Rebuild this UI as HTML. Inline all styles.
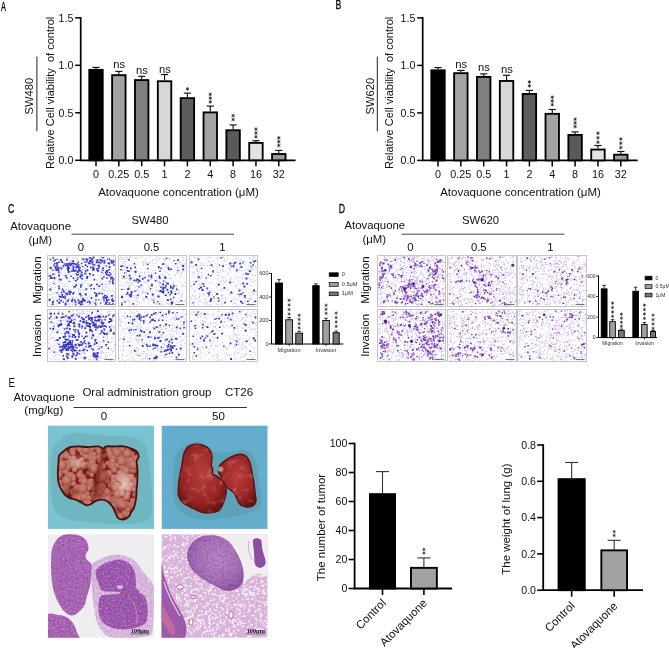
<!DOCTYPE html><html><head><meta charset="utf-8"><style>html,body{margin:0;padding:0;background:#fff;width:669px;height:648px;overflow:hidden}svg{display:block;font-family:"Liberation Sans",sans-serif;will-change:transform}</style></head><body><svg width="669" height="648" viewBox="0 0 669 648"><defs></defs><defs>
<filter id="soft" x="-5%" y="-5%" width="110%" height="110%"><feGaussianBlur stdDeviation="0.35"/></filter>
<filter id="mottle" x="0" y="0" width="1" height="1" color-interpolation-filters="sRGB">
<feTurbulence type="fractalNoise" baseFrequency="0.45" numOctaves="3" seed="11"/>
<feColorMatrix type="matrix" values="0 0 0 0 0.42 0 0 0 0 0.16 0 0 0 0 0.52 2.2 0 0 0 -0.95"/>
<feComposite in2="SourceGraphic" operator="in"/>
</filter>
<filter id="mottleL" x="0" y="0" width="1" height="1" color-interpolation-filters="sRGB">
<feTurbulence type="fractalNoise" baseFrequency="0.4" numOctaves="3" seed="17"/>
<feColorMatrix type="matrix" values="0 0 0 0 0.96 0 0 0 0 0.9 0 0 0 0 0.96 2.2 0 0 0 -1.0"/>
<feComposite in2="SourceGraphic" operator="in"/>
</filter>
<filter id="mottleP" x="0" y="0" width="1" height="1" color-interpolation-filters="sRGB">
<feTurbulence type="fractalNoise" baseFrequency="0.6" numOctaves="2" seed="23"/>
<feColorMatrix type="matrix" values="0 0 0 0 0.88 0 0 0 0 0.62 0 0 0 0 0.88 4 0 0 0 -2.3"/>
<feComposite in2="SourceGraphic" operator="in"/>
</filter>
<filter id="holes" x="0" y="0" width="1" height="1" color-interpolation-filters="sRGB">
<feTurbulence type="fractalNoise" baseFrequency="0.5" numOctaves="2" seed="31"/>
<feColorMatrix type="matrix" values="0 0 0 0 0.98 0 0 0 0 0.96 0 0 0 0 0.98 7 0 0 0 -3.6"/>
<feComposite in2="SourceGraphic" operator="in"/>
</filter>
<filter id="redtex" x="0" y="0" width="1" height="1" color-interpolation-filters="sRGB">
<feTurbulence type="fractalNoise" baseFrequency="0.15" numOctaves="2" seed="41"/>
<feColorMatrix type="matrix" values="0 0 0 0 0.88 0 0 0 0 0.5 0 0 0 0 0.47 3 0 0 0 -1.55"/>
<feComposite in2="SourceGraphic" operator="in"/>
</filter>
<filter id="blur1" x="-50%" y="-50%" width="200%" height="200%"><feGaussianBlur stdDeviation="0.7"/></filter>
<filter id="blur2" x="-60%" y="-60%" width="220%" height="220%"><feGaussianBlur stdDeviation="1.2"/></filter>
<radialGradient id="nod" cx="0.45" cy="0.4" r="0.6"><stop offset="0" stop-color="#eec2ae"/><stop offset="0.6" stop-color="#d89888"/><stop offset="1" stop-color="#b05a4c"/></radialGradient>
<radialGradient id="lg2" cx="0.5" cy="0.42" r="0.62"><stop offset="0" stop-color="#b83e3a"/><stop offset="0.7" stop-color="#952424"/><stop offset="1" stop-color="#641212"/></radialGradient>
<radialGradient id="tg" cx="0.55" cy="0.42" r="0.6"><stop offset="0" stop-color="#bc88c6"/><stop offset="0.65" stop-color="#a872b8"/><stop offset="1" stop-color="#9058a4"/></radialGradient>
<radialGradient id="glare"><stop offset="0" stop-color="#fbe2d6" stop-opacity="0.75"/><stop offset="1" stop-color="#fbe2d6" stop-opacity="0"/></radialGradient>
<clipPath id="cp1"><rect x="48" y="425.4" width="106.3" height="103.5"/></clipPath>
<clipPath id="cp2"><rect x="161.5" y="425.4" width="106.2" height="103.5"/></clipPath>
<clipPath id="cp3"><rect x="48" y="534.3" width="106" height="103.5"/></clipPath>
<clipPath id="cp4"><rect x="161.5" y="534.3" width="106.1" height="103.5"/></clipPath>

<clipPath id="cl1"><path d="M59.2 455.6C60.2 453.6 62.4 452.1 64.2 450.7C66 449.3 67.5 447.8 69.9 447.1C72.3 446.4 75.3 446.4 78.4 446.4C81.5 446.4 85.1 447.1 88.4 447.1C91.7 447.1 95.8 446.2 98.3 446.4C100.8 446.6 102 448.5 103.3 448.5C104.6 448.5 104.3 446.8 106.1 446.4C107.9 446 110.9 446.4 113.9 446.4C116.9 446.4 121.1 446 123.9 446.4C126.8 446.8 128.9 447.7 131 448.5C133.1 449.3 135.3 450.1 136.6 451.4C137.9 452.7 138.8 454.6 138.8 456.3C138.8 458 136.8 459.3 136.6 461.3C136.4 463.3 137.3 465.3 137.4 468.4C137.5 471.5 137.5 476.2 137.4 479.8C137.3 483.4 136.8 486.4 136.6 489.7C136.3 493 136.4 496.6 135.9 499.7C135.4 502.8 134.6 506.1 133.8 508.2C133 510.3 131.8 511 131 512.4C130.2 513.8 130 515.5 128.8 516.7C127.6 517.9 125.7 519.3 123.9 519.5C122.1 519.7 119.6 519.3 118.2 518.1C116.8 516.9 116.2 514.3 115.3 512.4C114.3 510.5 113.9 508.7 112.5 506.8C111.1 504.9 108.7 502.3 106.8 501.1C104.9 499.9 103 499.7 101.1 499.7C99.2 499.7 97.2 500.4 95.5 501.1C93.8 501.8 92.6 503.2 91.2 503.9C89.8 504.6 88.6 505.5 86.9 505.3C85.2 505.1 83.2 503.4 81.3 502.5C79.4 501.6 77.5 500.4 75.6 499.7C73.7 499 71.6 498.9 69.9 498.2C68.2 497.5 67 496.8 65.6 495.4C64.2 494 62.6 491.8 61.4 489.7C60.2 487.6 59.1 485.4 58.5 482.6C57.9 479.8 57.8 476 57.8 472.7C57.8 469.4 58.3 465.5 58.5 462.7C58.7 459.9 58.2 457.6 59.2 455.6Z"/></clipPath>
</defs>
<g clip-path="url(#cp1)">
<rect x="48" y="425.4" width="106.3" height="103.5" fill="#79c3d2"/>
<path d="M52 452C53.5 444.5 56.5 443.2 60 440C63.5 436.8 68 434 73 433C78 432 83.8 433.5 90 434C96.2 434.5 103.3 435.5 110 436C116.7 436.5 124.2 435.5 130 437C135.8 438.5 141.7 439.5 145 445C148.3 450.5 148.8 461.7 150 470C151.2 478.3 151.8 487.5 152 495C152.2 502.5 153 510.3 151 515C149 519.7 146 521.5 140 523C134 524.5 123.3 524.2 115 524C106.7 523.8 97.5 522.7 90 522C82.5 521.3 75.8 522 70 520C64.2 518 58.2 515.8 55 510C51.8 504.2 51.5 494.7 51 485C50.5 475.3 50.5 459.5 52 452Z" fill="#6aaeb6" opacity="0.6" filter="url(#blur1)"/>
<path d="M59.2 455.6C60.2 453.6 62.4 452.1 64.2 450.7C66 449.3 67.5 447.8 69.9 447.1C72.3 446.4 75.3 446.4 78.4 446.4C81.5 446.4 85.1 447.1 88.4 447.1C91.7 447.1 95.8 446.2 98.3 446.4C100.8 446.6 102 448.5 103.3 448.5C104.6 448.5 104.3 446.8 106.1 446.4C107.9 446 110.9 446.4 113.9 446.4C116.9 446.4 121.1 446 123.9 446.4C126.8 446.8 128.9 447.7 131 448.5C133.1 449.3 135.3 450.1 136.6 451.4C137.9 452.7 138.8 454.6 138.8 456.3C138.8 458 136.8 459.3 136.6 461.3C136.4 463.3 137.3 465.3 137.4 468.4C137.5 471.5 137.5 476.2 137.4 479.8C137.3 483.4 136.8 486.4 136.6 489.7C136.3 493 136.4 496.6 135.9 499.7C135.4 502.8 134.6 506.1 133.8 508.2C133 510.3 131.8 511 131 512.4C130.2 513.8 130 515.5 128.8 516.7C127.6 517.9 125.7 519.3 123.9 519.5C122.1 519.7 119.6 519.3 118.2 518.1C116.8 516.9 116.2 514.3 115.3 512.4C114.3 510.5 113.9 508.7 112.5 506.8C111.1 504.9 108.7 502.3 106.8 501.1C104.9 499.9 103 499.7 101.1 499.7C99.2 499.7 97.2 500.4 95.5 501.1C93.8 501.8 92.6 503.2 91.2 503.9C89.8 504.6 88.6 505.5 86.9 505.3C85.2 505.1 83.2 503.4 81.3 502.5C79.4 501.6 77.5 500.4 75.6 499.7C73.7 499 71.6 498.9 69.9 498.2C68.2 497.5 67 496.8 65.6 495.4C64.2 494 62.6 491.8 61.4 489.7C60.2 487.6 59.1 485.4 58.5 482.6C57.9 479.8 57.8 476 57.8 472.7C57.8 469.4 58.3 465.5 58.5 462.7C58.7 459.9 58.2 457.6 59.2 455.6Z" fill="#7e1c1a"/>
<g clip-path="url(#cl1)">
<g fill="url(#nod)" opacity="0.66" filter="url(#blur1)"><circle cx="54.2" cy="442.8" r="3.8"/><circle cx="59" cy="443.7" r="3.2"/><circle cx="66.6" cy="442.3" r="3"/><circle cx="70.1" cy="444.4" r="3.7"/><circle cx="74.3" cy="444.7" r="3.6"/><circle cx="77.8" cy="446.1" r="2.8"/><circle cx="86.5" cy="444.4" r="3.1"/><circle cx="87.5" cy="444.9" r="2.9"/><circle cx="95.1" cy="445.9" r="2.6"/><circle cx="98.3" cy="445.1" r="3.6"/><circle cx="105.5" cy="444.7" r="3.6"/><circle cx="108.5" cy="445.1" r="4"/><circle cx="115.1" cy="443.5" r="3.2"/><circle cx="119.3" cy="443.1" r="3.9"/><circle cx="123.5" cy="443.6" r="3.4"/><circle cx="126.6" cy="445.1" r="3.7"/><circle cx="134.7" cy="442.7" r="3.9"/><circle cx="139.6" cy="444.5" r="3.4"/><circle cx="57.3" cy="449.9" r="2.3"/><circle cx="59" cy="447.3" r="2.6"/><circle cx="64" cy="447.7" r="3.2"/><circle cx="72.4" cy="449.5" r="2.6"/><circle cx="76.1" cy="446.6" r="3.6"/><circle cx="80.4" cy="449.3" r="3.5"/><circle cx="85" cy="447.3" r="3.2"/><circle cx="89.5" cy="448.8" r="3.7"/><circle cx="92.3" cy="448.7" r="2.6"/><circle cx="98.7" cy="448.1" r="4"/><circle cx="103.3" cy="447.9" r="3.2"/><circle cx="109" cy="450.5" r="3.3"/><circle cx="115.6" cy="450.1" r="3.7"/><circle cx="119.8" cy="447.5" r="3.2"/><circle cx="122.2" cy="448.9" r="2.8"/><circle cx="128.4" cy="446.9" r="3.1"/><circle cx="133.7" cy="446.8" r="2.5"/><circle cx="137.2" cy="449.3" r="2.9"/><circle cx="57.9" cy="452.1" r="2.5"/><circle cx="60.1" cy="452" r="3.3"/><circle cx="64" cy="452.8" r="3.5"/><circle cx="72.6" cy="451.6" r="3.3"/><circle cx="73.2" cy="453.6" r="2.5"/><circle cx="81.9" cy="453.4" r="2.2"/><circle cx="84.4" cy="454.7" r="2.7"/><circle cx="89.2" cy="452.2" r="3.6"/><circle cx="93.8" cy="454.4" r="3.2"/><circle cx="99.3" cy="451.7" r="3.1"/><circle cx="104.3" cy="455.2" r="2.2"/><circle cx="110" cy="454" r="3.3"/><circle cx="115.3" cy="454" r="3.3"/><circle cx="119.1" cy="452.4" r="3.5"/><circle cx="124.5" cy="453.1" r="2.3"/><circle cx="129.6" cy="453.8" r="3.5"/><circle cx="132.2" cy="454.2" r="2.4"/><circle cx="139.3" cy="455.2" r="2.5"/><circle cx="57.7" cy="457.4" r="2.7"/><circle cx="61.5" cy="456.3" r="3.2"/><circle cx="66.6" cy="455.7" r="3.8"/><circle cx="70.1" cy="458.1" r="2.8"/><circle cx="73.9" cy="458" r="2.5"/><circle cx="81.8" cy="459.5" r="2.5"/><circle cx="86.5" cy="456.5" r="3"/><circle cx="90.6" cy="457.6" r="3.5"/><circle cx="93.8" cy="458.5" r="3.4"/><circle cx="99.3" cy="457.1" r="3.1"/><circle cx="102.6" cy="456.3" r="2.2"/><circle cx="111" cy="456.6" r="2.7"/><circle cx="114" cy="457.7" r="3.8"/><circle cx="120.1" cy="457.6" r="3.8"/><circle cx="125" cy="457.8" r="3.4"/><circle cx="126.6" cy="457.8" r="4.1"/><circle cx="130.7" cy="458.5" r="2.9"/><circle cx="136" cy="459.1" r="4.1"/><circle cx="55.5" cy="462.4" r="3.9"/><circle cx="58.9" cy="461.1" r="3.9"/><circle cx="66.3" cy="463.6" r="3.5"/><circle cx="70.6" cy="461.2" r="2.6"/><circle cx="73" cy="463.2" r="4"/><circle cx="78" cy="462" r="2.9"/><circle cx="84.5" cy="464.3" r="2.4"/><circle cx="87.6" cy="464.3" r="2.9"/><circle cx="92.2" cy="462.2" r="3.6"/><circle cx="100.5" cy="460.9" r="3"/><circle cx="101.9" cy="463.9" r="3"/><circle cx="107.6" cy="463.1" r="2.3"/><circle cx="112.7" cy="461.3" r="3.7"/><circle cx="120.2" cy="463.3" r="2.8"/><circle cx="121.5" cy="461.3" r="3.4"/><circle cx="127.1" cy="461.7" r="3.8"/><circle cx="131" cy="460.5" r="3.7"/><circle cx="137.3" cy="463" r="3.7"/><circle cx="58" cy="469" r="3"/><circle cx="59.8" cy="467.4" r="2.6"/><circle cx="67.4" cy="467" r="3.9"/><circle cx="72.1" cy="465.3" r="2.6"/><circle cx="74.3" cy="465.3" r="2.4"/><circle cx="77.9" cy="465" r="4.1"/><circle cx="84.2" cy="465.6" r="3.9"/><circle cx="90.3" cy="467.1" r="3.3"/><circle cx="94.5" cy="465.2" r="2.3"/><circle cx="100.2" cy="467.6" r="3.7"/><circle cx="103.4" cy="466" r="2.9"/><circle cx="110.3" cy="465.5" r="2.6"/><circle cx="113.2" cy="466.3" r="4.1"/><circle cx="117.2" cy="465.5" r="3.2"/><circle cx="122.5" cy="467.4" r="3.6"/><circle cx="126.9" cy="467.6" r="2.3"/><circle cx="130.8" cy="465.3" r="3.8"/><circle cx="54.6" cy="473.2" r="2.9"/><circle cx="59.8" cy="472.7" r="3.6"/><circle cx="65.6" cy="471.1" r="3.3"/><circle cx="74.7" cy="469.6" r="2.9"/><circle cx="80.8" cy="471.9" r="2.4"/><circle cx="88.2" cy="472.9" r="2.3"/><circle cx="98.2" cy="472.5" r="2.9"/><circle cx="109" cy="473.4" r="3.6"/><circle cx="114.3" cy="469.9" r="3.2"/><circle cx="120.1" cy="473.2" r="3.7"/><circle cx="124.5" cy="473.7" r="2.9"/><circle cx="126.5" cy="469.9" r="3.6"/><circle cx="133.2" cy="469.9" r="3.5"/><circle cx="139.5" cy="471.1" r="3"/><circle cx="56.9" cy="477.5" r="2.4"/><circle cx="58.8" cy="475" r="3.7"/><circle cx="67.7" cy="474.3" r="3"/><circle cx="70.4" cy="475.5" r="3.8"/><circle cx="73.6" cy="476.3" r="2.5"/><circle cx="80.1" cy="475.1" r="3.8"/><circle cx="83.4" cy="476.8" r="2.7"/><circle cx="91.8" cy="474.8" r="2.5"/><circle cx="101.3" cy="476.3" r="4.1"/><circle cx="105" cy="474.1" r="3.5"/><circle cx="106.6" cy="477.7" r="2.8"/><circle cx="113.7" cy="477.5" r="3.5"/><circle cx="118.3" cy="477.8" r="3.8"/><circle cx="123.2" cy="475.9" r="3.5"/><circle cx="127.7" cy="476.8" r="2.8"/><circle cx="131.1" cy="477.5" r="4"/><circle cx="138.5" cy="476.7" r="2.3"/><circle cx="55.9" cy="481.6" r="2.4"/><circle cx="59.2" cy="482.8" r="3.6"/><circle cx="66.3" cy="479.6" r="3.2"/><circle cx="69.4" cy="479.9" r="2.5"/><circle cx="73.3" cy="478.7" r="2.9"/><circle cx="81" cy="480.5" r="2.6"/><circle cx="84.4" cy="481.5" r="3.9"/><circle cx="91.1" cy="482.2" r="3.9"/><circle cx="99.1" cy="479.3" r="3.2"/><circle cx="101.8" cy="480.5" r="3.1"/><circle cx="107.1" cy="480.8" r="2.8"/><circle cx="113.2" cy="481.5" r="2.8"/><circle cx="119.7" cy="478.7" r="2.6"/><circle cx="123.6" cy="480.7" r="3.3"/><circle cx="127.1" cy="479.3" r="3.7"/><circle cx="137" cy="481.5" r="4.1"/><circle cx="54.4" cy="485.8" r="2.2"/><circle cx="60" cy="483.6" r="2.5"/><circle cx="67.4" cy="484" r="4.2"/><circle cx="69.6" cy="483.4" r="2.5"/><circle cx="73.9" cy="484" r="2.7"/><circle cx="78" cy="487.3" r="3.1"/><circle cx="84.9" cy="487.4" r="2.6"/><circle cx="89.6" cy="485.4" r="2.9"/><circle cx="92.6" cy="485.4" r="3.9"/><circle cx="98.8" cy="487.5" r="4.1"/><circle cx="102.3" cy="486.9" r="4.1"/><circle cx="110.8" cy="485.3" r="3.2"/><circle cx="113" cy="487.3" r="2.4"/><circle cx="116.3" cy="485.4" r="3.4"/><circle cx="124.9" cy="486.2" r="3.5"/><circle cx="128" cy="483.5" r="2.4"/><circle cx="131.5" cy="485" r="3.5"/><circle cx="136.5" cy="484.4" r="2.5"/><circle cx="57" cy="488.4" r="2.7"/><circle cx="61.3" cy="489.1" r="3.9"/><circle cx="66.2" cy="490.6" r="4.1"/><circle cx="72.3" cy="490.4" r="2.2"/><circle cx="76.3" cy="489.3" r="3.5"/><circle cx="80.6" cy="489.5" r="4.1"/><circle cx="84.2" cy="491.2" r="3"/><circle cx="88.9" cy="488.2" r="2.8"/><circle cx="95.6" cy="489.2" r="3.5"/><circle cx="100.5" cy="488" r="2.5"/><circle cx="103" cy="491.2" r="3.5"/><circle cx="106.9" cy="491.9" r="4"/><circle cx="114.5" cy="487.8" r="3.9"/><circle cx="119.5" cy="491.3" r="2.3"/><circle cx="121.5" cy="488.5" r="3.1"/><circle cx="128.7" cy="488.6" r="3.4"/><circle cx="134.8" cy="489.6" r="2.8"/><circle cx="138.3" cy="491.9" r="3.4"/><circle cx="55.1" cy="495.6" r="3.5"/><circle cx="59.9" cy="493.1" r="3.2"/><circle cx="64.1" cy="494.7" r="3.5"/><circle cx="71.9" cy="492.8" r="2.3"/><circle cx="75.5" cy="495.7" r="4.1"/><circle cx="81.4" cy="495.3" r="3.2"/><circle cx="87" cy="493.9" r="3"/><circle cx="93.9" cy="494.3" r="3.3"/><circle cx="99.7" cy="492.5" r="2.9"/><circle cx="103.6" cy="496" r="3.3"/><circle cx="109.6" cy="496.7" r="2.2"/><circle cx="111.8" cy="493.3" r="2.2"/><circle cx="116.9" cy="494.5" r="4"/><circle cx="122.1" cy="493.7" r="3"/><circle cx="127.9" cy="494.2" r="2.4"/><circle cx="134.9" cy="494.9" r="2.4"/><circle cx="137" cy="494.1" r="2.7"/><circle cx="56.8" cy="498.3" r="2.9"/><circle cx="67.1" cy="500.7" r="2.6"/><circle cx="72.1" cy="500.2" r="2.4"/><circle cx="76.3" cy="499.4" r="2.3"/><circle cx="79.6" cy="498" r="2.9"/><circle cx="84.2" cy="497.1" r="4.2"/><circle cx="88.9" cy="498.3" r="3.1"/><circle cx="96.1" cy="497.8" r="4.2"/><circle cx="101.3" cy="498.5" r="2.4"/><circle cx="102.5" cy="500.3" r="4"/><circle cx="108" cy="499.5" r="3.9"/><circle cx="113.5" cy="499.5" r="3.8"/><circle cx="120.3" cy="500.8" r="2.7"/><circle cx="124.2" cy="499.8" r="2.3"/><circle cx="126.8" cy="497.5" r="3.2"/><circle cx="133.1" cy="501" r="3.2"/><circle cx="136" cy="501.2" r="3.5"/><circle cx="57.9" cy="502" r="3.4"/><circle cx="61.9" cy="501.8" r="3.5"/><circle cx="69.7" cy="501.7" r="2.8"/><circle cx="75.7" cy="504.6" r="3.6"/><circle cx="81.1" cy="504.5" r="3.3"/><circle cx="86.9" cy="503.7" r="4.1"/><circle cx="89.1" cy="503.7" r="3.5"/><circle cx="96.3" cy="503.3" r="3.4"/><circle cx="100.7" cy="504.6" r="3.6"/><circle cx="104.4" cy="503.5" r="4"/><circle cx="107.2" cy="503" r="2.7"/><circle cx="113.7" cy="505.5" r="3.3"/><circle cx="120" cy="505.5" r="2.4"/><circle cx="123.5" cy="502.4" r="2.9"/><circle cx="126.6" cy="504.3" r="3.3"/><circle cx="131.4" cy="505.2" r="3.3"/><circle cx="138.2" cy="503" r="3.7"/><circle cx="57.9" cy="508.2" r="2.6"/><circle cx="60.3" cy="510.4" r="2.8"/><circle cx="63.5" cy="506.8" r="2.8"/><circle cx="70.8" cy="508" r="3"/><circle cx="74" cy="509.7" r="2.9"/><circle cx="81.4" cy="508.1" r="2.6"/><circle cx="83.7" cy="506.6" r="3.1"/><circle cx="89.1" cy="510.4" r="4.1"/><circle cx="97.1" cy="506.5" r="2.8"/><circle cx="101.9" cy="507.9" r="3.4"/><circle cx="109.1" cy="507.3" r="2.4"/><circle cx="114.9" cy="509.9" r="3.4"/><circle cx="116.5" cy="506.4" r="2.7"/><circle cx="121.7" cy="508.9" r="2.8"/><circle cx="128.1" cy="509.6" r="2.7"/><circle cx="134.5" cy="506.3" r="4.1"/><circle cx="139.8" cy="507.5" r="3.2"/><circle cx="56.4" cy="513.5" r="3.9"/><circle cx="61.8" cy="512.8" r="4"/><circle cx="65.4" cy="512.4" r="4"/><circle cx="71.6" cy="514.8" r="4.1"/><circle cx="74.6" cy="511.1" r="3.1"/><circle cx="81" cy="513.5" r="4.1"/><circle cx="83.7" cy="512.4" r="3.2"/><circle cx="91.5" cy="513.6" r="2.9"/><circle cx="94.7" cy="511.2" r="3.1"/><circle cx="101" cy="513.3" r="3.3"/><circle cx="104.4" cy="512.8" r="3.5"/><circle cx="109.9" cy="511.4" r="2.5"/><circle cx="115.7" cy="513.4" r="3.9"/><circle cx="117.3" cy="515.1" r="4"/><circle cx="124.6" cy="513.6" r="3.8"/><circle cx="128.8" cy="514.9" r="3.1"/><circle cx="134.8" cy="511" r="2.7"/><circle cx="137.9" cy="512.8" r="4.1"/><circle cx="55.1" cy="515.7" r="2.6"/><circle cx="58.8" cy="519.5" r="3.7"/><circle cx="66.9" cy="515.9" r="3.2"/><circle cx="69" cy="517.7" r="4"/><circle cx="73.9" cy="517.5" r="4.1"/><circle cx="81.6" cy="517.8" r="3.1"/><circle cx="83.5" cy="517.7" r="2.3"/><circle cx="91.8" cy="515.7" r="2.4"/><circle cx="96.3" cy="517.8" r="4.1"/><circle cx="101.4" cy="516.3" r="3.7"/><circle cx="105.5" cy="515.6" r="2.8"/><circle cx="110" cy="517.5" r="3"/><circle cx="112.3" cy="516.2" r="2.3"/><circle cx="120.2" cy="516" r="3.7"/><circle cx="130" cy="516" r="2.5"/><circle cx="132.8" cy="518.9" r="3.5"/><circle cx="137.4" cy="519.7" r="2.8"/><circle cx="127.4" cy="453.7" r="4.6"/><circle cx="135.6" cy="505.7" r="4.2"/><circle cx="66.6" cy="480.3" r="5"/><circle cx="121.7" cy="461.3" r="4.6"/><circle cx="94.4" cy="468.4" r="5"/><circle cx="101" cy="475.8" r="5.2"/><circle cx="82.7" cy="488.4" r="5.2"/><circle cx="85.8" cy="450.1" r="4"/><circle cx="120" cy="502.5" r="5.1"/><circle cx="61.8" cy="465.2" r="5.4"/><circle cx="102.5" cy="476.8" r="5.5"/><circle cx="133.6" cy="464.8" r="5.1"/><circle cx="122.1" cy="505.1" r="5.4"/><circle cx="117.1" cy="452.6" r="4.5"/></g>
<ellipse cx="124" cy="484" rx="12" ry="16" fill="url(#glare)"/>
<ellipse cx="100" cy="485" rx="6" ry="14" fill="#6a1010" opacity="0.35" filter="url(#blur2)"/>
<ellipse cx="70" cy="492" rx="8" ry="5" fill="#6a1010" opacity="0.35" filter="url(#blur2)"/>
<ellipse cx="118" cy="510" rx="6" ry="4" fill="#6a1010" opacity="0.35" filter="url(#blur2)"/>
<ellipse cx="86" cy="470" rx="4" ry="6" fill="#6a1010" opacity="0.35" filter="url(#blur2)"/>
<ellipse cx="78" cy="462" rx="12" ry="9" fill="url(#glare)" opacity="0.6"/>
<path d="M104 447 C103 458 100 468 97 476 C95 484 94 492 95 500" stroke="#6a1410" stroke-width="4.5" fill="none" opacity="0.6" filter="url(#blur2)"/>
<path d="M104 470 C108 480 112 488 113 500" stroke="#7a2018" stroke-width="2.5" fill="none" opacity="0.45" filter="url(#blur2)"/>
</g>
<path d="M59.2 455.6C60.2 453.6 62.4 452.1 64.2 450.7C66 449.3 67.5 447.8 69.9 447.1C72.3 446.4 75.3 446.4 78.4 446.4C81.5 446.4 85.1 447.1 88.4 447.1C91.7 447.1 95.8 446.2 98.3 446.4C100.8 446.6 102 448.5 103.3 448.5C104.6 448.5 104.3 446.8 106.1 446.4C107.9 446 110.9 446.4 113.9 446.4C116.9 446.4 121.1 446 123.9 446.4C126.8 446.8 128.9 447.7 131 448.5C133.1 449.3 135.3 450.1 136.6 451.4C137.9 452.7 138.8 454.6 138.8 456.3C138.8 458 136.8 459.3 136.6 461.3C136.4 463.3 137.3 465.3 137.4 468.4C137.5 471.5 137.5 476.2 137.4 479.8C137.3 483.4 136.8 486.4 136.6 489.7C136.3 493 136.4 496.6 135.9 499.7C135.4 502.8 134.6 506.1 133.8 508.2C133 510.3 131.8 511 131 512.4C130.2 513.8 130 515.5 128.8 516.7C127.6 517.9 125.7 519.3 123.9 519.5C122.1 519.7 119.6 519.3 118.2 518.1C116.8 516.9 116.2 514.3 115.3 512.4C114.3 510.5 113.9 508.7 112.5 506.8C111.1 504.9 108.7 502.3 106.8 501.1C104.9 499.9 103 499.7 101.1 499.7C99.2 499.7 97.2 500.4 95.5 501.1C93.8 501.8 92.6 503.2 91.2 503.9C89.8 504.6 88.6 505.5 86.9 505.3C85.2 505.1 83.2 503.4 81.3 502.5C79.4 501.6 77.5 500.4 75.6 499.7C73.7 499 71.6 498.9 69.9 498.2C68.2 497.5 67 496.8 65.6 495.4C64.2 494 62.6 491.8 61.4 489.7C60.2 487.6 59.1 485.4 58.5 482.6C57.9 479.8 57.8 476 57.8 472.7C57.8 469.4 58.3 465.5 58.5 462.7C58.7 459.9 58.2 457.6 59.2 455.6Z" fill="none" stroke="#4a0c0c" stroke-width="1.8"/>
</g>
<g clip-path="url(#cp2)">
<rect x="161.5" y="425.4" width="106.2" height="103.5" fill="#64adcc"/>
<path d="M176 455C178 450 181 447.2 185 445C189 442.8 195 440.8 200 442C205 443.2 210 450.3 215 452C220 453.7 225 452.3 230 452C235 451.7 240.8 449 245 450C249.2 451 252.7 453 255 458C257.3 463 258 472.2 259 480C260 487.8 262.5 499.5 261 505C259.5 510.5 255.2 511 250 513C244.8 515 237.5 515.8 230 517C222.5 518.2 212.5 520.3 205 520C197.5 519.7 190.2 518.3 185 515C179.8 511.7 176 506.7 174 500C172 493.3 172.7 482.5 173 475C173.3 467.5 174 460 176 455Z" fill="#5d9cac" opacity="0.65" filter="url(#blur1)"/>
<path d="M219.7 465.6C220.6 463.9 222.1 462.7 224 461.3C225.9 459.9 228.5 458.2 231.1 457C233.7 455.8 237.2 454.4 239.6 454.2C242 454 243.7 454.4 245.3 455.6C247 456.8 248.4 458.7 249.5 461.3C250.6 463.9 251 467.8 251.7 471.3C252.4 474.9 253.2 478.8 253.8 482.6C254.4 486.4 254.8 490.9 255.2 494C255.5 497.1 256.4 499.1 255.9 501.1C255.4 503.1 254.2 505.2 252.4 506.1C250.6 507.1 247.4 507.2 245.3 506.8C243.2 506.4 241 505.3 239.6 503.9C238.2 502.5 237.8 500.1 236.8 498.2C235.9 496.3 235.3 494.2 233.9 492.6C232.5 491 229.8 489.7 228.2 488.3C226.5 486.9 225.2 485.9 224 484C222.8 482.1 222 479 221.1 476.9C220.2 474.8 218.5 473.2 218.3 471.3C218.1 469.4 218.8 467.3 219.7 465.6Z" fill="url(#lg2)" stroke="#5e1214" stroke-width="1.5"/>
<path d="M219.7 465.6C220.6 463.9 222.1 462.7 224 461.3C225.9 459.9 228.5 458.2 231.1 457C233.7 455.8 237.2 454.4 239.6 454.2C242 454 243.7 454.4 245.3 455.6C247 456.8 248.4 458.7 249.5 461.3C250.6 463.9 251 467.8 251.7 471.3C252.4 474.9 253.2 478.8 253.8 482.6C254.4 486.4 254.8 490.9 255.2 494C255.5 497.1 256.4 499.1 255.9 501.1C255.4 503.1 254.2 505.2 252.4 506.1C250.6 507.1 247.4 507.2 245.3 506.8C243.2 506.4 241 505.3 239.6 503.9C238.2 502.5 237.8 500.1 236.8 498.2C235.9 496.3 235.3 494.2 233.9 492.6C232.5 491 229.8 489.7 228.2 488.3C226.5 486.9 225.2 485.9 224 484C222.8 482.1 222 479 221.1 476.9C220.2 474.8 218.5 473.2 218.3 471.3C218.1 469.4 218.8 467.3 219.7 465.6Z" fill="#fff" filter="url(#redtex)" opacity="0.5"/>
<path d="M188.5 446.4C190.4 445 193 444.4 195.6 444.3C198.2 444.2 201.7 444.8 204.1 445.7C206.5 446.6 208.5 448 209.8 449.9C211.1 451.8 211.7 454.4 211.9 457C212.1 459.6 211.1 463.7 211.2 465.6C211.3 467.5 212.4 467 212.6 468.4C212.8 469.8 212.1 472.9 212.6 474.1C213.1 475.3 214.1 474.6 215.5 475.5C216.9 476.4 219.4 478.1 221.1 479.8C222.8 481.5 224.6 483.4 225.4 485.5C226.2 487.6 226.3 490 226.1 492.6C225.9 495.2 225.1 498.3 224 501.1C222.9 503.9 221.6 507.7 219.7 509.6C217.8 511.5 215.4 511.9 212.6 512.4C209.8 512.9 206 513.1 202.7 512.4C199.4 511.7 196 509.8 192.7 508.2C189.4 506.6 185.2 504.6 182.8 502.5C180.4 500.4 179.2 498.2 178.5 495.4C177.8 492.6 178.3 488.8 178.5 485.5C178.7 482.2 179.3 479.1 179.9 475.5C180.5 471.9 181.4 467.9 182.1 464.1C182.8 460.3 183.1 455.8 184.2 452.8C185.3 449.9 186.6 447.8 188.5 446.4Z" fill="url(#lg2)" stroke="#5e1214" stroke-width="1.5"/>
<path d="M188.5 446.4C190.4 445 193 444.4 195.6 444.3C198.2 444.2 201.7 444.8 204.1 445.7C206.5 446.6 208.5 448 209.8 449.9C211.1 451.8 211.7 454.4 211.9 457C212.1 459.6 211.1 463.7 211.2 465.6C211.3 467.5 212.4 467 212.6 468.4C212.8 469.8 212.1 472.9 212.6 474.1C213.1 475.3 214.1 474.6 215.5 475.5C216.9 476.4 219.4 478.1 221.1 479.8C222.8 481.5 224.6 483.4 225.4 485.5C226.2 487.6 226.3 490 226.1 492.6C225.9 495.2 225.1 498.3 224 501.1C222.9 503.9 221.6 507.7 219.7 509.6C217.8 511.5 215.4 511.9 212.6 512.4C209.8 512.9 206 513.1 202.7 512.4C199.4 511.7 196 509.8 192.7 508.2C189.4 506.6 185.2 504.6 182.8 502.5C180.4 500.4 179.2 498.2 178.5 495.4C177.8 492.6 178.3 488.8 178.5 485.5C178.7 482.2 179.3 479.1 179.9 475.5C180.5 471.9 181.4 467.9 182.1 464.1C182.8 460.3 183.1 455.8 184.2 452.8C185.3 449.9 186.6 447.8 188.5 446.4Z" fill="#fff" filter="url(#redtex)" opacity="0.5"/>
<ellipse cx="220.5" cy="469" rx="3" ry="2.6" fill="#b89088"/>
</g>
<g clip-path="url(#cp3)">
<rect x="48" y="534.3" width="106" height="103.5" fill="#eeedef"/>
<path d="M52 549.5C53 545.1 55 542 56.9 539.6C58.8 537.2 60.8 535.9 63.5 535C66.2 534.1 70.2 533.9 73.4 534.3C76.6 534.6 80.2 535.7 82.5 537.1C84.8 538.5 86.5 540.8 87.5 542.9C88.5 545 88.6 547.6 88.3 549.5C88 551.4 86.1 552.9 85.8 554.5C85.5 556.1 85.6 557.8 86.6 559.4C87.6 561 90.8 561.9 91.6 564.4C92.4 566.9 91.9 570.7 91.6 574.3C91.3 577.9 90.7 581.9 89.9 585.8C89.1 589.6 87.5 594.1 86.6 597.4C85.6 600.7 85.6 603.2 84.2 605.7C82.8 608.2 80.5 610.6 78.4 612.3C76.3 613.9 74 615.6 71.8 615.6C69.6 615.6 67.1 613.9 65.2 612.3C63.3 610.6 61.9 608.5 60.2 605.7C58.6 602.9 56.7 599.6 55.3 595.7C53.9 591.8 52.7 587.5 52 582.5C51.3 577.5 51.1 571.5 51.1 566C51.1 560.5 51 553.9 52 549.5Z" fill="#aa68b4"/>
<path d="M47 615.6C48.6 611.4 53.6 614.4 56.9 614.7C60.2 615 64 615.7 66.8 617.2C69.5 618.7 71.8 621.3 73.4 623.8C75.1 626.3 76 629.4 76.7 632.1C77.4 634.8 82.5 638.7 77.5 640C72.5 641.3 52.1 644.1 47 640C41.9 635.9 45.4 619.8 47 615.6Z" fill="#aa68b4"/>
<path d="M91.6 566C92.4 562.4 94.3 562.6 96.5 561.1C98.7 559.6 101.5 558 104.8 556.9C108.1 555.8 112.6 554.5 116.4 554.5C120.2 554.5 124.6 555.7 127.9 556.9C131.2 558.1 133.7 559.5 136.2 561.9C138.7 564.2 140.6 568.1 142.8 571C145 573.9 147.6 576.7 149.4 579.2C151.2 581.7 152.7 582.5 153.5 585.8C154.3 589.1 154.3 594 154.3 599C154.3 604 153.8 610.9 153.5 615.6C153.2 620.3 153.4 623.8 152.7 627.1C152 630.4 153.8 633.5 149.4 635.4C145 637.3 132.9 638.4 126.3 638.7C119.7 639 113.8 638.4 109.7 637C105.6 635.6 103.7 633.1 101.5 630.4C99.3 627.6 97.7 624.1 96.5 620.5C95.3 616.9 94.8 613.1 94.1 609C93.4 604.9 92.8 600.1 92.4 595.7C92 591.3 91.7 587.5 91.6 582.5C91.5 577.5 90.8 569.6 91.6 566Z" fill="#d2b0d8"/>
<path d="M91.6 566C92.4 562.4 94.3 562.6 96.5 561.1C98.7 559.6 101.5 558 104.8 556.9C108.1 555.8 112.6 554.5 116.4 554.5C120.2 554.5 124.6 555.7 127.9 556.9C131.2 558.1 133.7 559.5 136.2 561.9C138.7 564.2 140.6 568.1 142.8 571C145 573.9 147.6 576.7 149.4 579.2C151.2 581.7 152.7 582.5 153.5 585.8C154.3 589.1 154.3 594 154.3 599C154.3 604 153.8 610.9 153.5 615.6C153.2 620.3 153.4 623.8 152.7 627.1C152 630.4 153.8 633.5 149.4 635.4C145 637.3 132.9 638.4 126.3 638.7C119.7 639 113.8 638.4 109.7 637C105.6 635.6 103.7 633.1 101.5 630.4C99.3 627.6 97.7 624.1 96.5 620.5C95.3 616.9 94.8 613.1 94.1 609C93.4 604.9 92.8 600.1 92.4 595.7C92 591.3 91.7 587.5 91.6 582.5C91.5 577.5 90.8 569.6 91.6 566Z" fill="#fff" filter="url(#mottleL)" opacity="0.8"/>
<path d="M96.5 569.3C98 567.2 101.2 565.1 104.8 563.5C108.4 561.9 114.2 559.6 118 559.4C121.8 559.2 125.2 560.7 127.9 562.5C130.6 564.3 132.7 566.8 134 570C135.3 573.2 136 578.7 136 582C136 585.3 136 588.3 134 590C132 591.7 127.7 591.8 124 592C120.3 592.2 115.7 591.8 112 591.5C108.3 591.2 104.2 591.9 102 590.5C99.8 589.1 99.5 585.4 98.5 583C97.5 580.6 96.3 578.2 96 575.9C95.7 573.6 95 571.4 96.5 569.3Z" fill="#9e5aae"/>
<path d="M100.5 596.5C102.4 594.4 106.8 595 110 594.5C113.2 594 117.3 594.4 120 593.5C122.7 592.6 122.3 588.9 126 589C129.7 589.1 138.6 592 142 594C145.4 596 145.6 598.2 146.5 601C147.4 603.8 147.8 607.1 147.7 610.6C147.6 614.1 148 619.4 146.1 622.2C144.2 625 140.3 626.3 136.2 627.5C132.1 628.7 126 629.5 121.3 629.3C116.6 629 111.6 627.7 108.1 626C104.6 624.3 102.1 622.2 100.5 619C98.9 615.8 98.5 610.8 98.5 607C98.5 603.2 98.6 598.6 100.5 596.5Z" fill="#9e5aae"/>
<path d="M120 590 L134 586 L140 592 L132 598 L120 596Z" fill="#9e5aae"/>
<path d="M52 549.5C53 545.1 55 542 56.9 539.6C58.8 537.2 60.8 535.9 63.5 535C66.2 534.1 70.2 533.9 73.4 534.3C76.6 534.6 80.2 535.7 82.5 537.1C84.8 538.5 86.5 540.8 87.5 542.9C88.5 545 88.6 547.6 88.3 549.5C88 551.4 86.1 552.9 85.8 554.5C85.5 556.1 85.6 557.8 86.6 559.4C87.6 561 90.8 561.9 91.6 564.4C92.4 566.9 91.9 570.7 91.6 574.3C91.3 577.9 90.7 581.9 89.9 585.8C89.1 589.6 87.5 594.1 86.6 597.4C85.6 600.7 85.6 603.2 84.2 605.7C82.8 608.2 80.5 610.6 78.4 612.3C76.3 613.9 74 615.6 71.8 615.6C69.6 615.6 67.1 613.9 65.2 612.3C63.3 610.6 61.9 608.5 60.2 605.7C58.6 602.9 56.7 599.6 55.3 595.7C53.9 591.8 52.7 587.5 52 582.5C51.3 577.5 51.1 571.5 51.1 566C51.1 560.5 51 553.9 52 549.5Z" fill="#fff" filter="url(#mottle)" opacity="0.5"/>
<path d="M52 549.5C53 545.1 55 542 56.9 539.6C58.8 537.2 60.8 535.9 63.5 535C66.2 534.1 70.2 533.9 73.4 534.3C76.6 534.6 80.2 535.7 82.5 537.1C84.8 538.5 86.5 540.8 87.5 542.9C88.5 545 88.6 547.6 88.3 549.5C88 551.4 86.1 552.9 85.8 554.5C85.5 556.1 85.6 557.8 86.6 559.4C87.6 561 90.8 561.9 91.6 564.4C92.4 566.9 91.9 570.7 91.6 574.3C91.3 577.9 90.7 581.9 89.9 585.8C89.1 589.6 87.5 594.1 86.6 597.4C85.6 600.7 85.6 603.2 84.2 605.7C82.8 608.2 80.5 610.6 78.4 612.3C76.3 613.9 74 615.6 71.8 615.6C69.6 615.6 67.1 613.9 65.2 612.3C63.3 610.6 61.9 608.5 60.2 605.7C58.6 602.9 56.7 599.6 55.3 595.7C53.9 591.8 52.7 587.5 52 582.5C51.3 577.5 51.1 571.5 51.1 566C51.1 560.5 51 553.9 52 549.5Z" fill="#fff" filter="url(#mottleP)" opacity="0.7"/>
<path d="M47 615.6C48.6 611.4 53.6 614.4 56.9 614.7C60.2 615 64 615.7 66.8 617.2C69.5 618.7 71.8 621.3 73.4 623.8C75.1 626.3 76 629.4 76.7 632.1C77.4 634.8 82.5 638.7 77.5 640C72.5 641.3 52.1 644.1 47 640C41.9 635.9 45.4 619.8 47 615.6Z" fill="#fff" filter="url(#mottle)" opacity="0.5"/>
<path d="M47 615.6C48.6 611.4 53.6 614.4 56.9 614.7C60.2 615 64 615.7 66.8 617.2C69.5 618.7 71.8 621.3 73.4 623.8C75.1 626.3 76 629.4 76.7 632.1C77.4 634.8 82.5 638.7 77.5 640C72.5 641.3 52.1 644.1 47 640C41.9 635.9 45.4 619.8 47 615.6Z" fill="#fff" filter="url(#mottleP)" opacity="0.7"/>
<path d="M96.5 569.3C98 567.2 101.2 565.1 104.8 563.5C108.4 561.9 114.2 559.6 118 559.4C121.8 559.2 125.2 560.7 127.9 562.5C130.6 564.3 132.7 566.8 134 570C135.3 573.2 136 578.7 136 582C136 585.3 136 588.3 134 590C132 591.7 127.7 591.8 124 592C120.3 592.2 115.7 591.8 112 591.5C108.3 591.2 104.2 591.9 102 590.5C99.8 589.1 99.5 585.4 98.5 583C97.5 580.6 96.3 578.2 96 575.9C95.7 573.6 95 571.4 96.5 569.3Z" fill="#fff" filter="url(#mottle)" opacity="0.5"/>
<path d="M96.5 569.3C98 567.2 101.2 565.1 104.8 563.5C108.4 561.9 114.2 559.6 118 559.4C121.8 559.2 125.2 560.7 127.9 562.5C130.6 564.3 132.7 566.8 134 570C135.3 573.2 136 578.7 136 582C136 585.3 136 588.3 134 590C132 591.7 127.7 591.8 124 592C120.3 592.2 115.7 591.8 112 591.5C108.3 591.2 104.2 591.9 102 590.5C99.8 589.1 99.5 585.4 98.5 583C97.5 580.6 96.3 578.2 96 575.9C95.7 573.6 95 571.4 96.5 569.3Z" fill="#fff" filter="url(#mottleP)" opacity="0.7"/>
<path d="M100.5 596.5C102.4 594.4 106.8 595 110 594.5C113.2 594 117.3 594.4 120 593.5C122.7 592.6 122.3 588.9 126 589C129.7 589.1 138.6 592 142 594C145.4 596 145.6 598.2 146.5 601C147.4 603.8 147.8 607.1 147.7 610.6C147.6 614.1 148 619.4 146.1 622.2C144.2 625 140.3 626.3 136.2 627.5C132.1 628.7 126 629.5 121.3 629.3C116.6 629 111.6 627.7 108.1 626C104.6 624.3 102.1 622.2 100.5 619C98.9 615.8 98.5 610.8 98.5 607C98.5 603.2 98.6 598.6 100.5 596.5Z" fill="#fff" filter="url(#mottle)" opacity="0.5"/>
<path d="M100.5 596.5C102.4 594.4 106.8 595 110 594.5C113.2 594 117.3 594.4 120 593.5C122.7 592.6 122.3 588.9 126 589C129.7 589.1 138.6 592 142 594C145.4 596 145.6 598.2 146.5 601C147.4 603.8 147.8 607.1 147.7 610.6C147.6 614.1 148 619.4 146.1 622.2C144.2 625 140.3 626.3 136.2 627.5C132.1 628.7 126 629.5 121.3 629.3C116.6 629 111.6 627.7 108.1 626C104.6 624.3 102.1 622.2 100.5 619C98.9 615.8 98.5 610.8 98.5 607C98.5 603.2 98.6 598.6 100.5 596.5Z" fill="#fff" filter="url(#mottleP)" opacity="0.7"/>
<path d="M128 596 C134 600 138 610 137 624" stroke="#d890b8" stroke-width="0.9" fill="none" opacity="0.8"/>
<ellipse cx="120" cy="587" rx="3" ry="2" fill="#d8b8dc"/>
<rect x="130.5" y="633.6" width="19" height="0.7" fill="#444"/>
<text x="140" y="633.2" font-size="6.3" text-anchor="middle" fill="#1a1024" font-weight="bold" font-family="Liberation Serif" textLength="18.2" lengthAdjust="spacingAndGlyphs">100μm</text>
</g>
<g clip-path="url(#cp4)">
<rect x="161.5" y="534.3" width="106.1" height="103.5" fill="#d8b0d8"/>
<path d="M253.8 564h1.7v1.8h-1.7zM237.5 629h2v1.9h-2zM164.3 579.6h1.5v1h-1.5zM162.1 620.3h2.2v1.8h-2.2zM195 607.3h1.3v1.7h-1.3zM191.2 615.3h2.2v2h-2.2zM255.2 628.8h1.8v1.5h-1.8zM259.5 543.6h1.4v1.6h-1.4zM212.2 616.4h1.2v1h-1.2zM174.9 633.9h1.1v1.1h-1.1zM201.5 598.8h1.9v1h-1.9zM260.3 613.2h1.3v1.1h-1.3zM224.7 595.9h1.2v1.1h-1.2zM242.8 603.9h1.9v1.1h-1.9zM238.2 542h0.9v1.1h-0.9zM244.5 590.2h1.7v1.6h-1.7zM229 567.7h1.8v0.9h-1.8zM201.5 540h1.1v1.9h-1.1zM225.4 616.2h1.7v1.5h-1.7zM245.8 598.8h1.6v1.5h-1.6zM221.9 569.7h1.8v1.3h-1.8zM230.9 584.5h1.9v1.7h-1.9zM165.7 615.3h2.1v1.3h-2.1zM239.3 621.8h1.5v1h-1.5zM239.1 621.1h1.3v1.1h-1.3zM242.8 587.7h0.9v1.1h-0.9zM184.6 594.5h1.6v1.5h-1.6zM197.7 574.9h1.6v1.5h-1.6zM221.5 608.3h2.2v1.7h-2.2zM213.5 635.4h1.1v1.9h-1.1zM214.6 584.3h2v1.6h-2zM248.7 572.5h1.6v1.6h-1.6zM186.6 613.4h1.1v1h-1.1zM190.1 618.1h1.5v0.9h-1.5zM182.5 592.6h1v1.2h-1zM183.9 605.7h1.1v1.3h-1.1zM209.2 627.6h1.4v1h-1.4zM206.2 572.7h1.6v1h-1.6zM206.3 602h1.4v1.9h-1.4zM200.1 624.6h1.3v1.3h-1.3zM236.3 590.1h2.1v1.9h-2.1zM191.7 567.7h1.7v1.8h-1.7zM173.4 628.1h1.4v1.1h-1.4zM189.6 616.9h1.2v1h-1.2zM224.9 628.8h1.3v1.5h-1.3zM202.8 631.8h2v1.4h-2zM265.4 557.4h1.4v1.5h-1.4zM243.2 607.2h1.4v1.9h-1.4zM265.7 622.4h1.5v1.8h-1.5zM189.8 552.2h1v1.8h-1zM265.1 565.1h1.8v1.2h-1.8zM243.4 551.7h1.6v1.8h-1.6zM264.4 604h1.8v1.3h-1.8zM179.5 617.8h1v1.7h-1zM194.4 539.7h1.1v1.5h-1.1zM195.1 547.9h1.3v1.8h-1.3zM238.6 582.4h1.4v2h-1.4zM215.7 604.1h2v1.5h-2zM227.8 580.4h2v1.7h-2zM209.1 620.2h1.2v1.3h-1.2zM232.8 547.6h2.1v0.9h-2.1zM260.2 564.2h2.1v1.2h-2.1zM244.4 589.5h1.5v1.5h-1.5zM267.1 627.4h1.3v1.2h-1.3zM260.6 546.9h1v1.6h-1zM181.5 535.1h1.7v1h-1.7zM186.2 610.2h2.1v1.4h-2.1zM211.4 540.1h1.6v1.1h-1.6zM218.8 545.2h1.3v1.9h-1.3zM197 617.5h1.8v1h-1.8zM210 588.2h1.5v1.1h-1.5zM193.7 611.7h1.7v1.4h-1.7zM209.7 581.2h1.5v1.5h-1.5zM257.2 536.2h1.7v1h-1.7zM170.9 633.1h1.7v1.5h-1.7zM246.4 588.4h2v1.9h-2zM265.7 540.5h1.4v1.1h-1.4zM236 598.7h1.4v1.1h-1.4zM215.8 545.9h1.9v1.4h-1.9zM171.1 613h1.2v1.5h-1.2zM237.1 573.7h1.2v1.5h-1.2zM239.7 623.7h1.2v1.4h-1.2zM237.2 544.9h0.9v1.9h-0.9zM200 622.3h2v1.7h-2zM265.4 556.2h1.5v1.1h-1.5zM180.4 563h1.3v1.1h-1.3zM218 626.1h1.6v1.1h-1.6zM176.6 612.6h1.3v1h-1.3zM250.3 633.2h1.7v1h-1.7zM186.8 606.8h1.9v1h-1.9zM264.6 547.4h2.2v1.6h-2.2zM211.4 618h1.9v1h-1.9zM180.7 631.5h2.1v1.8h-2.1zM161.6 590.5h1.3v1.5h-1.3zM173.4 612.9h1v1.2h-1zM185.9 626.1h1.3v1.2h-1.3zM196.1 578.2h1.6v1.6h-1.6zM202.2 606.3h1.8v1.4h-1.8zM186.5 617.2h1.5v1.4h-1.5zM208.5 622.4h1.9v1.9h-1.9zM171.1 564.3h1.4v1.2h-1.4zM253.1 538.6h1.1v1.9h-1.1zM172.6 636.2h1.5v1.9h-1.5zM237.8 600.6h1.3v1.7h-1.3zM186.8 539h1.3v1.4h-1.3zM168 580.1h1.6v1.7h-1.6zM227.1 538.2h1.9v0.9h-1.9zM213.7 540.9h1.5v1.1h-1.5zM254.2 627.3h1.2v1h-1.2zM224.4 597.4h1.8v1.2h-1.8zM253.1 541.9h1.3v1.9h-1.3zM181.8 558.3h1.8v1.2h-1.8zM239.6 540.4h1.3v1.8h-1.3zM229.3 589.6h1.9v1h-1.9zM183.3 558.5h1.1v1.2h-1.1zM234.8 572.5h2v1.1h-2zM208.3 616.3h1.4v1.6h-1.4zM235.1 615.1h1v1.8h-1zM187.1 539.6h1.1v1.7h-1.1zM179.8 604.7h1.7v1.2h-1.7zM264.2 545.7h1.9v1.4h-1.9zM220.1 618.5h1.5v1.8h-1.5zM174.3 572.6h2v1.1h-2zM252.4 605.1h1.4v1.7h-1.4zM200.7 567.2h1.7v1.4h-1.7zM183.1 571.7h1.5v1.2h-1.5zM188.1 562.6h2v0.9h-2zM226.9 574.9h2v1.1h-2zM173.9 627.2h1.8v1.6h-1.8zM227.7 602.9h1.2v1.7h-1.2zM170.9 568.7h1.4v1.3h-1.4zM164.9 535.8h1.7v1.7h-1.7zM216.2 581h1.2v1.3h-1.2zM237.8 623.8h1.4v1.7h-1.4zM162.5 558.8h1.5v1.7h-1.5zM250.9 567.9h1v1.8h-1zM238.6 608.5h1.1v1.9h-1.1zM244.4 604.7h1.4v1.3h-1.4zM238 593.3h0.9v1.9h-0.9zM210.5 561.9h2v0.9h-2zM234.2 559.3h1.3v1.7h-1.3zM209.3 630.5h1.9v1.8h-1.9zM257.1 588.5h1.8v1.4h-1.8zM213.3 564.9h0.9v1.3h-0.9zM264.1 592.6h2v1.8h-2zM233.8 553.6h1.2v1.8h-1.2zM255.1 636.9h1.4v1h-1.4zM260.3 597h1.5v1.1h-1.5zM176.9 556.6h1.9v1.7h-1.9zM211.7 627.7h2.1v1h-2.1zM249.3 575.7h1.9v1.6h-1.9zM165.6 555.5h2.1v1h-2.1zM221.2 600.5h2.1v1.2h-2.1zM228.9 556.6h1.4v1.8h-1.4zM188.7 615.9h2v1.4h-2zM203.8 625.5h1.4v2h-1.4zM184.5 588.4h1.6v1.3h-1.6zM180.9 568.1h1.2v1.2h-1.2zM167.1 597.1h1.3v1.9h-1.3zM190.6 559.9h1.5v0.9h-1.5zM197.7 550.8h1v1h-1zM193.1 542.2h1.3v1.8h-1.3zM181.4 548.9h1.4v1.5h-1.4zM248.6 585.9h2.1v1h-2.1zM165.2 624.5h1.7v1.2h-1.7zM244.6 539h1.4v1.4h-1.4zM179.8 585.2h1.4v1.7h-1.4zM215.1 616.7h1.1v0.9h-1.1zM195.8 593.1h1.4v1h-1.4zM182.6 543.3h2.2v1.4h-2.2zM232.2 607.3h0.9v1h-0.9zM230.6 574h1.2v1.2h-1.2zM168.5 566.6h1.2v1.3h-1.2zM185.6 602.4h1.8v1.3h-1.8zM210.9 582.2h1.7v1.4h-1.7zM198.6 619.2h2v1.5h-2zM243.1 615.2h2v1.7h-2zM193.5 576.5h2v1.6h-2zM239.4 612.5h1.7v1.3h-1.7zM241.3 622.6h1.8v1.4h-1.8zM189.9 551.4h1.8v1.3h-1.8zM203.1 623.3h1.4v1.4h-1.4zM208.6 614.9h2v1.5h-2zM227.5 611.8h1.3v1.4h-1.3zM243.1 539.1h0.9v1.2h-0.9zM202.2 547.5h1v1.2h-1zM231 553.4h1.4v1.6h-1.4zM217.9 565.6h1.9v1.8h-1.9zM182.3 629.9h1.9v1.2h-1.9zM228 561h1.1v1.6h-1.1zM189.5 620.1h1.4v2h-1.4zM204.3 566.1h1.5v1.9h-1.5zM182.1 579.6h1.5v1.5h-1.5zM233.3 604.3h1.5v1.4h-1.5zM258.2 608.2h1.8v1h-1.8zM213.2 622.6h1.6v1.4h-1.6zM230.7 551.3h1.4v1.2h-1.4zM254.7 629.1h2.1v1.2h-2.1zM258.4 545.4h1v1.1h-1zM213.7 576.7h1.2v1.9h-1.2zM182.9 630.6h1.2v1.5h-1.2zM267.6 549.3h1.2v1.4h-1.2zM194 598.7h1.6v1.7h-1.6zM262.8 624.7h2.1v1.6h-2.1zM169.3 553.6h2v1h-2zM187.4 594.6h1.1v2h-1.1zM162.1 595.8h2.2v0.9h-2.2zM187.6 551h1.1v1.9h-1.1zM242.9 578.8h1.9v1.1h-1.9zM263.4 589.5h1.4v1.6h-1.4zM241.6 598.6h1.8v1.9h-1.8zM225.6 630.1h1.6v1.8h-1.6zM221 594.9h1.3v1.8h-1.3zM216.6 585.6h1.6v1.9h-1.6zM217.1 616.8h1.5v1.1h-1.5zM226.9 613.2h2.2v0.9h-2.2zM264.5 571.6h1v1.5h-1zM219 566.8h2v1.3h-2zM214.4 547.4h2.1v1.7h-2.1zM184.8 633.5h1.6v1.2h-1.6zM184.6 630h1.2v1.9h-1.2zM256.6 570.8h1.6v1.7h-1.6zM222.1 633.3h1.2v1.1h-1.2zM190 598.9h1.6v1.9h-1.6zM266.8 625.5h1.9v1h-1.9zM208.9 575h1.6v1.6h-1.6zM164.6 580.6h1v1.6h-1zM203 621.3h1.9v1h-1.9zM165.8 613.6h1.8v1.9h-1.8zM176.9 609.7h1.7v1.6h-1.7zM185.9 558.6h1.6v1.4h-1.6zM259 559.1h1.1v1.2h-1.1zM201 610.5h1.9v1.4h-1.9zM201.5 588.1h1.7v1.4h-1.7zM254.2 572h1.2v1.6h-1.2zM232 583.2h1v1.1h-1zM204.4 596.7h2.1v1.1h-2.1zM174.2 536.2h1.7v1.2h-1.7zM259.3 547.5h1.2v1.3h-1.2zM244.6 545.3h1.8v1.5h-1.8zM228.8 618.9h1.3v1.9h-1.3zM247.6 635h2v1.9h-2zM231.9 583.2h2.1v1.8h-2.1zM211.7 586.3h1.2v2h-1.2zM190.6 565.8h1.2v1.8h-1.2zM179 616.6h1.7v1.7h-1.7zM185.7 561.3h2v1.3h-2zM197.1 620.4h1.9v1.2h-1.9zM227.2 587.2h1.2v1h-1.2zM233 619h1.3v1h-1.3zM258.4 540.9h1.1v1.1h-1.1zM261.7 536.7h1.5v1.5h-1.5zM213.9 557.9h1.5v1.6h-1.5zM230.5 607.2h1.7v1.1h-1.7zM164.7 546.1h1.8v1.6h-1.8zM210 571.8h1.2v1.3h-1.2zM243.4 585.1h1.2v2h-1.2zM186.7 562.7h1.7v1.2h-1.7zM260.5 609.4h1.2v1.4h-1.2zM247.4 637.5h1v1.8h-1zM204.1 545.1h2v1.3h-2zM227.2 611.1h1.3v1.2h-1.3zM264.4 611.6h0.9v1.8h-0.9zM255.5 632.1h1.6v1.3h-1.6zM192.2 620.8h1.3v1.3h-1.3zM237.3 622.4h1.7v1.2h-1.7zM182.8 566.6h0.9v1.2h-0.9zM242.8 575h1v1.3h-1zM225.1 618.7h1.5v1.3h-1.5zM235.7 611.4h1v1h-1zM245.5 631.1h2.2v1.1h-2.2zM185.7 566.2h1v1h-1zM248.8 576.6h1.5v1.9h-1.5zM223.5 563.6h1.4v1.8h-1.4zM235.5 548.7h1.8v1.2h-1.8zM167.5 611.9h1.3v1.2h-1.3zM201.5 542.6h1.4v1.2h-1.4zM217.6 574.4h1.1v1.8h-1.1zM233.7 618.9h1.2v1.9h-1.2zM249.4 586.5h1.5v1.1h-1.5zM163.6 600.7h1.7v1.8h-1.7zM172.6 555h2v1.8h-2zM203 579.8h1.8v1.1h-1.8zM233.3 619.1h1.6v1.6h-1.6zM176.2 568.4h1v1h-1zM264.1 537.3h1v1.9h-1zM208.8 589h1.8v1.9h-1.8zM214.7 637h2v0.9h-2zM223.8 597.8h1.7v1.5h-1.7zM260 615.8h1.8v1.8h-1.8zM176.2 564h1.2v1.1h-1.2zM195.6 625.9h1.6v1.7h-1.6zM162.9 635.3h1v1.8h-1zM168 582.4h1.5v1h-1.5zM200 594.6h2.2v1.5h-2.2zM224.5 602.4h1.1v1.6h-1.1zM206.3 545.1h1.4v1.7h-1.4zM181.1 592.4h1.3v1.9h-1.3zM186.1 610.2h2.1v1.2h-2.1zM245 553.9h1.6v1.2h-1.6zM176.2 632.6h1.4v1.7h-1.4zM252.3 591.8h2v1.9h-2zM235.5 620.5h1.4v1.6h-1.4zM262.6 574.2h1.2v1.7h-1.2zM163.7 615.5h1v1.5h-1zM168.4 602.1h1.2v1.6h-1.2zM255.4 599.2h1v1.7h-1zM242 575.3h1.1v1.7h-1.1zM208.9 586.5h2v1.4h-2zM194.1 628.5h1.7v1.9h-1.7zM228.9 627.3h1.4v1.4h-1.4zM185.9 577.5h0.9v1.6h-0.9zM189.3 625.5h1.5v1.5h-1.5zM171.8 633.6h1.5v1.8h-1.5zM215.3 554.7h1.3v1.4h-1.3zM222.8 549.1h1.3v1.6h-1.3zM173 557.4h1.1v1.9h-1.1zM249.3 593.5h1.7v1.8h-1.7zM241.9 592.7h1.8v1.9h-1.8zM167.1 545h1v1.2h-1zM196.3 541.3h1.4v1h-1.4zM207.7 567.6h1.7v1.5h-1.7zM221.9 556h1.8v1h-1.8zM200.4 556h1.8v2h-1.8zM258.4 605h2v1.8h-2zM252.7 553.2h2v1.4h-2zM226.7 589.3h1.9v1.2h-1.9zM208.9 561h1v1.6h-1zM204.2 626.6h2.2v1.8h-2.2zM216.4 541.1h2.1v1.2h-2.1zM202.4 574.3h2.2v1.8h-2.2zM199.3 586.7h1.5v1h-1.5zM162.5 600.4h1.4v1.5h-1.4zM255.2 538.1h0.9v1.6h-0.9zM240.5 622.2h1.7v1.4h-1.7zM206.2 604.4h1.4v1.7h-1.4zM195.3 575.9h1.1v1.3h-1.1zM198 589.8h1.2v1.8h-1.2zM220.1 623h1.3v1.2h-1.3zM261.3 570.6h1.9v1.3h-1.9zM176.9 574.3h1.8v1.5h-1.8zM257.9 575.2h1.8v1.9h-1.8zM209.2 614.4h1.5v1.4h-1.5zM184.5 611.5h1.8v1h-1.8zM256.3 620.3h2v1h-2zM215.1 632.2h1.4v1.4h-1.4zM177.4 545.7h1.9v1.2h-1.9zM207.1 589.8h1.4v1.2h-1.4zM163.3 546.5h1.5v1.4h-1.5zM195.5 537.8h2.2v1.6h-2.2zM196 605.8h1.9v1.7h-1.9zM211.4 593.6h1.4v1.4h-1.4zM181.3 617.5h1v1.6h-1zM230.5 566.3h1.5v1.5h-1.5zM181.5 544.2h2.1v1.9h-2.1zM182.1 541.8h1v1.1h-1zM192.1 535.3h1.4v1.1h-1.4zM263.7 575h1.7v1.5h-1.7zM214.6 610h2.2v1.6h-2.2zM183.4 589.1h1.3v1.4h-1.3zM203.2 589.4h1v1.3h-1zM187.3 594h1v1h-1zM192 613.9h2.1v1.3h-2.1zM229.1 556.6h1.9v1.2h-1.9zM237.4 618.4h1.4v1.7h-1.4zM191.2 628.2h1.3v1.1h-1.3zM185.3 577h1.5v1.3h-1.5zM265.3 555.8h1.8v2h-1.8zM235.3 636.3h2v1.8h-2zM254.7 585.3h1.2v1.8h-1.2zM251.3 598h1.9v2h-1.9zM243.3 612.2h1.3v1.2h-1.3zM199 614.4h1.5v1.7h-1.5zM242.7 538.3h1.1v1.5h-1.1zM261.2 585.3h1.7v1.5h-1.7zM229.2 612.9h1.2v1.7h-1.2zM176.9 585.2h1.4v1h-1.4zM205.1 593.6h1.5v1.4h-1.5zM234.4 588.7h1.6v1.2h-1.6zM213.3 613h1.4v1.4h-1.4zM254.6 626.9h1.5v1.2h-1.5zM225.4 542.9h2.2v1.4h-2.2zM219.5 610.8h0.9v1.5h-0.9zM190.6 571.1h1.3v1.5h-1.3zM235.9 596.5h1.2v1.6h-1.2zM168.1 635.1h2.1v1.2h-2.1zM244.4 543.9h1.7v1.4h-1.7zM228.2 562.9h1.8v1.8h-1.8zM216.8 594.5h1.1v2h-1.1zM187.8 602.9h1.7v1.1h-1.7zM192.9 606.6h1.2v1.7h-1.2zM171.2 537.9h1.1v1h-1.1zM231.8 552.3h1.8v1.7h-1.8zM255.1 633.1h1.6v1.7h-1.6zM254 554.3h1.4v1.9h-1.4zM208.7 553.7h1.1v1.9h-1.1zM232.7 539.8h1.9v1.6h-1.9zM166.5 570.8h1.6v1.3h-1.6zM260.8 580.3h1.9v1.1h-1.9zM238.1 579.4h1.7v1.2h-1.7zM248.7 560.8h1.2v1.8h-1.2zM186.7 603.7h2.1v1.8h-2.1zM204.4 580.2h1.9v1.6h-1.9zM214.4 573.4h1.4v1.5h-1.4zM228.5 601.9h0.9v1.4h-0.9zM240.8 571.4h1.7v1.1h-1.7zM189.7 576.9h2.1v1.4h-2.1zM251.2 547.5h1.1v0.9h-1.1zM196.9 567.2h2v1.6h-2zM257.3 609.4h1.5v2h-1.5zM168 596.4h2.1v1.1h-2.1zM248.8 605.4h1.7v2h-1.7zM233.7 547.8h1.8v1.2h-1.8zM253.2 546.3h1.6v1.1h-1.6zM167.1 601.7h1.9v1.1h-1.9zM214.3 617.9h2v1.5h-2zM208.2 593.2h1v1.2h-1zM176 597.7h1.7v1.7h-1.7zM229.8 615.3h1.8v1.5h-1.8zM190.2 559.6h1.1v1.4h-1.1zM207 579.6h1.4v1.5h-1.4zM228.3 633.5h1.3v1.9h-1.3zM187.1 556h1.9v1.6h-1.9zM245.4 555.6h1.3v1h-1.3zM183.3 581.3h1.4v1h-1.4zM204.1 631h2.1v1.6h-2.1zM200.2 572.7h1.8v1.4h-1.8zM211.5 605h1.1v1h-1.1zM215.9 629.1h1.1v1.4h-1.1zM163.9 637.6h1.9v1.7h-1.9zM213.4 608.7h1.6v1.5h-1.6zM250.8 629.7h1.1v1.2h-1.1zM235.5 590.4h2.1v1.3h-2.1zM211.7 581.8h1.3v1h-1.3zM193.9 611.4h1.1v1.1h-1.1zM165.4 571h1v1.4h-1zM222.2 600.2h1.8v2h-1.8zM201.1 634.8h1.8v1.2h-1.8zM174.1 601.9h1.8v1.4h-1.8zM233.4 623.9h1.6v1h-1.6zM252.3 580.9h1.6v1.2h-1.6zM219.1 570.3h1.2v1h-1.2zM257.3 632h1v1.4h-1zM166.8 619.3h1.6v1.4h-1.6zM245.2 550.3h1.9v1.4h-1.9zM247 634.7h1.7v1.9h-1.7zM222.9 635.2h1.1v1.2h-1.1zM223.3 582.4h1.6v1.7h-1.6zM174.7 603.4h1.2v1h-1.2zM226.4 543.3h1.8v1.4h-1.8zM265.2 566.8h1.3v1.8h-1.3zM166.3 601.3h1.3v1.5h-1.3zM248.8 570.6h1.7v1h-1.7zM267.5 579.8h1.2v1h-1.2zM257.6 628.8h1.8v1.7h-1.8zM248.5 610.7h1v1.6h-1zM205.1 634h1.8v1.1h-1.8zM186.2 549.7h1.4v1.6h-1.4zM238.5 578.3h2v2h-2zM245.1 593.3h2.1v1.2h-2.1zM243.7 582.1h1.5v1.9h-1.5zM208 621.4h1.3v1.8h-1.3zM214.9 558.2h1v1h-1zM262.5 574.4h1.6v1.8h-1.6zM253.8 606.1h1.3v1.3h-1.3zM174.3 544.8h1.6v1.2h-1.6zM181.3 614.1h1v1.6h-1zM200.8 596.2h1.7v1.2h-1.7zM261.4 558.4h1.2v1.5h-1.2zM166.3 559.3h2v1.1h-2zM211.1 612.5h1.5v1.4h-1.5zM177.1 599.7h1.5v1.6h-1.5zM204.8 537h1.1v1.4h-1.1zM186.4 565.2h1.3v1.3h-1.3zM183.5 604.8h1v1.3h-1zM251.9 574.4h1.1v1.2h-1.1zM176.7 598.2h1.5v1.6h-1.5zM166.3 575.3h1.9v1.2h-1.9zM262 575.5h1.9v1.6h-1.9zM166.4 571.6h1.5v2h-1.5zM217.6 601h1v1.8h-1zM247.4 611.4h1.1v1.9h-1.1zM199.4 567.3h2v1.5h-2zM213.1 598.8h1.8v2h-1.8zM175.8 593.7h1.5v1.2h-1.5zM243.4 538.3h1.8v1.8h-1.8zM218.1 568h1v1.7h-1zM238.6 618h1v2h-1zM228.6 537h1.1v1.6h-1.1zM162.1 539.3h1v1.4h-1zM254.6 574.4h2v1.9h-2zM210.7 587.6h1.2v1.1h-1.2zM267.2 541.3h1.5v1.2h-1.5zM210.2 623.6h1.7v1.3h-1.7zM201.2 637h1.7v1.6h-1.7zM235.5 579h2.1v1.2h-2.1zM179.3 598.7h1.2v1.6h-1.2zM266.5 543.3h1.3v1h-1.3zM207.4 581.1h1.2v1.6h-1.2zM234.8 583.4h1.1v1.8h-1.1zM214.7 593.5h1.2v1h-1.2zM199 620.9h1.3v1.2h-1.3zM194.2 600.3h2.2v2h-2.2zM205.8 574h1.3v1.2h-1.3zM220.3 577h1.7v1.7h-1.7zM261.5 566h1.7v1.7h-1.7zM178.7 569.5h2.1v1.9h-2.1zM254.4 610.2h2.1v1.8h-2.1zM233.7 568.5h1.4v1.4h-1.4zM243.7 558.1h2.2v1.4h-2.2zM212 583.7h1v1.9h-1zM262.9 560.5h1.5v2h-1.5zM253.4 589.5h1.7v1.3h-1.7zM231.6 586.6h2.1v1.6h-2.1zM203.6 564.6h1.7v1.5h-1.7zM195.9 582h1.7v1.8h-1.7zM210.6 589.7h1.2v1.6h-1.2zM204.3 612.9h1.9v1.9h-1.9zM172.9 631.7h1.6v1.2h-1.6zM181.2 619.1h1.5v1.1h-1.5zM259.6 619.3h1.6v1.3h-1.6zM264.3 555.7h0.9v1.1h-0.9zM210.1 565.4h1.4v1h-1.4zM200.2 586.7h1.1v1.6h-1.1zM252.4 552.7h1.5v1.7h-1.5zM264.2 605.8h1v1.3h-1zM173.2 625.3h1.8v1.7h-1.8zM176.8 594.5h1.5v1.5h-1.5zM197.7 620.1h1.7v1.1h-1.7zM220.5 636.9h1.5v1.2h-1.5zM175.1 583.3h1.6v1.9h-1.6zM233.7 603.2h0.9v1.2h-0.9zM229.8 635.4h1.9v1h-1.9zM217.9 548.2h1.4v1.3h-1.4zM183.3 630.6h2.1v1.1h-2.1zM231.4 538.8h1.6v1.8h-1.6zM223 593.4h1.1v1h-1.1zM218 612.1h1.5v1.1h-1.5zM195.6 540.9h1.8v1.1h-1.8zM170.5 597.7h1.1v1.4h-1.1zM257.9 590.6h2v1.2h-2zM192.1 570.1h1.8v1.3h-1.8zM249.5 538.6h1.4v1.8h-1.4zM242.6 603.7h1.6v1.4h-1.6zM217.4 560.8h1.8v1.5h-1.8zM254.8 538.7h1v2h-1zM187.2 628.8h1.3v1.1h-1.3zM255.5 542.3h2v1.9h-2zM239.7 606.1h1.5v1.1h-1.5zM249.6 570.8h1.7v1h-1.7zM202.7 546.4h1.3v1.6h-1.3zM227.1 543.9h1.3v1.6h-1.3zM255.7 578.3h1v1.4h-1zM219.4 614.7h1.7v1.8h-1.7zM163.7 546.9h1.4v1.5h-1.4zM163.1 556.7h1.1v1.9h-1.1zM171.2 632.8h2v0.9h-2zM234.4 563.6h2v1.4h-2zM266.7 590.4h1.5v1.5h-1.5zM254.3 611.7h1.7v0.9h-1.7zM226.4 608.6h1.9v1.6h-1.9zM234.9 558h2.1v1.1h-2.1zM205.6 567.1h1.3v1.8h-1.3zM171.3 546.8h1.1v1.2h-1.1zM254.9 569.1h2.1v1.2h-2.1zM211.6 556.2h1.3v1.6h-1.3zM191.2 545.9h0.9v1.2h-0.9zM185.9 568.6h2.1v1.4h-2.1zM236 540.1h2.1v1.3h-2.1zM214.3 579.9h1.4v1.1h-1.4zM217.5 584.2h1.1v1.8h-1.1zM165.7 592.9h1.3v1.9h-1.3zM197.5 571.6h1.5v1.8h-1.5zM169 564.4h1.5v1.1h-1.5zM183.8 577.9h2v1.3h-2zM213.1 559h1.6v1h-1.6zM243.8 538.2h2.2v1.3h-2.2zM252.8 594h2.1v1.7h-2.1zM197.4 627.1h2.2v1.5h-2.2zM206.5 560.1h1.7v1.6h-1.7zM210.1 583h2v1.8h-2zM232.1 542.3h1.2v1.8h-1.2zM235.6 553.7h1.3v1h-1.3zM185.7 619.3h1.3v1.8h-1.3zM164.4 574.7h2.1v1.9h-2.1zM195.2 563.3h1.4v1.6h-1.4zM201.2 585.3h1.4v1.2h-1.4zM216 606.3h2.1v2h-2.1zM224.6 623.8h0.9v1.2h-0.9zM255 617.6h1.8v1.9h-1.8zM266.7 580.2h1.1v1.4h-1.1zM179.8 629.5h1.9v1.8h-1.9zM213.4 632.8h1.8v1.6h-1.8zM168.7 579.3h1v1.7h-1zM222.9 599.3h2v1.5h-2zM211.8 617.2h1.6v1.6h-1.6zM261 614.4h1.9v1.6h-1.9zM169.3 576.3h1.6v1h-1.6zM258.1 550.3h1.6v1h-1.6zM252.1 633.9h1.4v1h-1.4zM172.9 558.2h1.8v1.1h-1.8zM232.6 614.7h0.9v1.3h-0.9zM163.9 613.7h1.3v1.9h-1.3zM248.2 620.7h1.6v1.8h-1.6zM227.4 571h1.3v1.8h-1.3zM236.1 578.2h1.7v1.3h-1.7zM247.3 597.5h1.8v2h-1.8zM223.5 565.7h1.2v1.8h-1.2zM252.3 566h1.2v1h-1.2zM220 597.3h1v1.1h-1zM205.8 612.9h1.3v1.9h-1.3zM215.2 595h1.4v1h-1.4zM226.2 604.8h1.1v1.1h-1.1zM187.9 575.8h1.2v1.7h-1.2zM173.5 570.7h1.7v1.6h-1.7zM231.6 632.9h1.4v1.7h-1.4zM226.5 597.4h2.1v1.4h-2.1zM206.9 540.5h1.7v1.7h-1.7zM218.4 634.8h1.6v1.5h-1.6zM168.5 557.7h1.3v1.3h-1.3zM217.8 587.6h2v1.9h-2zM162.4 591.5h1.5v2h-1.5zM250.4 635.8h1.1v0.9h-1.1zM175.8 596.6h1.6v1.2h-1.6zM249.9 555.2h1.1v1h-1.1zM184 580.8h0.9v1h-0.9zM175.5 575.8h1.2v1.1h-1.2zM241.4 615.9h1.6v0.9h-1.6zM224.8 552.6h1.7v1.6h-1.7zM163 599.6h1.7v1h-1.7zM167 586.8h1.2v0.9h-1.2zM186.7 554.3h1.1v1.7h-1.1zM267.2 571.9h2v1h-2zM221.2 634.4h1.7v1.9h-1.7zM180.1 600.6h1.5v1.8h-1.5zM188.8 610.8h1.2v1.7h-1.2zM267 562.1h1.3v1.4h-1.3zM209.3 565.7h1.7v1.3h-1.7zM190.1 591.3h2.2v1.4h-2.2zM176.1 587.6h1.9v1.9h-1.9zM239.8 609.7h1.2v1.5h-1.2zM200.8 583.1h1.5v1.9h-1.5zM201.1 610.7h2v1.5h-2zM234.8 604.8h0.9v1.8h-0.9zM206.3 629.1h1.2v1.3h-1.2zM205 575.7h2.1v0.9h-2.1zM209.3 546.3h1.7v1.9h-1.7zM257.8 608.1h2.1v1.6h-2.1zM211.7 629.2h1.7v1h-1.7zM232.7 599.8h1.9v1.1h-1.9zM246.1 585.1h1.5v1h-1.5zM189.8 601.2h1.3v1.4h-1.3zM246.9 626.3h1.7v1.1h-1.7zM237.2 543.5h1.9v1.3h-1.9zM221.1 557.3h2.1v1.1h-2.1zM166.7 570.2h1v1.5h-1zM249.2 610h1.6v1h-1.6zM229 565.3h1.1v1.6h-1.1zM196.5 564.7h1.8v1.5h-1.8zM237.2 562h2v2h-2zM233.8 554h1.2v0.9h-1.2zM179.9 573.5h1.6v1.5h-1.6zM249.1 559.5h1.5v1h-1.5zM251.9 614.9h1.3v1.7h-1.3zM209.9 536.7h1.7v1.6h-1.7zM254.1 596h1.1v2h-1.1zM207.7 591h2.1v1.5h-2.1zM208 602.8h1.9v1.6h-1.9zM227.1 550.9h2v1.7h-2zM187.1 616.8h1.3v1.1h-1.3zM257.6 570.3h1.8v1.7h-1.8zM243.2 569.8h1v1.4h-1zM186.5 630.3h1.4v1.9h-1.4zM257.8 600.4h2v1h-2zM186.6 551.1h1.8v1.7h-1.8zM193.5 557.8h1.6v1.4h-1.6zM183.5 589.9h2.1v1.8h-2.1zM185.4 555h2.2v1.1h-2.2zM168.3 592.7h1.1v1.6h-1.1zM234.1 626.2h1.7v1.4h-1.7zM260.4 552.3h2.1v1.4h-2.1zM232.3 590.5h1v1.2h-1zM239.5 620.1h1.3v1.6h-1.3zM240.2 605.6h1.2v2h-1.2zM233.1 549.1h1.1v1.3h-1.1zM223.1 633.5h1.9v1.7h-1.9zM227.2 582.9h1.8v2h-1.8zM163.9 602h1.4v1.1h-1.4zM213.9 598.2h1.3v1.8h-1.3zM249.4 553h1.2v1.1h-1.2zM250.1 623.8h1.5v2h-1.5zM231.7 555.2h1.5v1.4h-1.5zM181.4 554.7h1.4v1.4h-1.4zM180.3 626.2h1.5v1.7h-1.5zM234.8 580.1h1.9v1.8h-1.9zM209 618.3h1.6v2h-1.6zM229.5 584.7h1v1.9h-1zM205.2 611.3h1.9v1.8h-1.9zM215.5 626.9h1.9v1.6h-1.9zM182.5 551.5h1.7v1.2h-1.7zM185.1 628.2h2.2v1.2h-2.2zM189.5 585.3h2.1v1.9h-2.1zM182.5 536h1.6v1.8h-1.6zM181.6 625.4h1.4v1h-1.4zM170.2 567.5h2.1v1.8h-2.1zM235 552.8h1.5v1.4h-1.5zM228.9 561.4h0.9v1.4h-0.9zM167.8 614.1h2.1v1.2h-2.1zM252.2 568.9h1.4v1.7h-1.4zM199.4 603.5h1.9v1.1h-1.9zM165.5 625.7h2.2v1.7h-2.2zM218.6 636h1.2v1.9h-1.2zM246.5 544.1h1.7v1.6h-1.7zM239.2 580.5h2v1.3h-2zM237.7 570h1v1.8h-1zM204.9 637.7h1.5v1.3h-1.5zM223 551.9h1.3v1.4h-1.3zM207.9 618.2h1.7v1.5h-1.7zM210.9 555.6h1v1.1h-1zM193.9 608.6h1.2v2h-1.2zM260.3 550h2.1v1.5h-2.1zM179.2 595.3h1.1v2h-1.1zM250.8 586.3h1.2v1.3h-1.2zM186.9 538h1.1v1.7h-1.1zM238.1 604h1.4v1.3h-1.4zM223.3 621.1h2v1.9h-2zM171.6 598.9h1.1v2h-1.1zM251.4 543.1h1.9v1.2h-1.9zM212.8 576.5h1.8v1.9h-1.8zM230.1 584.6h1.1v1.4h-1.1zM213.5 541.5h1v1.3h-1zM171.8 622.3h1.7v1.1h-1.7zM190.9 589.1h1.9v1.7h-1.9zM242.1 579.5h1.8v1.4h-1.8zM192.2 579.1h1v1h-1zM255.4 622.5h1.6v0.9h-1.6zM265 552h2.2v2h-2.2zM186.9 548.7h1v1.3h-1zM233.5 620.6h1.1v0.9h-1.1zM260.4 576.7h1.2v1.6h-1.2zM264.9 604.1h2.2v0.9h-2.2zM225.2 611.7h1.4v1.3h-1.4zM168.5 592.8h2.1v1.9h-2.1zM174 612.9h1.3v1.6h-1.3zM244.3 593.1h2.1v1.7h-2.1zM261.8 623h1.3v1.4h-1.3zM260.7 581.4h2v1.8h-2zM186.5 587.7h1.2v1.3h-1.2zM167.9 626.6h1.6v1.1h-1.6zM190.5 613.1h1.5v1.2h-1.5zM185.9 600.3h1.1v1.5h-1.1zM221.2 635h1.3v1.6h-1.3zM232 594.9h1.7v1.9h-1.7zM236.2 577.3h2.1v1.4h-2.1zM235 605.1h1.2v1.4h-1.2zM208.6 610.8h1.3v1.5h-1.3zM168.2 597.2h0.9v1h-0.9zM213.9 593.8h1.3v1.3h-1.3zM197.9 536.3h1.2v1.2h-1.2zM172.8 624.9h1v1h-1zM262.8 621.5h1v1.7h-1zM219.1 620.9h1.4v1.6h-1.4zM232.8 625.3h1.6v1.9h-1.6zM232.1 619.7h0.9v1.4h-0.9zM234.2 626.2h1.6v1.5h-1.6zM195.7 627.5h1.1v1h-1.1zM184.3 626.8h2v1.9h-2zM165.3 618h1.5v1.5h-1.5zM255.3 587.8h2v1.8h-2zM251.6 550.8h1.1v1.3h-1.1zM163.5 623.5h1.9v1.7h-1.9zM164.4 572.3h1.9v1.1h-1.9zM242.7 572.4h1.4v1.7h-1.4zM204.8 592.3h1.1v0.9h-1.1zM241 535.5h1.3v1.2h-1.3zM220.4 599.5h1.1v1.9h-1.1zM244.6 615.2h1.6v1.4h-1.6zM197.1 599h1.9v1.1h-1.9zM202.1 614.7h1.4v1.8h-1.4zM168.6 612.3h1.2v1.1h-1.2zM255.9 579.4h1.1v1.4h-1.1zM176.8 602.4h1.8v1.1h-1.8zM181.5 557.1h1v1.9h-1zM162.8 548.3h1.8v1.4h-1.8zM220.2 575.2h1.5v1.6h-1.5zM251.3 624.4h1.4v1.8h-1.4zM169.8 571.4h2.1v1.5h-2.1zM165.8 631.8h1.9v1.9h-1.9zM246.2 546.7h1.7v1.9h-1.7zM262.9 596.9h1.2v1.8h-1.2zM192.9 622.5h1.6v1.9h-1.6zM203 622h1.5v2h-1.5zM189.4 620.6h1.2v1.7h-1.2zM250.6 544.4h1.7v1h-1.7zM246 637.2h1.8v1.6h-1.8zM221.4 538.4h1.8v1.2h-1.8zM235.4 566.8h2.1v1.3h-2.1zM257.4 552.4h1.4v1.3h-1.4zM209.5 542.2h1.1v1.7h-1.1zM261.9 572.1h1v1.9h-1zM205.5 557.7h1.4v1.6h-1.4zM256.7 548.3h1.6v1.5h-1.6zM171.7 581.9h1.2v1h-1.2zM176.9 551.5h1.3v1.7h-1.3zM236.3 588.5h1.7v1.2h-1.7zM254.7 553.4h1.2v1.1h-1.2zM262.2 536.3h2v1.2h-2zM235.6 538.2h2.2v1.2h-2.2zM244 593h1.2v1.2h-1.2zM209.3 608.6h1.7v1.7h-1.7zM197.3 629h1.5v1.8h-1.5zM165.7 536.1h1.8v1.3h-1.8zM195.9 547.6h2v1.3h-2zM251.8 570.9h1.6v0.9h-1.6zM246.2 574.6h1.8v1.4h-1.8zM199.3 610.4h1v1.6h-1zM176.4 567.1h1.7v1.4h-1.7zM184.9 537.5h1.3v1.4h-1.3zM238.6 594.5h1.3v1.3h-1.3zM201.1 619.3h1.7v1.6h-1.7zM215.7 551h1.7v1.5h-1.7zM237.6 547.1h2.1v1.2h-2.1zM221.9 570.6h0.9v1.9h-0.9zM257.8 592.8h1.4v1.8h-1.4zM220.2 621.8h1.8v1.2h-1.8zM246.6 564.6h0.9v1h-0.9zM259.4 559.5h1.8v2h-1.8zM213.5 544.8h2v1.8h-2zM198.9 595.3h1.4v2h-1.4zM248.2 551.6h1.4v1.1h-1.4zM264.6 582.9h1.2v0.9h-1.2zM199.3 536h1.8v1.5h-1.8zM211.9 593h1.8v1.9h-1.8zM225.5 580.2h1.9v1.1h-1.9zM169.2 539h2.1v1.4h-2.1zM169.1 534.7h2.1v1.9h-2.1zM235.8 536.2h1.3v1.2h-1.3zM231.8 578h0.9v1.6h-0.9zM244 587.7h1.3v1.6h-1.3zM198.5 583.6h1.8v1.1h-1.8zM216.4 541.5h1.8v1h-1.8zM175 554.6h1.2v0.9h-1.2zM204.6 605.6h1.8v1.4h-1.8zM202.2 619.1h1.8v1.6h-1.8zM213.3 549.7h2v1.4h-2zM259 568.2h1.8v1.5h-1.8zM174.2 566.2h1.7v1.1h-1.7zM188.6 615h1.1v1.6h-1.1zM242.7 554.4h2.2v1.3h-2.2zM218.8 598.1h1.5v1.5h-1.5zM233.8 563.6h1.7v1.6h-1.7zM228.4 536.9h2v1.7h-2zM260 542.1h1.8v2h-1.8zM195.8 563.1h1.1v1.8h-1.1zM164 636.8h1.5v1h-1.5zM250.5 560h1.8v1.5h-1.8zM239 540.5h2.1v1.6h-2.1zM165.5 595.5h1.5v1.5h-1.5zM165.1 560.5h1.5v1h-1.5zM250 546.7h1.5v2h-1.5zM209.2 629.6h1.5v1.8h-1.5zM225.8 611.9h2v1h-2zM167.4 561.7h1.7v1.1h-1.7zM195.6 573.6h1.2v1.9h-1.2zM227.4 603.3h1.6v1.3h-1.6zM225.6 577.8h1.2v1.6h-1.2zM210.5 548.9h1v1.1h-1zM193.5 589h2v1.6h-2zM193.1 544.7h1.9v1.1h-1.9zM237.2 553.3h1.8v1h-1.8zM245.1 542.8h1.7v1.3h-1.7zM262.3 593h1.6v1.3h-1.6zM248.3 601.6h1.2v1.9h-1.2zM216.3 575.2h1.8v1.8h-1.8zM213.1 585h2.1v1.8h-2.1zM185.4 618.4h1.8v1.9h-1.8zM187.2 536.1h1.8v1.1h-1.8zM196 540.4h1.4v1.5h-1.4zM236.5 624.1h1.1v1.5h-1.1zM244.4 595.8h1.6v1.1h-1.6zM185.4 623.2h1.7v1.2h-1.7zM215.6 542.1h1v1.5h-1zM224.9 572.9h1.1v1.9h-1.1zM259.2 612.7h2.1v1.7h-2.1zM252.4 604.2h1.2v1.3h-1.2zM177.9 631.8h2.1v1.2h-2.1zM249.7 604.2h1.7v1.8h-1.7zM185.6 593.5h1.2v1.8h-1.2zM197 623h1.5v1.6h-1.5zM233.9 626h1.4v1.6h-1.4zM189.1 610.8h1.8v1h-1.8zM215.7 543.4h1.8v1.1h-1.8zM258.9 555h2v1.3h-2zM247.7 549.3h1v1.1h-1zM186.9 621.8h1.5v1.2h-1.5zM186.6 600.2h2v1.8h-2zM216.3 624.8h1.3v1.2h-1.3zM207 569h1.9v2h-1.9zM249.2 592h2.2v1.7h-2.2zM194.3 541.9h1.7v1.8h-1.7zM200.2 548.8h1.1v2h-1.1zM261.3 563.2h2.1v1.9h-2.1zM263.1 584.6h1.4v1.5h-1.4zM265 554.6h1v1.8h-1zM237.3 605.1h1v0.9h-1zM218.7 595.9h1.1v1.4h-1.1zM231.9 572.1h1v1.2h-1zM196.8 546.2h1.8v0.9h-1.8zM212.9 579h1.8v1.3h-1.8zM258.5 587.7h1.2v1.5h-1.2zM196.9 550.1h1.2v1.8h-1.2zM248.6 637.2h1.6v1.8h-1.6zM244.9 605.9h1.2v1.1h-1.2zM245.1 561h1.1v2h-1.1zM223.6 620.4h1.5v1.6h-1.5zM204.6 607.5h1.3v0.9h-1.3zM167.5 568h1.9v1.1h-1.9zM263.2 602h1.6v1.7h-1.6zM183.9 620.2h2.1v1.1h-2.1zM226.6 611.6h2.2v0.9h-2.2zM200.6 613.8h1.6v1.1h-1.6zM177.4 570.4h0.9v1.8h-0.9zM250.3 559.8h1.9v1.7h-1.9zM261.5 637.4h1.5v1.1h-1.5zM264.2 619.7h2.2v2h-2.2zM219 627.9h1.3v1.5h-1.3zM200.4 558.5h2.1v1.3h-2.1zM164.8 535.9h1.2v1.1h-1.2zM222.5 613.2h0.9v1.7h-0.9zM180.9 625.5h1.6v1.1h-1.6zM229.9 569.4h1.1v1.4h-1.1zM256 582.7h1.7v1.1h-1.7zM226.3 611.6h1.2v1.5h-1.2zM200.6 562.2h1.1v1.9h-1.1zM232.4 576.4h1v1.8h-1zM223.4 596.9h1.3v1.4h-1.3zM189.7 563h1.7v1.9h-1.7zM242.9 625h1.3v1.2h-1.3zM242.9 603.4h1.2v1.3h-1.2zM228.1 538.7h1v2h-1zM182.4 584.5h2.1v2h-2.1zM262.7 589.3h2.2v1.6h-2.2zM165.4 631.9h1.5v1.4h-1.5zM215.1 616.5h1.7v1.5h-1.7zM192 612.8h1.1v1.6h-1.1zM195.2 622.7h1.3v1.7h-1.3zM207.4 562.6h1.6v1.5h-1.6zM242.8 539.1h2v1h-2zM184.4 604.5h1.3v1.3h-1.3zM196.1 547.6h2v1.1h-2zM235.7 556.7h2.2v1.8h-2.2zM194.6 588.2h1.8v1.7h-1.8zM195.7 603.9h1.6v1.9h-1.6zM167.7 548.6h1.9v1h-1.9zM256.4 593.1h1.7v1.3h-1.7zM177.8 596.9h1.5v1.9h-1.5zM243.7 622.7h2.2v1.4h-2.2zM174.6 617.4h1.2v1.8h-1.2zM203.4 598.6h1.3v0.9h-1.3zM256.9 572.6h1.3v1.4h-1.3zM216.5 623.5h2v1.5h-2zM262 562.7h1v0.9h-1zM206.8 544.5h2.1v0.9h-2.1zM190.7 546.4h1.4v1.2h-1.4zM220 558.3h1.7v1.4h-1.7zM173.4 545.6h1.4v1.4h-1.4zM221.9 536.5h1.5v1.2h-1.5zM173.9 592.7h1v1.1h-1zM261.1 636h1.1v1.5h-1.1zM206.3 558.6h1.8v1.7h-1.8zM242.2 591.3h1.9v1.5h-1.9zM186.1 542h1v1.2h-1zM198 566.8h1.4v1.5h-1.4zM246.4 593.5h1.8v1.6h-1.8zM222.8 551.2h1.9v1.1h-1.9zM193.7 631h1.3v1.9h-1.3zM184.2 617.7h1.3v1.9h-1.3zM229.6 632.9h1.9v1.4h-1.9zM262.4 591.3h1.7v1.5h-1.7zM251.7 555.8h2.1v1.7h-2.1zM261.7 581.4h1.1v1.6h-1.1zM264.1 555.1h1.1v1.5h-1.1zM165.1 635.1h1.2v1.7h-1.2zM201.8 632.9h1.2v1.4h-1.2zM253 568.6h1.3v1.9h-1.3zM265.4 584.1h1.1v1h-1.1zM212.8 580.8h1.4v1.3h-1.4zM249 588.4h1.1v0.9h-1.1zM224.9 628.8h2v1h-2zM186.3 542.4h1.5v1.6h-1.5zM186.9 625.4h2.1v1.4h-2.1zM185.8 585.7h2.1v1h-2.1zM233.7 593h1v1.1h-1zM185 605.2h1.9v1h-1.9zM227.6 535.9h2v1.2h-2zM173.7 543.9h1.2v1.1h-1.2zM215.7 537.7h1.9v1.5h-1.9zM235 582h2.1v1.1h-2.1zM249.8 604.3h2.2v1h-2.2zM205.5 588.2h1.4v1.4h-1.4zM172.7 550.5h1.8v1.9h-1.8zM222.3 602.5h1.4v1h-1.4zM209.7 600.1h2.1v1.5h-2.1zM162.9 619.9h2.2v1.2h-2.2zM169 544.5h1.4v1.5h-1.4zM250.6 594.8h1.5v1h-1.5zM165.6 607.1h1.8v1.6h-1.8zM239.3 578.5h0.9v1.3h-0.9zM187.7 590h1.3v1.1h-1.3zM178.5 560.9h1.5v1.8h-1.5zM181.6 556.6h1.2v1h-1.2zM185.9 544h1v1.5h-1zM236.2 608.6h1.7v1.7h-1.7zM171.1 626.2h1.5v1.3h-1.5zM200.4 534.9h1.7v1.4h-1.7zM250.6 581.1h1.9v1.7h-1.9zM214.2 573.9h1.8v1h-1.8zM188.6 551.5h1.3v1.7h-1.3zM260.3 620.5h1.3v1.8h-1.3zM185 597.5h1.1v1.6h-1.1zM201.4 554.3h1.4v1h-1.4zM246.3 594.2h1.4v1.5h-1.4zM228.1 629.2h1.7v1.4h-1.7zM261.6 629h2v1.5h-2zM190.3 610.3h1.6v1.7h-1.6zM214.8 589.6h1v1.8h-1zM205.9 610.8h0.9v1h-0.9zM208.4 539.3h1.8v1.6h-1.8zM189 605h1.6v0.9h-1.6zM208 625.7h2.2v1.7h-2.2zM264.5 553.5h1.4v1.9h-1.4zM164.7 570.3h1.6v1.9h-1.6zM197.7 567.2h1v1.3h-1zM224.2 555.3h1.3v1.5h-1.3zM252.1 598h1.1v1.9h-1.1zM235.4 564.4h0.9v1.8h-0.9zM177 634.6h1.2v1.2h-1.2zM165.7 623.1h1.3v1.4h-1.3zM196.4 588.5h2v1.4h-2zM224.4 544.9h1.3v1.7h-1.3zM206.1 580.1h1v1.5h-1zM210.4 598.2h1.4v1h-1.4zM254.1 603h1.1v1.2h-1.1zM222.3 595.2h1v1.4h-1zM255.9 631.3h1.7v1h-1.7zM176.1 566.5h1.8v1.1h-1.8zM193.1 622.2h2v1.1h-2zM252.2 559.6h2.2v1.2h-2.2zM262.4 586h1.5v1h-1.5zM220.7 591.8h1.4v1.5h-1.4zM206.4 610.6h1.3v1.1h-1.3zM229.1 581.4h1.9v0.9h-1.9zM172.3 604.5h1.5v1.6h-1.5zM260.4 575h1.3v1.4h-1.3zM218.9 543.2h0.9v1.4h-0.9zM235 620.6h1.7v1.5h-1.7zM265.7 601.2h1.5v1.7h-1.5zM243.1 542.9h1.5v1.8h-1.5zM180.1 572.9h1.8v0.9h-1.8zM231.5 574.9h1.9v1.8h-1.9zM241.9 556.8h2.1v0.9h-2.1zM185.4 620.5h0.9v1.9h-0.9zM173.1 537.1h1.1v0.9h-1.1zM225.9 543.6h1.6v0.9h-1.6zM188.2 575.7h1.4v1.4h-1.4zM198.1 624.9h1.5v1.7h-1.5zM198.7 550.3h2.1v1h-2.1zM267.6 607h1.8v1.1h-1.8zM226 605.4h1v2h-1zM242.7 539.1h1v2h-1zM170.6 555h1.3v1.9h-1.3zM232.7 630.4h2v1.3h-2zM176.1 595.8h1.2v1.7h-1.2zM251.8 594.7h1.2v1.2h-1.2zM165.9 588.2h1v1.6h-1zM178.3 613.7h1.1v1.8h-1.1zM189.4 595.9h2.1v1.6h-2.1zM189.8 591.6h2.1v1.3h-2.1zM161.9 597.2h1.1v1h-1.1zM189.3 545.8h1.4v1.1h-1.4zM199.4 568.2h2.1v1.4h-2.1zM247.8 577h1.4v1.7h-1.4zM223.2 593.6h2.1v1.7h-2.1zM242 624.9h1.8v1.1h-1.8zM220.3 594.6h1.5v1h-1.5zM166.7 637.3h1.4v1.5h-1.4zM181.7 587.3h1.4v1.6h-1.4zM264.1 556.8h1.9v0.9h-1.9zM168.3 556.3h1.7v1.5h-1.7zM213.9 540.5h1.3v1h-1.3zM182 612.4h1.5v0.9h-1.5zM220.7 542.5h1.4v1.8h-1.4zM210.9 569.4h1.6v1.5h-1.6zM192.2 560.1h1.8v1.8h-1.8zM257.2 563h2v1.7h-2zM234.8 551.8h2v1.3h-2zM234.8 580.5h2.1v1.7h-2.1zM231.4 581.6h1.9v1.1h-1.9zM184.3 546.4h1.2v1.1h-1.2zM183.9 598.1h1.6v1.9h-1.6zM185 583.4h1.2v1.7h-1.2zM181.9 581.1h1.2v1.3h-1.2zM259.2 570.6h1.4v1.7h-1.4zM204.4 539.8h2.1v1.3h-2.1zM264.8 556.3h1.2v1.9h-1.2zM178.8 620.2h1.1v1.6h-1.1zM210.5 552.5h1.5v1.6h-1.5zM230.5 566.3h1.7v1.9h-1.7zM217.7 555.3h1.4v1h-1.4zM164.8 634.5h1.1v1.8h-1.1zM196.2 593.2h1.6v1.2h-1.6zM170.1 603.4h1.3v1.7h-1.3zM266.2 553.1h1.5v1.1h-1.5zM206.5 630.2h2.1v1.8h-2.1zM267.6 634.9h1.9v1.1h-1.9zM200 620.8h1.1v1.8h-1.1zM213.3 622.2h1v1.5h-1zM170.6 536.8h1.5v1.4h-1.5zM217.9 623.3h1.1v1.4h-1.1zM230 586.3h1.7v1.8h-1.7zM251.2 592.5h1.1v0.9h-1.1zM225.5 565.8h1.2v1.2h-1.2zM211.5 563.2h2.1v1.4h-2.1zM214.8 614.2h1v1.2h-1zM241.1 625.9h2v1.6h-2zM177.1 631.2h1.5v1.8h-1.5zM260.2 631.5h1.8v1.2h-1.8zM190.8 633.3h1.6v1.4h-1.6zM234.5 568.7h1.3v1.5h-1.3zM234.5 632.4h1.5v1.7h-1.5zM168.6 578.6h1.5v1.2h-1.5zM212.1 585h1.7v2h-1.7zM196.5 618.6h1.4v2h-1.4zM214.2 553.8h1.3v1.9h-1.3zM197.1 548.7h1v1.4h-1zM165.6 627.8h2v1.7h-2zM168.7 589.1h1.5v1.1h-1.5zM171.2 576.6h2v1.8h-2zM248.8 599.5h1.3v0.9h-1.3zM209.8 611h2v1.1h-2zM229.1 620.5h1.9v1.8h-1.9zM234.9 551.3h1.4v1.1h-1.4zM192.6 593.2h2.2v1.3h-2.2zM213.5 560.1h1.6v2h-1.6zM167.2 601.2h1.9v1.3h-1.9zM225.4 538.6h1v1h-1zM187.7 617.6h1.9v1.4h-1.9zM163.7 566.3h1.9v2h-1.9zM213.1 575.7h1.6v1.1h-1.6zM221.3 580.1h2v2h-2zM188 573.6h1v1.3h-1zM228.8 545.7h1.8v1.3h-1.8zM184.2 585.2h1.4v1.1h-1.4zM252.9 614.8h1.9v1.5h-1.9zM263.6 536.8h2.1v1h-2.1zM208.5 618.2h1.4v1.8h-1.4zM231.5 622.4h2v1.7h-2zM220.2 591.3h1.5v1.2h-1.5zM245 589.3h0.9v1.5h-0.9zM209.2 608.3h1.6v1.9h-1.6zM259 555.4h1.1v1.9h-1.1zM215.8 603.7h1.5v1.5h-1.5zM239.2 603.6h1.8v1.6h-1.8zM264.5 547.7h1.9v1.4h-1.9zM182.3 544.5h1.7v1.7h-1.7zM238.4 613.3h1.4v1.9h-1.4zM230 633.5h1.8v2h-1.8zM207.8 633.9h1.4v0.9h-1.4zM194.3 579.2h2.1v1.9h-2.1zM184.8 603.8h1.3v1h-1.3zM184.6 595.3h1.8v1.2h-1.8zM180.5 630.3h1.2v1.6h-1.2zM266 616.4h1.8v1.4h-1.8zM213.4 629.9h1v1.3h-1zM176.6 624.2h1.7v1.1h-1.7zM204.3 577.5h1.1v1h-1.1zM199.9 559.8h1.3v1.6h-1.3zM266 602.1h2v1.1h-2zM238.8 612.2h2.1v1.2h-2.1zM245.3 587.8h1v1.5h-1zM265.7 625.6h2v1.9h-2zM235.6 603.3h1.6v1.5h-1.6zM233.8 571.5h2.2v1.9h-2.2zM212.8 603.5h2v1.2h-2zM203.7 541.1h2.1v1.3h-2.1zM248.5 590.2h2.1v1.8h-2.1zM263.8 637.6h0.9v1.6h-0.9zM219 597.9h1v1.4h-1zM182.5 617.4h1.8v1.5h-1.8zM222.7 542.4h1.1v1.2h-1.1zM242.5 551.7h1.7v2h-1.7zM245 549.5h1.6v1.4h-1.6zM224.7 590.4h2.1v1.4h-2.1zM200.1 625.8h1.4v1.5h-1.4zM180.2 560.1h1.2v1.5h-1.2zM258.8 627.7h2.1v1.5h-2.1zM226.5 578.5h1.8v1.6h-1.8zM204.2 565.9h1.1v1.7h-1.1zM213.3 555.4h1v1.9h-1zM245.1 542.2h1.5v1h-1.5zM189.6 631.5h1.4v1.9h-1.4zM211.3 568.9h1.6v1.4h-1.6zM197.8 550.7h1.8v2h-1.8zM261.4 541.6h2.1v1.6h-2.1zM181.2 574.4h1.3v1.9h-1.3zM192.8 543.9h1.7v0.9h-1.7zM174.2 566.9h1.3v1.8h-1.3zM242.2 551.1h1.4v0.9h-1.4zM202.8 563.2h1.6v1.1h-1.6zM243.3 552.4h1.4v2h-1.4zM168.9 602.1h1.2v0.9h-1.2zM229.8 604.9h1.8v1.2h-1.8zM231.9 621.2h1.8v1.8h-1.8zM227.3 549.6h1.8v1.8h-1.8zM205.5 567.3h1.7v1.9h-1.7zM243.7 561.5h1.2v1h-1.2zM228.6 547.3h2.1v1.1h-2.1zM194.3 561.1h1.9v1.1h-1.9zM219.3 575.4h1.9v1h-1.9zM256.1 625.2h1.4v1.4h-1.4zM230.6 572.5h1.3v1.9h-1.3zM212.4 630.5h1.3v1.2h-1.3zM245.3 594h2.1v1.9h-2.1zM220.8 583.7h2.1v1.8h-2.1zM165.2 591h1.9v1.2h-1.9zM184.4 620.5h1.1v1.1h-1.1zM192.6 546.9h1.1v1.2h-1.1zM164.7 590.6h1.1v1.8h-1.1zM248.2 625.4h1.1v1.2h-1.1zM218.9 595.3h2v1.1h-2zM185.6 609.8h2.1v1h-2.1zM265.5 636.5h2v1.3h-2zM262.8 570.3h0.9v1.6h-0.9zM260.5 601.4h2.1v1.3h-2.1zM197.5 614.7h2v1.7h-2zM212.5 560.3h2v1.2h-2zM174.6 553.2h2.1v2h-2.1zM260 551.8h1.5v1.4h-1.5zM170.1 636.9h1.9v1.9h-1.9zM216.7 557.4h1.7v1h-1.7zM226.9 592.3h2.1v0.9h-2.1zM164 621.3h1.1v1.6h-1.1zM267.4 598.2h1v1.9h-1zM222.3 623.3h1.4v1h-1.4zM208.9 591.4h1.3v0.9h-1.3zM232.6 582.5h1.7v0.9h-1.7zM183.5 552.2h1.1v1.9h-1.1zM199.6 621.6h1.1v1.1h-1.1zM216.9 594.9h1v1.6h-1zM192.5 546.9h1.5v1.1h-1.5zM253.2 578.9h0.9v1.3h-0.9zM241.5 604.9h1.5v1.9h-1.5zM245.6 536h1.9v1.6h-1.9zM207.1 569.1h2.1v0.9h-2.1zM186 628.5h2v1.6h-2zM211.1 632.9h1.3v2h-1.3zM178 627.8h1.7v1.9h-1.7zM219.2 582.8h2.2v1.6h-2.2zM190.6 607.5h1.7v1.1h-1.7zM247.7 547.2h1.6v1.3h-1.6zM176.7 546.5h1.7v1.6h-1.7zM253.8 586.6h1.3v1.5h-1.3zM260.6 557.5h1.4v1.1h-1.4zM164.4 623.6h1.6v1.7h-1.6zM203 592.1h2v1.2h-2zM179.8 614.5h1v1.6h-1zM192.4 599.8h1.2v1.9h-1.2zM172.1 590h1.3v1.7h-1.3zM255.2 541h1.8v1.3h-1.8zM234.4 558.6h2v2h-2zM254.1 544h1.7v1.9h-1.7zM256.2 628.2h1.3v1.3h-1.3zM181.6 544.1h1.6v1.2h-1.6zM220.8 538.2h1.8v1.6h-1.8zM174.7 538h1.3v1.9h-1.3zM228.6 630.6h1.4v1.8h-1.4zM212.3 540.1h1.8v1.6h-1.8zM188.8 629.7h1.2v1.7h-1.2zM262.9 549.4h1.1v1h-1.1zM181.1 612h2v1.9h-2zM198.9 627.2h1.7v1.1h-1.7zM179.2 635.3h1.9v1.7h-1.9zM172.8 567.8h1.1v2h-1.1zM214.9 614.2h2v1h-2zM169.7 556.5h1.2v1.9h-1.2zM241.6 589.1h1.7v1.6h-1.7zM199.9 576.3h2v1.3h-2zM256.3 592.7h2v1.3h-2zM203.4 580.7h2v1.3h-2zM198 578.4h1.8v1.3h-1.8zM260.6 548.4h1.3v1.3h-1.3zM200 575.3h1.9v1.8h-1.9zM247.9 608.8h1.9v1.5h-1.9zM165.8 606.8h1.3v1h-1.3zM220.3 606.8h1.7v1.2h-1.7zM216.6 603.2h1.3v1.4h-1.3zM175.5 554.9h1.3v0.9h-1.3zM190.9 582.8h1v0.9h-1zM187.7 611.8h2v1.8h-2zM228.6 627.1h1.1v1.3h-1.1z" fill="#faf4fa" filter="url(#soft)"/>
<rect x="161.5" y="534.3" width="106.1" height="103.5" fill="#fff" filter="url(#mottleL)" opacity="0.35"/>
<path d="M216.1 533C222.7 531.6 260.2 526.4 269 533C277.8 539.6 270.9 565.9 269 572.6C267.1 579.4 260.7 572.7 257.4 573.5C254.1 574.3 251.4 576.1 249.2 577.6C247 579.1 245.3 583.6 244.2 582.5C243.1 581.4 243.7 575.7 242.6 571C241.5 566.3 239.8 559.5 237.6 554.5C235.4 549.5 233 544.9 229.4 541.3C225.8 537.7 209.5 534.4 216.1 533Z" fill="#f1eef1"/>
<path d="M189.7 546.2C191.5 543.7 194.7 539.8 198 538C201.3 536.2 205.7 535.6 209.5 535.5C213.3 535.4 217.5 535.6 221.1 537.1C224.7 538.6 228 541.2 231 544.6C234 548 237.2 553.4 239.3 557.8C241.4 562.2 242.9 566.9 243.4 571C243.9 575.1 243.8 579.5 242.6 582.5C241.4 585.5 238.8 587.7 236 589.1C233.2 590.5 229.6 591.3 226 590.8C222.4 590.2 218.3 587.7 214.5 585.8C210.7 583.9 206.5 581.7 202.9 579.2C199.3 576.7 195.5 574 193 571C190.5 568 189.1 564.1 188.1 561.1C187.1 558.1 186.9 555.3 187.2 552.8C187.5 550.3 187.9 548.7 189.7 546.2Z" fill="url(#tg)"/>
<path d="M189.7 546.2C191.5 543.7 194.7 539.8 198 538C201.3 536.2 205.7 535.6 209.5 535.5C213.3 535.4 217.5 535.6 221.1 537.1C224.7 538.6 228 541.2 231 544.6C234 548 237.2 553.4 239.3 557.8C241.4 562.2 242.9 566.9 243.4 571C243.9 575.1 243.8 579.5 242.6 582.5C241.4 585.5 238.8 587.7 236 589.1C233.2 590.5 229.6 591.3 226 590.8C222.4 590.2 218.3 587.7 214.5 585.8C210.7 583.9 206.5 581.7 202.9 579.2C199.3 576.7 195.5 574 193 571C190.5 568 189.1 564.1 188.1 561.1C187.1 558.1 186.9 555.3 187.2 552.8C187.5 550.3 187.9 548.7 189.7 546.2Z" fill="#fff" filter="url(#mottle)" opacity="0.45"/>
<path d="M253.3 539.6C254.4 537.4 259.2 538 260.7 539.6C262.2 541.2 261.6 545.6 262.4 549.5C263.2 553.4 266 559.7 265.7 562.7C265.4 565.7 262.5 567.4 260.7 567.7C258.9 568 256.1 566.9 255 564.4C253.9 561.9 254.4 556.9 254.1 552.8C253.8 548.7 252.2 541.8 253.3 539.6Z" fill="#8e4ea0"/>
<path d="M249 541 C247 548 250 555 252 560" stroke="#d890b0" stroke-width="0.8" fill="none"/>
<path d="M160 566C160.7 555.2 162.9 572.2 164 575C165.1 577.8 165.3 579 166.6 582.5C167.9 586 169.7 591.6 171.6 595.7C173.5 599.8 176 603.2 178.2 607.3C180.4 611.4 183.4 616.4 184.8 620.5C186.2 624.6 187 628.9 186.4 632.1C185.8 635.4 185.9 638.7 181.5 640C177.1 641.3 163.6 652.3 160 640C156.4 627.7 159.3 576.8 160 566Z" fill="#9c5aa8"/>
<path d="M160 598C160.5 596.7 161.5 602.8 163 606C164.5 609.2 167 613.3 169 617C171 620.7 174.2 625 175 628C175.8 631 175 634.3 174 635C173 635.7 170.8 634.2 169 632C167.2 629.8 164.5 625 163 622C161.5 619 160.5 618 160 614C159.5 610 159.5 599.3 160 598Z" fill="#c86e9e" opacity="0.8"/>
<path d="M164 582 C168 596 174 606 180 616" stroke="#f2e4f0" stroke-width="1.2" fill="none" opacity="0.8"/>
<ellipse cx="180" cy="587" rx="3.5" ry="2.2" fill="#fbf6fa" stroke="#b0508a" stroke-width="0.8"/>
<ellipse cx="231" cy="615" rx="2.2" ry="3.5" fill="#fbf6fa" stroke="#b0508a" stroke-width="0.8"/>
<ellipse cx="191" cy="622" rx="2" ry="3.2" fill="#fbf6fa" stroke="#b0508a" stroke-width="0.8"/>
<ellipse cx="193" cy="597" rx="2.5" ry="1.5" fill="#fbf6fa" stroke="#b0508a" stroke-width="0.8"/>
<rect x="246" y="633.6" width="19" height="0.7" fill="#444"/>
<text x="255.8" y="633.2" font-size="6.3" text-anchor="middle" fill="#1a1024" font-weight="bold" font-family="Liberation Serif" textLength="18.2" lengthAdjust="spacingAndGlyphs">100μm</text>
</g><path d="M80.7 17V160.3H295.6" stroke="#000" stroke-width="1.7" fill="none"/>
<line x1="75.2" y1="160.3" x2="80.7" y2="160.3" stroke="#000" stroke-width="1.5"/>
<text x="73.3" y="164.1" font-size="10.6" text-anchor="end" fill="#111" >0.0</text>
<line x1="75.2" y1="112.8" x2="80.7" y2="112.8" stroke="#000" stroke-width="1.5"/>
<text x="73.3" y="116.6" font-size="10.6" text-anchor="end" fill="#111" >0.5</text>
<line x1="75.2" y1="65.3" x2="80.7" y2="65.3" stroke="#000" stroke-width="1.5"/>
<text x="73.3" y="69.1" font-size="10.6" text-anchor="end" fill="#111" >1.0</text>
<line x1="75.2" y1="17.8" x2="80.7" y2="17.8" stroke="#000" stroke-width="1.5"/>
<text x="73.3" y="21.6" font-size="10.6" text-anchor="end" fill="#111" >1.5</text>
<line x1="96" y1="68.91" x2="96" y2="67.39" stroke="#111" stroke-width="1.15"/>
<line x1="92.4" y1="67.39" x2="99.6" y2="67.39" stroke="#111" stroke-width="1.15"/>
<rect x="89.27" y="69.84" width="13.45" height="90.47" fill="#000" stroke="#000" stroke-width="1.85"/>
<line x1="96" y1="160.3" x2="96" y2="166.3" stroke="#000" stroke-width="1.5"/>
<text x="96" y="177.6" font-size="10.8" text-anchor="middle" fill="#111" >0</text>
<line x1="118.85" y1="74.23" x2="118.85" y2="71.38" stroke="#111" stroke-width="1.15"/>
<line x1="115.25" y1="71.38" x2="122.45" y2="71.38" stroke="#111" stroke-width="1.15"/>
<rect x="112.12" y="75.16" width="13.45" height="85.15" fill="#a3a3a3" stroke="#000" stroke-width="1.85"/>
<line x1="118.85" y1="160.3" x2="118.85" y2="166.3" stroke="#000" stroke-width="1.5"/>
<text x="118.85" y="177.6" font-size="10.8" text-anchor="middle" fill="#111" >0.25</text>
<text x="119.15" y="67.8" font-size="11.2" text-anchor="middle" fill="#111" >ns</text>
<line x1="141.7" y1="79.17" x2="141.7" y2="76.32" stroke="#111" stroke-width="1.15"/>
<line x1="138.1" y1="76.32" x2="145.3" y2="76.32" stroke="#111" stroke-width="1.15"/>
<rect x="134.97" y="80.1" width="13.45" height="80.2" fill="#7f7f7f" stroke="#000" stroke-width="1.85"/>
<line x1="141.7" y1="160.3" x2="141.7" y2="166.3" stroke="#000" stroke-width="1.5"/>
<text x="141.7" y="177.6" font-size="10.8" text-anchor="middle" fill="#111" >0.5</text>
<text x="142" y="73.6" font-size="11.2" text-anchor="middle" fill="#111" >ns</text>
<line x1="164.55" y1="80.31" x2="164.55" y2="74.52" stroke="#111" stroke-width="1.15"/>
<line x1="160.95" y1="74.52" x2="168.15" y2="74.52" stroke="#111" stroke-width="1.15"/>
<rect x="157.83" y="81.24" width="13.45" height="79.06" fill="#d7d7d7" stroke="#000" stroke-width="1.85"/>
<line x1="164.55" y1="160.3" x2="164.55" y2="166.3" stroke="#000" stroke-width="1.5"/>
<text x="164.55" y="177.6" font-size="10.8" text-anchor="middle" fill="#111" >1</text>
<text x="164.85" y="72.5" font-size="11.2" text-anchor="middle" fill="#111" >ns</text>
<line x1="187.4" y1="97.22" x2="187.4" y2="93.14" stroke="#111" stroke-width="1.15"/>
<line x1="183.8" y1="93.14" x2="191" y2="93.14" stroke="#111" stroke-width="1.15"/>
<rect x="180.68" y="98.14" width="13.45" height="62.16" fill="#5d5d5d" stroke="#000" stroke-width="1.85"/>
<line x1="187.4" y1="160.3" x2="187.4" y2="166.3" stroke="#000" stroke-width="1.5"/>
<text x="187.4" y="177.6" font-size="10.8" text-anchor="middle" fill="#111" >2</text>
<path d="M187.4 87.15L187.4 90.65M188.92 88.03L185.88 89.78M188.92 89.78L185.88 88.03" stroke="#222" stroke-width="0.85" fill="none"/>
<line x1="210.25" y1="111.47" x2="210.25" y2="106.06" stroke="#111" stroke-width="1.15"/>
<line x1="206.65" y1="106.06" x2="213.85" y2="106.06" stroke="#111" stroke-width="1.15"/>
<rect x="203.53" y="112.4" width="13.45" height="47.91" fill="#a3a3a3" stroke="#000" stroke-width="1.85"/>
<line x1="210.25" y1="160.3" x2="210.25" y2="166.3" stroke="#000" stroke-width="1.5"/>
<text x="210.25" y="177.6" font-size="10.8" text-anchor="middle" fill="#111" >4</text>
<path d="M210.25 92.6L210.25 96.1M211.77 93.47L208.73 95.22M211.77 95.22L208.73 93.47" stroke="#222" stroke-width="0.85" fill="none"/>
<path d="M210.25 96.4L210.25 99.9M211.77 97.28L208.73 99.03M211.77 99.03L208.73 97.28" stroke="#222" stroke-width="0.85" fill="none"/>
<path d="M210.25 100.2L210.25 103.7M211.77 101.08L208.73 102.83M211.77 102.83L208.73 101.08" stroke="#222" stroke-width="0.85" fill="none"/>
<line x1="233.1" y1="129.33" x2="233.1" y2="124.96" stroke="#111" stroke-width="1.15"/>
<line x1="229.5" y1="124.96" x2="236.7" y2="124.96" stroke="#111" stroke-width="1.15"/>
<rect x="226.38" y="130.26" width="13.45" height="30.04" fill="#5a5a5a" stroke="#000" stroke-width="1.85"/>
<line x1="233.1" y1="160.3" x2="233.1" y2="166.3" stroke="#000" stroke-width="1.5"/>
<text x="233.1" y="177.6" font-size="10.8" text-anchor="middle" fill="#111" >8</text>
<path d="M233.1 113.9L233.1 117.4M234.62 114.78L231.58 116.53M234.62 116.53L231.58 114.78" stroke="#222" stroke-width="0.85" fill="none"/>
<path d="M233.1 117.8L233.1 121.3M234.62 118.67L231.58 120.42M234.62 120.42L231.58 118.67" stroke="#222" stroke-width="0.85" fill="none"/>
<line x1="255.95" y1="141.97" x2="255.95" y2="140.73" stroke="#111" stroke-width="1.15"/>
<line x1="252.35" y1="140.73" x2="259.55" y2="140.73" stroke="#111" stroke-width="1.15"/>
<rect x="249.23" y="142.89" width="13.45" height="17.41" fill="#e3e3e3" stroke="#000" stroke-width="1.85"/>
<line x1="255.95" y1="160.3" x2="255.95" y2="166.3" stroke="#000" stroke-width="1.5"/>
<text x="255.95" y="177.6" font-size="10.8" text-anchor="middle" fill="#111" >16</text>
<path d="M255.95 127.4L255.95 130.9M257.47 128.28L254.43 130.03M257.47 130.03L254.43 128.28" stroke="#222" stroke-width="0.85" fill="none"/>
<path d="M255.95 131.2L255.95 134.7M257.47 132.07L254.43 133.82M257.47 133.82L254.43 132.07" stroke="#222" stroke-width="0.85" fill="none"/>
<path d="M255.95 135L255.95 138.5M257.47 135.88L254.43 137.62M257.47 137.62L254.43 135.88" stroke="#222" stroke-width="0.85" fill="none"/>
<line x1="278.8" y1="153.08" x2="278.8" y2="150.42" stroke="#111" stroke-width="1.15"/>
<line x1="275.2" y1="150.42" x2="282.4" y2="150.42" stroke="#111" stroke-width="1.15"/>
<rect x="272.08" y="154.01" width="13.45" height="6.29" fill="#9c9c9c" stroke="#000" stroke-width="1.85"/>
<line x1="278.8" y1="160.3" x2="278.8" y2="166.3" stroke="#000" stroke-width="1.5"/>
<text x="278.8" y="177.6" font-size="10.8" text-anchor="middle" fill="#111" >32</text>
<path d="M278.8 136.1L278.8 139.6M280.32 136.97L277.28 138.72M280.32 138.72L277.28 136.97" stroke="#222" stroke-width="0.85" fill="none"/>
<path d="M278.8 139.9L278.8 143.4M280.32 140.77L277.28 142.52M280.32 142.52L277.28 140.77" stroke="#222" stroke-width="0.85" fill="none"/>
<path d="M278.8 143.7L278.8 147.2M280.32 144.57L277.28 146.32M280.32 146.32L277.28 144.57" stroke="#222" stroke-width="0.85" fill="none"/>
<text x="98.2" y="196.3" font-size="11.5" text-anchor="start" fill="#111" >Atovaquone concentration (μM)</text>
<text transform="translate(53.6 92.9) rotate(-90)" font-size="11.0" text-anchor="middle" fill="#111">Relative Cell viability&#160; of control</text>
<text transform="translate(32.6 96.2) rotate(-90)" font-size="11.2" text-anchor="middle" fill="#111">SW480</text>
<line x1="36.9" y1="56.5" x2="36.9" y2="131.2" stroke="#222" stroke-width="1.0"/>
<path d="M422.7 17.1V160.4H637.7" stroke="#000" stroke-width="1.7" fill="none"/>
<line x1="417.2" y1="160.4" x2="422.7" y2="160.4" stroke="#000" stroke-width="1.5"/>
<text x="415.3" y="164.2" font-size="10.6" text-anchor="end" fill="#111" >0.0</text>
<line x1="417.2" y1="112.9" x2="422.7" y2="112.9" stroke="#000" stroke-width="1.5"/>
<text x="415.3" y="116.7" font-size="10.6" text-anchor="end" fill="#111" >0.5</text>
<line x1="417.2" y1="65.4" x2="422.7" y2="65.4" stroke="#000" stroke-width="1.5"/>
<text x="415.3" y="69.2" font-size="10.6" text-anchor="end" fill="#111" >1.0</text>
<line x1="417.2" y1="17.9" x2="422.7" y2="17.9" stroke="#000" stroke-width="1.5"/>
<text x="415.3" y="21.7" font-size="10.6" text-anchor="end" fill="#111" >1.5</text>
<line x1="438" y1="69.39" x2="438" y2="67.59" stroke="#111" stroke-width="1.15"/>
<line x1="434.4" y1="67.59" x2="441.6" y2="67.59" stroke="#111" stroke-width="1.15"/>
<rect x="431.28" y="70.32" width="13.45" height="90.08" fill="#000" stroke="#000" stroke-width="1.85"/>
<line x1="438" y1="160.4" x2="438" y2="166.4" stroke="#000" stroke-width="1.5"/>
<text x="438" y="177.6" font-size="10.8" text-anchor="middle" fill="#111" >0</text>
<line x1="460.85" y1="72.24" x2="460.85" y2="70.44" stroke="#111" stroke-width="1.15"/>
<line x1="457.25" y1="70.44" x2="464.45" y2="70.44" stroke="#111" stroke-width="1.15"/>
<rect x="454.13" y="73.16" width="13.45" height="87.24" fill="#a3a3a3" stroke="#000" stroke-width="1.85"/>
<line x1="460.85" y1="160.4" x2="460.85" y2="166.4" stroke="#000" stroke-width="1.5"/>
<text x="460.85" y="177.6" font-size="10.8" text-anchor="middle" fill="#111" >0.25</text>
<text x="461.15" y="67.7" font-size="11.2" text-anchor="middle" fill="#111" >ns</text>
<line x1="483.7" y1="75.95" x2="483.7" y2="73.86" stroke="#111" stroke-width="1.15"/>
<line x1="480.1" y1="73.86" x2="487.3" y2="73.86" stroke="#111" stroke-width="1.15"/>
<rect x="476.98" y="76.87" width="13.45" height="83.53" fill="#7f7f7f" stroke="#000" stroke-width="1.85"/>
<line x1="483.7" y1="160.4" x2="483.7" y2="166.4" stroke="#000" stroke-width="1.5"/>
<text x="483.7" y="177.6" font-size="10.8" text-anchor="middle" fill="#111" >0.5</text>
<text x="484" y="71.4" font-size="11.2" text-anchor="middle" fill="#111" >ns</text>
<line x1="506.55" y1="80.03" x2="506.55" y2="75.28" stroke="#111" stroke-width="1.15"/>
<line x1="502.95" y1="75.28" x2="510.15" y2="75.28" stroke="#111" stroke-width="1.15"/>
<rect x="499.83" y="80.95" width="13.45" height="79.45" fill="#d7d7d7" stroke="#000" stroke-width="1.85"/>
<line x1="506.55" y1="160.4" x2="506.55" y2="166.4" stroke="#000" stroke-width="1.5"/>
<text x="506.55" y="177.6" font-size="10.8" text-anchor="middle" fill="#111" >1</text>
<text x="506.85" y="73.2" font-size="11.2" text-anchor="middle" fill="#111" >ns</text>
<line x1="529.4" y1="93.05" x2="529.4" y2="90.39" stroke="#111" stroke-width="1.15"/>
<line x1="525.8" y1="90.39" x2="533" y2="90.39" stroke="#111" stroke-width="1.15"/>
<rect x="522.67" y="93.97" width="13.45" height="66.43" fill="#5d5d5d" stroke="#000" stroke-width="1.85"/>
<line x1="529.4" y1="160.4" x2="529.4" y2="166.4" stroke="#000" stroke-width="1.5"/>
<text x="529.4" y="177.6" font-size="10.8" text-anchor="middle" fill="#111" >2</text>
<path d="M529.4 80.2L529.4 83.7M530.92 81.08L527.88 82.83M530.92 82.83L527.88 81.08" stroke="#222" stroke-width="0.85" fill="none"/>
<path d="M529.4 84.1L529.4 87.6M530.92 84.97L527.88 86.72M530.92 86.72L527.88 84.97" stroke="#222" stroke-width="0.85" fill="none"/>
<line x1="552.25" y1="112.9" x2="552.25" y2="109.48" stroke="#111" stroke-width="1.15"/>
<line x1="548.65" y1="109.48" x2="555.85" y2="109.48" stroke="#111" stroke-width="1.15"/>
<rect x="545.52" y="113.83" width="13.45" height="46.58" fill="#a3a3a3" stroke="#000" stroke-width="1.85"/>
<line x1="552.25" y1="160.4" x2="552.25" y2="166.4" stroke="#000" stroke-width="1.5"/>
<text x="552.25" y="177.6" font-size="10.8" text-anchor="middle" fill="#111" >4</text>
<path d="M552.25 95.5L552.25 99M553.77 96.38L550.73 98.12M553.77 98.12L550.73 96.38" stroke="#222" stroke-width="0.85" fill="none"/>
<path d="M552.25 99.2L552.25 102.7M553.77 100.08L550.73 101.83M553.77 101.83L550.73 100.08" stroke="#222" stroke-width="0.85" fill="none"/>
<path d="M552.25 102.9L552.25 106.4M553.77 103.78L550.73 105.53M553.77 105.53L550.73 103.78" stroke="#222" stroke-width="0.85" fill="none"/>
<line x1="575.1" y1="133.99" x2="575.1" y2="131.9" stroke="#111" stroke-width="1.15"/>
<line x1="571.5" y1="131.9" x2="578.7" y2="131.9" stroke="#111" stroke-width="1.15"/>
<rect x="568.38" y="134.92" width="13.45" height="25.48" fill="#5a5a5a" stroke="#000" stroke-width="1.85"/>
<line x1="575.1" y1="160.4" x2="575.1" y2="166.4" stroke="#000" stroke-width="1.5"/>
<text x="575.1" y="177.6" font-size="10.8" text-anchor="middle" fill="#111" >8</text>
<path d="M575.1 117.5L575.1 121M576.62 118.38L573.58 120.12M576.62 120.12L573.58 118.38" stroke="#222" stroke-width="0.85" fill="none"/>
<path d="M575.1 121.15L575.1 124.65M576.62 122.03L573.58 123.78M576.62 123.78L573.58 122.03" stroke="#222" stroke-width="0.85" fill="none"/>
<path d="M575.1 124.8L575.1 128.3M576.62 125.68L573.58 127.43M576.62 127.43L573.58 125.68" stroke="#222" stroke-width="0.85" fill="none"/>
<line x1="597.95" y1="148.62" x2="597.95" y2="145.49" stroke="#111" stroke-width="1.15"/>
<line x1="594.35" y1="145.49" x2="601.55" y2="145.49" stroke="#111" stroke-width="1.15"/>
<rect x="591.23" y="149.55" width="13.45" height="10.86" fill="#e3e3e3" stroke="#000" stroke-width="1.85"/>
<line x1="597.95" y1="160.4" x2="597.95" y2="166.4" stroke="#000" stroke-width="1.5"/>
<text x="597.95" y="177.6" font-size="10.8" text-anchor="middle" fill="#111" >16</text>
<path d="M597.95 131.5L597.95 135M599.47 132.38L596.43 134.12M599.47 134.12L596.43 132.38" stroke="#222" stroke-width="0.85" fill="none"/>
<path d="M597.95 136L597.95 139.5M599.47 136.88L596.43 138.62M599.47 138.62L596.43 136.88" stroke="#222" stroke-width="0.85" fill="none"/>
<path d="M597.95 140.5L597.95 144M599.47 141.38L596.43 143.12M599.47 143.12L596.43 141.38" stroke="#222" stroke-width="0.85" fill="none"/>
<line x1="620.8" y1="153.75" x2="620.8" y2="151.47" stroke="#111" stroke-width="1.15"/>
<line x1="617.2" y1="151.47" x2="624.4" y2="151.47" stroke="#111" stroke-width="1.15"/>
<rect x="614.07" y="154.68" width="13.45" height="5.73" fill="#9c9c9c" stroke="#000" stroke-width="1.85"/>
<line x1="620.8" y1="160.4" x2="620.8" y2="166.4" stroke="#000" stroke-width="1.5"/>
<text x="620.8" y="177.6" font-size="10.8" text-anchor="middle" fill="#111" >32</text>
<path d="M620.8 137.3L620.8 140.8M622.32 138.18L619.28 139.93M622.32 139.93L619.28 138.18" stroke="#222" stroke-width="0.85" fill="none"/>
<path d="M620.8 141.55L620.8 145.05M622.32 142.43L619.28 144.18M622.32 144.18L619.28 142.43" stroke="#222" stroke-width="0.85" fill="none"/>
<path d="M620.8 145.8L620.8 149.3M622.32 146.68L619.28 148.43M622.32 148.43L619.28 146.68" stroke="#222" stroke-width="0.85" fill="none"/>
<text x="440.2" y="196.3" font-size="11.5" text-anchor="start" fill="#111" >Atovaquone concentration (μM)</text>
<text transform="translate(392.9 92.9) rotate(-90)" font-size="11.0" text-anchor="middle" fill="#111">Relative Cell viability&#160; of control</text>
<text transform="translate(373.5 96.2) rotate(-90)" font-size="11.2" text-anchor="middle" fill="#111">SW620</text>
<line x1="377.3" y1="56.5" x2="377.3" y2="131.2" stroke="#222" stroke-width="1.0"/>
<text transform="translate(1.1 11.3) scale(0.62 1)" font-size="12.0" fill="#111" stroke="#111" stroke-width="0.35">A</text>
<text transform="translate(335.6 8.8) scale(0.72 1)" font-size="12.2" fill="#111" stroke="#111" stroke-width="0.35">B</text>
<text transform="translate(7.9 212.8) scale(0.72 1)" font-size="12.2" fill="#111" stroke="#111" stroke-width="0.35">C</text>
<text transform="translate(338.8 212.8) scale(0.72 1)" font-size="12.2" fill="#111" stroke="#111" stroke-width="0.35">D</text>
<text transform="translate(8.6 387.1) scale(0.8 1)" font-size="12.2" fill="#111">E</text>
<text x="10.2" y="230" font-size="11.4" text-anchor="start" fill="#111" >Atovaquone</text>
<text x="28.5" y="243.8" font-size="11.4" text-anchor="start" fill="#111" >(μM)</text>
<line x1="71.5" y1="234.2" x2="234" y2="234.2" stroke="#444" stroke-width="1.0"/>
<text x="131.5" y="224.2" font-size="11.3" text-anchor="start" fill="#111" >SW480</text>
<text x="81" y="251.2" font-size="11.3" text-anchor="middle" fill="#111" >0</text>
<text x="151.5" y="251.2" font-size="11.3" text-anchor="middle" fill="#111" >0.5</text>
<text x="222.5" y="251.2" font-size="11.3" text-anchor="middle" fill="#111" >1</text>
<text x="344.4" y="229.3" font-size="11.4" text-anchor="start" fill="#111" >Atovaquone</text>
<text x="362.4" y="243.3" font-size="11.4" text-anchor="start" fill="#111" >(μM)</text>
<line x1="401.6" y1="234.2" x2="564.4" y2="234.2" stroke="#444" stroke-width="1.0"/>
<text x="462" y="224.2" font-size="11.3" text-anchor="start" fill="#111" >SW620</text>
<text x="410.5" y="251.2" font-size="11.3" text-anchor="middle" fill="#111" >0</text>
<text x="478.8" y="251.2" font-size="11.3" text-anchor="middle" fill="#111" >0.5</text>
<text x="550.5" y="251.2" font-size="11.3" text-anchor="middle" fill="#111" >1</text>
<text transform="translate(40.6 280.1) rotate(-90)" font-size="11.5" text-anchor="middle" fill="#111">Migration</text>
<text transform="translate(40.6 335.5) rotate(-90)" font-size="11.5" text-anchor="middle" fill="#111">Invasion</text>
<text transform="translate(368.6 280) rotate(-90)" font-size="11.5" text-anchor="middle" fill="#111">Migration</text>
<text transform="translate(368.6 335.3) rotate(-90)" font-size="11.5" text-anchor="middle" fill="#111">Invasion</text>
<rect x="47.5" y="255.5" width="68" height="51" fill="#fcfcff" stroke="#c6c6c6" stroke-width="1"/>
<path d="M111.1 266.2h1v1h-1zM102.7 263.3h1v1h-1zM81.8 262.7h1v1h-1zM93.5 297.2h1v1h-1zM76.1 302.9h1v1h-1zM102.5 272.6h1v1h-1zM86 292.9h1v1h-1zM102.6 301.7h1v1h-1zM57.6 292.5h1v1h-1zM57.2 300.4h1v1h-1zM62.9 297.8h1v1h-1zM68.2 303.5h1v1h-1zM82.2 271.8h1v1h-1zM66.6 285.7h1v1h-1zM70 289.3h1v1h-1zM58.2 268.2h1v1h-1zM105.4 285.4h1v1h-1zM65.3 263.3h1v1h-1zM57 268.2h1v1h-1zM73.3 287.8h1v1h-1zM103.3 294h1v1h-1zM70.4 263.3h1v1h-1zM78.2 277.5h1v1h-1zM85.9 274.3h1v1h-1zM89.8 261.6h1v1h-1zM63.4 293.6h1v1h-1zM113.2 295.6h1v1h-1zM103.6 295h1v1h-1zM78.2 292.2h1v1h-1zM86.2 278.1h1v1h-1zM65.9 298.4h1v1h-1zM52.5 296h1v1h-1zM106.2 276.8h1v1h-1zM103 272.7h1v1h-1zM82.3 282.9h1v1h-1zM60.7 272.3h1v1h-1zM66.3 278.4h1v1h-1zM92.5 289.5h1v1h-1zM82.6 278.8h1v1h-1zM81.6 271.9h1v1h-1zM59.4 270.7h1v1h-1zM90.8 259.2h1v1h-1zM89.8 269.7h1v1h-1zM60.3 280h1v1h-1zM71.3 260.7h1v1h-1zM94.8 294.8h1v1h-1zM50.9 286.7h1v1h-1zM64.5 276.9h1v1h-1zM100.2 282h1v1h-1zM48.9 257h1v1h-1zM73.8 299.9h1v1h-1zM63.3 277.8h1v1h-1zM57.5 295.7h1v1h-1zM73.2 273.5h1v1h-1zM65 297h1v1h-1zM76.8 258.4h1v1h-1zM101 268.4h1v1h-1zM60 267.5h1v1h-1zM83.9 303.2h1v1h-1zM66.8 278.4h1v1h-1zM88.5 303.8h1v1h-1zM110.9 275.6h1v1h-1zM72.6 277h1v1h-1zM55.3 296.7h1v1h-1zM106.6 274.4h1v1h-1zM95.9 292.3h1v1h-1zM77 297.9h1v1h-1zM112.6 303h1v1h-1zM76.7 265h1v1h-1zM99.9 302.3h1v1h-1zM82.1 269.7h1v1h-1zM108 298.4h1v1h-1zM80.3 298.6h1v1h-1zM73.7 257.3h1v1h-1zM54.2 279.2h1v1h-1zM66 256.7h1v1h-1zM60.8 294.2h1v1h-1zM60.1 266.1h1v1h-1zM107.9 261.6h1v1h-1zM72.6 261.8h1v1h-1zM93 257h1v1h-1zM103.7 262.7h1v1h-1zM104.5 284.3h1v1h-1zM73.5 279.6h1v1h-1zM74.2 270.6h1v1h-1zM111.6 276.2h1v1h-1zM80.8 297.5h1v1h-1zM53.1 261h1v1h-1zM112.3 289.3h1v1h-1zM72.1 304h1v1h-1zM81 278.3h1v1h-1zM62.4 283h1v1h-1zM68.8 288.8h1v1h-1zM64.7 288.9h1v1h-1zM76.2 273.9h1v1h-1zM55.1 263h1v1h-1zM72.2 302.3h1v1h-1zM86.3 262.1h1v1h-1zM83.4 273.6h1v1h-1zM55.1 273.2h1v1h-1zM61.9 295.6h1v1h-1zM94.8 270.5h1v1h-1zM99.7 277.1h1v1h-1zM112.7 294.4h1v1h-1zM72.9 279.8h1v1h-1zM79.6 284h1v1h-1zM56.9 266.7h1v1h-1zM69.8 281.4h1v1h-1zM59.2 300.3h1v1h-1zM59 296.6h1v1h-1zM60.3 282.9h1v1h-1zM58.3 282.1h1v1h-1zM54.9 286.9h1v1h-1zM57.9 290h1v1h-1zM57.3 302.8h1v1h-1zM81.8 268.9h1v1h-1zM50 272.2h1v1h-1zM110.4 275.5h1v1h-1zM106.7 259.6h1v1h-1zM65.5 301.6h1v1h-1zM72.3 260.7h1v1h-1zM97.2 292.7h1v1h-1zM64.1 285.8h1v1h-1zM111.2 272.9h1v1h-1zM57.2 299.3h1v1h-1zM80.2 284.9h1v1h-1zM96.6 260.3h1v1h-1zM62.9 291.2h1v1h-1zM103.3 273.8h1v1h-1zM81.6 302.7h1v1h-1zM90.5 304.3h1v1h-1zM97.4 287.8h1v1h-1zM74.6 277.5h1v1h-1zM77.6 277.2h1v1h-1zM90.5 259.2h1v1h-1zM58.4 286.1h1v1h-1zM83.1 269.6h1v1h-1zM50.9 262.5h1v1h-1zM111.7 277.7h1v1h-1zM58.9 260.2h1v1h-1zM100.3 263h1v1h-1zM77.8 278.1h1v1h-1zM83.8 304.7h1v1h-1zM81 259.8h1v1h-1zM95 292.6h1v1h-1zM103.7 256.3h1v1h-1zM109.2 290.3h1v1h-1zM92.6 289.6h1v1h-1zM85.4 280.3h1v1h-1zM53.3 280.8h1v1h-1zM94 287.4h1v1h-1zM68.8 278.5h1v1h-1zM101.9 287.7h1v1h-1zM107.8 280.5h1v1h-1zM81.7 269.3h1v1h-1zM88.3 258.1h1v1h-1zM84.9 293.3h1v1h-1zM96.6 282.7h1v1h-1zM76 265.2h1v1h-1zM72.1 257.7h1v1h-1zM100.1 301.5h1v1h-1zM71.9 260.5h1v1h-1zM89.8 274.9h1v1h-1zM112.5 290.7h1v1h-1zM50.6 283.9h1v1h-1zM75.8 296.7h1v1h-1zM88.5 257.1h1v1h-1zM79 300h1v1h-1zM84.9 268.3h1v1h-1zM50.9 294.2h1v1h-1zM54.3 283.8h1v1h-1zM110.7 295.7h1v1h-1zM48.3 279.1h1v1h-1zM112.6 272.5h1v1h-1zM93.1 300.7h1v1h-1zM75.7 267h1v1h-1zM103.2 301.2h1v1h-1zM79.4 288.9h1v1h-1zM101.1 256.6h1v1h-1zM89.4 273.3h1v1h-1zM85.4 297.2h1v1h-1zM62.5 258.4h1v1h-1zM85.6 302.6h1v1h-1zM63.1 301.8h1v1h-1zM108.8 296.5h1v1h-1zM87.7 284h1v1h-1zM89.8 294.4h1v1h-1zM54.8 292.2h1v1h-1zM58.1 287h1v1h-1zM77.4 288.4h1v1h-1zM66.7 262.8h1v1h-1zM89.8 275.8h1v1h-1zM93.1 269.1h1v1h-1zM82.3 297.1h1v1h-1zM55 283.8h1v1h-1zM105.4 300.4h1v1h-1zM54.6 274.5h1v1h-1zM97.4 279.5h1v1h-1zM102.5 261.4h1v1h-1zM67.7 256.8h1v1h-1zM100.1 256.8h1v1h-1zM64.3 283.4h1v1h-1zM48 273.2h1v1h-1zM82.3 259.6h1v1h-1zM100.2 292.7h1v1h-1zM64.1 295.6h1v1h-1zM81.4 285.8h1v1h-1zM113 256.3h1v1h-1zM80.4 296.5h1v1h-1zM105.4 270h1v1h-1zM82.3 270.5h1v1h-1zM80.4 288.9h1v1h-1zM98.5 284.7h1v1h-1zM73.8 269h1v1h-1zM95.2 259.7h1v1h-1zM53.2 269.8h1v1h-1zM53.5 299.3h1v1h-1zM112.4 283.6h1v1h-1zM84.4 280.6h1v1h-1zM61 269.9h1v1h-1zM76.5 258.9h1v1h-1zM107.5 273.2h1v1h-1zM77.8 266.5h1v1h-1zM69.9 299.4h1v1h-1zM66.2 288.9h1v1h-1zM105.8 282.4h1v1h-1zM102 273.1h1v1h-1zM95.8 265h1v1h-1zM102.6 260.2h1v1h-1zM73.8 303.1h1v1h-1zM102.8 286.5h1v1h-1zM72.9 278h1v1h-1zM87.7 273.2h1v1h-1zM87.5 297.5h1v1h-1zM63.2 285.7h1v1h-1zM108 274.1h1v1h-1zM100.7 257.7h1v1h-1zM68.5 298.6h1v1h-1zM88.6 304.4h1v1h-1zM83.9 267h1v1h-1zM51 304.2h1v1h-1zM52.3 297.5h1v1h-1zM91.2 300.6h1v1h-1zM112.6 276h1v1h-1zM61.2 296.3h1v1h-1zM75.1 256.6h1v1h-1zM109.8 282.9h1v1h-1zM96.6 262.6h1v1h-1zM78.2 295.5h1v1h-1zM112.9 270.8h1v1h-1zM72.8 296.5h1v1h-1zM56.7 265.6h1v1h-1zM102.9 299.3h1v1h-1zM103.7 257.3h1v1h-1zM76.9 300.3h1v1h-1zM93.1 260.3h1v1h-1zM95 266.5h1v1h-1zM53.1 264.6h1v1h-1zM109.3 267.7h1v1h-1zM77.9 288.7h1v1h-1zM53.3 292.9h1v1h-1zM56.9 299h1v1h-1zM69.8 290h1v1h-1zM93.4 261.1h1v1h-1zM57.5 294.3h1v1h-1zM75.5 276.5h1v1h-1zM68 297.7h1v1h-1zM58.4 279.2h1v1h-1zM104.4 266.8h1v1h-1zM74.1 285.9h1v1h-1zM77.5 302.2h1v1h-1zM56.3 265.6h1v1h-1zM53.4 274.5h1v1h-1zM50.6 268.7h1v1h-1zM113.6 263.5h1v1h-1zM68.1 302.2h1v1h-1zM81.7 299.2h1v1h-1zM113.5 279.3h1v1h-1zM97.5 286.3h1v1h-1zM49 294.2h1v1h-1zM57.7 265h1v1h-1zM67.8 289.4h1v1h-1zM51.3 276.7h1v1h-1zM103.7 290.2h1v1h-1zM86.9 299.4h1v1h-1zM70.2 260.1h1v1h-1zM69.8 269h1v1h-1zM94.7 293.9h1v1h-1zM81.6 261.7h1v1h-1zM77.5 298.9h1v1h-1zM80.1 300.8h1v1h-1zM113 263.3h1v1h-1zM109.1 261.8h1v1h-1zM79.6 272.5h1v1h-1zM108.8 274.9h1v1h-1zM74.7 302.3h1v1h-1zM60.2 269.1h1v1h-1zM80.5 265.1h1v1h-1zM81.4 263.1h1v1h-1zM69.4 291.7h1v1h-1zM79.7 270.2h1v1h-1zM70.6 267.9h1v1h-1zM104 290h1v1h-1zM53.8 259.7h1v1h-1zM75.5 272.9h1v1h-1zM86.9 277.8h1v1h-1zM66.8 283.5h1v1h-1zM86.6 279.5h1v1h-1zM109.3 285h1v1h-1zM97 302.4h1v1h-1zM91 297h1v1h-1zM84.8 288.5h1v1h-1zM66.7 274h1v1h-1zM80.6 274.9h1v1h-1zM73.8 286.1h1v1h-1zM60.3 273.3h1v1h-1zM89.6 265.2h1v1h-1zM59.6 286.2h1v1h-1zM56.6 304.2h1v1h-1zM51.2 260.1h1v1h-1zM82.9 289.9h1v1h-1zM58.7 277.5h1v1h-1zM83.7 268.9h1v1h-1zM103.5 264.7h1v1h-1zM107.6 257.3h1v1h-1zM108.7 287.7h1v1h-1zM87 270.9h1v1h-1zM50.3 281.9h1v1h-1zM108.5 288.3h1v1h-1zM100.9 275.1h1v1h-1zM99.8 304.6h1v1h-1zM73.6 287.3h1v1h-1zM68.3 273.5h1v1h-1zM52.6 256.3h1v1h-1zM99.6 259.3h1v1h-1zM99.3 288.2h1v1h-1zM101 269.7h1v1h-1zM103.2 288.9h1v1h-1zM83.2 281.8h1v1h-1zM86.9 297.2h1v1h-1zM106.6 286.5h1v1h-1zM86.3 282.6h1v1h-1zM81.4 305h1v1h-1zM63.8 293.6h1v1h-1zM51.6 301.5h1v1h-1zM97 287.6h1v1h-1zM105.4 284.1h1v1h-1zM54.4 273.4h1v1h-1zM109.5 260h1v1h-1zM50.4 304.8h1v1h-1zM53.6 256.6h1v1h-1zM49.3 298.7h1v1h-1zM49.1 294.3h1v1h-1zM95.6 279.4h1v1h-1zM79.9 302.2h1v1h-1zM53.1 258.2h1v1h-1zM48.6 284.3h1v1h-1zM74.1 303.2h1v1h-1zM96.4 268.4h1v1h-1zM108.9 283h1v1h-1zM77.1 274.1h1v1h-1zM80.2 286.3h1v1h-1zM114 304h1v1h-1zM87.7 276h1v1h-1zM64.7 304.9h1v1h-1zM101.1 272.1h1v1h-1zM78.2 271.3h1v1h-1zM113.3 283.5h1v1h-1zM76.3 274.3h1v1h-1zM91.8 263.8h1v1h-1zM107.8 283h1v1h-1zM80.6 291.8h1v1h-1zM108.7 264.9h1v1h-1zM56.6 300.2h1v1h-1zM108.4 293.7h1v1h-1zM79.6 272.7h1v1h-1zM113.6 262.6h1v1h-1zM112.6 259.8h1v1h-1zM113.9 298.2h1v1h-1zM63 300.5h1v1h-1zM100.9 299h1v1h-1zM111.7 301.5h1v1h-1zM76 280h1v1h-1zM69.9 260.8h1v1h-1zM78.7 266.3h1v1h-1zM70.2 296.3h1v1h-1zM49.5 257.3h1v1h-1zM104.6 286.9h1v1h-1zM103.1 278.5h1v1h-1zM98.3 262.3h1v1h-1zM106.6 290.7h1v1h-1zM61.3 280.6h1v1h-1zM55.4 276.4h1v1h-1zM102.3 289h1v1h-1zM88.7 296h1v1h-1zM100.3 275.2h1v1h-1zM93.3 302.1h1v1h-1zM87.3 298.6h1v1h-1zM108.8 276.3h1v1h-1zM68.6 304.2h1v1h-1zM63.9 296.3h1v1h-1zM87.2 266.3h1v1h-1zM62.8 275h1v1h-1zM60.4 293h1v1h-1zM113.6 284.5h1v1h-1zM77.5 277.4h1v1h-1zM92.6 288.7h1v1h-1zM72.5 261.8h1v1h-1zM86.1 288.7h1v1h-1zM94.4 263.3h1v1h-1zM110.6 269.2h1v1h-1zM66.3 278.1h1v1h-1zM53 299.2h1v1h-1zM78.5 293.1h1v1h-1zM73.8 285.5h1v1h-1zM49.3 278.6h1v1h-1zM102.5 298.6h1v1h-1zM72 297h1v1h-1zM101.2 290.9h1v1h-1zM97.6 273.3h1v1h-1z" fill="#bcc0ee"/><g filter="url(#soft)"><path d="M95.8 261.5h1.8v1.8h-1.8zM103.5 261.7h1.9v1.9h-1.9zM97.3 270h1.8v1.8h-1.8zM108.9 258.6h1.4v1.4h-1.4zM86.1 260.1h1.5v1.5h-1.5zM56.1 262.3h1.5v1.5h-1.5zM84.7 264.2h1.7v1.7h-1.7zM77.9 269.3h2v2h-2zM86.6 265.7h1.6v1.6h-1.6zM82.1 266h1.3v1.3h-1.3zM108.2 269h1.5v1.5h-1.5zM106.5 271.7h1.6v1.6h-1.6zM103.1 276.2h1.6v1.6h-1.6zM58.8 295.6h1.4v1.4h-1.4zM58.6 302.6h1.5v1.5h-1.5zM60 295.9h1.8v1.8h-1.8zM49.5 266.7h2v2h-2zM106.2 277.5h1.4v1.4h-1.4zM95.7 294.6h1.8v1.8h-1.8zM93.9 291.9h1.6v1.6h-1.6zM83.7 299.5h1.8v1.8h-1.8zM88.4 300.5h1.4v1.4h-1.4zM54.4 266.7h1.5v1.5h-1.5zM55.5 269.3h1.8v1.8h-1.8zM58.8 298.2h1.4v1.4h-1.4zM78.3 301.6h2v2h-2zM66.7 299.9h1.8v1.8h-1.8zM71.1 300.2h1.7v1.7h-1.7zM74.8 301.4h1.7v1.7h-1.7zM68.8 270.9h1.6v1.6h-1.6zM112 279.8h1.6v1.6h-1.6zM79.9 276.9h1.3v1.3h-1.3zM89 272.9h1.8v1.8h-1.8zM86.3 277.7h1.4v1.4h-1.4zM80.7 271.3h1.3v1.3h-1.3zM72.6 277.5h1.5v1.5h-1.5zM66.1 277.1h1.5v1.5h-1.5zM81.1 303.4h1.6v1.6h-1.6zM60.8 260.8h1.5v1.5h-1.5zM79.2 293.1h1.9v1.9h-1.9zM105.7 297.6h1.4v1.4h-1.4zM106.1 299.7h1.9v1.9h-1.9zM102.6 296.6h1.8v1.8h-1.8zM103.3 299.2h1.5v1.5h-1.5zM108.7 302.2h1.6v1.6h-1.6zM106.4 296.5h1.6v1.6h-1.6zM101.5 293.1h1.4v1.4h-1.4zM104.2 294.8h1.7v1.7h-1.7zM98.3 261.5h1.8v1.8h-1.8zM92.2 269.1h1.8v1.8h-1.8zM97.7 264.6h1.9v1.9h-1.9zM53.7 276.8h1.4v1.4h-1.4zM111.2 299.5h1.8v1.8h-1.8zM112.2 303.2h1.5v1.5h-1.5zM65.1 264.8h1.4v1.4h-1.4zM68.3 263.9h1.5v1.5h-1.5zM70.3 263.4h1.9v1.9h-1.9zM65.8 264.3h1.9v1.9h-1.9zM67.8 267h1.9v1.9h-1.9zM69.8 265h1.4v1.4h-1.4zM66.8 267.3h1.9v1.9h-1.9zM75.4 267.3h1.3v1.3h-1.3zM72.3 262.6h1.7v1.7h-1.7zM74.7 263.7h1.3v1.3h-1.3zM90.6 297.2h1.7v1.7h-1.7zM72.5 268.9h1.9v1.9h-1.9zM73.3 270.5h1.6v1.6h-1.6zM77.9 266.5h2v2h-2zM107.6 262.4h1.9v1.9h-1.9zM112.7 259.8h1.6v1.6h-1.6zM108.6 266.2h1.8v1.8h-1.8zM113.1 264.2h1.6v1.6h-1.6zM111.1 262.1h1.7v1.7h-1.7zM69 293.3h1.7v1.7h-1.7zM72.2 292.7h1.7v1.7h-1.7zM66.1 293.6h1.6v1.6h-1.6zM95.7 293.3h1.7v1.7h-1.7zM91.6 258.7h1.5v1.5h-1.5zM98.2 261.6h1.7v1.7h-1.7zM87.9 262.3h2v2h-2zM96.5 259.2h1.9v1.9h-1.9zM98.4 292.5h1.8v1.8h-1.8zM64.2 297.5h1.6v1.6h-1.6zM111 295h1.8v1.8h-1.8zM74.4 285.9h1.7v1.7h-1.7zM70.7 262.7h1.9v1.9h-1.9zM48.7 298.7h1.9v1.9h-1.9zM84.6 293.6h2v2h-2zM61.4 294h1.7v1.7h-1.7zM92.2 266.6h1.9v1.9h-1.9zM60.4 278.8h1.4v1.4h-1.4zM101.4 283.5h1.4v1.4h-1.4zM90.2 262.8h1.4v1.4h-1.4zM75.5 273.2h1.4v1.4h-1.4zM108.6 262.9h1.5v1.5h-1.5zM105.9 298.9h1.4v1.4h-1.4zM101.2 271.5h1.3v1.3h-1.3zM68.3 263.2h1.6v1.6h-1.6zM49.5 288.5h1.9v1.9h-1.9zM101.4 277.9h1.5v1.5h-1.5zM75.4 284.2h1.7v1.7h-1.7zM53.2 264.8h1.4v1.4h-1.4zM82.3 298h1.9v1.9h-1.9zM64.5 295.5h1.4v1.4h-1.4z" fill="#2a2eb8"/><path d="M105.7 265.2h1.3v1.3h-1.3zM102.2 256.9h1.6v1.6h-1.6zM89.8 260.3h1.8v1.8h-1.8zM57.4 268.4h1.4v1.4h-1.4zM80.9 262.8h1.4v1.4h-1.4zM86.6 269.3h1.8v1.8h-1.8zM76.6 265.7h1.5v1.5h-1.5zM81.2 272h1.4v1.4h-1.4zM105.7 274h1.5v1.5h-1.5zM104.8 271.5h1.4v1.4h-1.4zM106.1 270h2v2h-2zM102.4 269.4h1.5v1.5h-1.5zM106.2 274.1h1.5v1.5h-1.5zM93 268.1h1.8v1.8h-1.8zM90 266.7h1.7v1.7h-1.7zM65 302.5h1.4v1.4h-1.4zM60.3 299.8h1.7v1.7h-1.7zM64.6 303.3h2v2h-2zM52.2 301h1.8v1.8h-1.8zM48.8 299.5h1.5v1.5h-1.5zM54.7 259.1h1.4v1.4h-1.4zM53.9 262.8h1.6v1.6h-1.6zM52.4 257.2h1.5v1.5h-1.5zM59.9 258.9h1.9v1.9h-1.9zM110.6 276.6h2v2h-2zM105.4 273.1h1.4v1.4h-1.4zM89.1 301.7h1.9v1.9h-1.9zM56.6 262.3h1.6v1.6h-1.6zM57.8 270h1.4v1.4h-1.4zM56.5 268.6h1.5v1.5h-1.5zM58 267.6h1.7v1.7h-1.7zM57.4 268.9h1.4v1.4h-1.4zM52.1 269.6h1.3v1.3h-1.3zM56.5 263h1.5v1.5h-1.5zM56.6 300h1.6v1.6h-1.6zM112.5 278h1.7v1.7h-1.7zM111.2 277.2h1.6v1.6h-1.6zM86.3 276h1.9v1.9h-1.9zM81.3 277.9h1.7v1.7h-1.7zM90.7 284.1h1.6v1.6h-1.6zM76.1 273.9h1.7v1.7h-1.7zM77.7 274h1.3v1.3h-1.3zM79.4 275.5h1.8v1.8h-1.8zM76.9 271h1.9v1.9h-1.9zM84.6 300.4h1.4v1.4h-1.4zM81.1 300.2h1.7v1.7h-1.7zM82.5 299.8h1.8v1.8h-1.8zM79.9 303.5h1.8v1.8h-1.8zM58.3 261.6h1.4v1.4h-1.4zM61.9 261.6h1.5v1.5h-1.5zM80.1 301.1h1.6v1.6h-1.6zM80.5 295h1.4v1.4h-1.4zM74.1 299.7h1.6v1.6h-1.6zM104.6 297h1.3v1.3h-1.3zM103.1 296.4h1.8v1.8h-1.8zM102.1 267.2h1.7v1.7h-1.7zM96.4 269.4h1.5v1.5h-1.5zM53.8 277.7h1.6v1.6h-1.6zM49.8 275h1.7v1.7h-1.7zM58.1 274.6h1.9v1.9h-1.9zM49.8 277.1h1.9v1.9h-1.9zM112.2 300.1h2v2h-2zM111.5 298.1h1.5v1.5h-1.5zM68.6 262.6h1.6v1.6h-1.6zM66 262.9h1.7v1.7h-1.7zM67.3 265.1h1.6v1.6h-1.6zM81.3 274.7h1.9v1.9h-1.9zM76.9 266.6h1.5v1.5h-1.5zM73.1 266h1.4v1.4h-1.4zM81.6 258.3h1.3v1.3h-1.3zM67.1 269h1.9v1.9h-1.9zM75 269.7h1.9v1.9h-1.9zM110.4 260h1.4v1.4h-1.4zM112.9 261.5h1.5v1.5h-1.5zM110.7 260.8h1.9v1.9h-1.9zM60.8 291.8h1.5v1.5h-1.5zM68.2 290.8h1.9v1.9h-1.9zM70 291.2h1.8v1.8h-1.8zM62.2 296h2v2h-2zM95.9 283.8h1.4v1.4h-1.4zM95.1 299.2h1.6v1.6h-1.6zM95.1 295.3h1.4v1.4h-1.4zM97.6 267.4h1.8v1.8h-1.8zM91.8 261.5h1.6v1.6h-1.6zM91.3 258.1h1.6v1.6h-1.6zM93.6 264.1h1.6v1.6h-1.6zM89 260.1h1.8v1.8h-1.8zM64.8 274.9h1.8v1.8h-1.8zM79.3 267h1.4v1.4h-1.4zM51.9 303.3h1.7v1.7h-1.7zM48.5 275.2h1.4v1.4h-1.4zM51.8 277.2h1.5v1.5h-1.5zM73.1 292.1h1.4v1.4h-1.4zM73.9 299.5h1.7v1.7h-1.7zM89.5 285.3h1.4v1.4h-1.4zM49.6 258.9h1.4v1.4h-1.4zM76.7 263.2h1.6v1.6h-1.6zM53.2 282.7h1.3v1.3h-1.3zM90.4 287.9h1.4v1.4h-1.4zM89.6 257.2h1.4v1.4h-1.4zM58.3 287.6h1.7v1.7h-1.7zM98.4 285.3h1.8v1.8h-1.8zM66.3 258.8h1.7v1.7h-1.7zM66.5 292.8h1.9v1.9h-1.9zM79.1 269.6h1.8v1.8h-1.8zM72.3 260.2h1.8v1.8h-1.8zM80.9 301.2h1.8v1.8h-1.8zM96.5 283.8h1.3v1.3h-1.3zM56.4 292.2h1.4v1.4h-1.4zM109 271.9h1.4v1.4h-1.4z" fill="#3236c8"/><path d="M99.5 258.9h2v2h-2zM101.1 260h1.9v1.9h-1.9zM85.4 258.3h1.5v1.5h-1.5zM77.4 261.4h1.6v1.6h-1.6zM55 266.8h1.9v1.9h-1.9zM55.9 264.7h1.6v1.6h-1.6zM50.1 267.3h1.7v1.7h-1.7zM57.1 269.6h1.5v1.5h-1.5zM56.6 264.2h1.4v1.4h-1.4zM84.9 270.3h1.6v1.6h-1.6zM86.3 261.2h1.3v1.3h-1.3zM90.9 260.4h1.9v1.9h-1.9zM83.1 258.6h1.6v1.6h-1.6zM62.5 301.4h1.4v1.4h-1.4zM52.1 301.2h1.6v1.6h-1.6zM53.1 260.4h1.3v1.3h-1.3zM110.1 277.4h2v2h-2zM110 273.5h1.5v1.5h-1.5zM109.3 280.7h1.6v1.6h-1.6zM108.3 274.5h1.9v1.9h-1.9zM107.6 274.4h1.4v1.4h-1.4zM95.1 304.1h1.5v1.5h-1.5zM87 301.6h1.4v1.4h-1.4zM60.4 267.4h1.8v1.8h-1.8zM57.2 266.4h1.9v1.9h-1.9zM54.9 266h1.7v1.7h-1.7zM57.9 271.5h1.7v1.7h-1.7zM58.5 301.6h1.9v1.9h-1.9zM77.6 299.4h1.8v1.8h-1.8zM67.6 299.2h1.6v1.6h-1.6zM70.3 275.4h1.6v1.6h-1.6zM68.5 280.8h1.3v1.3h-1.3zM61.2 267.8h1.3v1.3h-1.3zM67.7 271.1h1.8v1.8h-1.8zM112 282.3h2v2h-2zM112 281.5h1.7v1.7h-1.7zM80.4 284.1h1.8v1.8h-1.8zM84.3 272.4h2v2h-2zM73.3 286.1h1.4v1.4h-1.4zM78.4 266.8h1.8v1.8h-1.8zM77.1 277.1h1.3v1.3h-1.3zM80 286.1h1.6v1.6h-1.6zM76.7 278.7h1.6v1.6h-1.6zM77.5 271.7h1.5v1.5h-1.5zM81 301.4h1.6v1.6h-1.6zM78.5 302.9h1.3v1.3h-1.3zM63.6 263.2h1.8v1.8h-1.8zM53.8 260h1.3v1.3h-1.3zM62.5 265.3h1.9v1.9h-1.9zM105 303.1h1.8v1.8h-1.8zM104.8 301.5h1.7v1.7h-1.7zM108 299h1.5v1.5h-1.5zM105.3 297.3h1.7v1.7h-1.7zM106.2 295.5h1.4v1.4h-1.4zM106 301.8h1.7v1.7h-1.7zM96.1 267.9h1.7v1.7h-1.7zM98.6 265.6h1.7v1.7h-1.7zM97.9 265.9h1.4v1.4h-1.4zM103.5 259.8h1.9v1.9h-1.9zM52.2 273.3h1.8v1.8h-1.8zM67.1 265.8h1.6v1.6h-1.6zM80.4 273.7h1.9v1.9h-1.9zM72.3 265.5h1.8v1.8h-1.8zM76.5 264.7h1.7v1.7h-1.7zM74.6 263.2h2v2h-2zM74.7 263.4h1.6v1.6h-1.6zM73.4 262.9h1.8v1.8h-1.8zM71.2 270.3h1.6v1.6h-1.6zM72.5 267.2h1.7v1.7h-1.7zM62.8 290.5h2v2h-2zM65 292.5h1.4v1.4h-1.4zM93.3 287.9h1.7v1.7h-1.7zM86.4 258.5h1.8v1.8h-1.8zM92.1 263.6h1.6v1.6h-1.6zM96.1 260.9h1.6v1.6h-1.6zM84.1 261.5h1.6v1.6h-1.6zM89.4 257.3h1.9v1.9h-1.9zM75.4 266.4h1.7v1.7h-1.7zM56.3 258.7h1.4v1.4h-1.4zM93.4 278.8h1.7v1.7h-1.7zM78.1 264.2h1.5v1.5h-1.5zM74.9 280h1.7v1.7h-1.7zM85.4 288.3h1.9v1.9h-1.9zM94.5 302.2h1.7v1.7h-1.7zM58.3 285.3h1.4v1.4h-1.4zM61.6 288.6h1.9v1.9h-1.9zM100.2 262.1h1.5v1.5h-1.5zM92.3 273.9h1.9v1.9h-1.9zM100 302.5h1.3v1.3h-1.3zM58.8 278.7h1.7v1.7h-1.7zM106.9 258.5h1.3v1.3h-1.3zM71.6 298.5h1.9v1.9h-1.9zM55.3 268.5h1.3v1.3h-1.3zM98.1 299.2h1.4v1.4h-1.4zM74.9 304h1.4v1.4h-1.4zM92.6 256.4h2v2h-2z" fill="#4444d4"/></g>
<rect x="104.5" y="304" width="9" height="1" fill="#777"/>
<rect x="118.5" y="255.5" width="68" height="51" fill="#fcfcff" stroke="#c6c6c6" stroke-width="1"/>
<path d="M127.5 280.5h1v1h-1zM158.7 257.4h1v1h-1zM128.8 301.5h1v1h-1zM123.6 262.4h1v1h-1zM181.6 286.5h1v1h-1zM143.4 281.1h1v1h-1zM162.7 269.5h1v1h-1zM128.1 294.6h1v1h-1zM163.2 281.1h1v1h-1zM172.9 282.9h1v1h-1zM183.7 266h1v1h-1zM155.5 279.7h1v1h-1zM142.3 285h1v1h-1zM134.5 295.3h1v1h-1zM176.2 262.3h1v1h-1zM149.8 269.6h1v1h-1zM124.5 299.9h1v1h-1zM147.4 263.2h1v1h-1zM163.4 265.9h1v1h-1zM178.5 266.6h1v1h-1zM121.2 265.8h1v1h-1zM141.8 279h1v1h-1zM178.8 290.2h1v1h-1zM141.4 256.8h1v1h-1zM129.5 304.8h1v1h-1zM149.3 289.9h1v1h-1zM122.6 257.7h1v1h-1zM174.8 284.8h1v1h-1zM139.4 271.6h1v1h-1zM124.9 264.5h1v1h-1zM120.6 297.1h1v1h-1zM149.8 262.2h1v1h-1zM167.8 265.6h1v1h-1zM123.1 285.3h1v1h-1zM178.1 257.3h1v1h-1zM172.1 265.3h1v1h-1zM125.1 256.9h1v1h-1zM138.3 291.6h1v1h-1zM151.5 297.8h1v1h-1zM133.3 271.4h1v1h-1zM136 303.9h1v1h-1zM181.1 272.7h1v1h-1zM147.8 271.4h1v1h-1zM168.3 258h1v1h-1zM123.5 275.8h1v1h-1zM135.2 297.4h1v1h-1zM168 282.7h1v1h-1zM162.7 289.9h1v1h-1zM170.5 301.4h1v1h-1zM128.9 286.7h1v1h-1zM128.5 277.7h1v1h-1zM170.9 299.8h1v1h-1zM169.1 257.7h1v1h-1zM142.7 264h1v1h-1zM184.9 263.1h1v1h-1zM135.1 273.5h1v1h-1zM123 298.6h1v1h-1zM161 263.8h1v1h-1zM151.9 259.9h1v1h-1zM159.3 267.4h1v1h-1zM121.6 261.6h1v1h-1zM155.6 287.2h1v1h-1zM140.4 287.5h1v1h-1zM142.2 262.4h1v1h-1zM139.8 275.4h1v1h-1zM179.2 261.7h1v1h-1zM124.7 283.5h1v1h-1zM182.6 300.5h1v1h-1zM165.2 259.3h1v1h-1zM172.2 289.5h1v1h-1zM128.5 278.8h1v1h-1zM122.3 295.3h1v1h-1zM166.4 295.4h1v1h-1zM169.2 269.1h1v1h-1zM171.1 268.2h1v1h-1zM128.1 275.1h1v1h-1zM151.9 270h1v1h-1zM159 285.5h1v1h-1zM134.8 286.5h1v1h-1zM142.6 292h1v1h-1zM138.2 295.1h1v1h-1zM146.4 283.1h1v1h-1zM163.4 281.4h1v1h-1zM136 304h1v1h-1zM125.3 271.9h1v1h-1zM155.2 257.4h1v1h-1zM129.2 295.2h1v1h-1zM170.7 287.2h1v1h-1zM178.5 293h1v1h-1zM138.7 287.6h1v1h-1zM141.4 292.7h1v1h-1zM144.4 263.5h1v1h-1zM176.8 289.8h1v1h-1zM168.1 283.4h1v1h-1zM170.7 277.9h1v1h-1zM156.3 259.1h1v1h-1zM155.6 295.9h1v1h-1zM165.6 295.4h1v1h-1zM151.7 299.2h1v1h-1zM126.1 298.9h1v1h-1zM143.5 260.5h1v1h-1zM159.9 278.3h1v1h-1zM147.3 297.7h1v1h-1zM128.1 286.2h1v1h-1zM146.3 281.9h1v1h-1zM152 262.6h1v1h-1zM152.8 298.2h1v1h-1zM130.3 256.6h1v1h-1zM123.5 278.5h1v1h-1zM183.3 258.2h1v1h-1zM184.4 282.3h1v1h-1zM126.9 276.5h1v1h-1zM132.7 291h1v1h-1zM154.7 270.1h1v1h-1zM135.9 298.5h1v1h-1zM169.6 277.4h1v1h-1zM145.8 292.1h1v1h-1zM183.1 259.9h1v1h-1zM129.5 273.8h1v1h-1zM152.5 259.5h1v1h-1zM122.5 266.8h1v1h-1zM144.5 292.2h1v1h-1zM159.3 257.4h1v1h-1zM122 278.1h1v1h-1zM176.7 300.8h1v1h-1zM143.1 299.5h1v1h-1zM180.3 275.9h1v1h-1zM168.2 273.9h1v1h-1zM129.1 284.2h1v1h-1zM124.7 288.5h1v1h-1zM172.4 300.9h1v1h-1zM148.6 261.8h1v1h-1zM178.6 298.6h1v1h-1zM182.9 285.1h1v1h-1zM163.4 274.3h1v1h-1zM131.1 270.3h1v1h-1zM166.6 271.9h1v1h-1zM164.6 280.6h1v1h-1zM148.6 303.4h1v1h-1zM130 279.9h1v1h-1zM129.5 301.9h1v1h-1zM151.2 272.3h1v1h-1zM130.1 285.1h1v1h-1zM145.3 262.2h1v1h-1zM121.1 275.2h1v1h-1zM157.5 281.4h1v1h-1zM178.4 300.7h1v1h-1zM180.8 295.2h1v1h-1zM150.5 281.7h1v1h-1zM145.2 275.6h1v1h-1zM121.7 295.1h1v1h-1zM135.2 257.4h1v1h-1zM149.8 291.2h1v1h-1zM147.8 273.8h1v1h-1zM162.5 264h1v1h-1zM119.7 285h1v1h-1zM154 298.4h1v1h-1zM146.4 294.5h1v1h-1zM120.2 257.3h1v1h-1zM158.5 267.1h1v1h-1zM123.4 262.3h1v1h-1zM143.7 272.5h1v1h-1zM156.2 299.5h1v1h-1zM143.1 265h1v1h-1zM157.1 256.1h1v1h-1zM144.4 271.5h1v1h-1zM144.6 258.5h1v1h-1zM155.6 286.6h1v1h-1zM168.5 302.9h1v1h-1zM142.4 288.2h1v1h-1zM148.2 266.5h1v1h-1zM177.7 292.5h1v1h-1zM181.2 296.3h1v1h-1zM179.6 262.3h1v1h-1zM120 265.7h1v1h-1zM146.2 289.7h1v1h-1zM147.9 281.2h1v1h-1zM169.2 259.5h1v1h-1zM163.8 258.4h1v1h-1zM135.4 291.4h1v1h-1zM164.1 275.9h1v1h-1zM138.4 296.6h1v1h-1zM137.1 257.5h1v1h-1zM135.3 257h1v1h-1zM172.5 262h1v1h-1zM183.3 266.4h1v1h-1zM139.2 284.7h1v1h-1zM139.3 274.6h1v1h-1zM125.9 275.1h1v1h-1zM120.7 267h1v1h-1zM179 269.8h1v1h-1zM136.9 289.3h1v1h-1zM177.3 270.5h1v1h-1zM143.8 291h1v1h-1zM171.3 286.1h1v1h-1zM130.8 264.9h1v1h-1zM169 290.6h1v1h-1zM178.2 294.2h1v1h-1zM146.8 262.5h1v1h-1zM177.8 290.1h1v1h-1zM157 289.4h1v1h-1zM144.4 272.8h1v1h-1zM157 279.7h1v1h-1zM165.8 301.9h1v1h-1zM174.9 275h1v1h-1zM143.6 301.4h1v1h-1zM145 295.2h1v1h-1zM125.1 278.1h1v1h-1zM153.1 295.6h1v1h-1zM176.9 263.5h1v1h-1zM159.7 286.8h1v1h-1zM129 296.8h1v1h-1zM155.5 303.1h1v1h-1zM131.3 281.7h1v1h-1zM140.3 287.5h1v1h-1zM159.1 281.1h1v1h-1zM140.4 280.7h1v1h-1zM143.6 299.6h1v1h-1zM149.5 279.3h1v1h-1zM136.1 268.4h1v1h-1zM182 271.4h1v1h-1zM176.3 285.1h1v1h-1zM183.7 264h1v1h-1zM181.1 293.9h1v1h-1zM156.5 290.7h1v1h-1zM166.7 278h1v1h-1zM160.9 267.2h1v1h-1zM120.4 289.1h1v1h-1zM150.3 300.4h1v1h-1zM136.4 296.1h1v1h-1zM184.1 300h1v1h-1zM182.7 263.8h1v1h-1zM129.9 267.2h1v1h-1zM142.9 261.7h1v1h-1zM128.9 256.9h1v1h-1zM180.6 273.7h1v1h-1zM160.3 278.3h1v1h-1zM168 295.5h1v1h-1zM144.3 282.2h1v1h-1zM125.4 270h1v1h-1zM133.7 271.1h1v1h-1zM140.4 284.2h1v1h-1zM141 272h1v1h-1zM173.9 256.6h1v1h-1zM119.3 258.8h1v1h-1zM176.1 287.1h1v1h-1zM167 302.9h1v1h-1zM133.4 301.1h1v1h-1zM135 281.4h1v1h-1zM164 295.1h1v1h-1zM135.4 279.4h1v1h-1zM122 270.1h1v1h-1zM183.7 300.4h1v1h-1zM157.4 294.5h1v1h-1zM178.5 272.3h1v1h-1zM183.7 278h1v1h-1zM129.5 282h1v1h-1zM158.2 289.9h1v1h-1zM163.3 258h1v1h-1zM161.2 301.2h1v1h-1zM163.2 303.8h1v1h-1zM152.8 295.7h1v1h-1zM128.3 299.9h1v1h-1zM147.8 299h1v1h-1zM140.2 286.6h1v1h-1zM174.9 290.9h1v1h-1zM159.9 303.6h1v1h-1zM124.8 261h1v1h-1zM155.4 302.8h1v1h-1zM164.3 271.2h1v1h-1zM126.1 278h1v1h-1zM150.7 278.9h1v1h-1zM159.9 269.4h1v1h-1zM177.1 270.1h1v1h-1zM126.1 273.1h1v1h-1zM180.8 263.8h1v1h-1zM137.3 301.4h1v1h-1zM142 297.3h1v1h-1zM122 299.5h1v1h-1zM134.7 264.8h1v1h-1zM168 304.5h1v1h-1zM182.3 292.9h1v1h-1zM179.3 304.4h1v1h-1zM155.5 263.1h1v1h-1zM175.1 275.4h1v1h-1zM139.6 280.5h1v1h-1zM121.3 256.9h1v1h-1zM136.4 285.2h1v1h-1zM168.5 302.9h1v1h-1zM173 302.1h1v1h-1zM161 292h1v1h-1zM157.8 260h1v1h-1zM123.1 293.2h1v1h-1zM132.4 294.7h1v1h-1zM149.6 256.3h1v1h-1zM156.1 277.7h1v1h-1zM123.9 268.8h1v1h-1zM139.2 272.9h1v1h-1zM165.7 264.2h1v1h-1zM148.3 285.7h1v1h-1zM181.5 261.6h1v1h-1zM124.2 265.4h1v1h-1zM133.6 264h1v1h-1zM124 266.3h1v1h-1zM133.7 279.5h1v1h-1zM161.8 273.8h1v1h-1zM130.1 260.6h1v1h-1zM136.4 264.4h1v1h-1zM150.7 298.7h1v1h-1zM166.3 266h1v1h-1zM121.4 259.3h1v1h-1zM147.8 273.8h1v1h-1zM164 260.1h1v1h-1zM135.8 289.6h1v1h-1zM156.5 281.3h1v1h-1zM178.5 261.6h1v1h-1zM131.9 283.7h1v1h-1zM156.3 304h1v1h-1zM183.5 284.8h1v1h-1zM169.1 290.2h1v1h-1zM127.8 285.5h1v1h-1zM139.2 273.6h1v1h-1zM129.3 256.4h1v1h-1zM175.3 291.1h1v1h-1zM168.6 270.1h1v1h-1zM146.5 264.6h1v1h-1zM158.7 297.1h1v1h-1zM170.4 301.8h1v1h-1zM136.2 290.4h1v1h-1zM127.4 282.3h1v1h-1zM126.3 282.5h1v1h-1zM154.8 273h1v1h-1zM142.1 290.8h1v1h-1zM150.7 276h1v1h-1zM126.4 269.8h1v1h-1zM174.9 303.6h1v1h-1zM143.6 298.7h1v1h-1zM176.7 266.7h1v1h-1zM137.1 290.1h1v1h-1zM139.2 302.8h1v1h-1zM143.1 291.8h1v1h-1zM165.7 266.5h1v1h-1zM176.2 272.1h1v1h-1zM126.3 258.5h1v1h-1zM148.8 287h1v1h-1zM136.9 297.3h1v1h-1zM136.7 297.5h1v1h-1zM121.2 268.9h1v1h-1zM129.5 277.9h1v1h-1zM142.2 275.3h1v1h-1zM175.2 284.4h1v1h-1zM159 275.1h1v1h-1zM172.3 280.6h1v1h-1zM168.2 300.8h1v1h-1zM159.4 277.3h1v1h-1zM136.4 300.7h1v1h-1zM169.5 295.2h1v1h-1zM133.6 277.4h1v1h-1zM177.3 268.1h1v1h-1zM172.7 282.4h1v1h-1zM133.4 274.4h1v1h-1zM124 289h1v1h-1zM167 257.4h1v1h-1zM138.9 293.7h1v1h-1zM132.2 282.3h1v1h-1zM172.2 283.9h1v1h-1zM127.1 300.5h1v1h-1zM168.3 283.7h1v1h-1zM141 284.5h1v1h-1zM144.8 261.8h1v1h-1zM127.1 258.2h1v1h-1zM130.2 268h1v1h-1zM160.9 284.4h1v1h-1zM158 296.3h1v1h-1zM125.3 275.1h1v1h-1zM124.2 276.5h1v1h-1zM124.2 259.3h1v1h-1zM125.9 275.1h1v1h-1zM169.4 269.8h1v1h-1zM168 267.4h1v1h-1z" fill="#bcc0ee"/><g filter="url(#soft)"><path d="M137.2 281.7h1.5v1.5h-1.5zM137.5 279h1.8v1.8h-1.8zM165.8 282.2h1.3v1.3h-1.3zM154.8 272.5h1.4v1.4h-1.4zM157.9 266.1h1.6v1.6h-1.6zM162.2 263.4h1.6v1.6h-1.6zM147.1 292.7h1.5v1.5h-1.5zM130.3 293.2h1.7v1.7h-1.7zM127.9 288.8h1.3v1.3h-1.3zM170.6 291.9h1.8v1.8h-1.8zM170.5 290.3h1.7v1.7h-1.7zM169.5 293.8h1.4v1.4h-1.4zM126.8 269.9h1.8v1.8h-1.8zM134.4 266.6h1.6v1.6h-1.6zM150.4 276.2h2v2h-2zM147.4 279.5h1.8v1.8h-1.8zM164.3 286.7h1.8v1.8h-1.8zM162.9 292.5h1.3v1.3h-1.3zM162.1 291.1h2v2h-2zM128.8 274.8h1.7v1.7h-1.7zM135.4 279.5h1.7v1.7h-1.7zM134.3 290.4h1.4v1.4h-1.4zM129.7 277.4h2v2h-2zM121.1 303.8h1.6v1.6h-1.6zM167.8 268.3h1.8v1.8h-1.8zM167.6 267h1.6v1.6h-1.6zM170.3 268.4h1.6v1.6h-1.6zM138.2 286.1h1.3v1.3h-1.3zM158.9 303.3h1.3v1.3h-1.3zM136.8 294.4h1.7v1.7h-1.7zM120.1 265.5h1.5v1.5h-1.5zM162.9 280.4h1.4v1.4h-1.4zM182.1 265.1h1.8v1.8h-1.8zM174.9 263h1.5v1.5h-1.5zM123.9 272.2h1.4v1.4h-1.4zM162.7 263.1h1.6v1.6h-1.6zM122.9 275.8h1.9v1.9h-1.9zM134.9 271.3h1.5v1.5h-1.5zM121 296h2v2h-2z" fill="#3236c8"/><path d="M138.5 280.1h1.9v1.9h-1.9zM160.2 289.7h1.5v1.5h-1.5zM165.2 284.8h1.7v1.7h-1.7zM154.8 280.1h1.5v1.5h-1.5zM159.3 270.6h1.4v1.4h-1.4zM127 288.4h1.5v1.5h-1.5zM173.2 285.2h1.7v1.7h-1.7zM174.5 293.1h1.8v1.8h-1.8zM167.6 291.7h1.5v1.5h-1.5zM170.8 302.9h1.8v1.8h-1.8zM172.9 296.8h1.5v1.5h-1.5zM121.7 265.2h1.5v1.5h-1.5zM134.6 270.8h1.8v1.8h-1.8zM126.3 266.8h1.8v1.8h-1.8zM129.7 295.1h2v2h-2zM130.6 291.2h2v2h-2zM150.9 284.7h1.8v1.8h-1.8zM162.1 283.4h1.9v1.9h-1.9zM166.4 288.7h1.9v1.9h-1.9zM169.8 286.6h1.9v1.9h-1.9zM166.9 282.7h1.9v1.9h-1.9zM162.1 288h1.7v1.7h-1.7zM159.2 290.4h1.7v1.7h-1.7zM161.4 291.1h1.8v1.8h-1.8zM162.7 286.8h1.6v1.6h-1.6zM136.4 278.3h1.4v1.4h-1.4zM133.4 279.7h1.5v1.5h-1.5zM151.7 293.4h2v2h-2zM157.5 295.5h2v2h-2zM128.2 258.9h1.6v1.6h-1.6zM177.3 259.3h1.6v1.6h-1.6zM120.3 269h1.4v1.4h-1.4zM121.3 288.7h1.4v1.4h-1.4zM158.1 266.9h1.4v1.4h-1.4zM147.1 267.9h1.4v1.4h-1.4zM170 298.6h1.4v1.4h-1.4zM164.4 276.8h1.9v1.9h-1.9zM128.4 270.4h1.6v1.6h-1.6zM165 294.5h1.6v1.6h-1.6zM126.9 291.7h1.3v1.3h-1.3zM171 301.4h2v2h-2zM150.7 274.5h1.6v1.6h-1.6zM145.4 296.1h1.8v1.8h-1.8zM175.9 288.4h1.6v1.6h-1.6z" fill="#2a2eb8"/><path d="M138.7 275.5h1.7v1.7h-1.7zM141.8 277.8h1.9v1.9h-1.9zM159.4 282.2h1.3v1.3h-1.3zM165.7 257.8h1.5v1.5h-1.5zM158.8 277.2h1.9v1.9h-1.9zM164.3 276.4h1.9v1.9h-1.9zM158.5 275.6h1.8v1.8h-1.8zM160.4 267.6h1.4v1.4h-1.4zM130.3 294.1h1.8v1.8h-1.8zM171.3 302.4h1.7v1.7h-1.7zM133.6 262.7h1.6v1.6h-1.6zM130 267.4h1.8v1.8h-1.8zM127 292.7h1.5v1.5h-1.5zM144.2 276.8h1.6v1.6h-1.6zM140.6 284.4h1.5v1.5h-1.5zM170 285.1h1.4v1.4h-1.4zM124.4 301.3h1.5v1.5h-1.5zM125.8 293.6h1.5v1.5h-1.5zM153 299.7h1.3v1.3h-1.3zM157.1 301.1h1.4v1.4h-1.4zM148.2 275.2h1.5v1.5h-1.5zM132.4 302.9h1.8v1.8h-1.8zM160.2 286.4h1.7v1.7h-1.7zM162.6 286.7h2v2h-2zM177.2 269.9h1.4v1.4h-1.4zM129.9 295.8h1.7v1.7h-1.7zM150.9 283.8h2v2h-2zM182.3 268.6h1.9v1.9h-1.9zM153.2 301.8h1.5v1.5h-1.5zM128.7 294.2h1.5v1.5h-1.5zM149.9 288h1.4v1.4h-1.4zM180.5 300h1.6v1.6h-1.6zM147 263.8h1.5v1.5h-1.5zM162.7 290h1.8v1.8h-1.8zM172 287.1h1.8v1.8h-1.8zM166.8 299.1h2v2h-2zM173.5 259.9h1.4v1.4h-1.4zM121.4 302.2h1.4v1.4h-1.4zM128.1 287.7h1.6v1.6h-1.6z" fill="#4444d4"/></g>
<rect x="175.5" y="304" width="9" height="1" fill="#777"/>
<rect x="189.5" y="255.5" width="68" height="51" fill="#fcfcff" stroke="#c6c6c6" stroke-width="1"/>
<path d="M206.6 302.4h1v1h-1zM202.5 264.8h1v1h-1zM213.1 267.3h1v1h-1zM234.2 261.6h1v1h-1zM249.2 298h1v1h-1zM190.2 282.5h1v1h-1zM197.1 268.6h1v1h-1zM217.5 278.2h1v1h-1zM220.9 301.4h1v1h-1zM207.1 265.2h1v1h-1zM234.3 302.4h1v1h-1zM250.9 299.1h1v1h-1zM194.2 301.9h1v1h-1zM232.8 298.7h1v1h-1zM216.9 266.8h1v1h-1zM242.3 288.4h1v1h-1zM241.4 265.9h1v1h-1zM198.9 293.4h1v1h-1zM191.3 302.3h1v1h-1zM198.9 285.4h1v1h-1zM217.7 271.9h1v1h-1zM201.2 294.2h1v1h-1zM250.4 291.7h1v1h-1zM229.6 290.9h1v1h-1zM225.4 283.4h1v1h-1zM249.8 269.8h1v1h-1zM204.7 302.4h1v1h-1zM252.2 279.3h1v1h-1zM242.9 292.4h1v1h-1zM252.7 260h1v1h-1zM249.3 280.5h1v1h-1zM219.6 289.7h1v1h-1zM230.7 277.4h1v1h-1zM209.2 301h1v1h-1zM244 261h1v1h-1zM216.7 293.4h1v1h-1zM248 303.1h1v1h-1zM205.9 299.7h1v1h-1zM235.9 259.3h1v1h-1zM203.9 265.2h1v1h-1zM195.1 289.7h1v1h-1zM210.5 289.9h1v1h-1zM195.4 298.7h1v1h-1zM235.9 294.3h1v1h-1zM230 278.4h1v1h-1zM202.7 302.2h1v1h-1zM199.6 281.5h1v1h-1zM198 261.3h1v1h-1zM236 299.6h1v1h-1zM220.4 294.9h1v1h-1zM246.7 282.2h1v1h-1zM241.2 270.4h1v1h-1zM199.9 265.3h1v1h-1zM190.5 259.5h1v1h-1zM239.6 300.3h1v1h-1zM193.8 291.3h1v1h-1zM241.3 289.4h1v1h-1zM222.9 279.8h1v1h-1zM235.8 268h1v1h-1zM239.7 265.4h1v1h-1zM192.3 301.8h1v1h-1zM196 265.6h1v1h-1zM193.7 256.5h1v1h-1zM198.2 301.1h1v1h-1zM235.9 275.8h1v1h-1zM190.4 296.6h1v1h-1zM222 297.8h1v1h-1zM223.3 259.8h1v1h-1zM194.9 294.7h1v1h-1zM204.7 263.4h1v1h-1zM217 268.8h1v1h-1zM208.3 294.9h1v1h-1zM221 304.8h1v1h-1zM196.5 270.4h1v1h-1zM248.2 277.3h1v1h-1zM240.8 277.2h1v1h-1zM216.8 299.4h1v1h-1zM210.7 282.8h1v1h-1zM227.3 258.1h1v1h-1zM196.5 267.6h1v1h-1zM190.2 289.5h1v1h-1zM228.2 272.8h1v1h-1zM217.7 258h1v1h-1zM216.5 297.2h1v1h-1zM192.5 288h1v1h-1zM235.6 266.7h1v1h-1zM209.5 264.8h1v1h-1zM227.4 274.1h1v1h-1zM198.6 270.2h1v1h-1zM206.1 304.4h1v1h-1zM230.3 279.5h1v1h-1zM222.3 284.2h1v1h-1zM254.8 274.9h1v1h-1zM193.8 265h1v1h-1zM190.5 265.9h1v1h-1zM229.8 268.6h1v1h-1zM245.2 302.6h1v1h-1zM198.1 295.5h1v1h-1zM233.7 304.7h1v1h-1zM202.5 293.5h1v1h-1zM211.9 265.7h1v1h-1zM207.1 302h1v1h-1zM221.6 277.3h1v1h-1zM247.6 298h1v1h-1zM249.2 257.1h1v1h-1zM255.7 289.6h1v1h-1zM249.6 295.3h1v1h-1zM249.3 299.4h1v1h-1zM232.7 262.2h1v1h-1zM234.9 257.8h1v1h-1zM213.1 269.9h1v1h-1zM209.5 295.5h1v1h-1zM248.2 300.2h1v1h-1zM230.9 293.8h1v1h-1zM198.3 273h1v1h-1zM241.9 278.3h1v1h-1zM222.6 294.5h1v1h-1zM204.8 298.4h1v1h-1zM238.9 259.8h1v1h-1zM218 300.9h1v1h-1zM207.9 256.6h1v1h-1zM201.3 282.6h1v1h-1zM196.7 258.6h1v1h-1zM199 296.4h1v1h-1zM253.9 262.6h1v1h-1zM226.9 289.3h1v1h-1zM194.7 299.1h1v1h-1zM239.3 289.4h1v1h-1zM221.7 294.7h1v1h-1zM244.4 270h1v1h-1zM205.6 304.2h1v1h-1zM222 276.2h1v1h-1zM251.7 291.3h1v1h-1zM239.3 295.4h1v1h-1zM245.1 289.5h1v1h-1zM255.7 294.8h1v1h-1zM244.6 296.7h1v1h-1zM193.1 304.5h1v1h-1zM240.5 260.2h1v1h-1zM237.6 290.7h1v1h-1zM222.9 270.8h1v1h-1zM225.6 264h1v1h-1zM216 286.6h1v1h-1zM237.2 282.6h1v1h-1zM248.7 299.7h1v1h-1zM250.1 285h1v1h-1zM206.4 258.2h1v1h-1zM228.3 281.3h1v1h-1zM190.1 263h1v1h-1zM253.9 292.8h1v1h-1zM249.7 271.9h1v1h-1zM218.5 284.6h1v1h-1zM216.5 257.5h1v1h-1zM221 288.6h1v1h-1zM213.6 301.3h1v1h-1zM251.6 257.4h1v1h-1zM217.5 285.6h1v1h-1zM216.9 303.9h1v1h-1zM209.9 300h1v1h-1zM212.7 299.4h1v1h-1zM196.7 297.7h1v1h-1zM245.6 283.6h1v1h-1zM210.1 275.1h1v1h-1zM198.4 269.7h1v1h-1zM224 281.6h1v1h-1zM221.1 298.8h1v1h-1zM204.1 294.4h1v1h-1zM246.9 273.4h1v1h-1zM193.8 296.2h1v1h-1zM238.1 279.7h1v1h-1zM251.1 268.7h1v1h-1zM238 287.8h1v1h-1zM215.6 294.2h1v1h-1zM197 271.1h1v1h-1zM222.6 303.3h1v1h-1zM240.3 258.8h1v1h-1zM231.3 262.7h1v1h-1zM215.8 303.2h1v1h-1zM208.1 261.1h1v1h-1zM251.2 266.5h1v1h-1zM228.8 268.8h1v1h-1zM252.4 292.8h1v1h-1zM242.8 261h1v1h-1zM213.9 297.9h1v1h-1zM209.4 261.3h1v1h-1zM246.5 269.2h1v1h-1zM229 265.3h1v1h-1zM198 280.1h1v1h-1zM232.2 293.7h1v1h-1zM251.5 281.5h1v1h-1zM235.3 271.3h1v1h-1zM248.9 272.9h1v1h-1zM192.5 266.3h1v1h-1zM199.5 287.3h1v1h-1zM200.5 278.3h1v1h-1zM211.7 295h1v1h-1zM209.2 267.6h1v1h-1zM209 265.3h1v1h-1zM233.3 281.6h1v1h-1zM235.9 261.7h1v1h-1zM242.9 282.6h1v1h-1zM254.3 304.4h1v1h-1zM191 285.5h1v1h-1zM206.8 290h1v1h-1zM199 283.8h1v1h-1zM240.3 283.9h1v1h-1zM209.9 292.5h1v1h-1zM251.7 269.5h1v1h-1zM197.2 275.3h1v1h-1zM217 275.2h1v1h-1zM252.6 267.8h1v1h-1zM193.7 256.7h1v1h-1zM221.8 269.2h1v1h-1zM222.3 289.9h1v1h-1zM211.3 262.3h1v1h-1zM250.2 265.1h1v1h-1zM210.5 257.1h1v1h-1zM230.4 267.7h1v1h-1zM239.3 277h1v1h-1zM244.6 272.4h1v1h-1zM241.5 259.5h1v1h-1zM213.4 271.8h1v1h-1zM216.9 266.6h1v1h-1zM209.3 303.7h1v1h-1zM195.4 280.3h1v1h-1zM249.7 278.7h1v1h-1zM219.4 281.6h1v1h-1zM198.8 265.8h1v1h-1zM236.3 285.3h1v1h-1zM205.1 279.6h1v1h-1zM255.1 266h1v1h-1zM242.8 302h1v1h-1zM225.7 263.9h1v1h-1zM221.2 294.4h1v1h-1zM233.6 297.3h1v1h-1zM223.2 256.3h1v1h-1zM192.1 295.1h1v1h-1zM225.4 300.6h1v1h-1zM245.8 287.5h1v1h-1zM229.2 294h1v1h-1zM201.3 274.1h1v1h-1zM232.3 281.6h1v1h-1zM201 271.9h1v1h-1zM199 296.9h1v1h-1zM202 287.8h1v1h-1zM201.2 262.2h1v1h-1zM192.7 273.7h1v1h-1zM245.2 300.6h1v1h-1zM225.5 298.3h1v1h-1zM233.2 302.9h1v1h-1zM203.8 268.5h1v1h-1zM207.8 296.1h1v1h-1zM251.8 294h1v1h-1zM253.4 256.3h1v1h-1zM200.7 263.5h1v1h-1zM211.8 274h1v1h-1zM216.5 263.7h1v1h-1zM224.6 288.2h1v1h-1zM243.7 263.4h1v1h-1zM255 268.7h1v1h-1zM217.6 300.2h1v1h-1zM199.9 276.7h1v1h-1zM213.2 260.3h1v1h-1zM192.9 266.2h1v1h-1zM223.9 258.3h1v1h-1zM203.2 302.2h1v1h-1zM222 269.5h1v1h-1zM254.7 291h1v1h-1zM212.8 297.4h1v1h-1zM192.5 271.6h1v1h-1zM252.8 281.8h1v1h-1zM196.3 260.3h1v1h-1zM252.1 274.7h1v1h-1zM248.6 268.5h1v1h-1zM228.6 267.6h1v1h-1zM246 294.9h1v1h-1zM254.2 280.1h1v1h-1zM240.4 260.5h1v1h-1zM230.4 292.4h1v1h-1zM239.2 269.6h1v1h-1zM191.1 286.2h1v1h-1zM240.1 282.3h1v1h-1zM201.8 275.8h1v1h-1zM204.9 299h1v1h-1zM234.9 285.9h1v1h-1zM237.6 304.2h1v1h-1zM253.5 256.7h1v1h-1zM193 304.8h1v1h-1zM214.6 292h1v1h-1zM215 295h1v1h-1zM239.5 270.5h1v1h-1zM237.9 257.2h1v1h-1zM193 281.1h1v1h-1zM250.6 304.8h1v1h-1zM193.2 272.1h1v1h-1zM198.7 299.4h1v1h-1zM216.2 271.5h1v1h-1zM218.8 274.9h1v1h-1zM224.7 260h1v1h-1zM196.2 269.1h1v1h-1zM198.1 303.4h1v1h-1zM200.2 299.7h1v1h-1zM209.9 304.6h1v1h-1zM199.8 284.2h1v1h-1zM236.4 257.3h1v1h-1zM226.2 280.4h1v1h-1zM243.1 274h1v1h-1zM222.6 257.2h1v1h-1zM235.7 303.3h1v1h-1zM241.5 295.1h1v1h-1zM239.8 267.3h1v1h-1zM252.1 260.1h1v1h-1zM221.3 296.2h1v1h-1zM238.3 267.9h1v1h-1zM209.4 282.5h1v1h-1zM215.2 263.1h1v1h-1zM208.2 292.4h1v1h-1zM220.2 281h1v1h-1zM197.9 257.2h1v1h-1zM250 297.4h1v1h-1zM222.5 288h1v1h-1zM234.4 278h1v1h-1zM196.6 257.1h1v1h-1zM239.2 296.2h1v1h-1zM194.3 295.8h1v1h-1zM191.3 299.1h1v1h-1zM223.2 280.3h1v1h-1zM255.7 292.3h1v1h-1zM225 297.6h1v1h-1zM219.6 269.9h1v1h-1z" fill="#bcc0ee"/><g filter="url(#soft)"><path d="M240.2 293.3h1.8v1.8h-1.8zM244.3 296.8h1.5v1.5h-1.5zM238.1 293.7h1.6v1.6h-1.6zM205.5 277.2h1.4v1.4h-1.4zM206.4 287.4h1.8v1.8h-1.8zM202.3 282.9h1.8v1.8h-1.8zM209.6 300.1h1.9v1.9h-1.9zM213.2 296.3h1.4v1.4h-1.4zM207.3 292.4h1.6v1.6h-1.6zM233.4 262.8h1.6v1.6h-1.6zM250.5 266.2h1.3v1.3h-1.3zM246.4 283h1.8v1.8h-1.8zM238.7 289.6h1.8v1.8h-1.8zM230.4 291.4h2v2h-2zM249.3 270.4h1.6v1.6h-1.6zM218.9 264.4h1.3v1.3h-1.3zM210.1 274.9h1.5v1.5h-1.5zM224.2 301.8h1.8v1.8h-1.8zM230.7 265.5h1.5v1.5h-1.5zM229.3 281.5h1.9v1.9h-1.9zM212 270.6h1.8v1.8h-1.8zM230.6 300.6h1.5v1.5h-1.5zM242.1 262.1h1.3v1.3h-1.3zM245.1 272.8h1.8v1.8h-1.8z" fill="#4444d4"/><path d="M247 300.6h1.5v1.5h-1.5zM200.5 287.1h1.5v1.5h-1.5zM200.2 286.5h1.7v1.7h-1.7zM208.8 291.6h1.5v1.5h-1.5zM201.6 289h1.9v1.9h-1.9zM249.8 262h1.6v1.6h-1.6zM254.9 260h1.4v1.4h-1.4zM245.6 277.6h1.8v1.8h-1.8zM243.5 285.6h1.8v1.8h-1.8zM218.3 300.2h1.4v1.4h-1.4zM254.4 300.4h1.8v1.8h-1.8zM248.7 270.4h1.3v1.3h-1.3zM252.4 264.3h1.5v1.5h-1.5zM247.1 273.3h1.7v1.7h-1.7zM240.1 300.7h1.9v1.9h-1.9zM242.3 292.3h1.3v1.3h-1.3zM253.2 260.8h1.6v1.6h-1.6zM210.1 298.3h2v2h-2zM197.9 258.4h1.5v1.5h-1.5zM193.4 283.4h1.5v1.5h-1.5zM217.8 283.7h1.9v1.9h-1.9zM207.7 274.1h1.5v1.5h-1.5z" fill="#2a2eb8"/><path d="M241.7 302.4h1.6v1.6h-1.6zM203.3 285.5h1.5v1.5h-1.5zM208.2 293.4h1.9v1.9h-1.9zM235.9 269.5h1.8v1.8h-1.8zM239.2 262.7h1.9v1.9h-1.9zM234.5 261.8h1.8v1.8h-1.8zM240.5 266.2h1.9v1.9h-1.9zM242.3 282.5h1.9v1.9h-1.9zM223.5 286.9h1.8v1.8h-1.8zM216.2 292.9h2v2h-2zM200.8 267.8h1.5v1.5h-1.5zM222.2 265.3h1.8v1.8h-1.8zM210.7 264.3h1.7v1.7h-1.7zM253.1 289.5h1.9v1.9h-1.9zM190.6 261.2h2v2h-2zM217.6 297.5h1.6v1.6h-1.6zM229.3 262.5h1.9v1.9h-1.9zM197.7 276.2h2v2h-2zM220.5 257.1h1.4v1.4h-1.4zM195.3 281.1h1.5v1.5h-1.5zM192.5 302.3h1.3v1.3h-1.3zM243.8 294.9h1.9v1.9h-1.9zM195.2 264h1.8v1.8h-1.8zM198.5 288.1h1.4v1.4h-1.4zM232.5 265.2h2v2h-2z" fill="#3236c8"/></g>
<rect x="246.5" y="304" width="9" height="1" fill="#777"/>
<rect x="377.5" y="255.5" width="68" height="51" fill="#fcfcff" stroke="#c6c6c6" stroke-width="1"/>
<path d="M435.1 297.9h1v1h-1zM431.5 268.8h1v1h-1zM383.1 302.4h1v1h-1zM418.5 256.1h1v1h-1zM438.1 304.3h1v1h-1zM396.9 295.9h1v1h-1zM383.4 277.5h1v1h-1zM432 276h1v1h-1zM412.2 261.7h1v1h-1zM431.7 280.4h1v1h-1zM394.4 294.1h1v1h-1zM442.6 282.4h1v1h-1zM426.7 304.6h1v1h-1zM380 285.3h1v1h-1zM441.8 261.7h1v1h-1zM392.7 283h1v1h-1zM425.7 283.1h1v1h-1zM414.1 258.5h1v1h-1zM426.8 271.7h1v1h-1zM382.9 303h1v1h-1zM421.5 278.3h1v1h-1zM426.4 279.4h1v1h-1zM386.2 285.6h1v1h-1zM427.3 292.5h1v1h-1zM414.4 301.5h1v1h-1zM440.4 298.9h1v1h-1zM402.5 269.1h1v1h-1zM413 288.1h1v1h-1zM388.6 283.4h1v1h-1zM407 256.1h1v1h-1zM405.6 275.6h1v1h-1zM441.6 258.7h1v1h-1zM439.3 300.5h1v1h-1zM417.6 265.2h1v1h-1zM430.2 263.9h1v1h-1zM399.2 288.7h1v1h-1zM406.1 278.6h1v1h-1zM398 257.8h1v1h-1zM401.8 296.5h1v1h-1zM432.8 260h1v1h-1zM414.5 273.3h1v1h-1zM404.3 304.4h1v1h-1zM431.4 280.8h1v1h-1zM411.5 300.9h1v1h-1zM402.8 294.3h1v1h-1zM426.2 292.1h1v1h-1zM408.1 289.6h1v1h-1zM433.3 270.5h1v1h-1zM428.4 279.6h1v1h-1zM413.3 278.8h1v1h-1zM402.7 292.9h1v1h-1zM403.9 264.9h1v1h-1zM430 275.6h1v1h-1zM416.2 304.1h1v1h-1zM420.7 281.7h1v1h-1zM396.7 290.7h1v1h-1zM441.4 290.7h1v1h-1zM428.8 271.6h1v1h-1zM398.7 273.5h1v1h-1zM409.6 299.8h1v1h-1zM408.8 264.6h1v1h-1zM413.2 268.7h1v1h-1zM420 272.6h1v1h-1zM440.8 277.4h1v1h-1zM416.5 284.6h1v1h-1zM405.3 303.9h1v1h-1zM380.8 292.4h1v1h-1zM395.4 259h1v1h-1zM389.9 292.8h1v1h-1zM438 294h1v1h-1zM396.8 280.3h1v1h-1zM385.8 276.6h1v1h-1zM395 257.5h1v1h-1zM397.2 301.5h1v1h-1zM413 269.4h1v1h-1zM385.5 300h1v1h-1zM384 257.9h1v1h-1zM385.4 292.9h1v1h-1zM439.6 260.7h1v1h-1zM420.1 287.9h1v1h-1zM412.7 256.2h1v1h-1zM423.7 277.1h1v1h-1zM439.5 304.9h1v1h-1zM420 261.7h1v1h-1zM398.9 286.9h1v1h-1zM435.5 276.6h1v1h-1zM401.8 285.7h1v1h-1zM434.4 265.6h1v1h-1zM417.3 286.2h1v1h-1zM409.4 273.6h1v1h-1zM440.6 296h1v1h-1zM388.3 256h1v1h-1zM395 276.7h1v1h-1zM388.7 272.6h1v1h-1zM422.9 292.2h1v1h-1zM432 295.9h1v1h-1zM399.3 282.1h1v1h-1zM426.7 286h1v1h-1zM416.3 295.8h1v1h-1zM440.4 300h1v1h-1zM395.8 261.9h1v1h-1zM397 295.3h1v1h-1zM398.9 292.4h1v1h-1zM417.1 304.7h1v1h-1zM385.8 296.6h1v1h-1zM381.1 287.3h1v1h-1zM413.5 268h1v1h-1zM395.3 275h1v1h-1zM409.9 263.7h1v1h-1zM407.1 260.3h1v1h-1zM411 282.4h1v1h-1zM403.6 280.2h1v1h-1zM415.6 281.5h1v1h-1zM389.9 266.8h1v1h-1zM395.5 305h1v1h-1zM411.1 290.7h1v1h-1zM391.4 281.5h1v1h-1zM406.9 265.9h1v1h-1zM392.5 267.8h1v1h-1zM426.7 292.5h1v1h-1zM435.2 272.5h1v1h-1zM412.2 291.6h1v1h-1zM415 298.2h1v1h-1zM379.4 290.1h1v1h-1zM386.7 281.3h1v1h-1zM403.9 278.2h1v1h-1zM428.7 260.4h1v1h-1zM381.2 302h1v1h-1zM410.1 276.1h1v1h-1zM388 280.7h1v1h-1zM422 299.8h1v1h-1zM403.8 262.3h1v1h-1zM428 270.9h1v1h-1zM425.1 295.3h1v1h-1zM441.6 264.4h1v1h-1zM395.3 275h1v1h-1zM432 277.3h1v1h-1zM406.7 297.1h1v1h-1zM385.9 261.3h1v1h-1zM384 281h1v1h-1zM391.9 273.6h1v1h-1zM410.6 281.9h1v1h-1zM403.9 262.8h1v1h-1zM432 298.4h1v1h-1zM415.3 270.1h1v1h-1zM444 261.9h1v1h-1zM436.2 286.7h1v1h-1zM395.1 285h1v1h-1zM414.5 256.5h1v1h-1zM408.7 294h1v1h-1zM419.9 262.4h1v1h-1zM392 290.1h1v1h-1zM379.8 289.8h1v1h-1zM413.2 274.8h1v1h-1zM405.7 279.4h1v1h-1zM384.6 301.4h1v1h-1zM405.8 288.5h1v1h-1zM384.9 299.1h1v1h-1zM424 268.4h1v1h-1zM437.6 299h1v1h-1zM408.5 269.7h1v1h-1zM432.5 256.2h1v1h-1zM440.8 303.2h1v1h-1zM383.4 302.2h1v1h-1zM396.7 295.8h1v1h-1zM435.1 264.7h1v1h-1zM400.6 302.9h1v1h-1zM429.8 290.4h1v1h-1zM393.5 291.9h1v1h-1zM380.6 268.9h1v1h-1zM394.5 258.8h1v1h-1zM408.9 257.6h1v1h-1zM443 279.9h1v1h-1zM429 281.9h1v1h-1zM386.1 278.1h1v1h-1zM378.5 270.7h1v1h-1zM419.9 264.8h1v1h-1zM438.5 287.1h1v1h-1zM379.7 277h1v1h-1zM437.1 268.5h1v1h-1zM385.9 269.5h1v1h-1zM410 275.3h1v1h-1zM394.1 278.8h1v1h-1zM410 290.2h1v1h-1zM443.8 287.1h1v1h-1zM383.2 263.4h1v1h-1zM397.8 302.1h1v1h-1zM382.2 287.9h1v1h-1zM404.7 268h1v1h-1zM420.4 293.1h1v1h-1zM428.9 266.6h1v1h-1zM390.7 265.4h1v1h-1zM392.7 266.6h1v1h-1zM412.5 271.5h1v1h-1zM418.9 303.6h1v1h-1zM430.3 260.4h1v1h-1zM440.4 275h1v1h-1zM389.7 268h1v1h-1zM381.7 269.8h1v1h-1zM409 261.2h1v1h-1zM441.8 276.9h1v1h-1zM413.5 271.6h1v1h-1zM437.7 298h1v1h-1zM409.9 256h1v1h-1zM421.5 272.4h1v1h-1zM387.2 278.7h1v1h-1zM426.1 288.4h1v1h-1zM384.5 300.8h1v1h-1zM409.8 300.4h1v1h-1zM405.7 300.4h1v1h-1zM433.6 257.8h1v1h-1zM436.6 289.4h1v1h-1zM416.4 256.1h1v1h-1zM419.7 287.5h1v1h-1zM435.1 275.3h1v1h-1zM382.1 292.1h1v1h-1zM402.3 272.1h1v1h-1zM422.4 258h1v1h-1zM380.1 303.8h1v1h-1zM435.5 295.2h1v1h-1zM409.9 275h1v1h-1zM390.1 257.6h1v1h-1zM430.5 268.5h1v1h-1zM427.5 258.9h1v1h-1zM394.2 277h1v1h-1zM402.9 266.1h1v1h-1zM429.3 259.5h1v1h-1zM418.4 283.6h1v1h-1zM412.4 264.9h1v1h-1zM420.9 291.2h1v1h-1zM415.4 284.5h1v1h-1zM414 277.3h1v1h-1zM416.1 281.3h1v1h-1zM396.9 297.5h1v1h-1zM400.6 260.9h1v1h-1zM419.3 298h1v1h-1zM385.4 257.4h1v1h-1zM399.1 269.3h1v1h-1zM388.2 269.6h1v1h-1zM406 266.9h1v1h-1zM413.1 276h1v1h-1zM404.1 261.4h1v1h-1zM427.9 286.4h1v1h-1zM414.7 271.3h1v1h-1zM443.8 291.9h1v1h-1zM432.9 283.4h1v1h-1zM418.8 289.9h1v1h-1zM396.6 268.5h1v1h-1zM428.6 271.4h1v1h-1zM379.8 278.6h1v1h-1zM434.8 276.7h1v1h-1zM415.2 300.2h1v1h-1zM388 265h1v1h-1zM379.2 273.4h1v1h-1zM386.5 284.1h1v1h-1zM400 260.4h1v1h-1zM426 293.1h1v1h-1zM438 273.4h1v1h-1zM413.9 287.3h1v1h-1zM435.8 302.3h1v1h-1zM400.1 266.6h1v1h-1zM396.2 268.8h1v1h-1zM429.1 286.5h1v1h-1zM385.9 286.7h1v1h-1zM421.7 280.2h1v1h-1zM426.6 259.5h1v1h-1zM423.5 258.8h1v1h-1zM434.5 282.2h1v1h-1zM433.6 263.2h1v1h-1zM391.2 296.9h1v1h-1zM383.9 271.7h1v1h-1zM429.6 297.9h1v1h-1zM387.2 259.2h1v1h-1zM419.5 266.8h1v1h-1zM397.5 258.6h1v1h-1zM401.4 295.8h1v1h-1zM416 257.5h1v1h-1zM382.9 299.7h1v1h-1zM419.7 264.6h1v1h-1zM418.8 295h1v1h-1zM432.5 287.7h1v1h-1zM387.3 297.6h1v1h-1zM422.3 296.4h1v1h-1zM409.3 298.6h1v1h-1zM431 272.2h1v1h-1zM388.1 286.4h1v1h-1zM391.6 272.9h1v1h-1zM393 275.2h1v1h-1zM401.3 290.3h1v1h-1zM418.1 264.4h1v1h-1zM421.1 292.9h1v1h-1zM407.9 257.7h1v1h-1zM430.4 291.4h1v1h-1zM382.2 269.5h1v1h-1zM428.2 287.1h1v1h-1zM387.5 272.7h1v1h-1zM380.9 299.7h1v1h-1zM429.7 268.2h1v1h-1zM405.6 292.5h1v1h-1zM413 260.9h1v1h-1zM429.6 291h1v1h-1zM379.3 298h1v1h-1zM409.5 284.6h1v1h-1zM422.8 299.5h1v1h-1zM410.9 268.3h1v1h-1zM404.7 298.8h1v1h-1zM419.7 282.8h1v1h-1zM414.3 280h1v1h-1zM439.6 302.5h1v1h-1zM400.5 256.2h1v1h-1zM388.6 268.4h1v1h-1zM405.2 289.2h1v1h-1zM422 279.4h1v1h-1zM439 261.2h1v1h-1zM405.2 295.6h1v1h-1zM422.9 282.6h1v1h-1zM423.7 256.4h1v1h-1zM424.9 281.2h1v1h-1zM434 264.6h1v1h-1zM404.3 303.7h1v1h-1zM398.7 289.5h1v1h-1zM438.7 282.5h1v1h-1zM411.9 281.4h1v1h-1zM394.7 281.2h1v1h-1zM425.4 280.4h1v1h-1zM399.3 275.4h1v1h-1zM384.1 256.2h1v1h-1zM439.4 274.5h1v1h-1zM425.8 288.7h1v1h-1zM396 271h1v1h-1zM420.8 280.3h1v1h-1zM421.2 284.3h1v1h-1zM409.1 286.9h1v1h-1zM407.8 259h1v1h-1zM412.9 302.4h1v1h-1zM427 269.1h1v1h-1zM411.4 261h1v1h-1zM422.6 274.5h1v1h-1zM416.7 303.6h1v1h-1zM418.2 295.2h1v1h-1zM378.3 271.6h1v1h-1zM416.3 265.3h1v1h-1zM414.1 272.7h1v1h-1zM408.9 260.2h1v1h-1zM425.3 268.6h1v1h-1zM399.8 263.9h1v1h-1zM394.5 263.2h1v1h-1zM443.4 295.7h1v1h-1zM427.6 260.2h1v1h-1zM394.7 301h1v1h-1zM437 264.7h1v1h-1zM417.1 288.9h1v1h-1zM405.4 272.2h1v1h-1zM394.9 290.8h1v1h-1zM399.4 291.3h1v1h-1zM379.6 282.2h1v1h-1zM436.3 262.2h1v1h-1zM378.2 291.6h1v1h-1zM390.5 283.6h1v1h-1zM378.5 280.2h1v1h-1zM405.3 256.9h1v1h-1zM397.3 278.2h1v1h-1zM412.1 271.7h1v1h-1zM421.3 292.7h1v1h-1zM385 300.7h1v1h-1zM401.6 285.6h1v1h-1zM438.6 289.7h1v1h-1zM406.1 293h1v1h-1zM399.6 257.4h1v1h-1zM422.5 275.1h1v1h-1zM434.1 257.5h1v1h-1zM425.4 278h1v1h-1zM380.3 275.8h1v1h-1zM431.3 299.4h1v1h-1zM420 290.8h1v1h-1zM436.4 301.9h1v1h-1zM411.9 257.6h1v1h-1zM421.2 258.3h1v1h-1zM382.3 280.6h1v1h-1zM418.2 260.7h1v1h-1zM420.7 292.3h1v1h-1zM438.9 278h1v1h-1zM441.8 266.1h1v1h-1zM415.6 267.5h1v1h-1zM402.1 268.3h1v1h-1zM443.3 302.5h1v1h-1zM415.8 259.7h1v1h-1zM392.3 264.2h1v1h-1zM397.4 277.8h1v1h-1zM403.8 277.9h1v1h-1zM430.9 276.9h1v1h-1zM412.3 279.5h1v1h-1zM394.9 285h1v1h-1zM389.2 261.3h1v1h-1zM416.1 290.1h1v1h-1zM385 280.5h1v1h-1zM385.8 272.7h1v1h-1zM421.3 288.6h1v1h-1zM405.8 296.7h1v1h-1zM434.5 266.1h1v1h-1zM439.9 267.9h1v1h-1zM438.4 285.4h1v1h-1zM440.2 272.4h1v1h-1zM433.5 272.7h1v1h-1zM424 292.5h1v1h-1zM432.5 286.8h1v1h-1zM406.7 256h1v1h-1zM425.6 284.1h1v1h-1zM385.3 290.1h1v1h-1zM403.2 288.2h1v1h-1zM407.8 295.1h1v1h-1zM426 299.3h1v1h-1zM436.3 256h1v1h-1zM418.4 304.1h1v1h-1zM379.5 293.2h1v1h-1zM396.2 283.4h1v1h-1zM383.3 287.8h1v1h-1zM434.3 292.6h1v1h-1zM424.8 299.5h1v1h-1zM415.4 266.7h1v1h-1zM412.8 296.1h1v1h-1zM398.6 276.3h1v1h-1zM431.9 258.8h1v1h-1zM381.4 272.9h1v1h-1zM434 261.7h1v1h-1zM414.2 289h1v1h-1zM381.4 297.4h1v1h-1zM429.9 257.3h1v1h-1zM408.8 276.5h1v1h-1zM427.1 257.3h1v1h-1zM400.8 258.4h1v1h-1zM411.8 259.5h1v1h-1zM431 272h1v1h-1zM378.1 270.5h1v1h-1zM413.3 266.1h1v1h-1zM387.1 293.9h1v1h-1zM415.5 257.6h1v1h-1zM423.5 260h1v1h-1zM430.3 296.5h1v1h-1zM396.3 256.4h1v1h-1zM413.6 283.4h1v1h-1zM399.4 275.2h1v1h-1zM379.7 302.5h1v1h-1zM384.4 278.1h1v1h-1zM394.6 286.2h1v1h-1zM392.8 258.7h1v1h-1zM411.4 268.2h1v1h-1zM421.2 270.2h1v1h-1zM437.1 284.1h1v1h-1zM410.9 279.3h1v1h-1zM415.6 282.7h1v1h-1zM412.6 265.3h1v1h-1zM429 274.7h1v1h-1zM393.6 285.8h1v1h-1zM420 273.8h1v1h-1zM424.6 265.7h1v1h-1zM380.6 266.5h1v1h-1zM427.8 261.8h1v1h-1zM420.8 283.7h1v1h-1zM416.3 272.1h1v1h-1zM405 296.3h1v1h-1zM404 258.8h1v1h-1zM408.4 259.1h1v1h-1zM387.8 267.3h1v1h-1zM411.3 282.5h1v1h-1zM404.8 258.1h1v1h-1zM386.2 284.7h1v1h-1zM378.5 293.7h1v1h-1zM417.1 283.1h1v1h-1zM437.3 262.1h1v1h-1zM417.9 276h1v1h-1zM428.6 285.5h1v1h-1zM415.2 276.3h1v1h-1zM436.4 283.4h1v1h-1zM392.4 260.8h1v1h-1zM440.6 300.6h1v1h-1zM421.9 294.3h1v1h-1zM441.5 291.9h1v1h-1zM398.9 292.6h1v1h-1zM418.6 266.1h1v1h-1zM415.2 302.9h1v1h-1zM441.1 273.7h1v1h-1zM439 267.4h1v1h-1zM400.8 265.8h1v1h-1zM400.7 302.3h1v1h-1zM390.1 266.1h1v1h-1zM399 298.1h1v1h-1zM397.4 274.1h1v1h-1zM409.7 295.9h1v1h-1zM401.6 291.4h1v1h-1zM431.4 256.6h1v1h-1zM435.8 270.9h1v1h-1zM411.6 256.9h1v1h-1zM438.4 260.1h1v1h-1zM440 281h1v1h-1zM425.1 288.7h1v1h-1zM379.8 289.3h1v1h-1zM392.4 260.2h1v1h-1zM438.5 267.4h1v1h-1zM435.2 267.2h1v1h-1zM426 294.7h1v1h-1zM401 278.8h1v1h-1zM436.6 266.2h1v1h-1zM380.3 294.3h1v1h-1zM437.9 274.8h1v1h-1zM390.9 266.9h1v1h-1zM411.6 303.3h1v1h-1zM430.3 295.3h1v1h-1zM403 270.5h1v1h-1zM422.6 301.6h1v1h-1zM421.6 304h1v1h-1zM407.4 272.2h1v1h-1zM381.8 268.5h1v1h-1zM425.8 293.7h1v1h-1zM392.9 272.9h1v1h-1zM385.1 277.2h1v1h-1zM403.5 301.5h1v1h-1zM430.4 300.7h1v1h-1zM386.3 271.3h1v1h-1zM434.9 267.5h1v1h-1zM400.5 260.9h1v1h-1zM379.1 285.9h1v1h-1zM402.8 272.9h1v1h-1zM404.4 294.4h1v1h-1zM384.2 257.5h1v1h-1zM383.2 259h1v1h-1zM421.8 280.8h1v1h-1zM383.7 273.4h1v1h-1zM382.8 282.6h1v1h-1zM427.6 263h1v1h-1zM435.2 295.2h1v1h-1zM443.8 281.1h1v1h-1zM413.6 256.8h1v1h-1zM437.7 294.8h1v1h-1zM420 293.6h1v1h-1zM392.6 295.3h1v1h-1zM424.4 266.1h1v1h-1zM427.5 282.9h1v1h-1zM425.2 263.3h1v1h-1zM433.4 274.5h1v1h-1zM433.9 304.7h1v1h-1zM380.6 287.9h1v1h-1zM379.4 271.3h1v1h-1zM443.6 288.4h1v1h-1zM426 278.8h1v1h-1zM401.2 262.1h1v1h-1zM420.2 303.9h1v1h-1zM409.5 279.3h1v1h-1zM428.1 259.8h1v1h-1zM420.7 301.2h1v1h-1z" fill="#c4ace0"/><g filter="url(#soft)"><path d="M388.6 285.7h1.3v1.3h-1.3zM386.6 294.6h1.2v1.2h-1.2zM387.7 300.6h1.2v1.2h-1.2zM391.2 273.6h1.2v1.2h-1.2zM390.7 267.2h1.3v1.3h-1.3zM389.3 265.8h1.5v1.5h-1.5zM389.8 264.7h1.7v1.7h-1.7zM386.1 259.2h1.5v1.5h-1.5zM405 302.9h1.4v1.4h-1.4zM410.6 283.6h1.3v1.3h-1.3zM415.6 287.9h1.3v1.3h-1.3zM400.4 275h1.6v1.6h-1.6zM388.7 270.4h1.2v1.2h-1.2zM400.7 276.8h1.2v1.2h-1.2zM429.8 287.1h1.4v1.4h-1.4zM424.1 291h1.3v1.3h-1.3zM382.3 276.1h1.3v1.3h-1.3zM382.8 274.2h1.2v1.2h-1.2zM382.4 274.8h1.3v1.3h-1.3zM408.2 258.1h1.6v1.6h-1.6zM414.2 264.8h1.1v1.1h-1.1zM406.8 284.8h1.4v1.4h-1.4zM407.9 283.4h1.5v1.5h-1.5zM405.7 287.2h1.5v1.5h-1.5zM412.2 283.5h1.7v1.7h-1.7zM409.7 287.6h1.5v1.5h-1.5zM415.1 288h1.1v1.1h-1.1zM414.5 286.6h1.2v1.2h-1.2zM415.1 300.1h1.2v1.2h-1.2zM436.7 260.9h1.8v1.8h-1.8zM439.6 259.3h1.6v1.6h-1.6zM436.8 266.3h1.3v1.3h-1.3zM434.5 271h1.8v1.8h-1.8zM438.5 259.9h1.5v1.5h-1.5zM434.3 269.7h1.7v1.7h-1.7zM438.6 290.7h1.5v1.5h-1.5zM381.3 266.7h1.7v1.7h-1.7zM433.9 284.1h1.8v1.8h-1.8zM436 264.7h1.7v1.7h-1.7zM433.1 270.4h1.7v1.7h-1.7zM435.2 269.3h1.6v1.6h-1.6zM414.5 264.5h1.8v1.8h-1.8zM429.1 266.6h1.7v1.7h-1.7zM417 264.4h1.1v1.1h-1.1zM421.3 265.7h1.5v1.5h-1.5zM381.2 277.8h1.3v1.3h-1.3zM383 262.6h1.6v1.6h-1.6zM419.2 262.3h1.4v1.4h-1.4zM421.2 260.9h1.5v1.5h-1.5zM409.9 287.5h1.1v1.1h-1.1zM428.4 289.9h1.2v1.2h-1.2zM433.1 277.4h1.5v1.5h-1.5zM435.6 280.5h1.2v1.2h-1.2zM432.1 281.4h1.2v1.2h-1.2zM435.9 279.6h1.6v1.6h-1.6zM431.3 268.5h1.5v1.5h-1.5zM442.3 277.5h1.5v1.5h-1.5zM383.3 300.6h1.7v1.7h-1.7zM393.2 293.2h1.5v1.5h-1.5zM434.9 289.2h1.6v1.6h-1.6zM422.1 295.6h1.6v1.6h-1.6zM406 299.4h1.4v1.4h-1.4zM417.6 295.4h1.6v1.6h-1.6zM401.1 301.4h1.8v1.8h-1.8zM415.9 294.7h1.3v1.3h-1.3zM417.3 290.5h1.1v1.1h-1.1zM412.7 285.5h1.5v1.5h-1.5zM421.9 287.4h1.2v1.2h-1.2zM407 297.3h1.2v1.2h-1.2zM400.1 286.1h1.3v1.3h-1.3zM410.1 300.9h1.3v1.3h-1.3zM405.8 292.7h1.2v1.2h-1.2zM401 280.9h1.2v1.2h-1.2zM407.2 302.8h1.1v1.1h-1.1zM394.2 301.6h1.6v1.6h-1.6zM413.3 294.8h1.3v1.3h-1.3zM414 298.6h1.8v1.8h-1.8zM403 297.7h1.7v1.7h-1.7zM420.2 298.1h1.3v1.3h-1.3zM427.6 269.9h1.6v1.6h-1.6zM428 301.2h1.7v1.7h-1.7zM403.2 256.6h1.4v1.4h-1.4zM411.1 301.9h1.6v1.6h-1.6zM380.2 279.7h1.1v1.1h-1.1zM406.8 296.4h1.4v1.4h-1.4zM430.2 303.1h1.3v1.3h-1.3z" fill="#5c2aa4"/><path d="M386.6 295.7h1.3v1.3h-1.3zM387.2 295.9h1.2v1.2h-1.2zM387.4 263.5h1.7v1.7h-1.7zM392 274.7h1.6v1.6h-1.6zM390.7 266h1.5v1.5h-1.5zM424.4 290.8h1.2v1.2h-1.2zM433.3 287.2h1.5v1.5h-1.5zM427 291.5h1.2v1.2h-1.2zM428.4 286.8h1.3v1.3h-1.3zM381.1 276.8h1.4v1.4h-1.4zM379.3 278.8h1.4v1.4h-1.4zM414.4 263.1h1.7v1.7h-1.7zM419.1 280.6h1.5v1.5h-1.5zM412.8 282.8h1.5v1.5h-1.5zM415.4 293.8h1.5v1.5h-1.5zM416.6 279.5h1.1v1.1h-1.1zM416.7 291.5h1.2v1.2h-1.2zM436.9 269.8h1.3v1.3h-1.3zM440.7 260.4h1.4v1.4h-1.4zM436.6 267.8h1.7v1.7h-1.7zM434.1 269.8h1.6v1.6h-1.6zM443.1 293.5h1.2v1.2h-1.2zM387.2 281.3h1.3v1.3h-1.3zM379.2 264.5h1.5v1.5h-1.5zM382 263.5h1.1v1.1h-1.1zM380.1 261.5h1.7v1.7h-1.7zM439.4 262.1h1.2v1.2h-1.2zM435.9 300.9h1.2v1.2h-1.2zM432 276.5h1.3v1.3h-1.3zM442.6 271.1h1.6v1.6h-1.6zM428.8 267.7h1.4v1.4h-1.4zM378.4 286.9h1.3v1.3h-1.3zM381 286.9h1.3v1.3h-1.3zM380.4 281.8h1.2v1.2h-1.2zM381.3 269.8h1.5v1.5h-1.5zM416.3 260.8h1.2v1.2h-1.2zM420.2 262.2h1.4v1.4h-1.4zM429 285h1.3v1.3h-1.3zM443.6 278.3h1.1v1.1h-1.1zM432.1 270.2h1.6v1.6h-1.6zM386.3 296.2h1.4v1.4h-1.4zM398.9 289h1.2v1.2h-1.2zM401 288h1.1v1.1h-1.1zM402.2 286.2h1.7v1.7h-1.7zM426.1 290.1h1.6v1.6h-1.6zM420.3 294.9h1.7v1.7h-1.7zM416.5 293.1h1.4v1.4h-1.4zM416.1 292.7h1.4v1.4h-1.4zM409.3 299.3h1.4v1.4h-1.4zM415.1 294.2h1.3v1.3h-1.3zM422.7 286.4h1.6v1.6h-1.6zM429.4 273.6h1.3v1.3h-1.3zM411.6 286.2h1.3v1.3h-1.3zM407.3 285.9h1.8v1.8h-1.8zM404.1 290.4h1.7v1.7h-1.7zM421.1 286.6h1.8v1.8h-1.8zM407.6 296h1.8v1.8h-1.8zM406.5 297.5h1.4v1.4h-1.4zM406.7 295.3h1.2v1.2h-1.2zM408.9 301.1h1.5v1.5h-1.5zM396 301.8h1.8v1.8h-1.8zM396.7 297.9h1.1v1.1h-1.1zM399.8 298.5h1.6v1.6h-1.6zM410.3 295.6h1.6v1.6h-1.6zM412.5 297.2h1.3v1.3h-1.3zM417.9 297.1h1.3v1.3h-1.3zM390.5 287.3h1.7v1.7h-1.7zM400.4 268.7h1.2v1.2h-1.2zM413.6 268h1.2v1.2h-1.2zM421.7 281.2h1.4v1.4h-1.4zM439.9 259h1.2v1.2h-1.2zM437.1 276.3h1.4v1.4h-1.4zM436.8 303.6h1.5v1.5h-1.5zM421 303.4h1.5v1.5h-1.5zM394.5 290.1h1.3v1.3h-1.3zM401.6 267.9h1.2v1.2h-1.2zM426.3 264.3h1.7v1.7h-1.7z" fill="#7a3cb8"/><path d="M386.7 298.4h1.2v1.2h-1.2zM394.8 276.7h1.5v1.5h-1.5zM389.3 268.4h1.3v1.3h-1.3zM408.2 282.3h1.3v1.3h-1.3zM406.6 294.8h1.6v1.6h-1.6zM405.6 291.3h1.7v1.7h-1.7zM410.8 271.7h1.2v1.2h-1.2zM409.9 283.4h1.2v1.2h-1.2zM403.8 295.6h1.7v1.7h-1.7zM392.4 274.3h1.7v1.7h-1.7zM401.7 274.8h1.6v1.6h-1.6zM398.1 274.1h1.5v1.5h-1.5zM426 290.5h1.7v1.7h-1.7zM382.1 274.2h1.8v1.8h-1.8zM380 276.3h1.2v1.2h-1.2zM413.9 261.6h1.2v1.2h-1.2zM417.5 300h1.3v1.3h-1.3zM439.4 301.1h1.4v1.4h-1.4zM434.4 262.6h1.7v1.7h-1.7zM435 269.3h1.7v1.7h-1.7zM433 274.4h1.6v1.6h-1.6zM438 261.1h1.5v1.5h-1.5zM382.4 273.1h1.8v1.8h-1.8zM439.2 300h1.5v1.5h-1.5zM431.9 302.5h1.7v1.7h-1.7zM427.3 277.7h1.5v1.5h-1.5zM419.9 264.6h1.7v1.7h-1.7zM420.5 265.5h1.3v1.3h-1.3zM378.4 282.7h1.4v1.4h-1.4zM380.8 267.8h1.5v1.5h-1.5zM378.3 284h1.8v1.8h-1.8zM413.5 291.4h1.4v1.4h-1.4zM430.1 287.2h1.2v1.2h-1.2zM431.4 284.9h1.4v1.4h-1.4zM442 274.8h1.1v1.1h-1.1zM428.5 268.3h1.4v1.4h-1.4zM435.7 271.9h1.4v1.4h-1.4zM408.6 283.2h1.3v1.3h-1.3zM408.7 282.8h1.3v1.3h-1.3zM421.2 293.3h1.3v1.3h-1.3zM430.2 293.8h1.6v1.6h-1.6zM423 289.8h1.1v1.1h-1.1zM416.7 292.2h1.6v1.6h-1.6zM404.7 284.7h1.4v1.4h-1.4zM403.5 286.2h1.1v1.1h-1.1zM409.7 285.7h1.2v1.2h-1.2zM417.9 287.4h1.3v1.3h-1.3zM403.7 290h1.3v1.3h-1.3zM401.9 291.3h1.3v1.3h-1.3zM401 289.9h1.2v1.2h-1.2zM404.9 291.8h1.6v1.6h-1.6zM405.8 300.1h1.1v1.1h-1.1zM396 302.5h1.2v1.2h-1.2zM413 296.9h1.7v1.7h-1.7zM412.3 298.4h1.1v1.1h-1.1zM414.6 297.5h1.4v1.4h-1.4zM407.5 297.2h1.4v1.4h-1.4zM396.2 297.4h1.7v1.7h-1.7zM403.8 281h1.3v1.3h-1.3zM442.2 288.3h1.1v1.1h-1.1zM400.5 298.1h1.2v1.2h-1.2zM394.5 259.1h1.8v1.8h-1.8zM412.2 300.5h1.5v1.5h-1.5zM382.7 270.6h1.7v1.7h-1.7zM395.1 300.4h1.5v1.5h-1.5zM382.2 285.5h1.3v1.3h-1.3zM382.9 301.2h1.7v1.7h-1.7z" fill="#9050c4"/><path d="M392.5 273h1.4v1.4h-1.4zM393.1 276.5h1.5v1.5h-1.5zM389.2 266.3h1.2v1.2h-1.2zM407.9 295.8h1.5v1.5h-1.5zM411.4 279h1.3v1.3h-1.3zM409.1 281.1h1.2v1.2h-1.2zM404.6 295.4h1.3v1.3h-1.3zM409.1 284.5h1.4v1.4h-1.4zM407.7 279.7h1.1v1.1h-1.1zM430 287.2h1.6v1.6h-1.6zM428.9 288h1.5v1.5h-1.5zM426.7 289.1h1.2v1.2h-1.2zM424.8 291.9h1.3v1.3h-1.3zM433 285.6h1.3v1.3h-1.3zM383.6 273.3h1.8v1.8h-1.8zM378.6 278.5h1.2v1.2h-1.2zM415.2 264.6h1.7v1.7h-1.7zM410.4 259.8h1.3v1.3h-1.3zM404.1 286.9h1.6v1.6h-1.6zM410.1 284.6h1.5v1.5h-1.5zM418 289.8h1.8v1.8h-1.8zM416.5 277.3h1.2v1.2h-1.2zM413.6 284.5h1.8v1.8h-1.8zM415.2 281.2h1.2v1.2h-1.2zM437.6 301.4h1.4v1.4h-1.4zM436 265.5h1.6v1.6h-1.6zM438.5 292.1h1.7v1.7h-1.7zM379.2 263.1h1.7v1.7h-1.7zM380.8 271.2h1.2v1.2h-1.2zM438.8 260.4h1.2v1.2h-1.2zM436.6 267.4h1.6v1.6h-1.6zM435.3 301.2h1.4v1.4h-1.4zM428.2 274.9h1.6v1.6h-1.6zM433.7 270.1h1.1v1.1h-1.1zM431.6 273.8h1.4v1.4h-1.4zM382 270h1.7v1.7h-1.7zM384 259.4h1.7v1.7h-1.7zM379.2 276.6h1.6v1.6h-1.6zM381.4 262.2h1.4v1.4h-1.4zM412.6 258.6h1.3v1.3h-1.3zM415.5 299.2h1.5v1.5h-1.5zM415 296.4h1.1v1.1h-1.1zM434 278.7h1.1v1.1h-1.1zM436.4 270.9h1.6v1.6h-1.6zM435.8 272.2h1.5v1.5h-1.5zM434.4 270.4h1.1v1.1h-1.1zM435.8 269.8h1.4v1.4h-1.4zM393.2 292.1h1.8v1.8h-1.8zM398.5 288.5h1.5v1.5h-1.5zM421 293.3h1.8v1.8h-1.8zM416.4 295.3h1.6v1.6h-1.6zM415.2 294.2h1.2v1.2h-1.2zM416.5 292.7h1.5v1.5h-1.5zM426.1 283.1h1.3v1.3h-1.3zM401 287.2h1.3v1.3h-1.3zM407.6 284.7h1.6v1.6h-1.6zM404.9 292.7h1.7v1.7h-1.7zM407.1 299.1h1.2v1.2h-1.2zM388.2 293.8h1.6v1.6h-1.6zM391.5 299.9h1.6v1.6h-1.6zM389.3 295h1.6v1.6h-1.6zM402.7 298.8h1.4v1.4h-1.4zM414.1 296.5h1.6v1.6h-1.6zM411.3 298.3h1.3v1.3h-1.3zM419.1 266h1.2v1.2h-1.2zM434.8 284h1.5v1.5h-1.5zM433.1 293.8h1.2v1.2h-1.2zM409 279.3h1.8v1.8h-1.8zM442.8 299.1h1.6v1.6h-1.6zM435 303.8h1.3v1.3h-1.3zM415.5 264.5h1.2v1.2h-1.2zM423.1 262.3h1.6v1.6h-1.6zM432.6 272h1.2v1.2h-1.2zM390.4 260.7h1.4v1.4h-1.4zM441.4 269.2h1.6v1.6h-1.6zM438.7 293.3h1.8v1.8h-1.8zM435.5 296.6h1.8v1.8h-1.8zM435.7 258.4h1.8v1.8h-1.8z" fill="#a46ad0"/><g fill="#4a2296"><circle cx="435.4" cy="274.1" r="1"/><circle cx="413.5" cy="283.7" r="1.4"/><circle cx="410.8" cy="266.9" r="1.2"/><circle cx="423.2" cy="286" r="1.2"/><circle cx="404.6" cy="289" r="1.7"/><circle cx="385.2" cy="270.3" r="1.2"/></g></g>
<rect x="434.5" y="304" width="9" height="1" fill="#777"/>
<rect x="447.5" y="255.5" width="69" height="51" fill="#fcfcff" stroke="#c6c6c6" stroke-width="1"/>
<path d="M503.7 273.7h1v1h-1zM495.1 298.1h1v1h-1zM491 282.9h1v1h-1zM499.1 291.1h1v1h-1zM479.3 284.1h1v1h-1zM498 259.1h1v1h-1zM491.3 292.1h1v1h-1zM474.7 280.9h1v1h-1zM463.3 287.9h1v1h-1zM513.1 270.6h1v1h-1zM479 299.7h1v1h-1zM484.9 276.7h1v1h-1zM492.8 257.5h1v1h-1zM458.3 298.7h1v1h-1zM458.6 257.4h1v1h-1zM510.1 292.9h1v1h-1zM513.5 293.2h1v1h-1zM509.8 272.9h1v1h-1zM498.6 264.1h1v1h-1zM503.2 291.9h1v1h-1zM460.8 265h1v1h-1zM459.3 296.1h1v1h-1zM492.5 269.8h1v1h-1zM491.8 289.6h1v1h-1zM494.2 304.8h1v1h-1zM504.6 277.1h1v1h-1zM451.2 267.2h1v1h-1zM453 294.4h1v1h-1zM501.2 266.5h1v1h-1zM511.5 271.8h1v1h-1zM479.2 284.5h1v1h-1zM514.9 299.9h1v1h-1zM457.7 299.8h1v1h-1zM461.6 295.3h1v1h-1zM493 263.4h1v1h-1zM451.6 301.5h1v1h-1zM448.3 263.2h1v1h-1zM513.3 290.2h1v1h-1zM485.8 278.2h1v1h-1zM486.3 278.7h1v1h-1zM452.4 267.3h1v1h-1zM469 280.3h1v1h-1zM474.4 291.4h1v1h-1zM501.8 293.7h1v1h-1zM478.9 275.2h1v1h-1zM449.6 273.3h1v1h-1zM500.7 273.1h1v1h-1zM467.2 264h1v1h-1zM490.4 280.5h1v1h-1zM451.1 267.8h1v1h-1zM453.1 263.5h1v1h-1zM465.3 259.7h1v1h-1zM514.3 287.1h1v1h-1zM455.9 281.8h1v1h-1zM474.6 265.5h1v1h-1zM475.7 283.8h1v1h-1zM454.6 302.8h1v1h-1zM481.2 259.8h1v1h-1zM493.9 302.5h1v1h-1zM449.1 289.4h1v1h-1zM504.2 277.8h1v1h-1zM453.1 293.1h1v1h-1zM470.3 270.8h1v1h-1zM499.6 256.2h1v1h-1zM464.5 300.4h1v1h-1zM458.6 259.6h1v1h-1zM454.3 281.5h1v1h-1zM473.1 281.1h1v1h-1zM509.3 267.8h1v1h-1zM499.5 284.5h1v1h-1zM490 257.4h1v1h-1zM451.2 263.4h1v1h-1zM477.6 273.9h1v1h-1zM468 298.4h1v1h-1zM486 272.5h1v1h-1zM488.8 298.6h1v1h-1zM461 275.6h1v1h-1zM462.2 281.1h1v1h-1zM456.8 272.7h1v1h-1zM514.7 301.1h1v1h-1zM448.9 273h1v1h-1zM502.5 297.1h1v1h-1zM469 288.3h1v1h-1zM499.1 275.8h1v1h-1zM455.7 294.5h1v1h-1zM497.2 283.5h1v1h-1zM500.3 304.5h1v1h-1zM462.8 256.3h1v1h-1zM489.9 265.3h1v1h-1zM506.1 293.2h1v1h-1zM479.5 294.4h1v1h-1zM511.3 291.5h1v1h-1zM466 278.5h1v1h-1zM453.4 286.8h1v1h-1zM470.1 262.8h1v1h-1zM463.8 271.4h1v1h-1zM502.3 257h1v1h-1zM459.2 269h1v1h-1zM503.6 261.4h1v1h-1zM514 294.4h1v1h-1zM475.9 286.6h1v1h-1zM493.6 294.5h1v1h-1zM464.4 299.1h1v1h-1zM496 260.8h1v1h-1zM448.9 287.5h1v1h-1zM502.8 288.8h1v1h-1zM502.1 256.1h1v1h-1zM510 274h1v1h-1zM475.6 294.6h1v1h-1zM486.1 277.6h1v1h-1zM454.1 300.7h1v1h-1zM487.2 257.2h1v1h-1zM483.3 288.9h1v1h-1zM479.3 285.7h1v1h-1zM460.4 304.9h1v1h-1zM480.8 258.4h1v1h-1zM464.8 297.6h1v1h-1zM497.4 283.3h1v1h-1zM465 291.7h1v1h-1zM502.9 261.5h1v1h-1zM452.8 293.1h1v1h-1zM490.9 292.8h1v1h-1zM460.4 300.2h1v1h-1zM478.1 293.8h1v1h-1zM462.8 274.3h1v1h-1zM472.5 276.2h1v1h-1zM506.2 283.4h1v1h-1zM501.5 286.8h1v1h-1zM499.8 279.8h1v1h-1zM449.9 281.3h1v1h-1zM456.1 256.8h1v1h-1zM504.7 283.3h1v1h-1zM485.4 283.8h1v1h-1zM478.1 268.2h1v1h-1zM479 281.1h1v1h-1zM495.5 276.4h1v1h-1zM465.1 287.2h1v1h-1zM494.7 265h1v1h-1zM509.3 294.5h1v1h-1zM467.1 298.3h1v1h-1zM495.9 268h1v1h-1zM461.9 303.9h1v1h-1zM505.9 259.8h1v1h-1zM458.3 302.4h1v1h-1zM492.8 286.1h1v1h-1zM452 291.4h1v1h-1zM484 289.4h1v1h-1zM498.9 287.9h1v1h-1zM491.9 301.4h1v1h-1zM497 278.2h1v1h-1zM504.8 291.7h1v1h-1zM488.1 273.6h1v1h-1zM472.3 302h1v1h-1zM492.4 287.6h1v1h-1zM480.4 291.8h1v1h-1zM513.2 264.7h1v1h-1zM483.2 288.2h1v1h-1zM463.5 273.2h1v1h-1zM459.2 261.5h1v1h-1zM483.2 275.5h1v1h-1zM500.7 289.1h1v1h-1zM501.1 275.5h1v1h-1zM514.8 286.7h1v1h-1zM469.9 299.2h1v1h-1zM494.1 301.9h1v1h-1zM468.3 301h1v1h-1zM474.3 260.3h1v1h-1zM449.7 278.9h1v1h-1zM488.8 268.6h1v1h-1zM456.9 265.4h1v1h-1zM460.4 258.4h1v1h-1zM457.9 262.5h1v1h-1zM475.2 284.4h1v1h-1zM489 273.4h1v1h-1zM470.4 268.9h1v1h-1zM503.9 296.4h1v1h-1zM478.6 283.9h1v1h-1zM468.4 285.6h1v1h-1zM508.1 301.5h1v1h-1zM488.3 270.5h1v1h-1zM500.4 267.5h1v1h-1zM464.4 274h1v1h-1zM484.6 281.7h1v1h-1zM482.5 283.9h1v1h-1zM449 299.2h1v1h-1zM512.8 256.2h1v1h-1zM462.2 278.5h1v1h-1zM503.4 263.4h1v1h-1zM483.7 279.7h1v1h-1zM498.9 281.1h1v1h-1zM471.5 274.8h1v1h-1zM497.5 276.2h1v1h-1zM508.9 287.1h1v1h-1zM468.5 280.1h1v1h-1zM453.5 296.5h1v1h-1zM503.7 271.7h1v1h-1zM469.4 273.4h1v1h-1zM476.7 293.4h1v1h-1zM489.1 298.7h1v1h-1zM483.5 293.9h1v1h-1zM498.8 266.2h1v1h-1zM457 268h1v1h-1zM476.9 257.3h1v1h-1zM457.3 286.8h1v1h-1zM474.3 281.1h1v1h-1zM485 279.7h1v1h-1zM456.6 301.7h1v1h-1zM510.1 267.5h1v1h-1zM477.3 283.3h1v1h-1zM495.6 284.4h1v1h-1zM500.7 290.5h1v1h-1zM460.4 269.7h1v1h-1zM481.2 272.3h1v1h-1zM474.3 272.3h1v1h-1zM511.1 269.6h1v1h-1zM486.2 275.3h1v1h-1zM461 286.1h1v1h-1zM452.9 293.3h1v1h-1zM470.7 289.6h1v1h-1zM453.9 271.4h1v1h-1zM504 264.7h1v1h-1zM498.2 276.9h1v1h-1zM498 265.1h1v1h-1zM507.9 274.8h1v1h-1zM458.9 300.2h1v1h-1zM491 276.9h1v1h-1zM512.5 262.4h1v1h-1zM480.2 288.6h1v1h-1zM490.4 302.7h1v1h-1zM459 290.2h1v1h-1zM457 268h1v1h-1zM505.8 267.3h1v1h-1zM458.9 256.1h1v1h-1zM481 296.1h1v1h-1zM462.3 257h1v1h-1zM467.8 265.7h1v1h-1zM450.5 257.5h1v1h-1zM480 275.3h1v1h-1zM461.5 290.4h1v1h-1zM503.7 284.5h1v1h-1zM453 299.8h1v1h-1zM498 273.9h1v1h-1zM495.4 268.4h1v1h-1zM458.8 300.4h1v1h-1zM506.6 271.9h1v1h-1zM498.7 260.4h1v1h-1zM469.7 293.1h1v1h-1zM461.9 257.8h1v1h-1zM491.1 298.7h1v1h-1zM491.9 304.9h1v1h-1zM458.5 269.8h1v1h-1zM493.5 273.4h1v1h-1zM501.4 270.1h1v1h-1zM505.2 268.8h1v1h-1zM480.5 277.1h1v1h-1zM504.5 289.5h1v1h-1zM471.2 291h1v1h-1zM451.2 288.4h1v1h-1zM508.8 292.4h1v1h-1zM496.4 261.5h1v1h-1zM465.8 303.1h1v1h-1zM455.7 268.6h1v1h-1zM496.2 276.7h1v1h-1zM511.9 292.3h1v1h-1zM501.6 274.8h1v1h-1zM510 296.8h1v1h-1zM501.2 302.8h1v1h-1zM507 274.8h1v1h-1zM504.1 283.2h1v1h-1zM453 264.7h1v1h-1zM499.2 288.4h1v1h-1zM448.4 275.4h1v1h-1zM508.1 291.4h1v1h-1zM471.9 300.3h1v1h-1zM481.6 300.6h1v1h-1zM482.8 258.9h1v1h-1zM472.9 292.4h1v1h-1zM473 292.1h1v1h-1zM462.7 299.2h1v1h-1zM486.4 270.1h1v1h-1zM492.9 304.4h1v1h-1zM488.4 258.3h1v1h-1zM450.2 276.4h1v1h-1zM448.9 303.1h1v1h-1zM468.4 292.4h1v1h-1zM460 279.6h1v1h-1zM486.9 302.1h1v1h-1zM494.2 277.4h1v1h-1zM448.3 260.8h1v1h-1zM468.8 261.4h1v1h-1zM511.5 282.3h1v1h-1zM460.1 301.5h1v1h-1zM494.7 281.7h1v1h-1zM502.8 293.9h1v1h-1zM474.4 284.2h1v1h-1zM461.3 283.4h1v1h-1zM469.4 302h1v1h-1zM477.5 265.4h1v1h-1zM494.6 298.2h1v1h-1zM464.9 257.3h1v1h-1zM481.8 260.6h1v1h-1zM498.8 298.5h1v1h-1zM466.8 303.3h1v1h-1zM497.4 269.3h1v1h-1zM469.6 262.9h1v1h-1zM465.2 303h1v1h-1zM477.1 292.6h1v1h-1zM455.2 294.4h1v1h-1zM453.9 271.3h1v1h-1zM497.3 301.1h1v1h-1zM468.7 262h1v1h-1zM511.4 264h1v1h-1zM448.4 265.3h1v1h-1zM491.7 273.9h1v1h-1zM506.4 294.7h1v1h-1zM486.8 272.9h1v1h-1zM495.7 299.9h1v1h-1zM478.5 299.7h1v1h-1zM496.8 296.4h1v1h-1zM463.8 282.3h1v1h-1zM481 269.4h1v1h-1zM508.4 287.9h1v1h-1zM501.5 281.4h1v1h-1zM493.3 280.7h1v1h-1zM509.2 289.5h1v1h-1zM480.1 293.6h1v1h-1zM500.9 298.4h1v1h-1zM490.8 288.1h1v1h-1zM505.4 299.7h1v1h-1zM471.4 299.1h1v1h-1zM506.2 297.3h1v1h-1zM509.5 281.1h1v1h-1zM496.6 265h1v1h-1zM488.9 262.5h1v1h-1zM466.6 261.7h1v1h-1zM471.1 298.1h1v1h-1zM476.2 299.8h1v1h-1zM473.3 257.6h1v1h-1zM505.7 283.4h1v1h-1zM465.9 273.3h1v1h-1zM491.1 293.2h1v1h-1zM478.1 277.4h1v1h-1zM514.5 302.6h1v1h-1zM495.4 260.5h1v1h-1zM501 286.7h1v1h-1zM452.7 287.2h1v1h-1zM503.8 298.1h1v1h-1zM481.9 301.3h1v1h-1zM504.8 280h1v1h-1zM478.3 276.2h1v1h-1zM512.7 292.6h1v1h-1zM512.1 277.1h1v1h-1zM508.4 272.2h1v1h-1zM499.3 293.9h1v1h-1zM467.6 258.2h1v1h-1zM505.1 275.3h1v1h-1zM451.6 274.7h1v1h-1zM456.7 258.8h1v1h-1zM494.7 300.3h1v1h-1zM498.2 270.5h1v1h-1zM506.7 287.3h1v1h-1zM469.5 263.8h1v1h-1zM508.6 299.2h1v1h-1zM465.5 272h1v1h-1zM503.7 256.5h1v1h-1zM494.8 288.7h1v1h-1zM478.7 288.7h1v1h-1zM474.4 297.8h1v1h-1zM455.8 301.8h1v1h-1zM495.2 270.1h1v1h-1zM456.5 273h1v1h-1zM510.2 256.9h1v1h-1zM483.6 281h1v1h-1zM508.9 299.3h1v1h-1zM499.6 272.1h1v1h-1zM465.6 273.7h1v1h-1zM511.9 301.2h1v1h-1zM471.3 304.7h1v1h-1zM466.6 272.2h1v1h-1zM449.8 284.6h1v1h-1zM488.5 263.2h1v1h-1zM461.2 258.1h1v1h-1zM452.1 287.8h1v1h-1zM487.3 297.1h1v1h-1zM448.1 258.8h1v1h-1zM506.7 269.3h1v1h-1zM489.6 275.9h1v1h-1zM505.5 303.6h1v1h-1zM454.9 262.6h1v1h-1zM492.2 272.2h1v1h-1zM468.9 269.6h1v1h-1zM472 264h1v1h-1zM457.9 277.2h1v1h-1zM508.2 261.4h1v1h-1zM489.8 290.9h1v1h-1zM501 269.1h1v1h-1zM460 294h1v1h-1zM467 257.5h1v1h-1zM501.9 278.4h1v1h-1zM506.9 262.6h1v1h-1zM469.1 302h1v1h-1zM491.8 269.7h1v1h-1zM505.4 259.6h1v1h-1zM472.5 290.6h1v1h-1zM471 273h1v1h-1zM498.4 304.2h1v1h-1zM494.7 282.1h1v1h-1zM466.5 261.5h1v1h-1zM483.9 270.1h1v1h-1zM462.1 288.3h1v1h-1zM455.4 261.1h1v1h-1zM491.8 259.1h1v1h-1zM514.7 272.5h1v1h-1zM476.1 261.6h1v1h-1zM498.8 293.8h1v1h-1zM478.5 297.2h1v1h-1zM513.9 274.4h1v1h-1zM491 256.3h1v1h-1zM512 298.2h1v1h-1zM466 275.8h1v1h-1zM458.9 293.3h1v1h-1zM478.1 271.2h1v1h-1zM501.9 269.7h1v1h-1zM471.3 283.6h1v1h-1zM512.8 260.9h1v1h-1zM472.8 295.8h1v1h-1zM453.5 264.3h1v1h-1zM512.1 256.7h1v1h-1zM458.9 290.8h1v1h-1zM487.3 300.2h1v1h-1zM482 295.7h1v1h-1zM478.5 276.2h1v1h-1zM465.8 280.4h1v1h-1zM464.7 298.7h1v1h-1zM504.3 268.6h1v1h-1zM448.7 285.4h1v1h-1zM496.8 265.3h1v1h-1zM497.6 272.3h1v1h-1zM505.7 298.4h1v1h-1zM451.6 256.4h1v1h-1zM488.5 300.8h1v1h-1zM454.8 266h1v1h-1zM500 272h1v1h-1zM457.5 283.4h1v1h-1zM458.5 276.2h1v1h-1zM497.2 280.1h1v1h-1zM497.9 299.8h1v1h-1zM486.2 302.5h1v1h-1zM451.7 258.1h1v1h-1zM493.1 293.7h1v1h-1zM459.1 271.8h1v1h-1zM492.6 274.9h1v1h-1zM508.8 291.8h1v1h-1zM492.6 271.7h1v1h-1zM484.5 284.5h1v1h-1zM461.2 287.9h1v1h-1zM460.1 296.8h1v1h-1zM488.8 268.4h1v1h-1zM450.2 289.8h1v1h-1zM496 293.4h1v1h-1zM453.8 262.5h1v1h-1zM501.9 275.1h1v1h-1zM493 263.7h1v1h-1zM504.3 296.5h1v1h-1zM451.1 294.6h1v1h-1zM481.1 286.8h1v1h-1zM456.2 269.1h1v1h-1zM485 282.7h1v1h-1zM478.2 269.9h1v1h-1zM496.1 263.7h1v1h-1zM508.4 271.6h1v1h-1zM480.8 280.9h1v1h-1zM478.6 291.7h1v1h-1zM496.1 268h1v1h-1zM489 268.4h1v1h-1zM459.6 303.7h1v1h-1zM503.1 285.6h1v1h-1zM464.7 298.7h1v1h-1zM481.1 274.4h1v1h-1zM503.5 296.1h1v1h-1zM502.3 292.5h1v1h-1zM501.4 262.2h1v1h-1zM469.3 266h1v1h-1zM500.1 303.9h1v1h-1zM457.5 276.6h1v1h-1zM463.2 289.4h1v1h-1zM457.9 303.6h1v1h-1zM484.7 264.7h1v1h-1zM449.9 262.5h1v1h-1zM459.8 289h1v1h-1zM479.4 283.6h1v1h-1zM455 298.4h1v1h-1zM470.1 284.8h1v1h-1zM483 265.4h1v1h-1zM456.6 260.2h1v1h-1zM468.5 259.8h1v1h-1zM476.2 270.8h1v1h-1zM477.9 278.9h1v1h-1zM463.6 268.7h1v1h-1zM490.3 287.3h1v1h-1zM480.9 263.7h1v1h-1zM493.7 303.9h1v1h-1zM449.2 293.4h1v1h-1zM481.5 278.3h1v1h-1zM501.9 293.4h1v1h-1zM456.9 281h1v1h-1zM474.4 272.6h1v1h-1zM451.1 302.6h1v1h-1zM453.9 264.6h1v1h-1zM488.3 289.6h1v1h-1zM506 272.4h1v1h-1zM468.2 268.8h1v1h-1zM494.6 265.8h1v1h-1zM481 291.7h1v1h-1zM469.1 292.5h1v1h-1zM505.1 286.4h1v1h-1zM510 300.8h1v1h-1zM456.3 274.5h1v1h-1zM495 265.4h1v1h-1zM464.2 287.1h1v1h-1z" fill="#c4ace0"/><g filter="url(#soft)"><path d="M487.7 283.8h1.5v1.5h-1.5zM489.4 284.6h1.6v1.6h-1.6zM473.7 295.8h1.6v1.6h-1.6zM483.2 289.8h1.2v1.2h-1.2zM488.9 293.8h1.4v1.4h-1.4zM504.2 303.9h1.6v1.6h-1.6zM470.3 257.1h1.6v1.6h-1.6zM470.9 267.1h1.7v1.7h-1.7zM484.1 291.9h1.1v1.1h-1.1zM485.1 289.9h1.4v1.4h-1.4zM461.6 280.9h1.2v1.2h-1.2zM476.1 266.8h1.7v1.7h-1.7zM473.6 267.3h1.3v1.3h-1.3zM487 300.1h1.7v1.7h-1.7zM473.7 282.4h1.7v1.7h-1.7zM476.1 296.5h1.5v1.5h-1.5zM479.3 302.6h1.2v1.2h-1.2zM484.2 298.6h1.4v1.4h-1.4zM475.2 294.9h1.3v1.3h-1.3zM482.5 297.3h1.5v1.5h-1.5zM504.1 303.4h1.8v1.8h-1.8zM477.3 278.9h1.4v1.4h-1.4zM484.8 274.3h1.3v1.3h-1.3zM473.9 269.5h1.7v1.7h-1.7zM470.7 268h1.4v1.4h-1.4zM504.6 303.4h1.5v1.5h-1.5zM496 289.5h1.2v1.2h-1.2zM481.1 270.5h1.7v1.7h-1.7zM470.1 291.7h1.4v1.4h-1.4zM484.7 289.2h1.3v1.3h-1.3zM458.1 257.6h1.3v1.3h-1.3z" fill="#7a3cb8"/><path d="M483.4 284.3h1.4v1.4h-1.4zM491 280.7h1.6v1.6h-1.6zM487.8 284.6h1.6v1.6h-1.6zM488.3 281.7h1.7v1.7h-1.7zM499.3 299.7h1.6v1.6h-1.6zM487 291.9h1.4v1.4h-1.4zM499.5 300.2h1.5v1.5h-1.5zM470 266.6h1.1v1.1h-1.1zM475.1 303.1h1.2v1.2h-1.2zM484.1 292.4h1.3v1.3h-1.3zM472.9 281.1h1.8v1.8h-1.8zM457.1 280.2h1.3v1.3h-1.3zM461.1 279.7h1.4v1.4h-1.4zM459.9 280.2h1.5v1.5h-1.5zM459.5 280.8h1.2v1.2h-1.2zM481 297.2h1.3v1.3h-1.3zM482.7 297.1h1.7v1.7h-1.7zM476.8 288.6h1.3v1.3h-1.3zM476.3 286.8h1.3v1.3h-1.3zM475 282h1.5v1.5h-1.5zM476.9 291.3h1.7v1.7h-1.7zM476.6 294.3h1.4v1.4h-1.4zM480.4 297.7h1.2v1.2h-1.2zM478.5 296.1h1.3v1.3h-1.3zM478.2 278.7h1.6v1.6h-1.6zM479.2 271.7h1.6v1.6h-1.6zM497.5 277.6h1.6v1.6h-1.6zM488.8 271.2h1.3v1.3h-1.3zM502.3 281.7h1.3v1.3h-1.3zM471.5 259.7h1.8v1.8h-1.8zM503.6 302h1.4v1.4h-1.4zM467.5 256.5h1.3v1.3h-1.3zM471.4 267.1h1.7v1.7h-1.7zM457.7 270.1h1.6v1.6h-1.6zM499.4 256.7h1.2v1.2h-1.2zM460.6 264.7h1.6v1.6h-1.6z" fill="#5c2aa4"/><path d="M485.1 285.1h1.6v1.6h-1.6zM489.1 292.7h1.5v1.5h-1.5zM490 293.2h1.8v1.8h-1.8zM465.4 262.2h1.5v1.5h-1.5zM471.2 257.1h1.6v1.6h-1.6zM466.4 260.7h1.4v1.4h-1.4zM466.5 263.7h1.7v1.7h-1.7zM466.9 261.6h1.5v1.5h-1.5zM481 296.2h1.6v1.6h-1.6zM491.6 283.4h1.2v1.2h-1.2zM459.6 281.7h1.3v1.3h-1.3zM450.6 281.5h1.2v1.2h-1.2zM454.9 281.6h1.3v1.3h-1.3zM468.8 281h1.3v1.3h-1.3zM465.6 279.9h1.7v1.7h-1.7zM470.1 266.5h1.4v1.4h-1.4zM475.5 267.2h1.5v1.5h-1.5zM481 266.2h1.1v1.1h-1.1zM463.7 268.7h1.4v1.4h-1.4zM469.5 267.4h1.6v1.6h-1.6zM491.8 301.2h1.4v1.4h-1.4zM490.2 302.2h1.5v1.5h-1.5zM476.8 279.2h1.6v1.6h-1.6zM475.2 271h1.6v1.6h-1.6zM472.5 278.4h1.7v1.7h-1.7zM475.3 295.4h1.7v1.7h-1.7zM476.4 297.1h1.6v1.6h-1.6zM505.3 302.9h1.3v1.3h-1.3zM501.8 302.8h1.4v1.4h-1.4zM481.9 277.8h1.3v1.3h-1.3zM478.3 270.2h1.6v1.6h-1.6zM492.7 290.4h1.3v1.3h-1.3zM454.2 269.6h1.2v1.2h-1.2zM490.2 273.8h1.5v1.5h-1.5zM496.1 287.9h1.6v1.6h-1.6zM500.1 266.8h1.5v1.5h-1.5zM510.1 301.7h1.6v1.6h-1.6zM449.2 266.8h1.7v1.7h-1.7zM485.9 269.8h1.6v1.6h-1.6zM498.7 281.5h1.1v1.1h-1.1zM494.7 260.8h1.1v1.1h-1.1z" fill="#a46ad0"/><path d="M475.4 294.9h1.1v1.1h-1.1zM493.2 296.1h1.3v1.3h-1.3zM485.5 290.1h1.7v1.7h-1.7zM477.4 300.3h1.3v1.3h-1.3zM458.3 280.8h1.1v1.1h-1.1zM471.9 280.1h1.4v1.4h-1.4zM455.8 281.1h1.3v1.3h-1.3zM475 265.1h1.2v1.2h-1.2zM474.6 266.9h1.6v1.6h-1.6zM486.8 298.6h1.8v1.8h-1.8zM486.1 300.3h1.4v1.4h-1.4zM486.3 301h1.2v1.2h-1.2zM473.4 266.5h1.8v1.8h-1.8zM474.8 285.6h1.4v1.4h-1.4zM474.5 285.3h1.4v1.4h-1.4zM477 290.2h1.7v1.7h-1.7zM452.2 302.4h1.5v1.5h-1.5zM452.8 303.6h1.4v1.4h-1.4zM476.6 295.1h1.3v1.3h-1.3zM477.4 294.5h1.4v1.4h-1.4zM507.5 304.3h1.3v1.3h-1.3zM482.5 275.8h1.6v1.6h-1.6zM475.9 279.2h1.1v1.1h-1.1zM482.5 274.5h1.8v1.8h-1.8zM477.5 278.4h1.7v1.7h-1.7zM490.4 273.9h1.6v1.6h-1.6zM495.4 275.6h1.7v1.7h-1.7zM461.2 266.5h1.1v1.1h-1.1zM456.6 297.1h1.6v1.6h-1.6zM502.6 274h1.7v1.7h-1.7zM448.8 293h1.8v1.8h-1.8zM480 278.8h1.8v1.8h-1.8zM485.9 257.5h1.5v1.5h-1.5zM456.5 273.5h1.6v1.6h-1.6zM489 257.9h1.7v1.7h-1.7zM476.3 293.8h1.3v1.3h-1.3z" fill="#9050c4"/><g fill="#4a2296"><circle cx="482.2" cy="279.7" r="1.7"/><circle cx="512.8" cy="265.3" r="1.5"/></g></g>
<rect x="505.5" y="304" width="9" height="1" fill="#777"/>
<rect x="517.5" y="255.5" width="69" height="51" fill="#fcfcff" stroke="#c6c6c6" stroke-width="1"/>
<path d="M564.4 296h1v1h-1zM541.1 258.2h1v1h-1zM556.3 263.2h1v1h-1zM566.2 272.9h1v1h-1zM548.6 303.8h1v1h-1zM570.4 297.3h1v1h-1zM555.2 302.1h1v1h-1zM519.2 299.6h1v1h-1zM544.1 267.4h1v1h-1zM553.8 302.3h1v1h-1zM540.2 300.5h1v1h-1zM549.3 303.4h1v1h-1zM569.2 294.4h1v1h-1zM542.2 284.8h1v1h-1zM534.7 295.2h1v1h-1zM535.3 289h1v1h-1zM523 268.1h1v1h-1zM542 264.4h1v1h-1zM535.4 265.9h1v1h-1zM520.7 272.8h1v1h-1zM549.4 276.5h1v1h-1zM578.3 260.4h1v1h-1zM559.8 273.1h1v1h-1zM519.7 293.9h1v1h-1zM546.3 303.8h1v1h-1zM569.9 298.6h1v1h-1zM555.9 272.6h1v1h-1zM575.2 276.2h1v1h-1zM576.4 300.7h1v1h-1zM541.7 291.5h1v1h-1zM572.5 304.9h1v1h-1zM548.7 265.8h1v1h-1zM535.3 274.7h1v1h-1zM522.8 290h1v1h-1zM521.8 278.8h1v1h-1zM584.9 275.8h1v1h-1zM532.1 276h1v1h-1zM535.5 265.9h1v1h-1zM535.5 271h1v1h-1zM548.6 269.9h1v1h-1zM560.8 298h1v1h-1zM519.6 278.8h1v1h-1zM559.3 279.3h1v1h-1zM562.3 266.1h1v1h-1zM580.6 304.8h1v1h-1zM573.5 284.6h1v1h-1zM573.8 289h1v1h-1zM576 280.5h1v1h-1zM536.9 283.3h1v1h-1zM551.2 266.3h1v1h-1zM563.1 291.8h1v1h-1zM535.7 264h1v1h-1zM556.9 278.5h1v1h-1zM566.6 292.5h1v1h-1zM519.3 266.3h1v1h-1zM576.1 288.9h1v1h-1zM570.9 292.5h1v1h-1zM557.8 271.9h1v1h-1zM537.1 286.4h1v1h-1zM559.4 301h1v1h-1zM559.9 283.8h1v1h-1zM519.1 288.4h1v1h-1zM576.9 287.4h1v1h-1zM552.8 272.6h1v1h-1zM584.6 270.4h1v1h-1zM570.3 280.2h1v1h-1zM556 257.2h1v1h-1zM571.9 278h1v1h-1zM580.8 302.9h1v1h-1zM578.4 289.6h1v1h-1zM529.9 265.8h1v1h-1zM543.3 264.6h1v1h-1zM581.5 277.7h1v1h-1zM565.3 263.9h1v1h-1zM556.4 260.6h1v1h-1zM535 296h1v1h-1zM546.9 295.7h1v1h-1zM552.7 280.4h1v1h-1zM548.5 274.3h1v1h-1zM554.2 270.1h1v1h-1zM574.3 267.8h1v1h-1zM566.8 274.3h1v1h-1zM554.5 263.3h1v1h-1zM580.1 272.3h1v1h-1zM582.4 264.1h1v1h-1zM539.7 286.7h1v1h-1zM555.4 298h1v1h-1zM522.6 277.6h1v1h-1zM554.6 281.9h1v1h-1zM555.4 275.5h1v1h-1zM584.1 265.4h1v1h-1zM539.1 278.1h1v1h-1zM582.4 268.2h1v1h-1zM533.3 282.2h1v1h-1zM553.5 279.5h1v1h-1zM553.2 294.6h1v1h-1zM571 299h1v1h-1zM542.8 289h1v1h-1zM559.4 266.7h1v1h-1zM551.6 277h1v1h-1zM583.2 284.9h1v1h-1zM572.5 278.5h1v1h-1zM574.1 300.5h1v1h-1zM528.3 285.7h1v1h-1zM560.4 282.1h1v1h-1zM575.2 276.8h1v1h-1zM576.2 295.5h1v1h-1zM563.2 265.7h1v1h-1zM540.1 273.4h1v1h-1zM581.7 299h1v1h-1zM518.6 302.4h1v1h-1zM559.9 301.6h1v1h-1zM541.3 265.5h1v1h-1zM552.6 299.5h1v1h-1zM550.7 282.2h1v1h-1zM522.1 273.9h1v1h-1zM559.7 278.8h1v1h-1zM555.4 295.1h1v1h-1zM573.1 262h1v1h-1zM538.4 262.6h1v1h-1zM565.2 285h1v1h-1zM546.7 298.3h1v1h-1zM583.3 279.7h1v1h-1zM563.8 292.8h1v1h-1zM565.9 271.9h1v1h-1zM584.3 265.1h1v1h-1zM543.7 302.1h1v1h-1zM542.8 295h1v1h-1zM547.1 278.5h1v1h-1zM573.1 270.9h1v1h-1zM545.7 292.6h1v1h-1zM518.9 272.6h1v1h-1zM557.8 267.6h1v1h-1zM559.6 286.8h1v1h-1zM567.3 290h1v1h-1zM559.2 268.3h1v1h-1zM545 263.7h1v1h-1zM536.9 302.7h1v1h-1zM519.7 286.7h1v1h-1zM546.5 302h1v1h-1zM544 270.5h1v1h-1zM543.2 287.6h1v1h-1zM583.9 263.1h1v1h-1zM537.6 291.1h1v1h-1zM579.3 292.6h1v1h-1zM559.7 261.4h1v1h-1zM518.7 293.4h1v1h-1zM550.9 264.6h1v1h-1zM581.1 268.4h1v1h-1zM580.5 285.3h1v1h-1zM548.5 285h1v1h-1zM580.4 273.1h1v1h-1zM574.3 294.8h1v1h-1zM559.2 269.2h1v1h-1zM557.3 283.1h1v1h-1zM528.3 295h1v1h-1zM551.1 256.8h1v1h-1zM553.9 266.3h1v1h-1zM528.8 302h1v1h-1zM531.1 261.2h1v1h-1zM545.2 262.1h1v1h-1zM539.4 264.8h1v1h-1zM569 275.3h1v1h-1zM531.1 260.7h1v1h-1zM564.8 304.9h1v1h-1zM556.4 266.2h1v1h-1zM559.1 303.2h1v1h-1zM529 277h1v1h-1zM535.8 263.4h1v1h-1zM560.7 287.2h1v1h-1zM518.9 300h1v1h-1zM573.8 278.9h1v1h-1zM558 283h1v1h-1zM547.4 264.2h1v1h-1zM576.3 283.7h1v1h-1zM520.2 258.6h1v1h-1zM560.3 275.3h1v1h-1zM559.4 268.8h1v1h-1zM536.6 260.3h1v1h-1zM573.4 261h1v1h-1zM565.9 261.9h1v1h-1zM533.1 258.6h1v1h-1zM535.1 256.2h1v1h-1zM520.6 289h1v1h-1zM556.9 266.5h1v1h-1zM559.9 298.7h1v1h-1zM556.3 286h1v1h-1zM559.2 283.8h1v1h-1zM560.8 294.4h1v1h-1zM566.1 292.9h1v1h-1zM581.9 299.9h1v1h-1zM549.3 275.8h1v1h-1zM580.6 281.2h1v1h-1zM556.1 275.1h1v1h-1zM570.3 279.1h1v1h-1zM521.6 261.1h1v1h-1zM535.4 304.8h1v1h-1zM534.8 272h1v1h-1zM578.7 276.9h1v1h-1zM536 285.1h1v1h-1zM545.8 257.4h1v1h-1zM526.8 280.2h1v1h-1zM560.4 286h1v1h-1zM567.2 283.4h1v1h-1zM522.6 266.3h1v1h-1zM568.4 273h1v1h-1zM579.1 285.2h1v1h-1zM542.4 268.5h1v1h-1zM553.8 260.5h1v1h-1zM527.1 279.5h1v1h-1zM541.8 264.4h1v1h-1zM540.9 260.9h1v1h-1zM564.7 284.8h1v1h-1zM572.6 289.5h1v1h-1zM547 299.1h1v1h-1zM568.5 279.3h1v1h-1zM556.6 291.3h1v1h-1zM569.9 265.1h1v1h-1zM558.8 264h1v1h-1zM582 300.5h1v1h-1zM565.3 257.3h1v1h-1zM572.2 264.4h1v1h-1zM548.1 276.4h1v1h-1zM521.5 285.6h1v1h-1zM573.2 263.3h1v1h-1zM582.9 299h1v1h-1zM563.2 262.3h1v1h-1zM560.6 275.9h1v1h-1zM553.7 300.5h1v1h-1zM561.1 261.6h1v1h-1zM529.1 270.7h1v1h-1zM527.1 290.3h1v1h-1zM530.6 288.1h1v1h-1zM575.7 259.7h1v1h-1zM561.1 279.7h1v1h-1zM582.6 277h1v1h-1zM534.5 289.1h1v1h-1zM520.6 294.5h1v1h-1zM561.2 268.4h1v1h-1zM563 280.6h1v1h-1zM578.4 296.6h1v1h-1zM568.4 294.7h1v1h-1zM571.2 293.9h1v1h-1zM568 283h1v1h-1zM560.3 296.8h1v1h-1zM532.5 301.3h1v1h-1zM579.6 285.7h1v1h-1zM525.6 273.7h1v1h-1zM550.5 285.1h1v1h-1zM567.9 300.2h1v1h-1zM522.5 283.2h1v1h-1zM533.1 297h1v1h-1zM578.1 303.2h1v1h-1zM577.6 258.8h1v1h-1zM532.7 263.6h1v1h-1zM545.1 274.1h1v1h-1zM537 289h1v1h-1zM571.5 303.9h1v1h-1zM521.2 278.1h1v1h-1zM539.5 300.2h1v1h-1zM521.3 298.8h1v1h-1zM520.5 261.1h1v1h-1zM534.2 282.2h1v1h-1zM538.5 294.1h1v1h-1zM520.4 282.4h1v1h-1zM555.5 286.3h1v1h-1zM537.1 278.6h1v1h-1zM553.5 260.5h1v1h-1zM549.6 276.3h1v1h-1zM523.9 277.5h1v1h-1zM557.2 263.8h1v1h-1zM529.6 266.4h1v1h-1zM564.6 268.9h1v1h-1zM551.4 256.3h1v1h-1zM543.3 273.3h1v1h-1zM564.5 298.4h1v1h-1zM567.4 267.9h1v1h-1zM528.8 268.3h1v1h-1zM522.6 295.1h1v1h-1zM518.2 285.5h1v1h-1zM524.9 260.1h1v1h-1zM545.8 294.3h1v1h-1zM544.2 291.9h1v1h-1zM540.1 292.5h1v1h-1zM537.4 290.4h1v1h-1zM584.7 276.3h1v1h-1zM522.5 289.7h1v1h-1zM578.7 256h1v1h-1zM580.9 266.6h1v1h-1zM556.4 301.5h1v1h-1zM532.3 281h1v1h-1zM545.3 272.6h1v1h-1zM547.8 276.6h1v1h-1zM570.5 287.1h1v1h-1zM578.2 271.2h1v1h-1zM552.3 283.4h1v1h-1zM545.7 295.9h1v1h-1zM567.5 258.1h1v1h-1zM560.6 262.7h1v1h-1zM527 292.2h1v1h-1zM551.2 269.1h1v1h-1zM584.5 299h1v1h-1zM571 274.1h1v1h-1zM525.5 276.3h1v1h-1zM577.2 269.7h1v1h-1zM551.5 256.6h1v1h-1zM526.4 278.7h1v1h-1zM532.8 302.4h1v1h-1zM540.7 260.4h1v1h-1zM525.9 258.8h1v1h-1zM532.4 302.9h1v1h-1zM577.3 256h1v1h-1zM556.2 277.6h1v1h-1zM533.4 292.6h1v1h-1zM574.4 292.5h1v1h-1zM560.9 261.5h1v1h-1zM540 267.8h1v1h-1zM575 279.1h1v1h-1zM564.5 297h1v1h-1zM521 293.9h1v1h-1zM559 282.3h1v1h-1zM571.9 271.6h1v1h-1zM532.5 268.9h1v1h-1zM536.4 291.1h1v1h-1zM563.9 261.7h1v1h-1zM536 303.8h1v1h-1zM550.3 275.5h1v1h-1zM545.4 303.9h1v1h-1zM526.5 296.9h1v1h-1zM536.3 300.7h1v1h-1zM542.4 278.2h1v1h-1zM557.6 280.2h1v1h-1zM532.2 289.2h1v1h-1zM560.1 257.7h1v1h-1zM574.5 263.6h1v1h-1zM542 284.6h1v1h-1zM563.4 279.8h1v1h-1zM573.6 289.6h1v1h-1zM537 302.1h1v1h-1zM519.7 293.9h1v1h-1zM567.9 291.9h1v1h-1zM549.2 262.4h1v1h-1zM577.1 289.9h1v1h-1zM562.4 279.1h1v1h-1zM545.2 288.8h1v1h-1zM520.7 265h1v1h-1zM561.8 287.9h1v1h-1zM566.3 293.8h1v1h-1zM555.3 256.8h1v1h-1zM583.3 289.9h1v1h-1zM523.5 301.1h1v1h-1zM578.6 264.5h1v1h-1zM526.7 294.4h1v1h-1zM535.5 260.3h1v1h-1zM566.1 301.6h1v1h-1zM521.6 261.2h1v1h-1zM579.5 295.7h1v1h-1zM527.6 268.3h1v1h-1zM567.2 276.6h1v1h-1zM538.5 256.4h1v1h-1zM565.4 259.9h1v1h-1zM529.8 257.6h1v1h-1zM522.9 265.1h1v1h-1zM581.2 275.4h1v1h-1zM558.5 260.1h1v1h-1zM518.8 267.9h1v1h-1zM534.1 256.8h1v1h-1zM555.3 270.6h1v1h-1zM560.8 289.6h1v1h-1zM527.4 299.6h1v1h-1zM549.5 288.8h1v1h-1zM548.5 280.4h1v1h-1zM531 256.2h1v1h-1zM555.3 263.5h1v1h-1zM518.3 290.8h1v1h-1zM561 286.7h1v1h-1zM576.9 302.6h1v1h-1zM551.3 264.3h1v1h-1zM531.2 280h1v1h-1zM558.6 260.7h1v1h-1zM560.7 273.9h1v1h-1zM567.7 302h1v1h-1zM521.5 277h1v1h-1zM585 290.3h1v1h-1zM579.1 292h1v1h-1zM584.4 282.4h1v1h-1zM561.2 284h1v1h-1zM548.3 270h1v1h-1zM554.3 266h1v1h-1zM556.9 283.6h1v1h-1zM521.4 290.8h1v1h-1zM542.4 258.8h1v1h-1zM557.1 283.9h1v1h-1zM579 278.8h1v1h-1zM525.9 275.7h1v1h-1zM565.5 292.8h1v1h-1zM527.1 300.6h1v1h-1zM581.7 296.1h1v1h-1zM532.7 258h1v1h-1zM534.4 296.1h1v1h-1zM534.8 298.5h1v1h-1zM539.2 281.6h1v1h-1zM542 262.3h1v1h-1zM571.6 263.3h1v1h-1zM582.4 266.2h1v1h-1zM546.4 295.2h1v1h-1zM571.5 292.4h1v1h-1zM577.8 256.1h1v1h-1zM521.1 266.8h1v1h-1zM521 287.6h1v1h-1zM573.8 275.5h1v1h-1zM580.8 291.5h1v1h-1zM553.3 263.9h1v1h-1zM549.2 287.4h1v1h-1zM521.2 291.1h1v1h-1zM549.7 286.4h1v1h-1zM531.8 286.4h1v1h-1zM555.5 286.9h1v1h-1zM554.9 268.2h1v1h-1zM541.2 260.6h1v1h-1zM530.6 284h1v1h-1zM527.9 295.8h1v1h-1zM566.5 283.6h1v1h-1zM521.8 296.5h1v1h-1zM562 282.2h1v1h-1zM537.1 275.7h1v1h-1zM535.4 266.9h1v1h-1zM576.2 301.6h1v1h-1zM533.1 281h1v1h-1zM523.3 265.5h1v1h-1zM549.6 303.1h1v1h-1zM561.9 287.2h1v1h-1zM576.3 279.4h1v1h-1zM537.2 268.1h1v1h-1zM557.7 300h1v1h-1zM537.1 303.3h1v1h-1zM555 287.9h1v1h-1zM526.5 265.8h1v1h-1zM536.7 293.6h1v1h-1zM523.7 282.2h1v1h-1zM564.9 300.3h1v1h-1zM548 257.4h1v1h-1zM542.9 274.2h1v1h-1zM537.8 292h1v1h-1zM541.8 293h1v1h-1zM553.9 263.3h1v1h-1zM562.4 279.2h1v1h-1zM532 283.9h1v1h-1zM563.4 263.7h1v1h-1zM555.6 262.2h1v1h-1zM552.8 275.8h1v1h-1zM532.9 267.2h1v1h-1zM543 288.8h1v1h-1zM581.7 276.6h1v1h-1zM529.1 266.7h1v1h-1zM574.6 265.5h1v1h-1zM519.6 272.7h1v1h-1zM559.7 266.7h1v1h-1zM580.5 279.5h1v1h-1zM557.3 263.1h1v1h-1zM542.2 297.7h1v1h-1zM533.7 259.1h1v1h-1zM546.2 263.8h1v1h-1zM573.9 266.4h1v1h-1zM549.5 256.7h1v1h-1zM522.2 279.5h1v1h-1zM524.8 269.4h1v1h-1zM565.8 266.2h1v1h-1zM576.1 294.2h1v1h-1zM580.2 269.6h1v1h-1zM540.2 283.5h1v1h-1zM523.5 293.1h1v1h-1zM568.5 259h1v1h-1zM549.3 283.5h1v1h-1zM538.2 270.4h1v1h-1zM555.4 262.3h1v1h-1zM540.3 268.3h1v1h-1zM549.2 299.6h1v1h-1zM564.9 263.9h1v1h-1zM539.4 261.5h1v1h-1zM559.5 301.9h1v1h-1zM578.9 293.4h1v1h-1zM563.3 294.1h1v1h-1zM579.3 267.2h1v1h-1zM578.4 298.2h1v1h-1zM563.8 293.4h1v1h-1zM579.7 281.8h1v1h-1zM529.1 302.8h1v1h-1zM584.9 263.9h1v1h-1zM539.9 283.6h1v1h-1zM529.8 276.2h1v1h-1zM582.6 300.3h1v1h-1zM547.8 292.9h1v1h-1zM576.9 302.2h1v1h-1zM566.3 303.9h1v1h-1zM543.3 270.4h1v1h-1zM551.1 278.9h1v1h-1zM560.8 289.4h1v1h-1zM528.2 301.1h1v1h-1zM564.5 303h1v1h-1z" fill="#c4ace0"/><g filter="url(#soft)"><path d="M537.3 295.5h1.4v1.4h-1.4zM544.9 292.5h1.8v1.8h-1.8zM543.9 258.3h1.8v1.8h-1.8zM550.9 286.1h1.5v1.5h-1.5zM528 287.9h1.3v1.3h-1.3zM526.4 289.7h1.3v1.3h-1.3zM537 290.1h1.7v1.7h-1.7zM569.8 287.5h1.2v1.2h-1.2zM563.5 270.5h1.7v1.7h-1.7zM578.7 267h1.8v1.8h-1.8zM529.9 259.5h1.3v1.3h-1.3zM554.8 282.8h1.2v1.2h-1.2zM578.1 268.5h1.6v1.6h-1.6zM579 297.4h1.5v1.5h-1.5zM569 275.8h1.2v1.2h-1.2z" fill="#a46ad0"/><path d="M535 300.2h1.4v1.4h-1.4zM571.2 269h1.7v1.7h-1.7zM565.6 279.1h1.8v1.8h-1.8zM569.1 273h1.6v1.6h-1.6zM565.7 281.3h1.2v1.2h-1.2zM565.7 282.9h1.6v1.6h-1.6zM567.1 278.6h1.5v1.5h-1.5zM546.5 291.8h1.3v1.3h-1.3zM540.5 297.6h1.3v1.3h-1.3zM547.6 290.2h1.5v1.5h-1.5zM529.5 288.2h1.6v1.6h-1.6zM561.3 277.6h1.8v1.8h-1.8zM553.5 270.9h1.7v1.7h-1.7zM549.9 263.2h1.1v1.1h-1.1zM525.8 269.5h1.2v1.2h-1.2zM524.3 302.4h1.2v1.2h-1.2zM573.8 294.3h1.5v1.5h-1.5zM577 271h1.3v1.3h-1.3zM532 273.1h1.8v1.8h-1.8zM543.9 299.4h1.2v1.2h-1.2zM562.9 296.5h1.4v1.4h-1.4zM551.6 287.4h1.6v1.6h-1.6z" fill="#5c2aa4"/><path d="M567.3 275.9h1.1v1.1h-1.1zM550.4 286.5h1.2v1.2h-1.2zM551 289.3h1.8v1.8h-1.8zM558.5 269.2h1.6v1.6h-1.6zM564.6 296.6h1.5v1.5h-1.5zM581.3 281.2h1.6v1.6h-1.6zM535.1 277.3h1.2v1.2h-1.2zM581.8 275.1h1.3v1.3h-1.3zM538.4 303.3h1.3v1.3h-1.3zM548.8 257h1.4v1.4h-1.4z" fill="#9050c4"/><path d="M566.8 281.5h1.3v1.3h-1.3zM543.1 298.4h1.6v1.6h-1.6zM555.5 280.7h1.3v1.3h-1.3zM562.4 302.5h1.5v1.5h-1.5zM542 291.2h1.6v1.6h-1.6zM573.2 297.8h1.5v1.5h-1.5zM552.2 296.3h1.3v1.3h-1.3zM526.5 257.2h1.7v1.7h-1.7zM550.2 295.7h1.5v1.5h-1.5zM561.6 271.5h1.8v1.8h-1.8zM560.9 283.7h1.3v1.3h-1.3zM557.8 294.6h1.4v1.4h-1.4zM573.7 278.8h1.5v1.5h-1.5zM522.3 273.5h1.8v1.8h-1.8zM529.1 300.5h1.6v1.6h-1.6z" fill="#7a3cb8"/></g>
<rect x="575.5" y="304" width="9" height="1" fill="#777"/>
<rect x="47.5" y="309.5" width="68" height="52" fill="#fcfcff" stroke="#c6c6c6" stroke-width="1"/>
<path d="M85.4 331.5h1v1h-1zM54.2 327.4h1v1h-1zM89 311.1h1v1h-1zM105.7 352.7h1v1h-1zM50.9 350.1h1v1h-1zM60.2 344.8h1v1h-1zM58.2 344.6h1v1h-1zM111.3 359.2h1v1h-1zM91.8 318.2h1v1h-1zM74.1 323.9h1v1h-1zM111.1 325h1v1h-1zM85 330.4h1v1h-1zM57.2 329.2h1v1h-1zM98.8 330.7h1v1h-1zM92.8 339.1h1v1h-1zM53.1 346.5h1v1h-1zM92.5 350.1h1v1h-1zM57.8 358.7h1v1h-1zM105.3 355.2h1v1h-1zM111.5 341.1h1v1h-1zM72.5 312.9h1v1h-1zM94.1 341.6h1v1h-1zM90.8 310.3h1v1h-1zM110.4 329.4h1v1h-1zM52.6 359.5h1v1h-1zM96.6 336.2h1v1h-1zM98.5 350.1h1v1h-1zM92 327.6h1v1h-1zM69.1 343.5h1v1h-1zM57.5 320.1h1v1h-1zM61 333h1v1h-1zM88.5 335.2h1v1h-1zM98.8 357.8h1v1h-1zM53.9 318h1v1h-1zM97.9 327.6h1v1h-1zM91.1 313.8h1v1h-1zM57.3 353.9h1v1h-1zM76.6 316.2h1v1h-1zM109 321.5h1v1h-1zM53.3 336.9h1v1h-1zM86 314.2h1v1h-1zM92.7 325.1h1v1h-1zM113.5 327.3h1v1h-1zM95.3 341.4h1v1h-1zM86.7 312.9h1v1h-1zM101.3 326h1v1h-1zM83.5 352.6h1v1h-1zM92.1 321.1h1v1h-1zM113.1 349.9h1v1h-1zM82 347.3h1v1h-1zM68.2 327.3h1v1h-1zM76.8 325.2h1v1h-1zM69.5 343.2h1v1h-1zM79.3 323.9h1v1h-1zM89 330.1h1v1h-1zM79.4 344.8h1v1h-1zM89.4 359.3h1v1h-1zM69.5 340.1h1v1h-1zM102.1 326.2h1v1h-1zM71.4 335.9h1v1h-1zM109.6 312.9h1v1h-1zM89.7 332.6h1v1h-1zM95 357h1v1h-1zM49.6 352.2h1v1h-1zM113.3 327.7h1v1h-1zM96 357.7h1v1h-1zM82 326.4h1v1h-1zM113.8 331.8h1v1h-1zM71.2 345.2h1v1h-1zM80.7 313.2h1v1h-1zM51.6 338.1h1v1h-1zM76.8 342.6h1v1h-1zM66.6 341.9h1v1h-1zM108.4 313.6h1v1h-1zM65.6 354.1h1v1h-1zM93.1 317.3h1v1h-1zM87.9 346.2h1v1h-1zM81.9 332.5h1v1h-1zM48.4 318.5h1v1h-1zM100.4 333.8h1v1h-1zM74.4 357.2h1v1h-1zM58.2 311.1h1v1h-1zM72.3 314h1v1h-1zM59.9 346.8h1v1h-1zM54.4 354h1v1h-1zM72.9 317.7h1v1h-1zM66.3 318.6h1v1h-1zM77.5 323.7h1v1h-1zM102 351h1v1h-1zM81.1 324.2h1v1h-1zM90.9 314.5h1v1h-1zM105.7 323h1v1h-1zM48.4 321.9h1v1h-1zM57.5 314.3h1v1h-1zM60.3 342.4h1v1h-1zM70.5 332.8h1v1h-1zM51.9 337.6h1v1h-1zM57.3 330.2h1v1h-1zM55.1 340h1v1h-1zM54.1 311.9h1v1h-1zM69 335.1h1v1h-1zM62.6 319.9h1v1h-1zM53.9 340.7h1v1h-1zM63 319.6h1v1h-1zM54.6 316.9h1v1h-1zM101.4 313.3h1v1h-1zM52.9 331.3h1v1h-1zM78.2 312.4h1v1h-1zM80.8 310.4h1v1h-1zM64 316.3h1v1h-1zM64.9 354.8h1v1h-1zM50.2 335.4h1v1h-1zM88.1 322.3h1v1h-1zM65.1 319.4h1v1h-1zM82.2 349.7h1v1h-1zM71.9 333.9h1v1h-1zM108.1 333h1v1h-1zM105 357.5h1v1h-1zM76.3 319.5h1v1h-1zM83.8 313.1h1v1h-1zM53.6 356.2h1v1h-1zM68.2 343h1v1h-1zM68.2 316.1h1v1h-1zM111.9 351.1h1v1h-1zM83.4 357.5h1v1h-1zM83 329.5h1v1h-1zM81.8 352.5h1v1h-1zM73.6 326.3h1v1h-1zM70.1 334.1h1v1h-1zM107.3 330.8h1v1h-1zM85.6 344.1h1v1h-1zM109.4 342h1v1h-1zM74.6 336.1h1v1h-1zM70.3 350.5h1v1h-1zM88.3 358.8h1v1h-1zM90 343.6h1v1h-1zM66.2 344.7h1v1h-1zM112.9 330h1v1h-1zM50.5 350.6h1v1h-1zM76.6 344.5h1v1h-1zM105.8 352.7h1v1h-1zM106.8 338h1v1h-1zM77.5 353.2h1v1h-1zM98.4 337.6h1v1h-1zM102.4 340.5h1v1h-1zM79.6 350.7h1v1h-1zM83.3 352.2h1v1h-1zM61.7 312.7h1v1h-1zM66.1 330.8h1v1h-1zM81.3 356.4h1v1h-1zM52.8 322.5h1v1h-1zM96.3 356.8h1v1h-1zM62.2 315.7h1v1h-1zM98.2 349.6h1v1h-1zM96.4 356.4h1v1h-1zM56.2 343.1h1v1h-1zM93.3 345.1h1v1h-1zM107.3 311.2h1v1h-1zM111.2 337.6h1v1h-1zM59.3 339.1h1v1h-1zM61.2 350.3h1v1h-1zM99.6 347.9h1v1h-1zM96.9 349.7h1v1h-1zM64.7 334.9h1v1h-1zM110.6 342h1v1h-1zM84.2 350.4h1v1h-1zM65.3 353h1v1h-1zM84.3 352.4h1v1h-1zM66.8 315.6h1v1h-1zM112.5 337.3h1v1h-1zM102.8 319.3h1v1h-1zM84.8 331.4h1v1h-1zM62.5 311.5h1v1h-1zM76.4 323h1v1h-1zM89.8 318h1v1h-1zM95.2 328.8h1v1h-1zM98.5 311.7h1v1h-1zM71.7 333.9h1v1h-1zM97.4 333.2h1v1h-1zM63.7 336.3h1v1h-1zM101.6 317h1v1h-1zM61 311.8h1v1h-1zM106.3 345.7h1v1h-1zM94.3 351.8h1v1h-1zM103.4 342h1v1h-1zM107.7 351.9h1v1h-1zM54.8 358.7h1v1h-1zM87.4 343.6h1v1h-1zM100.9 358.3h1v1h-1zM109.4 310.9h1v1h-1zM67.9 351.8h1v1h-1zM55.9 315.9h1v1h-1zM56.9 340.3h1v1h-1zM102.2 351.2h1v1h-1zM57.5 325.1h1v1h-1zM105.7 337.2h1v1h-1zM59.1 330.4h1v1h-1zM110.1 359.3h1v1h-1zM102.5 327.9h1v1h-1zM79.5 322.8h1v1h-1zM100 341.6h1v1h-1zM59.2 355.4h1v1h-1zM106.8 355.5h1v1h-1zM106.8 332.5h1v1h-1zM74.4 348.6h1v1h-1zM58.6 310.6h1v1h-1zM93 333.2h1v1h-1zM113.6 332.8h1v1h-1zM99.7 322.7h1v1h-1zM92.2 331.4h1v1h-1zM101.9 351.7h1v1h-1zM95.7 313.7h1v1h-1zM102.9 331.8h1v1h-1zM54.5 340.1h1v1h-1zM98.7 344.3h1v1h-1zM94.3 324.2h1v1h-1zM77.6 313.2h1v1h-1zM71 345h1v1h-1zM49.5 338.1h1v1h-1zM57.4 324.2h1v1h-1zM49.6 346.6h1v1h-1zM110.8 348.3h1v1h-1zM56.5 321.8h1v1h-1zM93.8 317.3h1v1h-1zM48.4 330h1v1h-1zM112.7 315.1h1v1h-1zM94.1 317.3h1v1h-1zM84 327.7h1v1h-1zM82.4 310.9h1v1h-1zM97.7 333.4h1v1h-1zM110.6 359.7h1v1h-1zM112.3 351.7h1v1h-1zM100.6 356.3h1v1h-1zM97 315.5h1v1h-1zM84.9 338.2h1v1h-1zM48.1 343h1v1h-1zM91.1 335h1v1h-1zM74.5 341.2h1v1h-1zM82.2 338.8h1v1h-1zM77.5 333.5h1v1h-1zM67.4 323.1h1v1h-1zM110 349.4h1v1h-1zM72.8 312.8h1v1h-1zM53.3 355.2h1v1h-1zM63.2 349.4h1v1h-1zM86.7 324.4h1v1h-1zM89.3 339.2h1v1h-1zM109.8 310.9h1v1h-1zM86.8 311h1v1h-1zM81.7 352.5h1v1h-1zM98.8 321.1h1v1h-1zM64.5 330.2h1v1h-1zM107.1 335.6h1v1h-1zM62.9 313.1h1v1h-1zM66.8 344.3h1v1h-1zM64.8 335.5h1v1h-1zM66.6 347.2h1v1h-1zM75.3 342.7h1v1h-1zM82.1 342.9h1v1h-1zM111.7 325.7h1v1h-1zM101.3 352.5h1v1h-1zM75.6 332.8h1v1h-1zM83.1 311.6h1v1h-1zM67.1 342.2h1v1h-1zM80.1 354.3h1v1h-1zM100.5 352.1h1v1h-1zM53.6 350.5h1v1h-1zM96.9 320.6h1v1h-1zM103 322.7h1v1h-1zM93.6 343.5h1v1h-1zM109.8 353.9h1v1h-1zM63 313.7h1v1h-1zM79.2 312.9h1v1h-1zM55 348.3h1v1h-1zM66.7 341.3h1v1h-1zM92.1 311.1h1v1h-1zM86.1 345.7h1v1h-1zM110.1 317.9h1v1h-1zM77.3 310.1h1v1h-1zM64.6 350.1h1v1h-1zM109.5 330.2h1v1h-1zM113.3 326h1v1h-1zM58.3 314.3h1v1h-1zM111.2 318.8h1v1h-1zM62.3 327.5h1v1h-1zM67.4 321h1v1h-1zM68.1 343.9h1v1h-1zM67.1 331.3h1v1h-1zM96.7 345.5h1v1h-1zM73.1 337.2h1v1h-1zM78.3 339.3h1v1h-1zM57.2 330.7h1v1h-1zM107.4 316.6h1v1h-1zM96.6 312.8h1v1h-1zM49.6 310.2h1v1h-1zM69 338.4h1v1h-1zM82.8 312.2h1v1h-1zM57.9 329.9h1v1h-1zM87.4 342.5h1v1h-1zM89.6 327.1h1v1h-1zM76.3 310.5h1v1h-1zM82.8 356.4h1v1h-1zM89.9 346.3h1v1h-1zM72.6 311.1h1v1h-1zM80.4 317.6h1v1h-1zM84.8 316.8h1v1h-1zM68.6 329.7h1v1h-1zM71.3 350.9h1v1h-1zM49.7 321h1v1h-1zM111.6 337.8h1v1h-1zM79.7 343.1h1v1h-1zM61.5 312.7h1v1h-1zM84.7 353.3h1v1h-1zM98.9 346.1h1v1h-1zM61.8 356.2h1v1h-1zM100.1 316.9h1v1h-1zM75.5 345.1h1v1h-1zM58.9 339.1h1v1h-1zM59.4 337.1h1v1h-1zM108.7 331h1v1h-1zM74.5 316.2h1v1h-1zM83 312.9h1v1h-1zM89.3 356.3h1v1h-1zM73.1 324.4h1v1h-1zM107.4 348.7h1v1h-1zM68.6 357.9h1v1h-1zM107.3 340.4h1v1h-1zM50 357.5h1v1h-1zM90.2 359.2h1v1h-1zM96.3 348.9h1v1h-1zM113.9 344.1h1v1h-1zM80.4 356.7h1v1h-1zM66.2 331.5h1v1h-1zM74.6 337.4h1v1h-1zM80.6 312.6h1v1h-1zM100.3 350.7h1v1h-1zM51.9 331.1h1v1h-1zM73.8 352.1h1v1h-1zM53.9 322.7h1v1h-1zM96.6 359.5h1v1h-1zM91.9 345.1h1v1h-1zM65.6 313.3h1v1h-1zM81.1 350.1h1v1h-1zM92.8 324.3h1v1h-1zM101.1 320.9h1v1h-1zM54.6 313.5h1v1h-1zM88.8 323.8h1v1h-1zM65.7 355.3h1v1h-1zM68.8 333.6h1v1h-1zM67.8 354.8h1v1h-1zM55.5 338.7h1v1h-1zM102.2 341.4h1v1h-1zM109.9 358.1h1v1h-1zM82.3 352.7h1v1h-1zM71.7 344.8h1v1h-1zM97.9 317.1h1v1h-1zM77.8 357.4h1v1h-1zM101.1 314.6h1v1h-1zM106.9 312.1h1v1h-1zM52.1 352.2h1v1h-1zM92.6 338h1v1h-1zM99.6 356.6h1v1h-1zM103.5 332.5h1v1h-1zM107.1 343.9h1v1h-1zM52.1 318.2h1v1h-1zM88.9 335.8h1v1h-1zM78.4 351.3h1v1h-1zM69.3 359.6h1v1h-1zM52.6 350.7h1v1h-1zM88.1 320.1h1v1h-1zM106.4 333.4h1v1h-1zM56.3 323.4h1v1h-1zM69.4 342.6h1v1h-1zM66.7 316.6h1v1h-1zM83.1 344.2h1v1h-1zM103.4 322.1h1v1h-1zM103.4 358.1h1v1h-1zM111 348h1v1h-1zM55.4 339.5h1v1h-1zM80.9 313.7h1v1h-1zM96.2 354.2h1v1h-1zM56.2 351.7h1v1h-1zM93.2 358h1v1h-1zM103.3 352.3h1v1h-1zM98.6 360h1v1h-1zM103.8 358.3h1v1h-1zM85.1 348.7h1v1h-1zM57 331.8h1v1h-1zM73 356.4h1v1h-1zM91.3 334.5h1v1h-1zM102.2 315.8h1v1h-1zM98.9 341.7h1v1h-1zM68 318.2h1v1h-1zM63.4 356.5h1v1h-1zM52.6 345.7h1v1h-1zM93.8 335.8h1v1h-1zM101.4 349.1h1v1h-1zM70.1 318h1v1h-1zM58 320.5h1v1h-1zM78.9 342.1h1v1h-1zM72.1 319.8h1v1h-1zM90.7 327.5h1v1h-1zM74.1 335.5h1v1h-1zM108.4 332.6h1v1h-1zM59.5 323.4h1v1h-1zM69.8 315.6h1v1h-1zM103 323.3h1v1h-1zM49.1 314.3h1v1h-1zM82.8 329.7h1v1h-1zM74.8 319.8h1v1h-1zM113.7 346.3h1v1h-1zM54.6 343.4h1v1h-1zM88.3 341h1v1h-1zM84.4 353.7h1v1h-1zM54.5 318.8h1v1h-1zM66.6 315.3h1v1h-1zM57.7 341.3h1v1h-1zM48.9 346.4h1v1h-1zM95.5 315.8h1v1h-1zM51.4 333.1h1v1h-1z" fill="#bcc0ee"/><g filter="url(#soft)"><path d="M87.9 342.4h1.4v1.4h-1.4zM87.7 343.1h1.3v1.3h-1.3zM78.5 344.9h1.7v1.7h-1.7zM92.5 348.7h1.7v1.7h-1.7zM74.1 349.7h1.8v1.8h-1.8zM84.4 356.7h1.9v1.9h-1.9zM74.8 358h1.8v1.8h-1.8zM112.1 315.8h1.4v1.4h-1.4zM99.4 315.9h1.8v1.8h-1.8zM98.5 315.5h1.8v1.8h-1.8zM98.3 319.9h1.4v1.4h-1.4zM98.1 315h1.5v1.5h-1.5zM100.6 321.5h2v2h-2zM98.1 320.2h1.4v1.4h-1.4zM104.3 318.9h1.5v1.5h-1.5zM105.5 315.6h1.6v1.6h-1.6zM102.6 315.8h1.5v1.5h-1.5zM97.3 352.6h1.4v1.4h-1.4zM92.5 354h1.6v1.6h-1.6zM96.3 354.6h1.9v1.9h-1.9zM93.3 355.6h1.5v1.5h-1.5zM95.3 354.9h1.7v1.7h-1.7zM68.4 316.8h1.5v1.5h-1.5zM59.7 323.8h2v2h-2zM112.7 332.4h2v2h-2zM94.6 338.9h1.9v1.9h-1.9zM103.8 333.1h1.8v1.8h-1.8zM77.3 329.4h1.5v1.5h-1.5zM81.5 325.4h1.8v1.8h-1.8zM80.6 343.9h1.9v1.9h-1.9zM68.7 317.5h1.8v1.8h-1.8zM66.7 320.6h1.6v1.6h-1.6zM86.2 335.6h1.4v1.4h-1.4zM83.3 337.4h1.5v1.5h-1.5zM73.1 321.7h1.7v1.7h-1.7zM78.3 323.6h1.9v1.9h-1.9zM68.6 343.3h1.5v1.5h-1.5zM61.5 346.1h1.7v1.7h-1.7zM71.5 345.4h1.5v1.5h-1.5zM65.7 338.9h1.8v1.8h-1.8zM67.6 342.9h1.5v1.5h-1.5zM68.5 340.9h1.9v1.9h-1.9zM64.5 338.4h1.9v1.9h-1.9zM82.2 320.9h1.5v1.5h-1.5zM82.2 321.2h1.9v1.9h-1.9zM90.4 317h1.8v1.8h-1.8zM88.2 318.4h1.7v1.7h-1.7zM85.1 316.5h1.5v1.5h-1.5zM74.5 336.1h1.8v1.8h-1.8zM77.6 331.2h1.6v1.6h-1.6zM84.4 327.2h1.8v1.8h-1.8zM87.3 322.4h1.5v1.5h-1.5zM85.5 321.8h1.9v1.9h-1.9zM66.7 348h1.3v1.3h-1.3zM76.5 352.1h1.6v1.6h-1.6zM66.2 355.6h1.5v1.5h-1.5zM66.4 348.3h2v2h-2zM89.1 325.6h1.8v1.8h-1.8zM92.2 324.4h1.8v1.8h-1.8zM89 323.6h1.4v1.4h-1.4zM87.2 325.1h1.5v1.5h-1.5zM94.3 319.5h1.7v1.7h-1.7zM82.2 349.5h1.7v1.7h-1.7zM65.4 347.7h1.8v1.8h-1.8zM66.3 353h1.5v1.5h-1.5zM67.9 345.5h1.6v1.6h-1.6zM95.7 342.1h1.9v1.9h-1.9zM102.9 339.9h1.4v1.4h-1.4zM95.2 325.1h1.6v1.6h-1.6zM89.2 327h1.4v1.4h-1.4zM88.9 323.1h1.6v1.6h-1.6zM62.7 336h2v2h-2zM58.9 337.1h1.8v1.8h-1.8zM67.3 338.7h1.5v1.5h-1.5zM56.5 339.1h2v2h-2zM68.2 347.9h1.4v1.4h-1.4zM68.8 347h1.5v1.5h-1.5zM67.3 347.5h1.6v1.6h-1.6zM72 345.5h1.7v1.7h-1.7zM103 332.2h1.7v1.7h-1.7zM101 325.6h1.4v1.4h-1.4zM100.8 329.9h1.6v1.6h-1.6zM95.2 327.1h1.4v1.4h-1.4zM99.6 332.9h1.3v1.3h-1.3zM103.4 328.4h1.7v1.7h-1.7zM103.6 329h1.6v1.6h-1.6zM65.8 327.4h1.9v1.9h-1.9zM66.9 324.5h1.9v1.9h-1.9zM68.9 328h1.8v1.8h-1.8zM50.2 312.7h1.8v1.8h-1.8zM50.2 315.8h1.5v1.5h-1.5zM49.5 312.7h1.9v1.9h-1.9zM70.3 343.6h1.4v1.4h-1.4zM71.8 339.9h1.6v1.6h-1.6zM65.7 343.7h1.8v1.8h-1.8zM64.3 344h1.4v1.4h-1.4zM69.2 341.4h1.9v1.9h-1.9zM85.8 320.2h1.3v1.3h-1.3zM49.6 327.8h1.4v1.4h-1.4zM107.6 347.5h1.5v1.5h-1.5zM85.7 331.7h1.7v1.7h-1.7zM70.8 319.3h1.6v1.6h-1.6zM73 354.3h1.3v1.3h-1.3zM73.8 322.8h1.5v1.5h-1.5zM63.3 347.7h1.3v1.3h-1.3zM89.7 322.9h1.6v1.6h-1.6zM89.3 329.1h1.7v1.7h-1.7zM72.1 346.3h2v2h-2zM77.6 343.5h1.3v1.3h-1.3zM92.4 334h1.7v1.7h-1.7zM71.4 355.3h1.6v1.6h-1.6zM87.8 314.8h1.8v1.8h-1.8zM97 310.3h1.6v1.6h-1.6zM69 321.5h1.5v1.5h-1.5zM56.5 331.6h1.7v1.7h-1.7z" fill="#2a2eb8"/><path d="M88.1 346.1h1.7v1.7h-1.7zM92.6 355.4h1.7v1.7h-1.7zM94.5 340.3h1.5v1.5h-1.5zM83.5 348.6h1.8v1.8h-1.8zM80.5 343.7h1.9v1.9h-1.9zM75.2 354.9h1.7v1.7h-1.7zM83.6 357.6h1.9v1.9h-1.9zM98 315.9h1.9v1.9h-1.9zM97.5 316.5h1.4v1.4h-1.4zM96.5 316.3h1.3v1.3h-1.3zM96.3 316.5h1.3v1.3h-1.3zM101.5 322h1.7v1.7h-1.7zM102.5 325.8h1.4v1.4h-1.4zM95.7 358.5h1.8v1.8h-1.8zM94.5 356.1h1.8v1.8h-1.8zM94.4 354.5h1.5v1.5h-1.5zM96.5 355.8h1.9v1.9h-1.9zM94.3 353.3h1.8v1.8h-1.8zM61.8 313.2h1.5v1.5h-1.5zM60.4 316.7h1.7v1.7h-1.7zM68.3 310.9h1.7v1.7h-1.7zM90.8 347.7h1.6v1.6h-1.6zM85.3 345.9h1.5v1.5h-1.5zM107.4 341.4h1.6v1.6h-1.6zM109.9 329.5h1.9v1.9h-1.9zM79.5 320.1h1.8v1.8h-1.8zM78.6 352.9h1.6v1.6h-1.6zM88.3 342.3h1.6v1.6h-1.6zM76.1 339h1.5v1.5h-1.5zM72.7 314h1.6v1.6h-1.6zM78.1 315.6h1.9v1.9h-1.9zM76.2 314.3h1.4v1.4h-1.4zM70.1 321.1h1.9v1.9h-1.9zM84 339.9h1.5v1.5h-1.5zM81.1 327.4h1.4v1.4h-1.4zM69.6 345.8h1.8v1.8h-1.8zM67.5 332.3h1.9v1.9h-1.9zM70.3 349.2h1.9v1.9h-1.9zM60 345.7h1.4v1.4h-1.4zM87.3 315.7h1.8v1.8h-1.8zM80.8 316.7h1.8v1.8h-1.8zM81.8 318.2h1.8v1.8h-1.8zM91.3 312.1h1.7v1.7h-1.7zM78.2 336.6h1.4v1.4h-1.4zM71.6 335.9h1.8v1.8h-1.8zM78.6 334.1h1.4v1.4h-1.4zM61.4 348.3h1.9v1.9h-1.9zM76.1 349.9h1.4v1.4h-1.4zM71.4 356.6h1.5v1.5h-1.5zM110.7 318.7h1.5v1.5h-1.5zM109.1 318h2v2h-2zM91.2 317h1.8v1.8h-1.8zM95.9 320.1h1.7v1.7h-1.7zM91.7 319.2h1.4v1.4h-1.4zM91.2 318.8h1.9v1.9h-1.9zM91.3 321.2h1.8v1.8h-1.8zM71.4 341.8h1.7v1.7h-1.7zM72.1 348.6h1.7v1.7h-1.7zM67.5 353.5h1.9v1.9h-1.9zM74.6 346.5h1.5v1.5h-1.5zM75.7 344.4h1.4v1.4h-1.4zM98.3 347.8h1.5v1.5h-1.5zM97.4 319.2h1.9v1.9h-1.9zM93.5 324.3h1.5v1.5h-1.5zM65.6 331.1h2v2h-2zM71 346.2h1.5v1.5h-1.5zM62.5 345.4h1.6v1.6h-1.6zM98.2 325.9h1.5v1.5h-1.5zM102.9 336.5h1.3v1.3h-1.3zM97.9 325.3h1.5v1.5h-1.5zM101.7 323.7h1.9v1.9h-1.9zM101.1 331.2h1.8v1.8h-1.8zM67.9 323.7h1.6v1.6h-1.6zM55.7 316.8h1.5v1.5h-1.5zM63.9 343.8h1.6v1.6h-1.6zM68.8 343.1h1.8v1.8h-1.8zM67.4 343.5h1.7v1.7h-1.7zM68.5 335.6h1.8v1.8h-1.8zM53.7 351.4h1.5v1.5h-1.5zM64.6 348.5h1.3v1.3h-1.3zM61.8 345.7h1.8v1.8h-1.8zM66.1 347.8h1.9v1.9h-1.9zM67 348.9h2v2h-2zM62.7 344h1.7v1.7h-1.7zM61.9 346h1.7v1.7h-1.7zM68.1 331.1h1.4v1.4h-1.4zM99.7 325.4h2v2h-2zM53.4 325.5h1.3v1.3h-1.3zM83.1 337.8h1.4v1.4h-1.4zM102.3 321.9h2v2h-2zM88.9 329.9h1.7v1.7h-1.7zM59.8 323.3h1.9v1.9h-1.9zM62.7 358.3h1.3v1.3h-1.3zM56.1 316.8h1.6v1.6h-1.6zM69 325.1h1.4v1.4h-1.4zM92.8 352.5h1.5v1.5h-1.5zM110 328.4h1.6v1.6h-1.6zM48.7 317.5h1.8v1.8h-1.8zM72.9 328.9h1.5v1.5h-1.5zM70.8 343.8h2v2h-2zM85 342.9h1.3v1.3h-1.3zM70.9 314.9h1.9v1.9h-1.9zM111.1 320.1h1.4v1.4h-1.4zM105.1 344h1.8v1.8h-1.8zM72.9 353.4h1.6v1.6h-1.6zM63.4 316.7h1.4v1.4h-1.4zM48.3 347.7h1.8v1.8h-1.8zM72.1 334.1h2v2h-2zM108.8 326h1.8v1.8h-1.8z" fill="#4444d4"/><path d="M78.8 349.7h1.8v1.8h-1.8zM76.4 353.7h1.5v1.5h-1.5zM112.8 314.2h1.7v1.7h-1.7zM97.7 315.7h1.4v1.4h-1.4zM101.3 319.4h1.4v1.4h-1.4zM103.9 324.9h1.8v1.8h-1.8zM97.5 319.6h1.7v1.7h-1.7zM104.6 316.7h1.3v1.3h-1.3zM96.5 352.1h1.9v1.9h-1.9zM93.7 352.5h1.4v1.4h-1.4zM69.2 316.5h1.4v1.4h-1.4zM62 316.3h1.8v1.8h-1.8zM67.2 316.8h1.4v1.4h-1.4zM60 320.2h1.5v1.5h-1.5zM57.6 312.5h1.7v1.7h-1.7zM89.7 345.1h1.8v1.8h-1.8zM109.8 329.7h1.7v1.7h-1.7zM95.1 329.2h1.5v1.5h-1.5zM84.7 335.7h1.7v1.7h-1.7zM62.5 355h1.5v1.5h-1.5zM59.2 349.5h1.8v1.8h-1.8zM61 351.5h1.4v1.4h-1.4zM80.2 340.9h1.9v1.9h-1.9zM86.4 349.7h1.6v1.6h-1.6zM82 342.7h1.5v1.5h-1.5zM65 315.2h1.5v1.5h-1.5zM83.4 341.4h1.8v1.8h-1.8zM73.7 349.4h1.6v1.6h-1.6zM75.7 339.1h1.6v1.6h-1.6zM72.5 322.6h1.4v1.4h-1.4zM73.8 318.9h1.4v1.4h-1.4zM78.5 325.6h1.9v1.9h-1.9zM73.4 325.2h2v2h-2zM64.2 341.1h1.9v1.9h-1.9zM74.4 344.1h1.7v1.7h-1.7zM69.3 340.1h1.9v1.9h-1.9zM59 346.2h1.5v1.5h-1.5zM83 318.5h1.9v1.9h-1.9zM83.5 321.5h1.7v1.7h-1.7zM90.2 319.5h1.5v1.5h-1.5zM78.2 332.5h2v2h-2zM76.9 339.2h1.6v1.6h-1.6zM73.1 334h1.9v1.9h-1.9zM78 335.8h1.4v1.4h-1.4zM92.6 322.4h1.5v1.5h-1.5zM88 325.3h1.7v1.7h-1.7zM93 321.7h1.8v1.8h-1.8zM85.8 324.6h1.9v1.9h-1.9zM96.3 326.5h2v2h-2zM76.4 347.3h1.4v1.4h-1.4zM63.3 358.5h1.7v1.7h-1.7zM72.5 353.1h1.7v1.7h-1.7zM67.2 342.2h2v2h-2zM66.7 357.1h1.9v1.9h-1.9zM69.1 347h1.6v1.6h-1.6zM108.2 321h1.9v1.9h-1.9zM108.2 314.2h1.5v1.5h-1.5zM110.1 320.3h1.8v1.8h-1.8zM88.2 317.5h2v2h-2zM82.4 318.2h1.8v1.8h-1.8zM66.1 344.9h1.4v1.4h-1.4zM71.9 350.9h1.6v1.6h-1.6zM88.6 344.7h1.6v1.6h-1.6zM100.8 346.1h1.6v1.6h-1.6zM96 355.5h1.6v1.6h-1.6zM96.1 355.5h1.4v1.4h-1.4zM93.8 343.3h1.6v1.6h-1.6zM94.4 316.6h1.8v1.8h-1.8zM93.6 323.9h1.7v1.7h-1.7zM98.7 318.7h1.9v1.9h-1.9zM64.3 335.4h1.9v1.9h-1.9zM71.7 348.4h1.9v1.9h-1.9zM73.5 349.3h1.4v1.4h-1.4zM64 345.8h1.6v1.6h-1.6zM93.9 325.8h1.6v1.6h-1.6zM95 323.2h1.7v1.7h-1.7zM99.9 326.3h1.7v1.7h-1.7zM92.2 334.7h1.8v1.8h-1.8zM57.6 325.3h2v2h-2zM68 322.7h1.8v1.8h-1.8zM60.9 323.6h1.5v1.5h-1.5zM66.7 324.4h1.6v1.6h-1.6zM63.7 328.3h1.5v1.5h-1.5zM53.7 313h1.4v1.4h-1.4zM56 316.6h1.6v1.6h-1.6zM65.7 343.6h1.8v1.8h-1.8zM69.4 343.5h1.4v1.4h-1.4zM65.8 345.4h1.7v1.7h-1.7zM67.2 343.5h1.3v1.3h-1.3zM71 343.8h1.5v1.5h-1.5zM64 346h1.9v1.9h-1.9zM62.8 345.9h1.3v1.3h-1.3zM62.5 341.7h1.7v1.7h-1.7zM60.6 351.1h1.6v1.6h-1.6zM61.5 349h2v2h-2zM74.6 330.9h1.6v1.6h-1.6zM64.2 332.7h1.9v1.9h-1.9zM90.8 337.2h1.6v1.6h-1.6zM58.2 324.1h1.9v1.9h-1.9zM64.5 333.2h1.4v1.4h-1.4zM52.2 327.7h2v2h-2zM69.1 320.8h2v2h-2zM65.6 349.4h1.6v1.6h-1.6zM74.7 328.9h1.7v1.7h-1.7zM50.6 321.6h1.4v1.4h-1.4zM89.7 317h1.5v1.5h-1.5zM90.6 329.3h1.4v1.4h-1.4zM105.6 326h1.4v1.4h-1.4zM58 343.4h1.5v1.5h-1.5zM70.8 346.5h1.7v1.7h-1.7zM78.4 344.1h2v2h-2zM91.2 330.5h1.7v1.7h-1.7zM81.4 335.4h1.3v1.3h-1.3zM105.9 333h1.8v1.8h-1.8z" fill="#3236c8"/></g>
<rect x="104.5" y="359" width="9" height="1" fill="#777"/>
<rect x="118.5" y="309.5" width="68" height="52" fill="#fcfcff" stroke="#c6c6c6" stroke-width="1"/>
<path d="M174.8 318h1v1h-1zM155.8 328.4h1v1h-1zM133.2 329.3h1v1h-1zM147.3 340.6h1v1h-1zM167.6 310.8h1v1h-1zM135.8 340.2h1v1h-1zM124.5 359.9h1v1h-1zM173.9 311.8h1v1h-1zM156.5 340.5h1v1h-1zM119.5 319h1v1h-1zM129.9 333.1h1v1h-1zM156.4 332.6h1v1h-1zM179.7 350.7h1v1h-1zM145.5 320.2h1v1h-1zM142.6 353.1h1v1h-1zM142 359.6h1v1h-1zM156.3 321.8h1v1h-1zM162.5 343h1v1h-1zM153 324h1v1h-1zM160.6 334h1v1h-1zM162.1 337.1h1v1h-1zM127 355.4h1v1h-1zM120.1 325.5h1v1h-1zM130.3 327.2h1v1h-1zM159.8 337.5h1v1h-1zM166.3 334.5h1v1h-1zM174.5 327.4h1v1h-1zM155.2 335.2h1v1h-1zM120.5 321.4h1v1h-1zM124.5 322.4h1v1h-1zM119.4 324.7h1v1h-1zM143.7 342.3h1v1h-1zM174.7 330.8h1v1h-1zM160.7 336h1v1h-1zM134.2 319.9h1v1h-1zM148.9 349.7h1v1h-1zM158.2 345h1v1h-1zM167.2 341.1h1v1h-1zM135.1 332.1h1v1h-1zM152.9 310.6h1v1h-1zM138.5 328h1v1h-1zM119.7 338.1h1v1h-1zM155.2 314.5h1v1h-1zM135.4 355.2h1v1h-1zM147.9 323h1v1h-1zM175.9 332.8h1v1h-1zM160.3 355.2h1v1h-1zM155 317.9h1v1h-1zM166.1 356.8h1v1h-1zM146.6 343.1h1v1h-1zM176.7 317.8h1v1h-1zM170.6 333.7h1v1h-1zM155.5 356.2h1v1h-1zM172.7 316.7h1v1h-1zM146.4 343.8h1v1h-1zM172.6 318h1v1h-1zM165.3 335.9h1v1h-1zM124.1 336h1v1h-1zM148.6 332.2h1v1h-1zM136.7 328.3h1v1h-1zM169.3 327.1h1v1h-1zM175.7 345.1h1v1h-1zM168.7 330.1h1v1h-1zM130.4 310.5h1v1h-1zM145.9 333.3h1v1h-1zM144.4 315.2h1v1h-1zM121.9 353.9h1v1h-1zM144.8 353.4h1v1h-1zM174 338.7h1v1h-1zM176 357.6h1v1h-1zM161 310.1h1v1h-1zM161.3 334.7h1v1h-1zM171.2 328h1v1h-1zM164.8 328.3h1v1h-1zM157.5 332.6h1v1h-1zM132.9 326h1v1h-1zM123.2 341.2h1v1h-1zM177.9 339.8h1v1h-1zM130.2 336.9h1v1h-1zM136.2 329.2h1v1h-1zM119.2 358h1v1h-1zM153.5 338.6h1v1h-1zM125.3 316.6h1v1h-1zM177.2 352.3h1v1h-1zM163.5 344.7h1v1h-1zM180.5 343.8h1v1h-1zM158.7 317.4h1v1h-1zM134.1 321h1v1h-1zM121.9 330.7h1v1h-1zM122 355.4h1v1h-1zM160.1 326.7h1v1h-1zM136.5 346.9h1v1h-1zM178.3 359.7h1v1h-1zM124.5 332.3h1v1h-1zM183.2 339.4h1v1h-1zM171.8 329.3h1v1h-1zM176.7 358.2h1v1h-1zM136.7 326.7h1v1h-1zM146.6 358.1h1v1h-1zM123.4 340.3h1v1h-1zM157 348.3h1v1h-1zM124.2 318h1v1h-1zM171.2 357.3h1v1h-1zM154.6 335.8h1v1h-1zM165.9 320h1v1h-1zM173.6 311.2h1v1h-1zM160.5 352.1h1v1h-1zM127.5 328h1v1h-1zM137 348.8h1v1h-1zM130.8 330h1v1h-1zM157.5 311.9h1v1h-1zM143.8 318.8h1v1h-1zM136.7 318.5h1v1h-1zM144.7 312h1v1h-1zM135.2 320.8h1v1h-1zM163.8 344.4h1v1h-1zM146 315.3h1v1h-1zM153.9 336h1v1h-1zM153.1 329h1v1h-1zM136.8 310.9h1v1h-1zM127.6 317h1v1h-1zM139.4 323.6h1v1h-1zM147.5 353.2h1v1h-1zM179.7 329.5h1v1h-1zM156.3 356.9h1v1h-1zM163.5 312.4h1v1h-1zM147 348.6h1v1h-1zM145.1 356.9h1v1h-1zM133.7 348.8h1v1h-1zM163.1 343.4h1v1h-1zM140.6 325.4h1v1h-1zM147.3 344.6h1v1h-1zM143.4 357.9h1v1h-1zM158.1 331.9h1v1h-1zM160.8 316.5h1v1h-1zM165.4 317.4h1v1h-1zM173.1 312.6h1v1h-1zM163.3 347.8h1v1h-1zM132.2 316h1v1h-1zM169 324.5h1v1h-1zM152.2 326.7h1v1h-1zM129.8 357.5h1v1h-1zM139.6 333.8h1v1h-1zM143.1 351.1h1v1h-1zM172.5 353.4h1v1h-1zM138.1 341.3h1v1h-1zM119.7 323.9h1v1h-1zM153.4 326.6h1v1h-1zM184.1 342.9h1v1h-1zM179.9 321h1v1h-1zM160.8 328.9h1v1h-1zM163.4 347.2h1v1h-1zM166.5 323.8h1v1h-1zM176.8 328.9h1v1h-1zM157.5 357.1h1v1h-1zM171 318.7h1v1h-1zM171.5 325.4h1v1h-1zM140 328.7h1v1h-1zM146.8 354.4h1v1h-1zM158.7 326.3h1v1h-1zM136.2 354.7h1v1h-1zM121.5 316h1v1h-1zM180.8 344.9h1v1h-1zM164.6 338.5h1v1h-1zM124.6 328.3h1v1h-1zM142.6 330.4h1v1h-1zM147.8 345.4h1v1h-1zM119 339.4h1v1h-1zM167 347h1v1h-1zM123.7 316.1h1v1h-1zM127.3 328h1v1h-1zM138 325.5h1v1h-1zM137.2 321.7h1v1h-1zM157.6 327.1h1v1h-1zM144.9 328.9h1v1h-1zM169.9 338.3h1v1h-1zM160.8 341.2h1v1h-1zM136.5 338.8h1v1h-1zM172.3 330.4h1v1h-1zM141.4 332.4h1v1h-1zM136.6 348h1v1h-1zM164.3 356.6h1v1h-1zM137.8 341h1v1h-1zM155.5 312.1h1v1h-1zM123 346.2h1v1h-1zM128.3 341.9h1v1h-1zM153.2 347.1h1v1h-1zM126.8 340.9h1v1h-1zM155.3 314.1h1v1h-1zM182.9 316.5h1v1h-1zM183 310.1h1v1h-1zM131.1 339.6h1v1h-1zM178.2 357.5h1v1h-1zM145 315.5h1v1h-1zM163 355.2h1v1h-1zM183.2 323.9h1v1h-1zM120.7 334.3h1v1h-1zM180.4 341h1v1h-1zM152.7 359.7h1v1h-1zM134.7 315.5h1v1h-1zM150.4 355.1h1v1h-1zM135.2 338h1v1h-1zM181.5 315.7h1v1h-1zM181.6 316.7h1v1h-1zM123.4 328.8h1v1h-1zM174.5 338.3h1v1h-1zM121.5 339h1v1h-1zM128.9 319.4h1v1h-1zM171.3 339.4h1v1h-1zM168.2 312.5h1v1h-1zM133.6 359.3h1v1h-1zM180.7 334h1v1h-1zM176.7 342.4h1v1h-1zM180.2 336h1v1h-1zM160.2 335.6h1v1h-1zM123.2 338.2h1v1h-1zM152.2 332.3h1v1h-1zM134.4 335.6h1v1h-1zM176 331.2h1v1h-1zM122.8 342.4h1v1h-1zM177.6 332.8h1v1h-1zM144.9 336.2h1v1h-1zM132.7 357.8h1v1h-1zM140.4 345.2h1v1h-1zM151.3 352.9h1v1h-1zM178.1 338h1v1h-1zM129.2 329.6h1v1h-1zM133.4 331.7h1v1h-1zM136.6 314.8h1v1h-1zM164.1 331.6h1v1h-1zM166.2 312.6h1v1h-1zM171 356.2h1v1h-1zM122.5 345.5h1v1h-1zM175.7 315.4h1v1h-1zM119.3 321.3h1v1h-1zM148.6 329.7h1v1h-1zM121.9 359h1v1h-1zM165.7 357.4h1v1h-1zM147 344.4h1v1h-1zM145.9 316.1h1v1h-1zM182 359.3h1v1h-1zM120.4 349.9h1v1h-1zM151 319.1h1v1h-1zM180.8 324.8h1v1h-1zM140.6 358.7h1v1h-1zM145.1 358.2h1v1h-1zM119 316.7h1v1h-1zM156.6 338.6h1v1h-1zM152.8 349h1v1h-1zM161.2 334.1h1v1h-1zM133.7 312.7h1v1h-1zM139.3 317.1h1v1h-1zM160.6 349.1h1v1h-1zM170.9 350.6h1v1h-1zM143.2 358.2h1v1h-1zM158.1 350.6h1v1h-1zM183.5 346.1h1v1h-1zM169.9 350h1v1h-1zM169.2 356.4h1v1h-1zM139 338.5h1v1h-1zM141.7 340.6h1v1h-1zM136.9 353.2h1v1h-1zM149.3 359.5h1v1h-1zM138.2 348.9h1v1h-1zM142 340.8h1v1h-1zM149.8 315.2h1v1h-1zM163.7 357.5h1v1h-1zM135.1 315.6h1v1h-1zM123.5 344.9h1v1h-1zM182.8 315.8h1v1h-1zM130.8 349.5h1v1h-1zM145 355.6h1v1h-1zM164.3 348.9h1v1h-1zM181.1 330h1v1h-1zM126.5 317.5h1v1h-1zM180.3 336.6h1v1h-1zM133.5 359.8h1v1h-1zM129.7 315.6h1v1h-1zM131.2 312.2h1v1h-1zM147.2 327.6h1v1h-1zM174.6 318.7h1v1h-1zM129.7 341.2h1v1h-1zM144.2 351.2h1v1h-1zM125.2 312.8h1v1h-1zM154.2 327.7h1v1h-1zM146.5 328.9h1v1h-1zM172.1 324.6h1v1h-1zM184.8 320.6h1v1h-1zM135.8 326h1v1h-1zM129.8 312.8h1v1h-1zM169.5 350.7h1v1h-1zM121 321.1h1v1h-1zM164.5 325.9h1v1h-1zM122.3 338.5h1v1h-1zM184 318.5h1v1h-1zM164.5 341.7h1v1h-1zM175.9 316.6h1v1h-1zM157.8 320.1h1v1h-1zM159.6 318.6h1v1h-1zM136.7 354.1h1v1h-1zM173.8 319.3h1v1h-1zM156.3 340.4h1v1h-1zM137.8 339.2h1v1h-1zM179.6 353.2h1v1h-1zM139.5 322.4h1v1h-1zM172 352.2h1v1h-1zM172.2 335.6h1v1h-1zM143.4 342.7h1v1h-1zM140.7 325.6h1v1h-1zM181.1 359.3h1v1h-1zM130.9 353h1v1h-1zM146.4 333.8h1v1h-1zM177.2 327.1h1v1h-1zM149.3 341.8h1v1h-1zM149.5 344.5h1v1h-1zM171.1 336.4h1v1h-1zM162.9 326.1h1v1h-1zM142.4 314.7h1v1h-1zM141.3 342.4h1v1h-1zM136.2 350.5h1v1h-1zM121.9 327.8h1v1h-1zM130.7 334.4h1v1h-1zM157.7 356.4h1v1h-1zM177.2 327.3h1v1h-1zM140.8 354.4h1v1h-1zM146.1 344.6h1v1h-1zM129.9 330.5h1v1h-1zM128.9 332h1v1h-1zM184.5 335.8h1v1h-1zM168.2 314.1h1v1h-1zM136 339.3h1v1h-1zM172.6 358.7h1v1h-1zM161.5 348.9h1v1h-1zM132.1 345.2h1v1h-1zM162.3 333.1h1v1h-1zM129.9 351.6h1v1h-1zM158.1 311.5h1v1h-1zM140.7 326.9h1v1h-1zM163.3 316.5h1v1h-1zM170.8 312.2h1v1h-1zM125.8 345.4h1v1h-1zM147.9 344.6h1v1h-1zM137.1 313.8h1v1h-1zM176.9 325.1h1v1h-1zM173.5 345.5h1v1h-1zM136.5 350.5h1v1h-1zM172.8 336.2h1v1h-1zM174.8 314h1v1h-1zM169.4 334.3h1v1h-1zM160.8 350.9h1v1h-1zM140.8 356.1h1v1h-1zM179.4 335.7h1v1h-1zM165.9 328.1h1v1h-1zM122.9 350.6h1v1h-1zM134.3 347.8h1v1h-1zM142.4 317h1v1h-1zM174.8 320.2h1v1h-1zM174.5 316.1h1v1h-1zM156.8 356h1v1h-1zM133.5 311.9h1v1h-1zM141.1 340.8h1v1h-1zM129.5 329.6h1v1h-1zM164.3 315.6h1v1h-1zM171.4 339.4h1v1h-1zM173 351.8h1v1h-1zM123.2 349.4h1v1h-1zM144.8 335.1h1v1h-1zM157.5 347.3h1v1h-1zM156.8 329.9h1v1h-1zM140.7 352.7h1v1h-1zM127.2 327.3h1v1h-1zM139.7 315.4h1v1h-1zM127.5 359.4h1v1h-1zM137.5 315.3h1v1h-1zM164.3 344.8h1v1h-1zM156.4 313.9h1v1h-1zM184.6 313.9h1v1h-1zM136.8 332.5h1v1h-1zM137.1 342.8h1v1h-1zM151.7 345h1v1h-1z" fill="#bcc0ee"/><g filter="url(#soft)"><path d="M164.8 339.4h1.3v1.3h-1.3zM158.6 331h1.8v1.8h-1.8zM156.1 344.8h2v2h-2zM154 337.3h1.9v1.9h-1.9zM133.3 329.4h1.3v1.3h-1.3zM136.5 335h1.5v1.5h-1.5zM167.9 343.7h1.7v1.7h-1.7zM170.5 346.5h2v2h-2zM165.1 349.5h1.9v1.9h-1.9zM175.9 326.6h1.6v1.6h-1.6zM167.1 349.5h1.4v1.4h-1.4zM168.7 352.5h1.6v1.6h-1.6zM155.6 355.4h1.6v1.6h-1.6zM168 311.9h1.6v1.6h-1.6zM178 317.9h1.5v1.5h-1.5zM161.7 314.6h1.6v1.6h-1.6zM140.1 319.6h1.4v1.4h-1.4zM139 314.4h1.6v1.6h-1.6zM138.8 316.4h1.9v1.9h-1.9zM133.7 318.5h1.6v1.6h-1.6zM146.9 313.7h1.4v1.4h-1.4zM183.2 326.8h1.6v1.6h-1.6zM183.2 321.4h1.6v1.6h-1.6zM178.1 353.7h1.4v1.4h-1.4zM171.6 346.9h1.5v1.5h-1.5zM154.5 347.2h1.5v1.5h-1.5zM153.1 344.6h1.6v1.6h-1.6zM152.5 348.5h1.3v1.3h-1.3zM168.5 340.7h1.7v1.7h-1.7zM156.9 337.3h1.5v1.5h-1.5zM167.3 345.7h1.9v1.9h-1.9zM166.2 338.5h1.7v1.7h-1.7zM160.7 346.6h1.5v1.5h-1.5zM165.3 313.4h1.5v1.5h-1.5zM153.5 327.4h1.8v1.8h-1.8zM176.2 318.6h1.4v1.4h-1.4zM158 336.7h1.7v1.7h-1.7zM148.8 358h1.6v1.6h-1.6zM168.3 310.3h1.6v1.6h-1.6zM164.9 323.6h2v2h-2zM141.5 338.9h1.4v1.4h-1.4zM155.8 326.2h1.9v1.9h-1.9zM136.4 315.6h1.8v1.8h-1.8zM129.5 316.1h1.3v1.3h-1.3zM154.2 320.1h1.6v1.6h-1.6zM147.5 335.9h2v2h-2zM175.7 348.4h1.5v1.5h-1.5zM182.2 332.8h1.9v1.9h-1.9z" fill="#3236c8"/><path d="M170.3 346.9h1.3v1.3h-1.3zM172.3 345.6h1.3v1.3h-1.3zM145.6 343.7h1.5v1.5h-1.5zM152.5 344.5h1.5v1.5h-1.5zM128.5 329.6h1.7v1.7h-1.7zM140.7 330.6h1.7v1.7h-1.7zM143.4 331.2h1.7v1.7h-1.7zM135.1 328.9h1.4v1.4h-1.4zM149.3 316.6h1.6v1.6h-1.6zM151 314.1h1.7v1.7h-1.7zM152 318.7h2v2h-2zM171.4 342h1.6v1.6h-1.6zM168.9 348.6h1.4v1.4h-1.4zM168.7 324.7h1.3v1.3h-1.3zM175.3 337.8h1.9v1.9h-1.9zM167 348.9h1.4v1.4h-1.4zM163.5 350.6h1.7v1.7h-1.7zM160.4 351h1.4v1.4h-1.4zM136.8 315.3h1.8v1.8h-1.8zM140.7 316.2h1.5v1.5h-1.5zM177.9 354.1h1.6v1.6h-1.6zM170.6 349.1h1.4v1.4h-1.4zM170.4 349.7h1.7v1.7h-1.7zM172.3 347.2h1.5v1.5h-1.5zM154.2 344.2h1.8v1.8h-1.8zM146.8 345.3h1.6v1.6h-1.6zM159.5 340.1h1.9v1.9h-1.9zM179.8 347.6h1.8v1.8h-1.8zM161.8 319.4h1.6v1.6h-1.6zM143.1 316.1h1.6v1.6h-1.6zM138.4 313.6h1.4v1.4h-1.4zM155.1 312.1h1.5v1.5h-1.5zM153.2 312.7h1.8v1.8h-1.8zM127.9 322.1h1.6v1.6h-1.6zM149.3 345.5h1.5v1.5h-1.5zM126.8 315.3h1.4v1.4h-1.4zM129 344.9h1.5v1.5h-1.5zM149.4 321.3h1.5v1.5h-1.5zM159.5 311.7h1.6v1.6h-1.6zM131.7 322.9h1.6v1.6h-1.6zM131.8 322.2h1.4v1.4h-1.4z" fill="#2a2eb8"/><path d="M170.7 338.6h1.8v1.8h-1.8zM143 322.2h1.5v1.5h-1.5zM130.5 328.7h1.7v1.7h-1.7zM142.8 320.1h1.8v1.8h-1.8zM155 357.2h2v2h-2zM145.7 315.1h1.7v1.7h-1.7zM166.7 345.4h1.9v1.9h-1.9zM167.1 348.5h1.4v1.4h-1.4zM162.6 332h1.6v1.6h-1.6zM166.2 353.4h1.4v1.4h-1.4zM164.8 354.1h1.5v1.5h-1.5zM171.9 312h1.6v1.6h-1.6zM176.4 311.9h1.4v1.4h-1.4zM179.5 327.4h1.6v1.6h-1.6zM180.7 316.3h1.5v1.5h-1.5zM175.6 356.5h1.7v1.7h-1.7zM169.8 345.1h1.9v1.9h-1.9zM173.6 345h1.8v1.8h-1.8zM153.9 356.9h1.7v1.7h-1.7zM153 357.8h1.5v1.5h-1.5zM138.6 317.9h2v2h-2zM183.1 323.4h1.4v1.4h-1.4zM175.2 338h1.3v1.3h-1.3zM141.8 345h1.9v1.9h-1.9zM150.4 336.5h1.3v1.3h-1.3zM150.7 319.3h1.9v1.9h-1.9zM158 319.4h1.6v1.6h-1.6zM159.4 324.6h1.7v1.7h-1.7zM152.2 343.6h1.8v1.8h-1.8zM171.4 351.9h1.8v1.8h-1.8zM123.4 338.5h1.5v1.5h-1.5zM139.8 329.8h1.8v1.8h-1.8zM138.3 354.9h1.3v1.3h-1.3zM155.6 356h2v2h-2zM157.7 337.1h1.4v1.4h-1.4zM132.1 319.1h1.6v1.6h-1.6zM149 331.3h2v2h-2zM138.7 334.5h2v2h-2zM134 350h1.8v1.8h-1.8z" fill="#4444d4"/></g>
<rect x="175.5" y="359" width="9" height="1" fill="#777"/>
<rect x="189.5" y="309.5" width="68" height="52" fill="#fcfcff" stroke="#c6c6c6" stroke-width="1"/>
<path d="M216.4 345.9h1v1h-1zM208.5 314.1h1v1h-1zM254 338.2h1v1h-1zM232.5 338.8h1v1h-1zM221.4 316.1h1v1h-1zM210.7 346.8h1v1h-1zM249.9 354.4h1v1h-1zM252.6 311.3h1v1h-1zM238.7 343.6h1v1h-1zM231.3 341.9h1v1h-1zM198.3 341.3h1v1h-1zM241.9 310.4h1v1h-1zM250.8 316.5h1v1h-1zM214.8 337.5h1v1h-1zM230.1 337.5h1v1h-1zM215.6 354h1v1h-1zM216.2 353.7h1v1h-1zM211.8 341.3h1v1h-1zM246.1 316h1v1h-1zM201.3 346.4h1v1h-1zM198.3 310.9h1v1h-1zM202.6 329.7h1v1h-1zM236.4 345h1v1h-1zM204.1 321.2h1v1h-1zM193.4 311.1h1v1h-1zM198.9 347.6h1v1h-1zM212.5 327.4h1v1h-1zM212.8 322h1v1h-1zM252.1 357.1h1v1h-1zM251.5 346h1v1h-1zM233 338.7h1v1h-1zM217 344.8h1v1h-1zM225.1 347.6h1v1h-1zM238.4 340.9h1v1h-1zM222.2 346.3h1v1h-1zM239.7 345.5h1v1h-1zM200.3 322.6h1v1h-1zM234.3 344.3h1v1h-1zM229.1 343.2h1v1h-1zM250.9 313.6h1v1h-1zM223.7 326.6h1v1h-1zM191.3 344h1v1h-1zM193.2 312h1v1h-1zM207.2 314.1h1v1h-1zM238.2 310.3h1v1h-1zM232.8 326.8h1v1h-1zM254.8 338.9h1v1h-1zM234.1 353h1v1h-1zM204.7 322h1v1h-1zM243.1 359.9h1v1h-1zM223 326.1h1v1h-1zM255.1 316.5h1v1h-1zM196.7 347.8h1v1h-1zM233.1 328.8h1v1h-1zM212.2 335.8h1v1h-1zM248.9 324.7h1v1h-1zM225.6 314.5h1v1h-1zM232.9 330.2h1v1h-1zM203.4 351.8h1v1h-1zM192.7 359.1h1v1h-1zM224.6 352.5h1v1h-1zM242.2 343.5h1v1h-1zM242.3 323.6h1v1h-1zM199.6 312.8h1v1h-1zM192.7 314h1v1h-1zM217 359.5h1v1h-1zM232.8 321.4h1v1h-1zM225 359.3h1v1h-1zM198.8 326.1h1v1h-1zM197.5 317.6h1v1h-1zM206 318.8h1v1h-1zM249.9 343.2h1v1h-1zM223.2 332.6h1v1h-1zM228.3 312.2h1v1h-1zM219.5 316.6h1v1h-1zM255.7 310.6h1v1h-1zM209 332.9h1v1h-1zM211.5 336.7h1v1h-1zM192 357.3h1v1h-1zM207.5 335.3h1v1h-1zM234.5 353.7h1v1h-1zM255.7 322.3h1v1h-1zM210.8 323.3h1v1h-1zM224.8 354.5h1v1h-1zM254.4 347.6h1v1h-1zM200.1 352.6h1v1h-1zM196.9 332.8h1v1h-1zM202.1 338.8h1v1h-1zM212.7 313.1h1v1h-1zM223.8 318.2h1v1h-1zM243 335.3h1v1h-1zM217.9 318.2h1v1h-1zM255.6 324.9h1v1h-1zM229.6 339.3h1v1h-1zM235.1 320.3h1v1h-1zM213.6 358.5h1v1h-1zM254.9 354.2h1v1h-1zM225.7 314.4h1v1h-1zM251.7 358.2h1v1h-1zM237.6 338.6h1v1h-1zM228.9 355.5h1v1h-1zM237 352.4h1v1h-1zM203.8 325.9h1v1h-1zM206.1 341.7h1v1h-1zM227.5 315.5h1v1h-1zM193.3 326.1h1v1h-1zM245.8 346.9h1v1h-1zM215.7 321.5h1v1h-1zM249.2 344.2h1v1h-1zM234.3 358.6h1v1h-1zM222.2 313.3h1v1h-1zM232.4 315h1v1h-1zM199.9 349.7h1v1h-1zM200.4 357.3h1v1h-1zM240 356.5h1v1h-1zM215 326.4h1v1h-1zM254.8 323h1v1h-1zM221.1 359.1h1v1h-1zM191 320.9h1v1h-1zM251.9 320.4h1v1h-1zM235.5 334.3h1v1h-1zM245.3 354h1v1h-1zM226.1 347.2h1v1h-1zM218.2 336.3h1v1h-1zM203.5 343.5h1v1h-1zM255.9 331.3h1v1h-1zM239.6 357.2h1v1h-1zM238.3 352.2h1v1h-1zM199.5 335.6h1v1h-1zM214.4 326.9h1v1h-1zM224 321.2h1v1h-1zM228.4 335.1h1v1h-1zM222.5 349.2h1v1h-1zM241.3 317.4h1v1h-1zM209.7 342.3h1v1h-1zM200.6 359.6h1v1h-1zM204.4 316.9h1v1h-1zM190.4 328.5h1v1h-1zM243.7 318h1v1h-1zM228.7 353.8h1v1h-1zM245.8 347.5h1v1h-1zM202.6 347.1h1v1h-1zM240 337.7h1v1h-1zM217.3 315.7h1v1h-1zM239.3 349.5h1v1h-1zM213.2 341.5h1v1h-1zM200.2 339.5h1v1h-1zM232.5 336.2h1v1h-1zM237.3 327.4h1v1h-1zM201 313.7h1v1h-1zM194.6 319.9h1v1h-1zM239.6 314.4h1v1h-1zM202.8 336.3h1v1h-1zM214.3 325.9h1v1h-1zM221.4 337.7h1v1h-1zM246.4 312.5h1v1h-1zM254.3 329.7h1v1h-1zM199.4 350.8h1v1h-1zM214.8 323h1v1h-1zM226.4 347.4h1v1h-1zM236.2 334.3h1v1h-1zM202.1 346.5h1v1h-1zM254.4 359.6h1v1h-1zM241.9 310.1h1v1h-1zM238.6 334.5h1v1h-1zM230.6 326.2h1v1h-1zM190.2 322.6h1v1h-1zM204.9 345.5h1v1h-1zM225.8 325.2h1v1h-1zM245.2 341.8h1v1h-1zM252.6 352.1h1v1h-1zM197.9 344h1v1h-1zM205.1 333.8h1v1h-1zM208.2 327.3h1v1h-1zM229 335.8h1v1h-1zM212.9 355.8h1v1h-1zM216.1 328.8h1v1h-1zM193 324.4h1v1h-1zM248.9 336.8h1v1h-1zM246 326.9h1v1h-1zM197 346.9h1v1h-1zM192.6 358.4h1v1h-1zM232.5 318.3h1v1h-1zM198.1 314.8h1v1h-1zM200.3 341h1v1h-1zM235.3 345.6h1v1h-1zM240.6 320.3h1v1h-1zM209.7 338.6h1v1h-1zM251.7 322.5h1v1h-1zM209.5 332h1v1h-1zM221.3 342.2h1v1h-1zM198.5 354.3h1v1h-1zM195.1 353.8h1v1h-1zM237.2 327.9h1v1h-1zM200.2 338.9h1v1h-1zM248.4 327.3h1v1h-1zM234.1 339.9h1v1h-1zM203.1 337.6h1v1h-1zM196.4 341.7h1v1h-1zM229.2 344.5h1v1h-1zM226.4 348.7h1v1h-1zM197.5 346.8h1v1h-1zM230.9 310.2h1v1h-1zM235.9 337.2h1v1h-1zM196 339h1v1h-1zM212.5 314.2h1v1h-1zM203.4 320.6h1v1h-1zM195.5 343.5h1v1h-1zM253.9 328.3h1v1h-1zM218.4 311h1v1h-1zM226.3 347.9h1v1h-1zM254.9 318.4h1v1h-1zM229 325.9h1v1h-1zM234.8 334.9h1v1h-1zM244.8 319.9h1v1h-1zM237 313.5h1v1h-1zM236.2 315.8h1v1h-1zM205.1 348.1h1v1h-1zM218.5 359.6h1v1h-1zM217.9 354.8h1v1h-1zM217 356.6h1v1h-1zM223.3 322h1v1h-1zM192.8 346.1h1v1h-1zM231.4 316.5h1v1h-1zM212.8 349h1v1h-1zM228.2 318.4h1v1h-1zM247 334.8h1v1h-1zM190.1 321h1v1h-1zM248.4 314.5h1v1h-1zM238.4 338.3h1v1h-1zM242.3 317.3h1v1h-1zM241.8 348.6h1v1h-1zM227.7 320.8h1v1h-1zM232.3 319.8h1v1h-1zM235.2 357.8h1v1h-1zM200 315.9h1v1h-1zM230.9 354.8h1v1h-1zM204.8 354.7h1v1h-1zM216.6 324.1h1v1h-1zM209 348.4h1v1h-1zM208.1 351.7h1v1h-1zM201.8 320h1v1h-1zM217.3 329.6h1v1h-1zM196.2 349.9h1v1h-1zM205.5 314h1v1h-1zM232.5 315h1v1h-1zM206.4 338.1h1v1h-1zM227.8 312.2h1v1h-1zM255.4 334.7h1v1h-1zM244.1 355.1h1v1h-1zM249.3 322.3h1v1h-1zM251.1 329h1v1h-1zM244.5 345.9h1v1h-1zM238.6 338.8h1v1h-1zM208.5 323.5h1v1h-1zM213.5 338.2h1v1h-1zM194.1 346.6h1v1h-1zM235.3 340h1v1h-1zM208.7 348.6h1v1h-1zM228.6 318.6h1v1h-1zM197.2 346.6h1v1h-1zM201.4 323h1v1h-1zM205.5 335h1v1h-1zM191.1 312.9h1v1h-1zM228.9 317.2h1v1h-1zM245.8 323.8h1v1h-1zM242.8 342.1h1v1h-1zM205.6 317h1v1h-1zM242.3 344.9h1v1h-1zM244.7 354.6h1v1h-1zM226.7 352.7h1v1h-1zM254 351.8h1v1h-1zM238.5 321.2h1v1h-1zM234 328.1h1v1h-1zM196.2 324h1v1h-1zM249.6 328.9h1v1h-1zM250.2 315h1v1h-1zM241.3 319.1h1v1h-1zM234.7 314.4h1v1h-1zM197.2 349h1v1h-1zM233.6 346.1h1v1h-1zM215 345.1h1v1h-1zM242.3 327.9h1v1h-1zM242.2 327.4h1v1h-1zM245.9 353.5h1v1h-1zM199.6 352.4h1v1h-1zM248 338.9h1v1h-1zM217.1 340.6h1v1h-1zM208.1 352.9h1v1h-1zM230.9 319.4h1v1h-1zM196.2 334h1v1h-1zM204.1 320.9h1v1h-1zM247.2 315.4h1v1h-1zM234.2 333.6h1v1h-1zM211.1 345h1v1h-1zM200.6 312.4h1v1h-1zM236.3 324.4h1v1h-1zM238 344.3h1v1h-1zM237.2 325.9h1v1h-1zM242.2 340.6h1v1h-1zM210.8 332.6h1v1h-1zM254.6 313.7h1v1h-1zM196.2 355.8h1v1h-1zM196.9 313.2h1v1h-1zM217.7 311h1v1h-1zM237.3 318.4h1v1h-1zM234.4 327.2h1v1h-1zM210 322.2h1v1h-1zM227.1 354.1h1v1h-1zM216.2 356.6h1v1h-1zM196.6 359.2h1v1h-1zM197.5 313.5h1v1h-1zM211.6 355h1v1h-1zM208.7 359.3h1v1h-1zM234.2 333.5h1v1h-1zM250.6 321.1h1v1h-1zM245.9 342.7h1v1h-1zM243.1 356.4h1v1h-1zM192 355h1v1h-1zM242.4 317.3h1v1h-1zM232.8 332.3h1v1h-1zM230.9 313.5h1v1h-1zM242.2 347.8h1v1h-1zM252.7 328.6h1v1h-1zM246.2 352.7h1v1h-1zM244.3 329.3h1v1h-1zM244.3 323.6h1v1h-1zM209.5 352h1v1h-1zM193.9 327.5h1v1h-1zM234.8 351.6h1v1h-1z" fill="#bcc0ee"/><g filter="url(#soft)"><path d="M193.6 352h1.4v1.4h-1.4zM195.6 355.3h1.5v1.5h-1.5zM203.1 339.6h1.9v1.9h-1.9zM205.8 346.4h1.4v1.4h-1.4zM204.6 337.2h1.4v1.4h-1.4zM252.7 337.2h2v2h-2zM220.7 320.5h1.3v1.3h-1.3zM230.4 358.2h1.4v1.4h-1.4zM212.2 330h1.5v1.5h-1.5zM192.5 335.5h1.4v1.4h-1.4zM194.8 327.6h1.4v1.4h-1.4zM224.7 313.7h2v2h-2zM216.7 337.1h1.7v1.7h-1.7zM235.8 343.8h1.4v1.4h-1.4zM195.4 313.8h1.9v1.9h-1.9zM254.4 339.7h1.7v1.7h-1.7zM209.3 339.8h1.4v1.4h-1.4zM244.9 324.2h1.8v1.8h-1.8zM197.3 311.4h1.4v1.4h-1.4zM244.7 329.8h1.9v1.9h-1.9zM190.7 320.6h1.5v1.5h-1.5z" fill="#2a2eb8"/><path d="M196.9 348.4h1.5v1.5h-1.5zM211.2 331h1.5v1.5h-1.5zM220.2 321.5h1.5v1.5h-1.5zM218.2 317.8h1.7v1.7h-1.7zM230.1 358.5h1.5v1.5h-1.5zM230 358.2h1.4v1.4h-1.4zM230.5 358.4h1.5v1.5h-1.5zM219 326.5h1.6v1.6h-1.6zM201.8 327h1.6v1.6h-1.6zM229.7 342.6h1.7v1.7h-1.7zM221.2 314.1h1.3v1.3h-1.3zM239 311h1.5v1.5h-1.5zM221.2 332.8h1.8v1.8h-1.8zM194.4 325.1h1.5v1.5h-1.5zM214.3 318.5h1.5v1.5h-1.5zM223.3 345.6h1.3v1.3h-1.3zM254.5 316.4h1.9v1.9h-1.9zM245.5 340.6h1.3v1.3h-1.3zM228.1 313.8h2v2h-2zM235.9 340.6h1.6v1.6h-1.6zM245.1 313.7h1.5v1.5h-1.5z" fill="#3236c8"/><path d="M193.6 345.9h1.7v1.7h-1.7zM201.5 335.6h1.5v1.5h-1.5zM199.8 337.3h1.7v1.7h-1.7zM206.4 326h1.9v1.9h-1.9zM231.3 324.7h1.6v1.6h-1.6zM227.1 317.4h1.3v1.3h-1.3zM229.9 318.8h1.7v1.7h-1.7zM213.4 333.1h2v2h-2zM203.7 313.1h1.9v1.9h-1.9zM233.6 327.1h1.7v1.7h-1.7zM202.3 323.8h1.6v1.6h-1.6zM191.7 343h1.8v1.8h-1.8zM252.3 321.8h1.6v1.6h-1.6zM215.8 317.9h1.4v1.4h-1.4zM231.8 312.4h1.8v1.8h-1.8zM249.3 350.5h1.4v1.4h-1.4zM243.5 323.2h1.5v1.5h-1.5zM206.4 335.2h1.9v1.9h-1.9zM246.7 340.5h1.4v1.4h-1.4z" fill="#4444d4"/></g>
<rect x="246.5" y="359" width="9" height="1" fill="#777"/>
<rect x="377.5" y="309.5" width="68" height="52" fill="#fcfcff" stroke="#c6c6c6" stroke-width="1"/>
<path d="M405.7 356.3h1v1h-1zM396.1 313h1v1h-1zM398.5 345.9h1v1h-1zM429.5 336.9h1v1h-1zM398.6 355.8h1v1h-1zM439.3 331.8h1v1h-1zM405 340.7h1v1h-1zM425.1 341h1v1h-1zM406.6 332.1h1v1h-1zM420.6 355.9h1v1h-1zM381.2 314.5h1v1h-1zM428.3 333h1v1h-1zM429.3 337h1v1h-1zM408.5 357.7h1v1h-1zM402.3 342.4h1v1h-1zM413.9 315.6h1v1h-1zM389.1 350.9h1v1h-1zM412.5 343.9h1v1h-1zM408 352.5h1v1h-1zM434.2 331.5h1v1h-1zM386.5 351.5h1v1h-1zM410.9 337.8h1v1h-1zM411.5 311.8h1v1h-1zM411.8 314.8h1v1h-1zM382.1 351.4h1v1h-1zM387.4 346.1h1v1h-1zM407 335.1h1v1h-1zM411.5 318.4h1v1h-1zM382.2 341.9h1v1h-1zM384.8 313.3h1v1h-1zM381 340.2h1v1h-1zM440.4 337h1v1h-1zM379 339h1v1h-1zM409.6 344.4h1v1h-1zM385.8 343.7h1v1h-1zM439.5 320.9h1v1h-1zM440.7 340.2h1v1h-1zM433.7 320.4h1v1h-1zM403.6 353.6h1v1h-1zM432.9 339.4h1v1h-1zM426.8 338.5h1v1h-1zM407.5 325.4h1v1h-1zM410.9 335.9h1v1h-1zM409.9 310.5h1v1h-1zM442.7 359.5h1v1h-1zM425 319.2h1v1h-1zM435.7 322.5h1v1h-1zM380.5 319.2h1v1h-1zM430.1 353.5h1v1h-1zM441.6 350.2h1v1h-1zM398.2 337.7h1v1h-1zM424.2 312.8h1v1h-1zM383.6 345.7h1v1h-1zM400.6 314.6h1v1h-1zM411.1 314.6h1v1h-1zM422.4 314.2h1v1h-1zM442.4 351.1h1v1h-1zM391.4 317.7h1v1h-1zM424.9 321.7h1v1h-1zM435.2 347.6h1v1h-1zM431 329.1h1v1h-1zM431.5 356h1v1h-1zM435.7 324.3h1v1h-1zM390.9 315h1v1h-1zM392.5 340.4h1v1h-1zM398.4 333.8h1v1h-1zM437.2 339.3h1v1h-1zM406.2 314.7h1v1h-1zM420.4 331.3h1v1h-1zM387.6 340.4h1v1h-1zM418 356.8h1v1h-1zM379.5 316.8h1v1h-1zM399.7 318.2h1v1h-1zM383.6 314.1h1v1h-1zM415.8 335.1h1v1h-1zM385.2 319.9h1v1h-1zM390.4 334.7h1v1h-1zM411.6 344h1v1h-1zM422.9 355h1v1h-1zM404 317.2h1v1h-1zM421.7 359.4h1v1h-1zM395.1 341.3h1v1h-1zM397.6 327.3h1v1h-1zM405 318.2h1v1h-1zM396.4 340.8h1v1h-1zM427.5 344.2h1v1h-1zM438.3 335.6h1v1h-1zM424.1 322.2h1v1h-1zM380.5 340.9h1v1h-1zM379.3 316.5h1v1h-1zM386.1 329.9h1v1h-1zM388.4 357.6h1v1h-1zM415.5 339.9h1v1h-1zM438.1 348.4h1v1h-1zM442.4 334.1h1v1h-1zM435.6 358.4h1v1h-1zM419 357.9h1v1h-1zM429.4 316.9h1v1h-1zM432.3 356.5h1v1h-1zM426.1 325.1h1v1h-1zM402.3 335.2h1v1h-1zM396.7 323.4h1v1h-1zM437.8 344.6h1v1h-1zM378.7 328h1v1h-1zM410.3 346.2h1v1h-1zM392.7 349.2h1v1h-1zM386.1 342.8h1v1h-1zM392.4 334.6h1v1h-1zM392.2 345.9h1v1h-1zM388.5 320h1v1h-1zM381.4 354.8h1v1h-1zM416.4 320h1v1h-1zM426.7 326.3h1v1h-1zM398.1 352.3h1v1h-1zM423.7 311.4h1v1h-1zM388.1 350.1h1v1h-1zM414 354h1v1h-1zM392.1 324.3h1v1h-1zM378.9 323.4h1v1h-1zM387.1 347.6h1v1h-1zM422.5 314.3h1v1h-1zM440.4 332.8h1v1h-1zM442 321.6h1v1h-1zM443.3 342.9h1v1h-1zM439.3 347.1h1v1h-1zM430.2 315.5h1v1h-1zM421.3 320.2h1v1h-1zM395.4 339h1v1h-1zM433.1 358.3h1v1h-1zM402.4 327.5h1v1h-1zM385.6 326.5h1v1h-1zM418.2 335.2h1v1h-1zM420.5 350.3h1v1h-1zM421.6 322.2h1v1h-1zM408.5 357.9h1v1h-1zM415.3 333.1h1v1h-1zM407 349.3h1v1h-1zM389.7 345.7h1v1h-1zM400.8 355h1v1h-1zM416.3 323.9h1v1h-1zM402.6 336.9h1v1h-1zM388.6 335.7h1v1h-1zM419.1 359.1h1v1h-1zM411.4 353.1h1v1h-1zM434 318.9h1v1h-1zM433.4 356.4h1v1h-1zM403.9 311.8h1v1h-1zM410.6 328.8h1v1h-1zM432.3 335.4h1v1h-1zM386 341.4h1v1h-1zM440.9 350.7h1v1h-1zM381.9 317.3h1v1h-1zM409.6 346.4h1v1h-1zM412.8 328h1v1h-1zM379.4 338.7h1v1h-1zM402.1 353.4h1v1h-1zM378.9 316.1h1v1h-1zM389.7 316h1v1h-1zM424.1 352.3h1v1h-1zM391.2 331.7h1v1h-1zM439 345.8h1v1h-1zM434.6 350.4h1v1h-1zM434.1 328.8h1v1h-1zM430.4 353.1h1v1h-1zM434.8 323.4h1v1h-1zM401.5 315.8h1v1h-1zM427.8 316.8h1v1h-1zM427.5 322.4h1v1h-1zM407.1 334h1v1h-1zM401.3 314.7h1v1h-1zM432.9 320.8h1v1h-1zM387.4 331.8h1v1h-1zM414.8 323.4h1v1h-1zM417.1 330.3h1v1h-1zM421.3 343.1h1v1h-1zM398.4 316.5h1v1h-1zM414.4 323.4h1v1h-1zM395.1 341.9h1v1h-1zM416.6 312.3h1v1h-1zM382 345h1v1h-1zM434 359.5h1v1h-1zM385.5 340.5h1v1h-1zM408.3 348.8h1v1h-1zM417.9 315.4h1v1h-1zM428.8 324.5h1v1h-1zM397 330.9h1v1h-1zM393.4 351.4h1v1h-1zM395.4 319h1v1h-1zM411.6 335.3h1v1h-1zM391.1 351.3h1v1h-1zM381.6 346.4h1v1h-1zM383.5 347.6h1v1h-1zM432.3 320.7h1v1h-1zM407.6 333.4h1v1h-1zM409.2 335.5h1v1h-1zM422.1 356.5h1v1h-1zM426.3 354.2h1v1h-1zM411.8 316.4h1v1h-1zM398.6 334.5h1v1h-1zM412 344.2h1v1h-1zM420.4 340.1h1v1h-1zM404.9 325.7h1v1h-1zM382.7 320h1v1h-1zM426.2 352.4h1v1h-1zM404.9 320.1h1v1h-1zM426.6 325.1h1v1h-1zM412.3 340.2h1v1h-1zM407.1 344.7h1v1h-1zM437.1 311.1h1v1h-1zM398.6 331.9h1v1h-1zM406.6 314h1v1h-1zM431.2 337.6h1v1h-1zM441.8 319.4h1v1h-1zM442.7 339.9h1v1h-1zM395.1 317.9h1v1h-1zM434.5 349.9h1v1h-1zM438.9 350.8h1v1h-1zM437 347.7h1v1h-1zM443.8 322.7h1v1h-1zM440.5 310.4h1v1h-1zM413.7 319.4h1v1h-1zM438.4 337.2h1v1h-1zM399 338.6h1v1h-1zM442.2 341.1h1v1h-1zM442.1 313.1h1v1h-1zM426 331.6h1v1h-1zM426.5 311.2h1v1h-1zM392.2 352.8h1v1h-1zM438.8 315.4h1v1h-1zM391.4 356.1h1v1h-1zM441.1 347.5h1v1h-1zM419.3 355.3h1v1h-1zM378.7 342.6h1v1h-1zM384.7 327.7h1v1h-1zM398 336.4h1v1h-1zM392.9 327.6h1v1h-1zM382.5 358.9h1v1h-1zM415 338.5h1v1h-1zM430.3 340.5h1v1h-1zM396.6 345.3h1v1h-1zM406.1 332h1v1h-1zM386.4 344.4h1v1h-1zM406.9 320.8h1v1h-1zM429.3 319.6h1v1h-1zM387.4 345.3h1v1h-1zM440.8 356.7h1v1h-1zM440.2 323.2h1v1h-1zM400.3 339.6h1v1h-1zM404.9 358.5h1v1h-1zM415.8 313.8h1v1h-1zM402.3 355.2h1v1h-1zM430 321.5h1v1h-1zM385.5 342.2h1v1h-1zM427.5 331h1v1h-1zM385.7 346.9h1v1h-1zM381 342.3h1v1h-1zM388 334.1h1v1h-1zM430 355.2h1v1h-1zM420.3 311h1v1h-1zM436.8 341h1v1h-1zM391.6 352h1v1h-1zM424.9 326.3h1v1h-1zM386.5 358.5h1v1h-1zM393.9 338.8h1v1h-1zM412.9 329.8h1v1h-1zM386.5 331.1h1v1h-1zM427.2 316.2h1v1h-1zM443.1 323.7h1v1h-1zM389.9 327h1v1h-1zM410.7 343.7h1v1h-1zM426.3 355.7h1v1h-1zM400.9 352.1h1v1h-1zM436 344.4h1v1h-1zM443.8 325.7h1v1h-1zM402.2 353.2h1v1h-1zM435.5 347.3h1v1h-1zM417.7 317.9h1v1h-1zM399 326h1v1h-1zM440.1 345.7h1v1h-1zM388 316.2h1v1h-1zM400.2 340.2h1v1h-1zM436.8 353.9h1v1h-1zM402.6 310.7h1v1h-1zM420.9 321.7h1v1h-1zM414.7 339.3h1v1h-1zM391.6 311.8h1v1h-1zM437.2 357.9h1v1h-1zM420.6 357.2h1v1h-1zM407.4 320.3h1v1h-1zM425.9 352.4h1v1h-1zM401.4 352.7h1v1h-1zM388.9 340.1h1v1h-1zM434 313h1v1h-1zM387.8 347.9h1v1h-1zM389.5 336.5h1v1h-1zM387.3 331h1v1h-1zM403.2 356h1v1h-1zM443 328.3h1v1h-1zM426 343.9h1v1h-1zM430.3 330.9h1v1h-1zM441.5 354.8h1v1h-1zM402.7 354.4h1v1h-1zM391.8 318.1h1v1h-1zM404.3 333.3h1v1h-1zM429 331.9h1v1h-1zM409.7 347.2h1v1h-1zM405 320.1h1v1h-1zM406.9 330.9h1v1h-1zM422 332h1v1h-1zM417.4 310.4h1v1h-1zM422.9 346.2h1v1h-1zM407.7 335.8h1v1h-1zM405.6 328.9h1v1h-1zM420.7 353.1h1v1h-1zM409.7 346.2h1v1h-1zM397.7 355.1h1v1h-1zM428.1 316.2h1v1h-1zM410.1 352.8h1v1h-1zM384.1 337.1h1v1h-1zM431.1 348.5h1v1h-1zM404.2 328.1h1v1h-1zM396.5 313.5h1v1h-1zM427.1 321h1v1h-1zM404.7 350.3h1v1h-1zM422.9 346.9h1v1h-1zM429.1 349h1v1h-1zM392.8 324.4h1v1h-1zM440.7 352.4h1v1h-1zM433.7 327.1h1v1h-1zM417.6 339.7h1v1h-1zM412.7 346.9h1v1h-1zM411 358.8h1v1h-1zM403.9 318.7h1v1h-1zM385 322.8h1v1h-1zM383.4 347h1v1h-1zM389.7 329.5h1v1h-1zM398.6 359.6h1v1h-1zM402.5 324.9h1v1h-1zM392.5 343.5h1v1h-1zM388.3 321.3h1v1h-1zM384.7 321.1h1v1h-1zM432.1 341.4h1v1h-1zM403.3 317.2h1v1h-1zM424 335.5h1v1h-1zM387.5 353.2h1v1h-1zM394.8 315.4h1v1h-1zM407.8 331.2h1v1h-1zM379.4 332.9h1v1h-1zM430.4 314.9h1v1h-1zM416.4 318.2h1v1h-1zM428.5 340.2h1v1h-1zM425.7 324.3h1v1h-1zM392.4 314.2h1v1h-1zM386.7 351.2h1v1h-1zM439.2 321.3h1v1h-1zM410.2 318.5h1v1h-1zM396.2 326.1h1v1h-1zM381.5 325.4h1v1h-1zM411 330.8h1v1h-1zM437.9 344.7h1v1h-1zM383.6 359h1v1h-1zM416.9 329.5h1v1h-1zM405.9 340.8h1v1h-1zM421 342.2h1v1h-1zM439.8 323.3h1v1h-1zM434.5 326.2h1v1h-1zM442.9 341.2h1v1h-1zM390.6 333.3h1v1h-1zM443.3 354.9h1v1h-1zM430.4 322h1v1h-1zM405.1 318.9h1v1h-1zM388.9 338h1v1h-1zM393.9 348.1h1v1h-1zM407 329.7h1v1h-1zM412.6 359.4h1v1h-1zM382.4 352.8h1v1h-1zM409.8 329.5h1v1h-1zM386.5 340.7h1v1h-1zM413.4 355.8h1v1h-1zM439 316.5h1v1h-1zM432.6 355.8h1v1h-1zM396.2 317.6h1v1h-1zM430 350.7h1v1h-1zM401.5 316.5h1v1h-1zM392.5 329.5h1v1h-1zM378.9 317.1h1v1h-1zM395.6 355.7h1v1h-1zM408.7 354.6h1v1h-1zM412.2 359.4h1v1h-1zM415.5 336.4h1v1h-1zM441.1 344.5h1v1h-1zM400 348.8h1v1h-1zM441.3 357.4h1v1h-1zM430 322.7h1v1h-1zM408 352.9h1v1h-1zM436.3 315.3h1v1h-1zM382.5 313.8h1v1h-1zM406.7 334.6h1v1h-1zM397.4 348.7h1v1h-1zM419.4 323.8h1v1h-1zM385.8 338.5h1v1h-1zM439.9 332.1h1v1h-1zM394.4 323h1v1h-1zM434.8 344.7h1v1h-1zM438.7 335.2h1v1h-1zM421.7 330.2h1v1h-1zM438 342.7h1v1h-1zM426.6 329.4h1v1h-1zM386.4 331.4h1v1h-1zM384.9 329.1h1v1h-1zM379.1 337.6h1v1h-1zM383.1 337.1h1v1h-1zM426.5 343.8h1v1h-1zM423.3 314.9h1v1h-1zM426 321.2h1v1h-1zM410.9 332.3h1v1h-1zM416.6 316.9h1v1h-1zM419 320h1v1h-1zM410.4 347h1v1h-1zM431.7 317h1v1h-1zM400.8 349.2h1v1h-1zM427 351.7h1v1h-1zM415.9 326.8h1v1h-1zM404.7 348.2h1v1h-1zM412.9 317.9h1v1h-1zM440.2 349.2h1v1h-1zM385.1 341.5h1v1h-1zM399.2 359.3h1v1h-1zM413.9 315.5h1v1h-1zM436.7 326.2h1v1h-1zM436.1 334.8h1v1h-1zM407.2 315.8h1v1h-1zM443.7 348.4h1v1h-1zM381.3 311.6h1v1h-1zM399 335.3h1v1h-1zM440.8 355h1v1h-1zM415.7 311.8h1v1h-1zM399.1 352.6h1v1h-1zM401.7 352.1h1v1h-1zM427.3 311.2h1v1h-1zM392.9 342h1v1h-1zM422.1 311.1h1v1h-1zM427.8 327.8h1v1h-1zM401.2 356.7h1v1h-1zM418.5 313.6h1v1h-1zM442.5 354.6h1v1h-1zM443.1 358.3h1v1h-1zM438.3 311.7h1v1h-1zM428.6 346.2h1v1h-1zM379.7 348.3h1v1h-1zM411.7 338.2h1v1h-1zM381 336.5h1v1h-1zM428 336.9h1v1h-1zM386.2 328.2h1v1h-1zM410.9 319.5h1v1h-1zM438.8 338h1v1h-1zM442.8 329.8h1v1h-1zM406.8 320.1h1v1h-1zM435.6 331.8h1v1h-1zM411.3 340.5h1v1h-1zM390.8 357.5h1v1h-1zM382 348.2h1v1h-1zM425.5 342.6h1v1h-1zM424.9 318.5h1v1h-1zM437.1 337.3h1v1h-1zM443.8 340.5h1v1h-1zM428.7 316.4h1v1h-1zM414.4 326.8h1v1h-1zM411.5 336.3h1v1h-1zM441.7 324.2h1v1h-1zM395.4 339.9h1v1h-1zM437 340.2h1v1h-1zM432 358.8h1v1h-1zM433 350.2h1v1h-1zM438.1 347.7h1v1h-1zM389.5 324.3h1v1h-1zM412.5 356.7h1v1h-1zM443.7 346.7h1v1h-1zM402.4 314.4h1v1h-1zM406.3 355h1v1h-1zM378.8 323.9h1v1h-1zM415.4 313.5h1v1h-1zM437.1 313.6h1v1h-1zM397.6 311.8h1v1h-1zM431.9 321.1h1v1h-1zM378.4 331.4h1v1h-1zM437.5 322.8h1v1h-1zM417.8 327h1v1h-1zM397.1 344.8h1v1h-1zM383.5 354.7h1v1h-1zM425 353.6h1v1h-1zM391.8 314.6h1v1h-1zM429.9 347h1v1h-1zM405.5 317.1h1v1h-1zM390.4 349.5h1v1h-1zM443.3 317.7h1v1h-1zM409.6 345.4h1v1h-1zM435.2 353.5h1v1h-1zM386.9 317.5h1v1h-1zM421.6 337.1h1v1h-1zM403.9 342h1v1h-1zM437.3 333.4h1v1h-1zM395.8 341.4h1v1h-1zM383.9 330.7h1v1h-1zM393 320h1v1h-1zM426.5 333.4h1v1h-1zM380.2 349.6h1v1h-1zM434.9 310.2h1v1h-1zM429.2 343.5h1v1h-1zM422 327.1h1v1h-1zM415.2 322.1h1v1h-1zM417.6 310.5h1v1h-1zM393.4 325.7h1v1h-1zM441.7 333h1v1h-1zM420.1 328.9h1v1h-1zM379.6 330.1h1v1h-1zM385.9 351h1v1h-1zM442.6 339.4h1v1h-1zM428.3 310.3h1v1h-1zM396.3 329.4h1v1h-1zM412.3 330.6h1v1h-1zM397.6 330.6h1v1h-1zM386.5 346h1v1h-1zM424.8 350.8h1v1h-1zM393.7 350.4h1v1h-1zM381.8 331.8h1v1h-1zM421.1 325.6h1v1h-1zM409.6 330.9h1v1h-1zM423.3 334.8h1v1h-1zM401.8 331.8h1v1h-1zM419.2 355.7h1v1h-1zM423.8 312.7h1v1h-1zM388.5 344.6h1v1h-1zM402.8 310.6h1v1h-1zM418.8 317.2h1v1h-1zM395.8 342.2h1v1h-1zM393.7 319.2h1v1h-1zM440.8 341h1v1h-1zM434.8 318.3h1v1h-1zM434.7 314.7h1v1h-1zM396 359.5h1v1h-1zM385.6 355.9h1v1h-1zM402.9 356.8h1v1h-1zM384.4 347.5h1v1h-1zM407.3 315.9h1v1h-1zM435.2 317.7h1v1h-1zM421.7 310.9h1v1h-1zM443.8 343.1h1v1h-1zM432 357.8h1v1h-1zM385.4 322.9h1v1h-1z" fill="#c4ace0"/><g filter="url(#soft)"><path d="M421.6 349.5h1.2v1.2h-1.2zM425.1 347.7h1.2v1.2h-1.2zM433.5 346.3h1.7v1.7h-1.7zM430.9 346.4h1.5v1.5h-1.5zM422.6 337.8h1.6v1.6h-1.6zM436.5 343.7h1.7v1.7h-1.7zM423.3 338.9h1.6v1.6h-1.6zM383.6 347.7h1.2v1.2h-1.2zM379.3 342.2h1.8v1.8h-1.8zM381.7 313.5h1.2v1.2h-1.2zM382.1 322.9h1.3v1.3h-1.3zM383.2 313.2h1.4v1.4h-1.4zM416.2 348.4h1.5v1.5h-1.5zM416.1 349.2h1.4v1.4h-1.4zM412 349h1.7v1.7h-1.7zM427.4 350.8h1.6v1.6h-1.6zM406.4 350.2h1.5v1.5h-1.5zM405.9 311.7h1.6v1.6h-1.6zM399.8 324.3h1.8v1.8h-1.8zM409.2 326.9h1.4v1.4h-1.4zM384.8 320.7h1.6v1.6h-1.6zM383.2 343.7h1.5v1.5h-1.5zM380.9 339.7h1.7v1.7h-1.7zM385.6 344.5h1.6v1.6h-1.6zM383.9 341.6h1.3v1.3h-1.3zM439.6 347.8h1.4v1.4h-1.4zM415.8 342.1h1.1v1.1h-1.1zM416.2 316.2h1.1v1.1h-1.1zM415.1 317.9h1.7v1.7h-1.7zM410.9 315.1h1.4v1.4h-1.4zM408.4 313.2h1.6v1.6h-1.6zM415.5 324h1.2v1.2h-1.2zM415 325.6h1.4v1.4h-1.4zM432.5 327.5h1.6v1.6h-1.6zM431.9 322.3h1.4v1.4h-1.4zM434.5 313.7h1.4v1.4h-1.4zM423.8 323.3h1.8v1.8h-1.8zM427.5 353.1h1.1v1.1h-1.1zM429.7 357.1h1.7v1.7h-1.7zM422.7 335.8h1.2v1.2h-1.2zM425.5 342.3h1.8v1.8h-1.8zM423.8 339.1h1.7v1.7h-1.7zM424.2 336.8h1.7v1.7h-1.7zM437.8 319.6h1.3v1.3h-1.3zM437.6 311.7h1.3v1.3h-1.3zM438.3 321.2h1.7v1.7h-1.7zM437.4 313.5h1.5v1.5h-1.5zM437 312.4h1.3v1.3h-1.3zM442.3 340.1h1.3v1.3h-1.3zM437.6 330.4h1.6v1.6h-1.6zM383.5 312.3h1.5v1.5h-1.5zM383 310.9h1.4v1.4h-1.4zM389.7 326.3h1.7v1.7h-1.7zM431.8 330h1.7v1.7h-1.7zM431.2 327.2h1.2v1.2h-1.2zM415.2 341.6h1.2v1.2h-1.2zM381.3 346.6h1.5v1.5h-1.5zM380.8 341.7h1.1v1.1h-1.1zM379.8 357.1h1.7v1.7h-1.7zM392.1 328.6h1.5v1.5h-1.5zM397.1 330.8h1.1v1.1h-1.1zM416.1 315.9h1.1v1.1h-1.1zM380.4 346.1h1.1v1.1h-1.1zM426.1 342.8h1.4v1.4h-1.4zM404.4 340.9h1.7v1.7h-1.7zM431.2 343.2h1.4v1.4h-1.4zM416.7 338.9h1.3v1.3h-1.3zM432.1 320.9h1.5v1.5h-1.5zM419.8 312.1h1.7v1.7h-1.7zM426.9 350.1h1.7v1.7h-1.7zM382 356h1.2v1.2h-1.2z" fill="#5c2aa4"/><path d="M428.6 346.7h1.3v1.3h-1.3zM429.8 347.1h1.7v1.7h-1.7zM435.6 345.6h1.1v1.1h-1.1zM413.2 328h1.2v1.2h-1.2zM417.2 329h1.4v1.4h-1.4zM420.3 338.8h1.2v1.2h-1.2zM415.5 328.7h1.8v1.8h-1.8zM427.3 339.4h1.5v1.5h-1.5zM424.1 339.5h1.4v1.4h-1.4zM382.1 343.9h1.6v1.6h-1.6zM384.6 347.9h1.2v1.2h-1.2zM382.8 350.8h1.1v1.1h-1.1zM420.8 340.4h1.3v1.3h-1.3zM441.2 330.4h1.3v1.3h-1.3zM435 335.3h1.3v1.3h-1.3zM381.8 314.5h1.1v1.1h-1.1zM429 351.6h1.5v1.5h-1.5zM417.8 347.6h1.5v1.5h-1.5zM410.2 355.9h1.8v1.8h-1.8zM407.3 352.2h1.5v1.5h-1.5zM411.5 354.1h1.7v1.7h-1.7zM405.5 313.6h1.3v1.3h-1.3zM397.1 323.6h1.2v1.2h-1.2zM405 324.5h1.1v1.1h-1.1zM409.1 326.1h1.2v1.2h-1.2zM382.1 342.8h1.2v1.2h-1.2zM441 347.5h1.2v1.2h-1.2zM428.4 343.7h1.5v1.5h-1.5zM433.9 343.7h1.3v1.3h-1.3zM408.6 315.3h1.7v1.7h-1.7zM412.4 314.4h1.4v1.4h-1.4zM408 312.6h1.5v1.5h-1.5zM410.5 314.8h1.2v1.2h-1.2zM405.3 310.5h1.7v1.7h-1.7zM414 327.4h1.2v1.2h-1.2zM430.3 319h1.6v1.6h-1.6zM426 322.1h1.2v1.2h-1.2zM434.2 322.1h1.5v1.5h-1.5zM435.4 317.7h1.3v1.3h-1.3zM433.7 324.9h1.4v1.4h-1.4zM420.5 323.1h1.6v1.6h-1.6zM427.5 353.3h1.3v1.3h-1.3zM423.9 328h1.3v1.3h-1.3zM436.7 335.2h1.7v1.7h-1.7zM382.6 311.3h1.3v1.3h-1.3zM381.2 313.6h1.1v1.1h-1.1zM382.7 313h1.5v1.5h-1.5zM396.1 344.9h1.5v1.5h-1.5zM395.6 342.2h1.1v1.1h-1.1zM390 327.4h1.5v1.5h-1.5zM393.2 337.1h1.3v1.3h-1.3zM435.3 335.5h1.2v1.2h-1.2zM434.7 336.9h1.3v1.3h-1.3zM432.9 339.8h1.7v1.7h-1.7zM429.8 328.5h1.5v1.5h-1.5zM430.2 313.8h1.6v1.6h-1.6zM430.1 325.1h1.8v1.8h-1.8zM430.1 316.4h1.7v1.7h-1.7zM438.9 341.1h1.1v1.1h-1.1zM441.4 336.7h1.1v1.1h-1.1zM427.8 350.7h1.3v1.3h-1.3zM420.7 345.8h1.7v1.7h-1.7zM430.1 352.7h1.6v1.6h-1.6zM428 352.9h1.6v1.6h-1.6zM418.9 343.5h1.4v1.4h-1.4zM431.8 353.9h1.4v1.4h-1.4zM423.4 347.3h1.2v1.2h-1.2zM401.6 330.1h1.7v1.7h-1.7zM380.6 345h1.7v1.7h-1.7zM381.5 345.3h1.3v1.3h-1.3zM381 353.6h1.8v1.8h-1.8zM380.2 352.3h1.2v1.2h-1.2zM400.5 334.4h1.5v1.5h-1.5zM406.8 341.6h1.4v1.4h-1.4zM412.8 352.3h1.3v1.3h-1.3zM432.2 358.6h1.3v1.3h-1.3zM395.1 340.2h1.4v1.4h-1.4zM443.1 335.6h1.2v1.2h-1.2zM392.4 314.5h1.5v1.5h-1.5zM435.2 319.4h1.7v1.7h-1.7zM397 349.9h1.7v1.7h-1.7zM428.3 330.7h1.2v1.2h-1.2zM406.6 316.3h1.2v1.2h-1.2zM399.9 316.7h1.3v1.3h-1.3zM408.6 320.7h1.7v1.7h-1.7zM441.7 327.1h1.4v1.4h-1.4zM407.7 336.9h1.6v1.6h-1.6z" fill="#7a3cb8"/><path d="M426.3 348.9h1.1v1.1h-1.1zM432.6 344.7h1.3v1.3h-1.3zM430.5 346.9h1.1v1.1h-1.1zM418.4 331.8h1.7v1.7h-1.7zM416.9 328.2h1.6v1.6h-1.6zM419.2 332.1h1.6v1.6h-1.6zM426.8 339.6h1.6v1.6h-1.6zM435 345.3h1.5v1.5h-1.5zM384.3 350.7h1.7v1.7h-1.7zM381.8 344h1.3v1.3h-1.3zM381.7 345.7h1.8v1.8h-1.8zM384.3 350.1h1.4v1.4h-1.4zM381.6 347.5h1.2v1.2h-1.2zM426.2 336.3h1.2v1.2h-1.2zM380.9 311.4h1.1v1.1h-1.1zM418.5 349.4h1.3v1.3h-1.3zM423 351h1.1v1.1h-1.1zM410.6 356h1.6v1.6h-1.6zM412.9 357.9h1.7v1.7h-1.7zM407.9 354.3h1.3v1.3h-1.3zM406.4 313.2h1.1v1.1h-1.1zM397 324.9h1.3v1.3h-1.3zM386.6 346.1h1.7v1.7h-1.7zM422.2 344h1.3v1.3h-1.3zM436.1 346.3h1.7v1.7h-1.7zM409.1 313.6h1.5v1.5h-1.5zM432.8 324h1.6v1.6h-1.6zM430.9 331h1.4v1.4h-1.4zM430 329.3h1.5v1.5h-1.5zM430.3 329.8h1.6v1.6h-1.6zM431.8 326.4h1.2v1.2h-1.2zM430.9 328h1.4v1.4h-1.4zM437.7 315.3h1.2v1.2h-1.2zM426 322.4h1.5v1.5h-1.5zM416 326.6h1.8v1.8h-1.8zM419.8 324.5h1.2v1.2h-1.2zM427.6 317.5h1.7v1.7h-1.7zM437.9 312.6h1.7v1.7h-1.7zM422.3 323.4h1.2v1.2h-1.2zM424 320.3h1.2v1.2h-1.2zM425.7 349.3h1.7v1.7h-1.7zM422.2 345.9h1.2v1.2h-1.2zM420.8 340.5h1.5v1.5h-1.5zM428.8 358.1h1.6v1.6h-1.6zM423.1 347h1.5v1.5h-1.5zM417.7 336.4h1.4v1.4h-1.4zM426.9 354.8h1.7v1.7h-1.7zM423.5 330.9h1.7v1.7h-1.7zM422.2 319.2h1.6v1.6h-1.6zM422.5 331.8h1.5v1.5h-1.5zM424.5 334.9h1.3v1.3h-1.3zM435.6 312.6h1.1v1.1h-1.1zM436.2 327.6h1.3v1.3h-1.3zM390.8 333.7h1.8v1.8h-1.8zM391.7 331.7h1.2v1.2h-1.2zM397.2 344.8h1.8v1.8h-1.8zM433 339.9h1.4v1.4h-1.4zM433.7 337.1h1.7v1.7h-1.7zM431.5 320.8h1.3v1.3h-1.3zM430.2 316.5h1.5v1.5h-1.5zM440.5 333.5h1.6v1.6h-1.6zM434.8 346.6h1.1v1.1h-1.1zM431 353.9h1.4v1.4h-1.4zM422.1 347h1.5v1.5h-1.5zM420.3 346.6h1.3v1.3h-1.3zM424.4 348.6h1.1v1.1h-1.1zM382.2 345h1.6v1.6h-1.6zM381.9 344.6h1.4v1.4h-1.4zM396.4 331.7h1.7v1.7h-1.7zM397.9 333.5h1.5v1.5h-1.5zM398.3 331.4h1.7v1.7h-1.7zM389.7 324.7h1.7v1.7h-1.7zM431.6 350.8h1.7v1.7h-1.7zM434.4 354h1.6v1.6h-1.6zM419.3 336.4h1.6v1.6h-1.6zM413.7 359.1h1.5v1.5h-1.5zM398.1 337.1h1.4v1.4h-1.4zM407.2 357h1.7v1.7h-1.7zM387.9 316.1h1.6v1.6h-1.6zM435 318.5h1.8v1.8h-1.8zM391.8 311.1h1.3v1.3h-1.3zM413.2 353.2h1.6v1.6h-1.6zM433.4 331.5h1.6v1.6h-1.6zM423.4 354.3h1.2v1.2h-1.2zM431.8 356.7h1.7v1.7h-1.7z" fill="#a46ad0"/><path d="M433.9 345h1.7v1.7h-1.7zM434.4 345.1h1.8v1.8h-1.8zM413.9 325.8h1.3v1.3h-1.3zM417.1 330h1.2v1.2h-1.2zM427.3 341h1.6v1.6h-1.6zM425.7 339.2h1.3v1.3h-1.3zM419 337h1.2v1.2h-1.2zM431.5 343.1h1.3v1.3h-1.3zM430.4 340.4h1.5v1.5h-1.5zM387.1 355h1.5v1.5h-1.5zM428.6 337.8h1.6v1.6h-1.6zM440.5 328.7h1.4v1.4h-1.4zM380.2 313.6h1.5v1.5h-1.5zM404.3 349.9h1.4v1.4h-1.4zM412.2 358.9h1.5v1.5h-1.5zM402.3 316.5h1.5v1.5h-1.5zM401 323.5h1.3v1.3h-1.3zM387.9 321.9h1.5v1.5h-1.5zM403.3 324.9h1.7v1.7h-1.7zM383.5 344.8h1.7v1.7h-1.7zM435.3 346.1h1.2v1.2h-1.2zM421.8 344.1h1.3v1.3h-1.3zM434 342.8h1.2v1.2h-1.2zM426.2 341.7h1.7v1.7h-1.7zM423.3 343.6h1.3v1.3h-1.3zM424.9 312.5h1.2v1.2h-1.2zM425.6 310.9h1.5v1.5h-1.5zM431.7 315h1.4v1.4h-1.4zM431.3 314.8h1.3v1.3h-1.3zM438 323.8h1.8v1.8h-1.8zM403.2 312.3h1.5v1.5h-1.5zM420.7 324.2h1.5v1.5h-1.5zM433.8 318.3h1.2v1.2h-1.2zM420.3 323.2h1.4v1.4h-1.4zM424.7 322.6h1.5v1.5h-1.5zM413.6 325.7h1.5v1.5h-1.5zM416.8 325.9h1.5v1.5h-1.5zM428.7 317.5h1.6v1.6h-1.6zM426.3 320.7h1.4v1.4h-1.4zM427.6 320.2h1.1v1.1h-1.1zM423.4 346h1.6v1.6h-1.6zM427.4 355h1.2v1.2h-1.2zM423.2 343.4h1.6v1.6h-1.6zM421.4 312.6h1.2v1.2h-1.2zM426.6 343.9h1.6v1.6h-1.6zM422.4 316.9h1.6v1.6h-1.6zM438.4 315h1.6v1.6h-1.6zM437.3 313.7h1.6v1.6h-1.6zM437.9 311.8h1.3v1.3h-1.3zM438.5 315.5h1.6v1.6h-1.6zM438.2 333.6h1.5v1.5h-1.5zM381.9 311h1.8v1.8h-1.8zM382.3 312.3h1.1v1.1h-1.1zM394.9 339.2h1.6v1.6h-1.6zM392.8 338.6h1.7v1.7h-1.7zM395.2 338.4h1.2v1.2h-1.2zM439.2 336.8h1.7v1.7h-1.7zM429.9 338.2h1.8v1.8h-1.8zM433 340.3h1.1v1.1h-1.1zM432.5 338.3h1.7v1.7h-1.7zM422.2 340.2h1.2v1.2h-1.2zM440.2 336.7h1.6v1.6h-1.6zM442.7 337.3h1.6v1.6h-1.6zM431.2 332.2h1.4v1.4h-1.4zM431.9 318.5h1.2v1.2h-1.2zM430.9 331h1.5v1.5h-1.5zM432.4 351.1h1.4v1.4h-1.4zM433.3 350.3h1.2v1.2h-1.2zM425.3 350.4h1.2v1.2h-1.2zM381.3 335.9h1.8v1.8h-1.8zM399 333.2h1.6v1.6h-1.6zM394.4 325.7h1.2v1.2h-1.2zM385 323.1h1.5v1.5h-1.5zM390.2 325.9h1.4v1.4h-1.4zM394.4 311.6h1.6v1.6h-1.6zM438.5 321h1.6v1.6h-1.6zM392.6 328.9h1.7v1.7h-1.7zM416.3 355.7h1.5v1.5h-1.5zM383.9 311.6h1.2v1.2h-1.2zM388.8 359h1.2v1.2h-1.2zM404 344.5h1.3v1.3h-1.3zM387.3 343.3h1.7v1.7h-1.7zM379.7 339.5h1.5v1.5h-1.5z" fill="#9050c4"/><g fill="#4a2296"><circle cx="385.5" cy="321.4" r="1.8"/><circle cx="409.5" cy="325.6" r="1.5"/><circle cx="433.4" cy="336.3" r="1.1"/><circle cx="439.5" cy="340.8" r="1.4"/><circle cx="411.5" cy="341.3" r="1.6"/><circle cx="440.6" cy="314.7" r="1.5"/></g></g>
<rect x="434.5" y="359" width="9" height="1" fill="#777"/>
<rect x="447.5" y="309.5" width="69" height="52" fill="#fcfcff" stroke="#c6c6c6" stroke-width="1"/>
<path d="M466.8 333.1h1v1h-1zM456.2 336.1h1v1h-1zM475.4 313.6h1v1h-1zM454.6 359.3h1v1h-1zM494.5 332.4h1v1h-1zM490.9 323.5h1v1h-1zM468.2 313.7h1v1h-1zM451.5 350.4h1v1h-1zM502.5 310.2h1v1h-1zM470.1 314.5h1v1h-1zM479.4 340.9h1v1h-1zM484.9 316.7h1v1h-1zM495.1 340.6h1v1h-1zM479.3 324.9h1v1h-1zM509.5 314.2h1v1h-1zM457.7 328.9h1v1h-1zM465.4 340.8h1v1h-1zM494.5 345.2h1v1h-1zM499.9 318.8h1v1h-1zM498 322.3h1v1h-1zM483.9 321.1h1v1h-1zM502.4 315.4h1v1h-1zM476.9 341.7h1v1h-1zM494.7 314.8h1v1h-1zM513.9 324.5h1v1h-1zM477.9 325.2h1v1h-1zM450.7 322.2h1v1h-1zM469.9 338.8h1v1h-1zM452.7 356.5h1v1h-1zM461.3 336.5h1v1h-1zM471.9 328h1v1h-1zM509 354.5h1v1h-1zM488.9 324h1v1h-1zM458.4 333.3h1v1h-1zM459.4 334.9h1v1h-1zM452.7 310.8h1v1h-1zM483.6 329.6h1v1h-1zM514.8 328.7h1v1h-1zM483.7 329.5h1v1h-1zM499.8 328.9h1v1h-1zM465.2 332.9h1v1h-1zM501.8 336.1h1v1h-1zM493.5 340.1h1v1h-1zM463.8 334.1h1v1h-1zM474.1 349.8h1v1h-1zM466 350.7h1v1h-1zM472 326.6h1v1h-1zM509.6 353.5h1v1h-1zM484.2 351.3h1v1h-1zM506.1 348.5h1v1h-1zM487.3 346.9h1v1h-1zM451.7 326.4h1v1h-1zM482.9 316.2h1v1h-1zM461.9 319h1v1h-1zM464.1 328.6h1v1h-1zM467.4 356.3h1v1h-1zM449.7 338.3h1v1h-1zM490.4 344.5h1v1h-1zM469.3 359.3h1v1h-1zM488.3 345.2h1v1h-1zM452.3 329.1h1v1h-1zM464.2 354h1v1h-1zM472.1 321.8h1v1h-1zM504.6 319.2h1v1h-1zM474.4 355.7h1v1h-1zM449.6 317.7h1v1h-1zM481.4 332.7h1v1h-1zM513.2 354.7h1v1h-1zM491.4 311.6h1v1h-1zM460.4 337.8h1v1h-1zM476.8 358.2h1v1h-1zM478.9 357.5h1v1h-1zM460.5 352.6h1v1h-1zM491.1 353.1h1v1h-1zM495.3 341.2h1v1h-1zM460.2 314.5h1v1h-1zM452.2 317.4h1v1h-1zM463.4 322h1v1h-1zM462.4 332.4h1v1h-1zM491.5 353.4h1v1h-1zM508.5 318.9h1v1h-1zM512.5 342.3h1v1h-1zM468.6 348.4h1v1h-1zM465.3 343.7h1v1h-1zM467.8 337.5h1v1h-1zM453.9 355.4h1v1h-1zM453.6 347.8h1v1h-1zM465.3 321.3h1v1h-1zM513.2 318.1h1v1h-1zM500.4 337h1v1h-1zM468 317h1v1h-1zM511.4 339.4h1v1h-1zM507 333h1v1h-1zM467.8 345.1h1v1h-1zM495.9 330.2h1v1h-1zM479.9 334.2h1v1h-1zM511.4 315.3h1v1h-1zM490.5 333.7h1v1h-1zM503.1 320.8h1v1h-1zM511.1 349.2h1v1h-1zM499.7 353.6h1v1h-1zM461.6 322.1h1v1h-1zM454.3 341.4h1v1h-1zM512.5 319.2h1v1h-1zM461.7 334.8h1v1h-1zM513.1 341.4h1v1h-1zM497.5 337.3h1v1h-1zM498.7 340.6h1v1h-1zM500.2 324.3h1v1h-1zM506.6 347.5h1v1h-1zM468.1 323.4h1v1h-1zM504.1 331.4h1v1h-1zM481.4 354h1v1h-1zM475.5 337.7h1v1h-1zM494.9 328.6h1v1h-1zM467.6 346.1h1v1h-1zM494.3 334.8h1v1h-1zM494.3 343.8h1v1h-1zM486.5 351h1v1h-1zM498.9 346.1h1v1h-1zM507.9 310h1v1h-1zM502.3 318.3h1v1h-1zM453 316.3h1v1h-1zM448.3 314.7h1v1h-1zM504.9 340.3h1v1h-1zM499.9 331h1v1h-1zM492.6 344.8h1v1h-1zM461.5 311.9h1v1h-1zM454.8 328h1v1h-1zM465 350h1v1h-1zM506.4 317.3h1v1h-1zM511.2 357.2h1v1h-1zM510.4 331.7h1v1h-1zM476.6 328.5h1v1h-1zM508.3 312.4h1v1h-1zM476.2 356.8h1v1h-1zM497.4 350.6h1v1h-1zM504.1 323.8h1v1h-1zM486.9 323.2h1v1h-1zM478.2 329.1h1v1h-1zM449.6 356.2h1v1h-1zM448.7 324.9h1v1h-1zM510.6 359.8h1v1h-1zM493 330.9h1v1h-1zM473.6 329.2h1v1h-1zM484.1 343.6h1v1h-1zM460.5 335.9h1v1h-1zM484.2 317.9h1v1h-1zM458.7 336h1v1h-1zM451.6 326.9h1v1h-1zM502.3 321.7h1v1h-1zM476.7 346.6h1v1h-1zM513 355.9h1v1h-1zM463 320.1h1v1h-1zM479 335.1h1v1h-1zM449.8 341.2h1v1h-1zM507.1 313.1h1v1h-1zM467.5 347.4h1v1h-1zM500.1 350h1v1h-1zM506.7 339.1h1v1h-1zM469.1 316.7h1v1h-1zM470.2 338.1h1v1h-1zM455.6 326.1h1v1h-1zM482.6 320h1v1h-1zM453.9 315.7h1v1h-1zM490.2 318.8h1v1h-1zM471.7 336.5h1v1h-1zM469.1 318.9h1v1h-1zM491.5 342.2h1v1h-1zM473.6 357.3h1v1h-1zM448.8 323.1h1v1h-1zM488.9 347.4h1v1h-1zM511.7 321.4h1v1h-1zM462.5 331.2h1v1h-1zM450.9 321.6h1v1h-1zM467.8 349.4h1v1h-1zM451.4 348.5h1v1h-1zM472.8 312.2h1v1h-1zM467.9 327h1v1h-1zM489.1 341.2h1v1h-1zM455.5 313.6h1v1h-1zM503.3 328.1h1v1h-1zM494.7 320.1h1v1h-1zM463.2 324.7h1v1h-1zM482.2 322.5h1v1h-1zM501 359.5h1v1h-1zM497.2 341h1v1h-1zM510.4 354.4h1v1h-1zM456.2 325.6h1v1h-1zM462.9 344.9h1v1h-1zM514.5 314.2h1v1h-1zM498.6 325.4h1v1h-1zM474.8 318.9h1v1h-1zM462.7 353.2h1v1h-1zM511.1 315.8h1v1h-1zM493.9 318.6h1v1h-1zM514.4 323.2h1v1h-1zM455.9 318.6h1v1h-1zM471.9 320.6h1v1h-1zM486.5 358.1h1v1h-1zM502.2 345.2h1v1h-1zM455.9 329h1v1h-1zM513.5 332.7h1v1h-1zM487.4 321.8h1v1h-1zM452.7 333.1h1v1h-1zM450.5 336.6h1v1h-1zM504.4 349.8h1v1h-1zM474.7 347.4h1v1h-1zM455.2 329.2h1v1h-1zM489.4 315h1v1h-1zM473.6 357.9h1v1h-1zM495.4 339.3h1v1h-1zM493.1 359.1h1v1h-1zM501.5 341.6h1v1h-1zM484.1 316.9h1v1h-1zM510.8 353.8h1v1h-1zM500.6 346.4h1v1h-1zM474.4 336.8h1v1h-1zM450.8 334.2h1v1h-1zM495 330.4h1v1h-1zM495.6 329.9h1v1h-1zM467.2 316.3h1v1h-1zM467.1 341.3h1v1h-1zM469.8 310.5h1v1h-1zM484.4 323.2h1v1h-1zM500.2 346.8h1v1h-1zM476.4 337.3h1v1h-1zM482.7 338.9h1v1h-1zM491.6 355.5h1v1h-1zM479.3 326.4h1v1h-1zM507.8 320h1v1h-1zM476.5 313h1v1h-1zM467 347h1v1h-1zM493.4 337.7h1v1h-1zM513.3 339.8h1v1h-1zM462.6 327.6h1v1h-1zM505.8 336.6h1v1h-1zM509.9 353.8h1v1h-1zM507.3 327.7h1v1h-1zM502.6 349.4h1v1h-1zM494 342.1h1v1h-1zM468.8 337.8h1v1h-1zM510.5 358.9h1v1h-1zM483.5 346.8h1v1h-1zM513 324.5h1v1h-1zM480.9 353.1h1v1h-1zM448.8 318.2h1v1h-1zM505.9 324.7h1v1h-1zM472.1 351.8h1v1h-1zM511.6 312.7h1v1h-1zM453.6 343.1h1v1h-1zM460.4 317.9h1v1h-1zM474.1 328.6h1v1h-1zM495.6 322.6h1v1h-1zM465.9 346.2h1v1h-1zM477.2 318.8h1v1h-1zM475.2 317.2h1v1h-1zM477.8 345.7h1v1h-1zM509.9 322.2h1v1h-1zM465.7 337.9h1v1h-1zM472 312h1v1h-1zM451.3 347.4h1v1h-1zM484.4 322.5h1v1h-1zM493.5 318.6h1v1h-1zM455.4 324.8h1v1h-1zM476.8 338h1v1h-1zM476.7 327.1h1v1h-1zM461.5 358.1h1v1h-1zM453.3 323.1h1v1h-1zM501 330h1v1h-1zM512.2 333.6h1v1h-1zM450.4 316.5h1v1h-1zM471.1 322.7h1v1h-1zM480.2 311.9h1v1h-1zM448.5 355.7h1v1h-1zM455.3 355.6h1v1h-1zM514.9 312.2h1v1h-1zM493.4 356.9h1v1h-1zM482.4 310.4h1v1h-1zM463.8 324.7h1v1h-1zM450.6 357.9h1v1h-1zM494.2 331.1h1v1h-1zM456.6 358.9h1v1h-1zM496.6 319.1h1v1h-1zM451.8 355.5h1v1h-1zM484 343.3h1v1h-1zM510.5 340h1v1h-1zM452.9 311.1h1v1h-1zM451 353.8h1v1h-1zM491.6 344.3h1v1h-1zM455.9 313.8h1v1h-1zM471.7 323.2h1v1h-1zM495 357.5h1v1h-1zM449.3 347.6h1v1h-1zM455.8 353.7h1v1h-1zM464 354.3h1v1h-1zM495.7 332.6h1v1h-1zM487.1 311.5h1v1h-1zM497.4 349.8h1v1h-1zM448.4 315h1v1h-1zM513.2 331h1v1h-1zM481.9 333.4h1v1h-1zM458.8 349.2h1v1h-1zM468.2 342.4h1v1h-1zM512.6 351.3h1v1h-1zM486.2 329.8h1v1h-1zM448.8 351.6h1v1h-1zM499.7 323.4h1v1h-1zM491.7 358.7h1v1h-1zM477.9 352.2h1v1h-1zM501.8 313.5h1v1h-1zM449.6 327.2h1v1h-1zM452.3 349.2h1v1h-1zM464.3 315.3h1v1h-1zM475.1 320.4h1v1h-1zM450.8 341.5h1v1h-1zM465.1 310.5h1v1h-1zM449.6 310.6h1v1h-1zM511.4 321h1v1h-1zM474 358h1v1h-1zM469.5 328.5h1v1h-1zM459.9 354.9h1v1h-1zM464.4 316.9h1v1h-1zM462.2 347.3h1v1h-1zM450.9 355.3h1v1h-1zM470.5 355.4h1v1h-1zM494 350.5h1v1h-1zM470.5 350h1v1h-1zM467.8 355.4h1v1h-1zM507.4 333.2h1v1h-1zM460.5 336.7h1v1h-1zM475 312.4h1v1h-1zM512.5 330.3h1v1h-1zM501.7 347.5h1v1h-1zM505.7 314.3h1v1h-1zM487.8 354.1h1v1h-1zM454.2 321.1h1v1h-1zM459.1 348.1h1v1h-1zM499.9 319.9h1v1h-1zM451.7 353.6h1v1h-1zM455.7 355.2h1v1h-1zM450.2 359.9h1v1h-1zM486.7 338.4h1v1h-1zM491.8 320.3h1v1h-1zM465.1 359.3h1v1h-1zM496.6 356.6h1v1h-1zM512.2 352.8h1v1h-1zM504.1 351h1v1h-1zM492.8 356h1v1h-1zM497.1 350.7h1v1h-1zM462.8 330.2h1v1h-1zM482.9 337.7h1v1h-1zM467.7 320.6h1v1h-1zM484.8 324.9h1v1h-1zM453.4 315.8h1v1h-1zM456.9 335.8h1v1h-1zM455.3 347.7h1v1h-1zM508.1 335.1h1v1h-1zM495.8 315.1h1v1h-1zM468 325.3h1v1h-1zM498.7 315.6h1v1h-1zM494.3 311.7h1v1h-1zM462.9 342.5h1v1h-1zM498.7 321.2h1v1h-1zM498.3 321.2h1v1h-1zM478.6 332.3h1v1h-1zM473.7 344.5h1v1h-1zM484.5 353.1h1v1h-1zM462 322.7h1v1h-1zM489.8 325.3h1v1h-1zM511.6 343.4h1v1h-1zM469.4 335.7h1v1h-1zM477 328.4h1v1h-1zM494.6 327.7h1v1h-1zM457.8 333.5h1v1h-1zM505.7 336.6h1v1h-1zM460 334h1v1h-1zM483.3 354.5h1v1h-1zM502.8 343.7h1v1h-1zM462.5 324.6h1v1h-1zM467.7 328.4h1v1h-1zM455.4 326.3h1v1h-1zM464.6 319.1h1v1h-1zM511.6 311.6h1v1h-1zM454.7 359h1v1h-1zM501.7 353h1v1h-1zM505.7 347.9h1v1h-1zM472.8 322.1h1v1h-1zM466.4 338.1h1v1h-1zM449.2 347.6h1v1h-1zM449.8 331.8h1v1h-1zM492 356.5h1v1h-1zM457.1 325h1v1h-1zM487.6 359.1h1v1h-1zM497.9 313h1v1h-1zM452.6 347.9h1v1h-1zM495 314.1h1v1h-1zM504.1 344.5h1v1h-1zM467.1 347h1v1h-1zM459.2 338.5h1v1h-1zM483.2 348.4h1v1h-1zM454.6 323.8h1v1h-1zM467.7 329h1v1h-1zM479.7 359.6h1v1h-1zM461.3 327.4h1v1h-1zM470.8 321.2h1v1h-1zM463.3 353h1v1h-1zM460.6 319.8h1v1h-1zM495.1 323.2h1v1h-1zM464.1 349.9h1v1h-1zM513.3 312.8h1v1h-1zM478.8 311.8h1v1h-1zM472.4 327.4h1v1h-1zM457.9 355.6h1v1h-1zM514.1 340.5h1v1h-1zM505.9 323.7h1v1h-1zM512.4 342.6h1v1h-1zM508.1 310.8h1v1h-1zM483.5 333.2h1v1h-1zM503.6 353h1v1h-1zM490.1 327.8h1v1h-1zM461.6 337.3h1v1h-1zM468.6 332.3h1v1h-1zM479.3 343.5h1v1h-1zM450.7 316.8h1v1h-1zM469.5 318.3h1v1h-1zM470.7 354.2h1v1h-1zM492 349.6h1v1h-1zM450.7 320.8h1v1h-1zM482.3 331.7h1v1h-1zM502.2 347.1h1v1h-1zM493.6 345.6h1v1h-1zM477.5 341.1h1v1h-1zM513.7 342.2h1v1h-1zM462.4 341.6h1v1h-1zM450.1 332.6h1v1h-1zM505.6 324.3h1v1h-1zM477 326.2h1v1h-1zM473 347.2h1v1h-1zM449.1 320h1v1h-1zM498.8 315.3h1v1h-1zM453.8 321.8h1v1h-1zM508.8 346.6h1v1h-1zM476.6 313.4h1v1h-1zM478.7 323.9h1v1h-1zM512.4 354.7h1v1h-1zM470.6 322.7h1v1h-1zM482.4 315.8h1v1h-1zM448.4 343.8h1v1h-1zM504.8 325.1h1v1h-1zM467.4 358.9h1v1h-1zM513.9 337.5h1v1h-1zM464.5 348.6h1v1h-1zM494.1 320.9h1v1h-1zM479 345.4h1v1h-1zM458.5 332.7h1v1h-1zM514.3 334.5h1v1h-1zM509.3 334.8h1v1h-1zM494.2 339.6h1v1h-1zM453.1 348.2h1v1h-1zM490.7 320.3h1v1h-1zM495.9 355.3h1v1h-1zM493.1 334.2h1v1h-1zM461.5 350.4h1v1h-1zM490.3 348.4h1v1h-1zM472.3 322.6h1v1h-1zM464.7 324.3h1v1h-1zM473.9 336.4h1v1h-1zM510.2 328.3h1v1h-1zM506.1 351.7h1v1h-1zM499.5 350.7h1v1h-1zM490.8 313h1v1h-1zM452.5 314.4h1v1h-1zM451.8 344.8h1v1h-1zM458.6 353.8h1v1h-1zM474.6 310.3h1v1h-1zM508.9 352.8h1v1h-1zM508.2 346h1v1h-1zM508.5 349.7h1v1h-1zM513.1 342h1v1h-1zM465.4 353.6h1v1h-1zM471.6 359.9h1v1h-1zM508.4 336.4h1v1h-1zM491.4 327h1v1h-1zM513.1 328.2h1v1h-1zM449.8 340.2h1v1h-1zM493 330.4h1v1h-1zM509 331.2h1v1h-1zM509.4 312.9h1v1h-1zM464.6 345.8h1v1h-1zM451.7 352h1v1h-1zM448.7 327.7h1v1h-1zM486 340.5h1v1h-1zM504.6 322.4h1v1h-1zM499.4 348.2h1v1h-1zM485.7 334.7h1v1h-1zM503.1 349h1v1h-1zM500.2 348.2h1v1h-1zM464.6 332.8h1v1h-1zM470.6 311.3h1v1h-1zM461.9 317.2h1v1h-1zM453.2 350.3h1v1h-1zM502.6 348h1v1h-1zM491.2 355.9h1v1h-1zM478.1 333.8h1v1h-1zM492.4 338.5h1v1h-1zM478.6 324.9h1v1h-1zM471.9 312h1v1h-1zM512.5 359.5h1v1h-1zM497 312.9h1v1h-1zM450 323.8h1v1h-1zM453.7 318.6h1v1h-1zM474 349.1h1v1h-1zM508.4 358.7h1v1h-1zM475 334.8h1v1h-1zM514.3 355.7h1v1h-1zM473.3 354.9h1v1h-1zM491.7 320.6h1v1h-1zM513.3 352.5h1v1h-1zM504.1 312.1h1v1h-1z" fill="#c4ace0"/><g filter="url(#soft)"><path d="M472 348.6h1.1v1.1h-1.1zM479.3 347h1.6v1.6h-1.6zM479 346.7h1.2v1.2h-1.2zM449.4 348.6h1.4v1.4h-1.4zM488.9 328.4h1.2v1.2h-1.2zM457.1 353.2h1.7v1.7h-1.7zM466.8 354.3h1.6v1.6h-1.6zM457.4 358.6h1.2v1.2h-1.2zM497.7 327.8h1.2v1.2h-1.2zM508.3 322.2h1.1v1.1h-1.1zM495.7 312.6h1.5v1.5h-1.5zM484.4 316.3h1.3v1.3h-1.3zM487.2 315.7h1.8v1.8h-1.8zM484.3 318.2h1.6v1.6h-1.6zM467.1 346.3h1.5v1.5h-1.5zM460 340.6h1.6v1.6h-1.6zM472 350.1h1.4v1.4h-1.4zM466.5 344.9h1.7v1.7h-1.7zM500.4 315.7h1.5v1.5h-1.5zM473 336.8h1.4v1.4h-1.4zM470 342.5h1.7v1.7h-1.7zM509.5 340.8h1.5v1.5h-1.5zM496.6 315h1.5v1.5h-1.5zM462 310.9h1.6v1.6h-1.6zM481 355.5h1.2v1.2h-1.2zM471.1 333.8h1.4v1.4h-1.4zM465.5 324.6h1.7v1.7h-1.7zM491 331.3h1.5v1.5h-1.5zM464.9 353.5h1.3v1.3h-1.3z" fill="#7a3cb8"/><path d="M473.7 346.5h1.2v1.2h-1.2zM449.4 348.8h1.7v1.7h-1.7zM449.5 348.5h1.6v1.6h-1.6zM458.7 359.2h1.5v1.5h-1.5zM486 333.4h1.1v1.1h-1.1zM474.5 355.6h1.5v1.5h-1.5zM459.1 347.3h1.5v1.5h-1.5zM464.7 346.5h1.5v1.5h-1.5zM463.8 346.9h1.5v1.5h-1.5zM502.9 331.2h1.3v1.3h-1.3zM507.1 331.6h1.7v1.7h-1.7zM454.2 327.7h1.2v1.2h-1.2zM497.3 322.6h1.4v1.4h-1.4zM507.4 327.9h1.7v1.7h-1.7zM496.4 322h1.3v1.3h-1.3zM488.8 354.6h1.4v1.4h-1.4zM511.4 322.1h1.5v1.5h-1.5zM459.1 343.7h1.4v1.4h-1.4zM457.7 352.8h1.2v1.2h-1.2zM488.2 317.4h1.6v1.6h-1.6zM471.4 348.5h1.3v1.3h-1.3zM470.1 347.5h1.4v1.4h-1.4zM476.9 351.5h1.3v1.3h-1.3zM501.6 317.7h1.1v1.1h-1.1zM504.1 312.4h1.4v1.4h-1.4zM499.3 315.2h1.6v1.6h-1.6zM503.6 310.5h1.2v1.2h-1.2zM475.2 333.8h1.5v1.5h-1.5zM489.9 347.6h1.7v1.7h-1.7zM512.3 328.9h1.3v1.3h-1.3zM459.5 332.4h1.4v1.4h-1.4zM490.6 356.8h1.7v1.7h-1.7zM466.7 330.3h1.3v1.3h-1.3zM476.6 356h1.4v1.4h-1.4z" fill="#5c2aa4"/><path d="M472 348.7h1.4v1.4h-1.4zM474.2 347.5h1.5v1.5h-1.5zM479.8 347.6h1.1v1.1h-1.1zM480.3 346.6h1.6v1.6h-1.6zM455 354.9h1.3v1.3h-1.3zM455.4 355.4h1.2v1.2h-1.2zM455.1 354.8h1.3v1.3h-1.3zM456.1 353.8h1.2v1.2h-1.2zM455.4 355.5h1.5v1.5h-1.5zM483 340.8h1.4v1.4h-1.4zM466 356.6h1.1v1.1h-1.1zM509 332.5h1.4v1.4h-1.4zM504.5 332h1.5v1.5h-1.5zM507.5 335.2h1.6v1.6h-1.6zM509.5 331.1h1.4v1.4h-1.4zM461.6 325.6h1.2v1.2h-1.2zM489.2 316h1.1v1.1h-1.1zM492.9 319.4h1.8v1.8h-1.8zM488.3 316.2h1.5v1.5h-1.5zM498.1 310.4h1.4v1.4h-1.4zM506.6 319.1h1.3v1.3h-1.3zM457.3 346.2h1.3v1.3h-1.3zM459.3 352.3h1.7v1.7h-1.7zM514 315.7h1.3v1.3h-1.3zM488.5 316h1.1v1.1h-1.1zM488.8 316.1h1.6v1.6h-1.6zM501.6 312h1.5v1.5h-1.5zM473 347.8h1.8v1.8h-1.8zM490.3 349.2h1.7v1.7h-1.7zM501.3 331.7h1.5v1.5h-1.5zM502.5 329.7h1.6v1.6h-1.6zM501 347h1.2v1.2h-1.2zM481.5 349.6h1.3v1.3h-1.3zM452.3 354.7h1.6v1.6h-1.6zM458.7 358.6h1.2v1.2h-1.2z" fill="#9050c4"/><path d="M472.9 348.3h1.5v1.5h-1.5zM454.5 353.6h1.2v1.2h-1.2zM466.8 354h1.5v1.5h-1.5zM461.7 354.8h1.6v1.6h-1.6zM457.8 355.5h1.4v1.4h-1.4zM453.2 348.7h1.2v1.2h-1.2zM509.7 332.5h1.2v1.2h-1.2zM467 318.2h1.8v1.8h-1.8zM475.2 316.4h1.7v1.7h-1.7zM503.4 325h1.4v1.4h-1.4zM498.6 310.9h1.6v1.6h-1.6zM458.1 346h1.5v1.5h-1.5zM458 352.1h1.2v1.2h-1.2zM490 317.6h1.6v1.6h-1.6zM479.3 353.4h1.7v1.7h-1.7zM496.8 322.4h1.3v1.3h-1.3zM495.7 321.4h1.1v1.1h-1.1zM451.1 347.3h1.1v1.1h-1.1zM469.6 354.3h1.5v1.5h-1.5zM470.6 313.7h1.3v1.3h-1.3zM494.6 340.5h1.5v1.5h-1.5zM479.5 341.5h1.4v1.4h-1.4zM461.8 330h1.2v1.2h-1.2zM497 346.7h1.7v1.7h-1.7zM500.8 350.8h1.2v1.2h-1.2zM507.4 315.6h1.1v1.1h-1.1z" fill="#a46ad0"/><g fill="#4a2296"><circle cx="482.7" cy="354.8" r="1.3"/><circle cx="503.8" cy="328.3" r="1.4"/></g></g>
<rect x="505.5" y="359" width="9" height="1" fill="#777"/>
<rect x="517.5" y="309.5" width="69" height="52" fill="#fcfcff" stroke="#c6c6c6" stroke-width="1"/>
<path d="M570.3 340.3h1v1h-1zM565.6 314.5h1v1h-1zM560.3 359h1v1h-1zM546.4 315.6h1v1h-1zM582.2 343.8h1v1h-1zM531.2 343.6h1v1h-1zM584.5 320.5h1v1h-1zM575.2 344.9h1v1h-1zM532.9 319.2h1v1h-1zM581.9 327h1v1h-1zM547.6 342.8h1v1h-1zM547.5 310h1v1h-1zM535.4 333.6h1v1h-1zM569 340.3h1v1h-1zM546.8 319.6h1v1h-1zM570.6 319.4h1v1h-1zM566.5 334.9h1v1h-1zM555 329.2h1v1h-1zM531.6 318.5h1v1h-1zM561 323.8h1v1h-1zM519 319.6h1v1h-1zM579.7 345.6h1v1h-1zM556.9 330.1h1v1h-1zM572.8 323.2h1v1h-1zM560.4 310.6h1v1h-1zM561.3 358.6h1v1h-1zM565.5 313.8h1v1h-1zM557.6 325.8h1v1h-1zM579.6 310.9h1v1h-1zM518.8 314.8h1v1h-1zM540.7 354.1h1v1h-1zM555.8 343.1h1v1h-1zM521 318.7h1v1h-1zM543.5 341.4h1v1h-1zM568.4 338.7h1v1h-1zM536.7 319h1v1h-1zM546.2 322.8h1v1h-1zM568.9 354.7h1v1h-1zM571.9 316.1h1v1h-1zM570.7 310.8h1v1h-1zM527.1 345h1v1h-1zM539.6 351.4h1v1h-1zM564.1 342h1v1h-1zM558.2 355.7h1v1h-1zM573.8 311.5h1v1h-1zM584 331.6h1v1h-1zM537.8 353.5h1v1h-1zM579.6 348.6h1v1h-1zM566.2 310.5h1v1h-1zM536.5 350.6h1v1h-1zM584.9 324h1v1h-1zM569 315.7h1v1h-1zM568.1 327.8h1v1h-1zM523.2 318.8h1v1h-1zM556 333.6h1v1h-1zM564.1 327.4h1v1h-1zM558 328.8h1v1h-1zM569.5 310.3h1v1h-1zM557.5 339.4h1v1h-1zM521.9 348.2h1v1h-1zM560.5 357.5h1v1h-1zM530.5 331.2h1v1h-1zM576 357.2h1v1h-1zM563.9 327.6h1v1h-1zM567.8 332.7h1v1h-1zM553.8 343.9h1v1h-1zM580.3 310.4h1v1h-1zM564.9 355.7h1v1h-1zM543.1 321.8h1v1h-1zM556.2 311.5h1v1h-1zM571.9 334.4h1v1h-1zM562.5 349h1v1h-1zM519.3 319.5h1v1h-1zM546 340.5h1v1h-1zM542.6 323.9h1v1h-1zM519.7 331.4h1v1h-1zM581 311.5h1v1h-1zM558.2 320.2h1v1h-1zM583.1 350.3h1v1h-1zM532.5 358.6h1v1h-1zM538.8 344.5h1v1h-1zM535.5 324.6h1v1h-1zM522.3 324.7h1v1h-1zM545.5 311.4h1v1h-1zM518.8 310.5h1v1h-1zM577 330.7h1v1h-1zM579.4 334h1v1h-1zM555.5 328.6h1v1h-1zM570.3 327.2h1v1h-1zM572.1 329.6h1v1h-1zM526.5 330.9h1v1h-1zM520 329.4h1v1h-1zM543.9 345.4h1v1h-1zM584.9 317.8h1v1h-1zM558.8 351.9h1v1h-1zM563.7 321.7h1v1h-1zM546.1 356.6h1v1h-1zM552.9 343.8h1v1h-1zM538.7 349.6h1v1h-1zM555.7 349.3h1v1h-1zM536.8 321.6h1v1h-1zM530.1 339.8h1v1h-1zM523.3 327.3h1v1h-1zM562.5 323.9h1v1h-1zM535.4 321.7h1v1h-1zM549.7 347.8h1v1h-1zM535.7 336.6h1v1h-1zM584.4 335.1h1v1h-1zM536.1 351.9h1v1h-1zM578.6 347.3h1v1h-1zM539.8 335h1v1h-1zM539.5 356.1h1v1h-1zM518.7 353.7h1v1h-1zM535.5 317.3h1v1h-1zM574.3 349.6h1v1h-1zM520.7 324.7h1v1h-1zM524.3 347.4h1v1h-1zM578.6 324.6h1v1h-1zM541.8 311.7h1v1h-1zM524.7 313.2h1v1h-1zM566.5 320.4h1v1h-1zM549.2 323.5h1v1h-1zM552.8 337.7h1v1h-1zM541.2 323.2h1v1h-1zM578.8 356.8h1v1h-1zM549.3 329.9h1v1h-1zM552.7 337.1h1v1h-1zM582.2 331.7h1v1h-1zM541 357.5h1v1h-1zM561.5 316.7h1v1h-1zM554.7 350.9h1v1h-1zM555.8 323.2h1v1h-1zM542.3 346.5h1v1h-1zM555.3 310.8h1v1h-1zM539.5 347h1v1h-1zM522.1 330.1h1v1h-1zM555.4 325.1h1v1h-1zM564 313.3h1v1h-1zM580.6 347.8h1v1h-1zM576.7 336.1h1v1h-1zM549.2 325.4h1v1h-1zM524.7 335.9h1v1h-1zM538.8 353.2h1v1h-1zM529 312.1h1v1h-1zM570.8 359h1v1h-1zM546.9 353.5h1v1h-1zM566.1 349.3h1v1h-1zM557.5 335.3h1v1h-1zM560.2 349.8h1v1h-1zM581.7 354.5h1v1h-1zM567.1 356.5h1v1h-1zM519.8 310.5h1v1h-1zM535.1 310.3h1v1h-1zM555.5 319.9h1v1h-1zM576.8 314.8h1v1h-1zM569.8 313h1v1h-1zM580.9 328.2h1v1h-1zM536.7 326.1h1v1h-1zM565.2 353.3h1v1h-1zM562.9 317h1v1h-1zM543.1 334.4h1v1h-1zM536.3 356.7h1v1h-1zM565.4 345.1h1v1h-1zM534.6 336.5h1v1h-1zM533.6 326.1h1v1h-1zM570 322.5h1v1h-1zM563.7 322.1h1v1h-1zM571.1 318h1v1h-1zM577.2 312.6h1v1h-1zM532.3 342.9h1v1h-1zM542.1 318.2h1v1h-1zM528.1 336.1h1v1h-1zM538.6 355.1h1v1h-1zM568 334.5h1v1h-1zM561.7 321.2h1v1h-1zM546.9 350.4h1v1h-1zM578.5 317.4h1v1h-1zM539.5 348.7h1v1h-1zM537.2 326.9h1v1h-1zM524.6 351.8h1v1h-1zM525.4 343.7h1v1h-1zM524.2 323.2h1v1h-1zM580 316h1v1h-1zM570.6 320.9h1v1h-1zM573.1 326.7h1v1h-1zM554.1 350.7h1v1h-1zM524 329h1v1h-1zM578.5 323.2h1v1h-1zM556 355.6h1v1h-1zM565.2 355.9h1v1h-1zM555.1 343.5h1v1h-1zM522.3 357.2h1v1h-1zM546.2 336.7h1v1h-1zM553.7 325.7h1v1h-1zM582.2 342.9h1v1h-1zM553.5 317.6h1v1h-1zM567 342h1v1h-1zM581.5 338.5h1v1h-1zM540.1 341.3h1v1h-1zM527.9 321.4h1v1h-1zM556.4 342.2h1v1h-1zM582.7 311.9h1v1h-1zM576.7 330.3h1v1h-1zM520.1 329.9h1v1h-1zM558.1 328.4h1v1h-1zM541.5 350.8h1v1h-1zM546.5 357.9h1v1h-1zM535.3 314.9h1v1h-1zM550.4 346.5h1v1h-1zM541.5 322.2h1v1h-1zM555.7 351h1v1h-1zM556.6 340h1v1h-1zM544.5 342.7h1v1h-1zM568.9 313.9h1v1h-1zM583.5 331.6h1v1h-1zM548.7 334.7h1v1h-1zM567.1 333.5h1v1h-1zM558.6 324.9h1v1h-1zM535 335.7h1v1h-1zM526 312.3h1v1h-1zM565.6 317.2h1v1h-1zM559.8 356h1v1h-1zM573.8 315.3h1v1h-1zM549.2 337.6h1v1h-1zM541.1 328.4h1v1h-1zM582.1 317.9h1v1h-1zM574.9 349.1h1v1h-1zM530.3 328.5h1v1h-1zM553.2 355.2h1v1h-1zM518 354.8h1v1h-1zM521.8 325h1v1h-1zM518.2 358.5h1v1h-1zM582.4 331.7h1v1h-1zM565.5 312.5h1v1h-1zM555.1 327.4h1v1h-1zM554.9 325.4h1v1h-1zM562.6 334h1v1h-1zM551 334.6h1v1h-1zM541.4 335.5h1v1h-1zM566.1 341.6h1v1h-1zM527 343h1v1h-1zM531.3 342.4h1v1h-1zM567.6 342.1h1v1h-1zM571 330.4h1v1h-1zM584.4 354.3h1v1h-1zM553.5 325.1h1v1h-1zM580.7 338.8h1v1h-1zM527.8 330.5h1v1h-1zM525.9 334.5h1v1h-1zM535.6 317.7h1v1h-1zM568.9 325.6h1v1h-1zM582.1 344.5h1v1h-1zM543.9 324.6h1v1h-1zM527.5 327.6h1v1h-1zM555.1 310.7h1v1h-1zM556.4 320.6h1v1h-1zM529.1 317.7h1v1h-1zM537.4 340.4h1v1h-1zM535.3 343.6h1v1h-1zM551.3 327.7h1v1h-1zM582.4 356.7h1v1h-1zM531.6 333.3h1v1h-1zM555.4 327.4h1v1h-1zM542.7 358h1v1h-1zM557.7 356.8h1v1h-1zM541.3 342.4h1v1h-1zM554.6 349.7h1v1h-1zM532.7 311.9h1v1h-1zM572.3 354.5h1v1h-1zM521 353.9h1v1h-1zM550.1 313.8h1v1h-1zM534.8 318.5h1v1h-1zM553 359.8h1v1h-1zM544.5 344.4h1v1h-1zM538.1 316.7h1v1h-1zM583.6 354.3h1v1h-1zM524.6 322.6h1v1h-1zM554.4 347.3h1v1h-1zM538.6 312.5h1v1h-1zM536 338.2h1v1h-1zM575.7 311h1v1h-1zM565.7 340.4h1v1h-1zM540.1 333.3h1v1h-1zM520.6 334.5h1v1h-1zM569.5 325.6h1v1h-1zM555.6 343.7h1v1h-1zM525.9 331h1v1h-1zM537.5 321.6h1v1h-1zM558 312.3h1v1h-1zM552.4 346.2h1v1h-1zM532.4 311.7h1v1h-1zM575.9 352.7h1v1h-1zM540.7 352.5h1v1h-1zM533.2 320h1v1h-1zM565.7 316.5h1v1h-1zM541.9 342.4h1v1h-1zM535.5 310.3h1v1h-1zM579 326.2h1v1h-1zM535.8 336h1v1h-1zM573.8 330.8h1v1h-1zM553.5 349.2h1v1h-1zM582.9 341.2h1v1h-1zM572.7 321.7h1v1h-1zM533.3 315.2h1v1h-1zM536.2 321.7h1v1h-1zM572.6 357.7h1v1h-1zM525.4 342.8h1v1h-1zM584.3 356.2h1v1h-1zM532.1 339.6h1v1h-1zM564 310.9h1v1h-1zM523.4 346.1h1v1h-1zM552.2 343.9h1v1h-1zM525.4 319.8h1v1h-1zM570.5 329.3h1v1h-1zM550.8 348.4h1v1h-1zM523.6 315.8h1v1h-1zM551.6 342.6h1v1h-1zM540.1 335.8h1v1h-1zM568.4 353.3h1v1h-1zM534.8 346.7h1v1h-1zM532.4 333.8h1v1h-1zM567.4 326h1v1h-1zM559.4 323.5h1v1h-1zM559.7 334.5h1v1h-1zM546.3 316.4h1v1h-1zM544 349.4h1v1h-1zM529.5 349h1v1h-1zM573.2 356h1v1h-1zM553 335.6h1v1h-1zM550.2 337.7h1v1h-1zM576.4 338h1v1h-1zM555.9 349h1v1h-1zM538.6 311.4h1v1h-1zM580.3 329.2h1v1h-1zM550.8 333.6h1v1h-1zM565.4 320.8h1v1h-1zM535.2 321.8h1v1h-1zM566.3 331.6h1v1h-1zM584.8 354.2h1v1h-1zM582.8 320.4h1v1h-1zM531.8 348.1h1v1h-1zM561.4 325.3h1v1h-1zM544 310.8h1v1h-1zM583.5 315.4h1v1h-1zM571.8 333h1v1h-1zM566.5 313.8h1v1h-1zM553.2 333.5h1v1h-1zM564.9 317h1v1h-1zM580.8 359.6h1v1h-1zM532 314.3h1v1h-1zM554 332h1v1h-1zM561.1 359.2h1v1h-1zM566.3 346.1h1v1h-1zM578.1 340.6h1v1h-1zM540.2 317h1v1h-1zM536.1 340.1h1v1h-1zM533.8 323.2h1v1h-1zM564.3 350.2h1v1h-1zM537.5 356.9h1v1h-1zM569.8 327.6h1v1h-1zM549.3 316.7h1v1h-1zM570.5 355.7h1v1h-1zM571.2 314.6h1v1h-1zM581.1 327.4h1v1h-1zM557.8 324.6h1v1h-1zM540.9 325.2h1v1h-1zM518.7 337.9h1v1h-1zM551 342.7h1v1h-1zM544 358.9h1v1h-1zM566.1 347.5h1v1h-1zM537.7 356h1v1h-1zM569 345.4h1v1h-1zM521.3 336.6h1v1h-1zM519.9 318.3h1v1h-1zM564.3 329h1v1h-1zM572.8 351h1v1h-1zM521.5 321.4h1v1h-1zM564.1 332.6h1v1h-1zM576.5 353.5h1v1h-1zM572.2 344.2h1v1h-1zM534.6 328.9h1v1h-1zM518.5 344.6h1v1h-1zM522.9 327.9h1v1h-1zM518.6 312.7h1v1h-1zM569.1 324h1v1h-1zM558.6 328.4h1v1h-1zM552.5 358.2h1v1h-1zM541.5 328.6h1v1h-1zM578 330.9h1v1h-1zM571.1 351.2h1v1h-1zM532.4 322h1v1h-1zM569.6 345.1h1v1h-1zM542.1 321.6h1v1h-1zM531.7 348.6h1v1h-1zM565.7 326.2h1v1h-1zM529.3 345.2h1v1h-1zM549.2 339.7h1v1h-1zM541.2 324.6h1v1h-1zM540.6 336.2h1v1h-1zM561.1 311.1h1v1h-1zM521 333.1h1v1h-1zM571.2 333.5h1v1h-1zM582.4 319.9h1v1h-1zM550.3 358h1v1h-1zM575.9 315.3h1v1h-1zM548.9 323.1h1v1h-1zM539.4 357.2h1v1h-1zM555.4 333h1v1h-1zM539 352.4h1v1h-1zM552.6 356.8h1v1h-1zM572 356.2h1v1h-1zM523 332h1v1h-1zM572.7 332.1h1v1h-1zM579.6 332.2h1v1h-1zM569.1 313h1v1h-1zM567.5 331.7h1v1h-1zM581.2 346.8h1v1h-1zM569.7 343.8h1v1h-1zM584.6 313.9h1v1h-1zM566.5 353.9h1v1h-1zM524.6 336.4h1v1h-1zM539.7 341h1v1h-1zM532 330.3h1v1h-1zM557.9 316.7h1v1h-1zM568 317.1h1v1h-1zM518.9 337.9h1v1h-1zM551.5 335.4h1v1h-1zM536.5 344.7h1v1h-1zM578 350.3h1v1h-1zM567.1 310h1v1h-1zM575 314.9h1v1h-1zM577.6 329.9h1v1h-1zM560.6 316.9h1v1h-1zM520.9 339.1h1v1h-1zM547.9 326.2h1v1h-1zM559.3 346h1v1h-1zM535.1 351.3h1v1h-1zM549.9 359.1h1v1h-1zM561.4 354.6h1v1h-1zM530.9 332.8h1v1h-1zM519.4 336.3h1v1h-1zM572.6 352.4h1v1h-1zM572.5 339.6h1v1h-1zM580.3 343.5h1v1h-1zM553.3 319.4h1v1h-1zM564.5 357.2h1v1h-1zM524.7 328.4h1v1h-1zM574.6 340.2h1v1h-1zM556.6 334.6h1v1h-1zM518.8 341.3h1v1h-1zM555.8 351h1v1h-1zM556.8 340.3h1v1h-1zM559.4 319h1v1h-1zM547.5 348.4h1v1h-1zM527.9 352.5h1v1h-1zM576.8 325.6h1v1h-1zM539 357.2h1v1h-1zM535.5 344.7h1v1h-1zM564.9 359.2h1v1h-1zM536.5 345.4h1v1h-1zM581.6 357.3h1v1h-1zM548.2 333.2h1v1h-1zM568.4 343.7h1v1h-1zM549.5 348h1v1h-1zM536.2 337.7h1v1h-1zM558.4 352.1h1v1h-1zM579.7 314.1h1v1h-1zM524.3 334.9h1v1h-1zM543.2 314.1h1v1h-1zM531.7 346.8h1v1h-1zM528.9 347.8h1v1h-1zM564.7 310.1h1v1h-1zM556 322.1h1v1h-1zM518.1 323h1v1h-1zM581.1 355.8h1v1h-1zM567.3 318.2h1v1h-1zM535.3 315.6h1v1h-1zM578.1 314.8h1v1h-1zM555.8 337.8h1v1h-1zM585 354.4h1v1h-1zM522.2 357.4h1v1h-1zM547.9 346.6h1v1h-1zM572.7 312h1v1h-1zM528.1 322.9h1v1h-1zM559.4 340.9h1v1h-1zM566.3 325.2h1v1h-1zM560.5 328.2h1v1h-1zM560 343.7h1v1h-1zM550.4 335.6h1v1h-1zM526.6 312.6h1v1h-1zM561.8 351.4h1v1h-1zM569.1 327.6h1v1h-1zM568.2 344.8h1v1h-1zM534.8 344.1h1v1h-1zM544.9 339.7h1v1h-1zM584 348.5h1v1h-1zM582.4 338.9h1v1h-1zM542.6 353h1v1h-1zM531.7 311.3h1v1h-1zM576.7 321.1h1v1h-1z" fill="#c4ace0"/><g filter="url(#soft)"><path d="M578.2 337.8h1.4v1.4h-1.4zM581.1 343.9h1.8v1.8h-1.8zM583.5 346.8h1.5v1.5h-1.5zM569.3 316.7h1.4v1.4h-1.4zM563.7 320.7h1.4v1.4h-1.4zM571.7 314.4h1.7v1.7h-1.7zM574.5 318.8h1.3v1.3h-1.3zM561 310.6h1.1v1.1h-1.1zM569 316.5h1.4v1.4h-1.4zM563.5 350.4h1.5v1.5h-1.5zM551.4 319.5h1.5v1.5h-1.5zM527.4 314h1.1v1.1h-1.1zM564.5 314.5h1.4v1.4h-1.4zM529 355.3h1.4v1.4h-1.4zM573.5 357.4h1.8v1.8h-1.8zM569 355.2h1.4v1.4h-1.4zM527 351.5h1.7v1.7h-1.7zM550.1 345.6h1.5v1.5h-1.5zM529 358.1h1.7v1.7h-1.7zM552.8 337.5h1.3v1.3h-1.3z" fill="#7a3cb8"/><path d="M582.8 343.2h1.8v1.8h-1.8zM527.7 321.4h1.6v1.6h-1.6zM536.6 320.2h1.2v1.2h-1.2zM571.9 314.6h1.4v1.4h-1.4zM571.3 316.2h1.7v1.7h-1.7zM521.5 314.8h1.8v1.8h-1.8zM539.5 357.5h1.3v1.3h-1.3zM580.4 352.5h1.3v1.3h-1.3zM525.8 331.4h1.2v1.2h-1.2zM548.7 344.5h1.2v1.2h-1.2zM524.5 346h1.2v1.2h-1.2zM538.8 316.5h1.6v1.6h-1.6zM571.2 347.6h1.1v1.1h-1.1zM552.1 328.4h1.3v1.3h-1.3zM527.5 345.2h1.3v1.3h-1.3z" fill="#5c2aa4"/><path d="M570.9 315.7h1.6v1.6h-1.6zM565.7 319.1h1.6v1.6h-1.6zM552.4 316h1.7v1.7h-1.7zM545.1 316.8h1.5v1.5h-1.5zM570.1 313.6h1.7v1.7h-1.7zM577.4 324.8h1.4v1.4h-1.4zM570.8 314.7h1.7v1.7h-1.7zM554.8 310.5h1.7v1.7h-1.7zM534.2 329h1.5v1.5h-1.5zM581.1 335.3h1.4v1.4h-1.4zM532.7 351h1.5v1.5h-1.5zM558.7 348.8h1.5v1.5h-1.5zM573.6 356.7h1.2v1.2h-1.2zM556.4 332.3h1.1v1.1h-1.1zM530.3 334h1.6v1.6h-1.6z" fill="#a46ad0"/><path d="M566.4 318.4h1.8v1.8h-1.8zM549.5 316h1.4v1.4h-1.4zM569.4 313h1.7v1.7h-1.7zM580.5 351.1h1.2v1.2h-1.2zM577.5 347.2h1.2v1.2h-1.2zM573.9 330.6h1.7v1.7h-1.7zM528.7 319.7h1.4v1.4h-1.4zM560.7 325.6h1.7v1.7h-1.7zM584.2 332h1.4v1.4h-1.4zM520.4 356.2h1.4v1.4h-1.4zM578.3 317.9h1.7v1.7h-1.7zM538.2 337h1.4v1.4h-1.4zM584.3 342.8h1.1v1.1h-1.1zM541.8 318.9h1.4v1.4h-1.4zM530.4 330.8h1.5v1.5h-1.5zM558.3 332.1h1.5v1.5h-1.5zM579 311.8h1.6v1.6h-1.6z" fill="#9050c4"/><g fill="#4a2296"><circle cx="544.1" cy="314.8" r="1.4"/></g></g>
<rect x="575.5" y="359" width="9" height="1" fill="#777"/>
<path d="M271.5 273V344H343.4" stroke="#000" stroke-width="1" fill="none"/>
<line x1="269" y1="344" x2="271.5" y2="344" stroke="#000" stroke-width="0.8"/>
<text x="268.5" y="345.8" font-size="5.6" text-anchor="end" fill="#333" >0</text>
<line x1="269" y1="320.5" x2="271.5" y2="320.5" stroke="#000" stroke-width="0.8"/>
<text x="268.5" y="322.3" font-size="5.6" text-anchor="end" fill="#333" >200</text>
<line x1="269" y1="297" x2="271.5" y2="297" stroke="#000" stroke-width="0.8"/>
<text x="268.5" y="298.8" font-size="5.6" text-anchor="end" fill="#333" >400</text>
<line x1="269" y1="273.5" x2="271.5" y2="273.5" stroke="#000" stroke-width="0.8"/>
<text x="268.5" y="275.3" font-size="5.6" text-anchor="end" fill="#333" >600</text>
<line x1="279" y1="282.55" x2="279" y2="279.61" stroke="#000" stroke-width="0.8"/>
<line x1="277.2" y1="279.61" x2="280.8" y2="279.61" stroke="#000" stroke-width="0.8"/>
<rect x="275.55" y="283" width="6.9" height="61" fill="#000" stroke="#000" stroke-width="0.9"/>
<line x1="289.1" y1="319.32" x2="289.1" y2="317.56" stroke="#000" stroke-width="0.8"/>
<line x1="287.3" y1="317.56" x2="290.9" y2="317.56" stroke="#000" stroke-width="0.8"/>
<rect x="285.75" y="319.77" width="6.7" height="24.23" fill="#a0a0a0" stroke="#000" stroke-width="0.9"/>
<path d="M289.1 298.7L289.1 302M290.53 299.52L287.67 301.17M290.53 301.17L287.67 299.52" stroke="#222" stroke-width="0.7" fill="none"/>
<path d="M289.1 303.27L289.1 306.57M290.53 304.09L287.67 305.74M290.53 305.74L287.67 304.09" stroke="#222" stroke-width="0.7" fill="none"/>
<path d="M289.1 307.83L289.1 311.13M290.53 308.66L287.67 310.31M290.53 310.31L287.67 308.66" stroke="#222" stroke-width="0.7" fill="none"/>
<path d="M289.1 312.4L289.1 315.7M290.53 313.22L287.67 314.87M290.53 314.87L287.67 313.22" stroke="#222" stroke-width="0.7" fill="none"/>
<line x1="299.15" y1="332.72" x2="299.15" y2="331.31" stroke="#000" stroke-width="0.8"/>
<line x1="297.35" y1="331.31" x2="300.95" y2="331.31" stroke="#000" stroke-width="0.8"/>
<rect x="295.75" y="333.17" width="6.8" height="10.83" fill="#777" stroke="#000" stroke-width="0.9"/>
<path d="M299.15 313.6L299.15 316.9M300.58 314.43L297.72 316.07M300.58 316.07L297.72 314.43" stroke="#222" stroke-width="0.7" fill="none"/>
<path d="M299.15 317.8L299.15 321.1M300.58 318.62L297.72 320.27M300.58 320.27L297.72 318.62" stroke="#222" stroke-width="0.7" fill="none"/>
<path d="M299.15 322L299.15 325.3M300.58 322.82L297.72 324.47M300.58 324.47L297.72 322.82" stroke="#222" stroke-width="0.7" fill="none"/>
<path d="M299.15 326.2L299.15 329.5M300.58 327.02L297.72 328.67M300.58 328.67L297.72 327.02" stroke="#222" stroke-width="0.7" fill="none"/>
<line x1="315.95" y1="285.25" x2="315.95" y2="283.84" stroke="#000" stroke-width="0.8"/>
<line x1="314.15" y1="283.84" x2="317.75" y2="283.84" stroke="#000" stroke-width="0.8"/>
<rect x="312.75" y="285.7" width="6.4" height="58.3" fill="#000" stroke="#000" stroke-width="0.9"/>
<line x1="326.1" y1="320.03" x2="326.1" y2="318.27" stroke="#000" stroke-width="0.8"/>
<line x1="324.3" y1="318.27" x2="327.9" y2="318.27" stroke="#000" stroke-width="0.8"/>
<rect x="322.85" y="320.48" width="6.5" height="23.52" fill="#a0a0a0" stroke="#000" stroke-width="0.9"/>
<path d="M326.1 303.6L326.1 306.9M327.53 304.43L324.67 306.07M327.53 306.07L324.67 304.43" stroke="#222" stroke-width="0.7" fill="none"/>
<path d="M326.1 307.65L326.1 310.95M327.53 308.48L324.67 310.12M327.53 310.12L324.67 308.48" stroke="#222" stroke-width="0.7" fill="none"/>
<path d="M326.1 311.7L326.1 315M327.53 312.52L324.67 314.17M327.53 314.17L324.67 312.52" stroke="#222" stroke-width="0.7" fill="none"/>
<line x1="336.15" y1="332.25" x2="336.15" y2="331.07" stroke="#000" stroke-width="0.8"/>
<line x1="334.35" y1="331.07" x2="337.95" y2="331.07" stroke="#000" stroke-width="0.8"/>
<rect x="333.05" y="332.7" width="6.2" height="11.3" fill="#777" stroke="#000" stroke-width="0.9"/>
<path d="M336.15 311.5L336.15 314.8M337.58 312.32L334.72 313.97M337.58 313.97L334.72 312.32" stroke="#222" stroke-width="0.7" fill="none"/>
<path d="M336.15 315.9L336.15 319.2M337.58 316.72L334.72 318.37M337.58 318.37L334.72 316.72" stroke="#222" stroke-width="0.7" fill="none"/>
<path d="M336.15 320.3L336.15 323.6M337.58 321.12L334.72 322.77M337.58 322.77L334.72 321.12" stroke="#222" stroke-width="0.7" fill="none"/>
<path d="M336.15 324.7L336.15 328M337.58 325.52L334.72 327.17M337.58 327.17L334.72 325.52" stroke="#222" stroke-width="0.7" fill="none"/>
<line x1="289" y1="344" x2="289" y2="346" stroke="#000" stroke-width="0.7"/>
<line x1="326" y1="344" x2="326" y2="346" stroke="#000" stroke-width="0.7"/>
<rect x="329.2" y="272.8" width="9" height="3.7" fill="#000" stroke="#000" stroke-width="0.7"/>
<rect x="329.2" y="282.6" width="9" height="3.7" fill="#a0a0a0" stroke="#000" stroke-width="0.7"/>
<rect x="329.2" y="292" width="9" height="3.7" fill="#777" stroke="#000" stroke-width="0.7"/>
<text x="341.8" y="276.1" font-size="5.6" text-anchor="start" fill="#333" >0</text>
<text x="341.8" y="285.9" font-size="5.6" text-anchor="start" fill="#333" >0.5μM</text>
<text x="341.8" y="295.3" font-size="5.6" text-anchor="start" fill="#333" >1μM</text>
<text x="289" y="351.8" font-size="5.6" text-anchor="middle" fill="#333" >Migration</text>
<text x="326" y="351.8" font-size="5.6" text-anchor="middle" fill="#333" >Invasion</text>
<path d="M598.5 275.6V337.6H657" stroke="#000" stroke-width="1" fill="none"/>
<line x1="596" y1="337.6" x2="598.5" y2="337.6" stroke="#000" stroke-width="0.8"/>
<text x="595.5" y="339.4" font-size="5.0" text-anchor="end" fill="#333" >0</text>
<line x1="596" y1="317.1" x2="598.5" y2="317.1" stroke="#000" stroke-width="0.8"/>
<text x="595.5" y="318.9" font-size="5.0" text-anchor="end" fill="#333" >200</text>
<line x1="596" y1="296.6" x2="598.5" y2="296.6" stroke="#000" stroke-width="0.8"/>
<text x="595.5" y="298.4" font-size="5.0" text-anchor="end" fill="#333" >400</text>
<line x1="596" y1="276.1" x2="598.5" y2="276.1" stroke="#000" stroke-width="0.8"/>
<text x="595.5" y="277.9" font-size="5.0" text-anchor="end" fill="#333" >600</text>
<line x1="604.15" y1="288.4" x2="604.15" y2="285.33" stroke="#000" stroke-width="0.8"/>
<line x1="602.35" y1="285.33" x2="605.95" y2="285.33" stroke="#000" stroke-width="0.8"/>
<rect x="601.25" y="288.85" width="5.8" height="48.75" fill="#000" stroke="#000" stroke-width="0.9"/>
<line x1="612.55" y1="321.2" x2="612.55" y2="319.66" stroke="#000" stroke-width="0.8"/>
<line x1="610.75" y1="319.66" x2="614.35" y2="319.66" stroke="#000" stroke-width="0.8"/>
<rect x="609.75" y="321.65" width="5.6" height="15.95" fill="#a0a0a0" stroke="#000" stroke-width="0.9"/>
<path d="M612.55 301.5L612.55 304.8M613.98 302.32L611.12 303.97M613.98 303.97L611.12 302.32" stroke="#222" stroke-width="0.7" fill="none"/>
<path d="M612.55 305.9L612.55 309.2M613.98 306.72L611.12 308.37M613.98 308.37L611.12 306.72" stroke="#222" stroke-width="0.7" fill="none"/>
<path d="M612.55 310.3L612.55 313.6M613.98 311.12L611.12 312.77M613.98 312.77L611.12 311.12" stroke="#222" stroke-width="0.7" fill="none"/>
<path d="M612.55 314.7L612.55 318M613.98 315.52L611.12 317.17M613.98 317.17L611.12 315.52" stroke="#222" stroke-width="0.7" fill="none"/>
<line x1="621.4" y1="329.91" x2="621.4" y2="329.09" stroke="#000" stroke-width="0.8"/>
<line x1="619.6" y1="329.09" x2="623.2" y2="329.09" stroke="#000" stroke-width="0.8"/>
<rect x="618.55" y="330.36" width="5.7" height="7.24" fill="#777" stroke="#000" stroke-width="0.9"/>
<path d="M621.4 312.5L621.4 315.8M622.83 313.32L619.97 314.97M622.83 314.97L619.97 313.32" stroke="#222" stroke-width="0.7" fill="none"/>
<path d="M621.4 316.57L621.4 319.87M622.83 317.39L619.97 319.04M622.83 319.04L619.97 317.39" stroke="#222" stroke-width="0.7" fill="none"/>
<path d="M621.4 320.63L621.4 323.93M622.83 321.46L619.97 323.11M622.83 323.11L619.97 321.46" stroke="#222" stroke-width="0.7" fill="none"/>
<path d="M621.4 324.7L621.4 328M622.83 325.52L619.97 327.17M622.83 327.17L619.97 325.52" stroke="#222" stroke-width="0.7" fill="none"/>
<line x1="635.65" y1="290.76" x2="635.65" y2="287.17" stroke="#000" stroke-width="0.8"/>
<line x1="633.85" y1="287.17" x2="637.45" y2="287.17" stroke="#000" stroke-width="0.8"/>
<rect x="632.85" y="291.21" width="5.6" height="46.39" fill="#000" stroke="#000" stroke-width="0.9"/>
<line x1="644.4" y1="324.07" x2="644.4" y2="322.53" stroke="#000" stroke-width="0.8"/>
<line x1="642.6" y1="322.53" x2="646.2" y2="322.53" stroke="#000" stroke-width="0.8"/>
<rect x="641.65" y="324.52" width="5.5" height="13.08" fill="#a0a0a0" stroke="#000" stroke-width="0.9"/>
<path d="M644.4 303.5L644.4 306.8M645.83 304.32L642.97 305.97M645.83 305.97L642.97 304.32" stroke="#222" stroke-width="0.7" fill="none"/>
<path d="M644.4 307.9L644.4 311.2M645.83 308.72L642.97 310.37M645.83 310.37L642.97 308.72" stroke="#222" stroke-width="0.7" fill="none"/>
<path d="M644.4 312.3L644.4 315.6M645.83 313.12L642.97 314.77M645.83 314.77L642.97 313.12" stroke="#222" stroke-width="0.7" fill="none"/>
<path d="M644.4 316.7L644.4 320M645.83 317.52L642.97 319.17M645.83 319.17L642.97 317.52" stroke="#222" stroke-width="0.7" fill="none"/>
<line x1="653.05" y1="331.04" x2="653.05" y2="330.43" stroke="#000" stroke-width="0.8"/>
<line x1="651.25" y1="330.43" x2="654.85" y2="330.43" stroke="#000" stroke-width="0.8"/>
<rect x="650.65" y="331.49" width="4.8" height="6.11" fill="#777" stroke="#000" stroke-width="0.9"/>
<path d="M653.05 313.5L653.05 316.8M654.48 314.32L651.62 315.97M654.48 315.97L651.62 314.32" stroke="#222" stroke-width="0.7" fill="none"/>
<path d="M653.05 317.9L653.05 321.2M654.48 318.72L651.62 320.37M654.48 320.37L651.62 318.72" stroke="#222" stroke-width="0.7" fill="none"/>
<path d="M653.05 322.3L653.05 325.6M654.48 323.12L651.62 324.77M654.48 324.77L651.62 323.12" stroke="#222" stroke-width="0.7" fill="none"/>
<path d="M653.05 326.7L653.05 330M654.48 327.52L651.62 329.17M654.48 329.17L651.62 327.52" stroke="#222" stroke-width="0.7" fill="none"/>
<line x1="612.5" y1="337.6" x2="612.5" y2="339.6" stroke="#000" stroke-width="0.7"/>
<line x1="644.5" y1="337.6" x2="644.5" y2="339.6" stroke="#000" stroke-width="0.7"/>
<rect x="645.1" y="276.2" width="6.9" height="3.7" fill="#000" stroke="#000" stroke-width="0.7"/>
<rect x="645.1" y="284.7" width="6.9" height="3.7" fill="#a0a0a0" stroke="#000" stroke-width="0.7"/>
<rect x="645.1" y="293.2" width="6.9" height="3.7" fill="#777" stroke="#000" stroke-width="0.7"/>
<text x="655.6" y="279.5" font-size="5.0" text-anchor="start" fill="#333" >0</text>
<text x="655.6" y="288" font-size="5.0" text-anchor="start" fill="#333" >0.5μM</text>
<text x="655.6" y="296.5" font-size="5.0" text-anchor="start" fill="#333" >1μM</text>
<text x="612.5" y="345" font-size="5.0" text-anchor="middle" fill="#333" >Migration</text>
<text x="644.5" y="345" font-size="5.0" text-anchor="middle" fill="#333" >Invasion</text>
<text x="13.4" y="400.8" font-size="11.5" text-anchor="start" fill="#111" >Atovaquone</text>
<text x="24.3" y="414.2" font-size="11.5" text-anchor="start" fill="#111" >(mg/kg)</text>
<text x="82.4" y="396.4" font-size="11.5" text-anchor="start" fill="#111" >Oral administration group</text>
<text x="225" y="396.4" font-size="11.5" text-anchor="start" fill="#111" >CT26</text>
<line x1="73.5" y1="407.5" x2="246.8" y2="407.5" stroke="#333" stroke-width="1.0"/>
<text x="104" y="419.8" font-size="11.5" text-anchor="middle" fill="#111" >0</text>
<text x="218.5" y="419.8" font-size="11.5" text-anchor="middle" fill="#111" >50</text>
<path d="M354.6 442.7V588.5H452.1" stroke="#000" stroke-width="1.8" fill="none"/>
<line x1="348.6" y1="588.5" x2="354.6" y2="588.5" stroke="#000" stroke-width="1.6"/>
<text x="347.4" y="592.2" font-size="10.6" text-anchor="end" fill="#111" >0</text>
<line x1="348.6" y1="559.5" x2="354.6" y2="559.5" stroke="#000" stroke-width="1.6"/>
<text x="347.4" y="563.2" font-size="10.6" text-anchor="end" fill="#111" >20</text>
<line x1="348.6" y1="530.5" x2="354.6" y2="530.5" stroke="#000" stroke-width="1.6"/>
<text x="347.4" y="534.2" font-size="10.6" text-anchor="end" fill="#111" >40</text>
<line x1="348.6" y1="501.5" x2="354.6" y2="501.5" stroke="#000" stroke-width="1.6"/>
<text x="347.4" y="505.2" font-size="10.6" text-anchor="end" fill="#111" >60</text>
<line x1="348.6" y1="472.5" x2="354.6" y2="472.5" stroke="#000" stroke-width="1.6"/>
<text x="347.4" y="476.2" font-size="10.6" text-anchor="end" fill="#111" >80</text>
<line x1="348.6" y1="443.5" x2="354.6" y2="443.5" stroke="#000" stroke-width="1.6"/>
<text x="347.4" y="447.2" font-size="10.6" text-anchor="end" fill="#111" >100</text>
<line x1="382.5" y1="493.2" x2="382.5" y2="471.6" stroke="#333" stroke-width="1.1"/>
<line x1="376" y1="471.6" x2="389" y2="471.6" stroke="#333" stroke-width="1.1"/>
<rect x="369.95" y="494.15" width="25.1" height="94.35" fill="#000" stroke="#000" stroke-width="1.9"/>
<line x1="382.5" y1="588.5" x2="382.5" y2="595" stroke="#000" stroke-width="1.6"/>
<line x1="423.9" y1="566.9" x2="423.9" y2="557.9" stroke="#333" stroke-width="1.1"/>
<line x1="417.4" y1="557.9" x2="430.4" y2="557.9" stroke="#333" stroke-width="1.1"/>
<rect x="410.95" y="567.85" width="25.9" height="20.65" fill="#a2a2a2" stroke="#000" stroke-width="1.9"/>
<line x1="423.9" y1="588.5" x2="423.9" y2="595" stroke="#000" stroke-width="1.6"/>
<path d="M423.9 547.8L423.9 551M425.29 548.6L422.51 550.2M425.29 550.2L422.51 548.6" stroke="#222" stroke-width="0.75" fill="none"/>
<path d="M423.9 551.4L423.9 554.6M425.29 552.2L422.51 553.8M425.29 553.8L422.51 552.2" stroke="#222" stroke-width="0.75" fill="none"/>
<text transform="translate(325.2 527.5) rotate(-90)" font-size="11.5" text-anchor="middle" fill="#111">The number of tumor</text>
<text transform="translate(386.7 603.7) rotate(-45)" font-size="11.5" text-anchor="end" fill="#111">Control</text>
<text transform="translate(427.9 603.6) rotate(-45)" font-size="11.5" text-anchor="end" fill="#111">Atovaquone</text>
<path d="M543.2 444.2V590.2H643" stroke="#000" stroke-width="1.8" fill="none"/>
<line x1="537.2" y1="590.2" x2="543.2" y2="590.2" stroke="#000" stroke-width="1.6"/>
<text x="536" y="593.9" font-size="10.6" text-anchor="end" fill="#111" >0.0</text>
<line x1="537.2" y1="553.9" x2="543.2" y2="553.9" stroke="#000" stroke-width="1.6"/>
<text x="536" y="557.6" font-size="10.6" text-anchor="end" fill="#111" >0.2</text>
<line x1="537.2" y1="517.6" x2="543.2" y2="517.6" stroke="#000" stroke-width="1.6"/>
<text x="536" y="521.3" font-size="10.6" text-anchor="end" fill="#111" >0.4</text>
<line x1="537.2" y1="481.3" x2="543.2" y2="481.3" stroke="#000" stroke-width="1.6"/>
<text x="536" y="485" font-size="10.6" text-anchor="end" fill="#111" >0.6</text>
<line x1="537.2" y1="445" x2="543.2" y2="445" stroke="#000" stroke-width="1.6"/>
<text x="536" y="448.7" font-size="10.6" text-anchor="end" fill="#111" >0.8</text>
<line x1="571.65" y1="478.2" x2="571.65" y2="462.5" stroke="#333" stroke-width="1.1"/>
<line x1="565.15" y1="462.5" x2="578.15" y2="462.5" stroke="#333" stroke-width="1.1"/>
<rect x="558.55" y="479.15" width="26.2" height="111.05" fill="#000" stroke="#000" stroke-width="1.9"/>
<line x1="571.65" y1="590.2" x2="571.65" y2="596.7" stroke="#000" stroke-width="1.6"/>
<line x1="614.2" y1="549.4" x2="614.2" y2="540.3" stroke="#333" stroke-width="1.1"/>
<line x1="607.7" y1="540.3" x2="620.7" y2="540.3" stroke="#333" stroke-width="1.1"/>
<rect x="601.35" y="550.35" width="25.7" height="39.85" fill="#a2a2a2" stroke="#000" stroke-width="1.9"/>
<line x1="614.2" y1="590.2" x2="614.2" y2="596.7" stroke="#000" stroke-width="1.6"/>
<path d="M614.2 530L614.2 533.2M615.59 530.8L612.81 532.4M615.59 532.4L612.81 530.8" stroke="#222" stroke-width="0.75" fill="none"/>
<path d="M614.2 533.8L614.2 537M615.59 534.6L612.81 536.2M615.59 536.2L612.81 534.6" stroke="#222" stroke-width="0.75" fill="none"/>
<text transform="translate(510 519.1) rotate(-90)" font-size="11.5" text-anchor="middle" fill="#111">The weight of lung (g)</text>
<text transform="translate(575.6 606.4) rotate(-45)" font-size="11.5" text-anchor="end" fill="#111">Control</text>
<text transform="translate(618.2 606.6) rotate(-45)" font-size="11.5" text-anchor="end" fill="#111">Atovaquone</text></svg></body></html>
